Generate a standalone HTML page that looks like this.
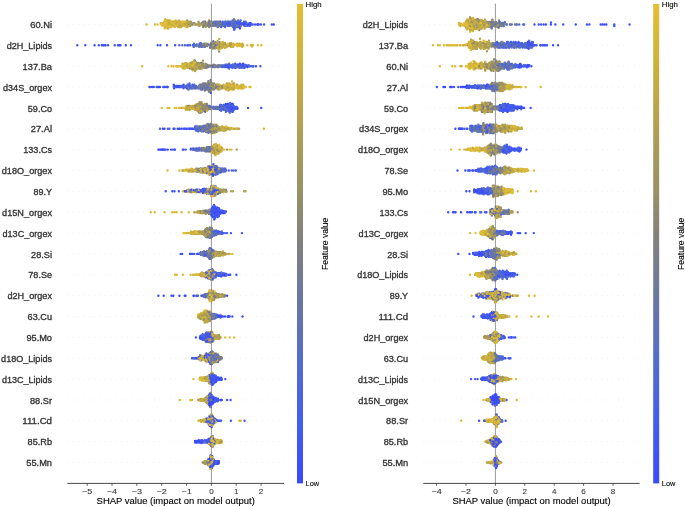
<!DOCTYPE html>
<html><head><meta charset="utf-8"><style>
html,body{margin:0;padding:0;background:#fff;width:685px;height:507px;overflow:hidden}
svg{display:block;will-change:transform}
text{font-family:"Liberation Sans",sans-serif}
</style></head><body>
<svg width="685" height="507" viewBox="0 0 685 507">
<line x1="67.4" x2="284.0" y1="24.46" y2="24.46" stroke="#d6d6d6" stroke-width="0.5" stroke-dasharray="0.8 4.6"/>
<line x1="67.4" x2="284.0" y1="45.32" y2="45.32" stroke="#d6d6d6" stroke-width="0.5" stroke-dasharray="0.8 4.6"/>
<line x1="67.4" x2="284.0" y1="66.18" y2="66.18" stroke="#d6d6d6" stroke-width="0.5" stroke-dasharray="0.8 4.6"/>
<line x1="67.4" x2="284.0" y1="87.04" y2="87.04" stroke="#d6d6d6" stroke-width="0.5" stroke-dasharray="0.8 4.6"/>
<line x1="67.4" x2="284.0" y1="107.90" y2="107.90" stroke="#d6d6d6" stroke-width="0.5" stroke-dasharray="0.8 4.6"/>
<line x1="67.4" x2="284.0" y1="128.77" y2="128.77" stroke="#d6d6d6" stroke-width="0.5" stroke-dasharray="0.8 4.6"/>
<line x1="67.4" x2="284.0" y1="149.63" y2="149.63" stroke="#d6d6d6" stroke-width="0.5" stroke-dasharray="0.8 4.6"/>
<line x1="67.4" x2="284.0" y1="170.49" y2="170.49" stroke="#d6d6d6" stroke-width="0.5" stroke-dasharray="0.8 4.6"/>
<line x1="67.4" x2="284.0" y1="191.35" y2="191.35" stroke="#d6d6d6" stroke-width="0.5" stroke-dasharray="0.8 4.6"/>
<line x1="67.4" x2="284.0" y1="212.21" y2="212.21" stroke="#d6d6d6" stroke-width="0.5" stroke-dasharray="0.8 4.6"/>
<line x1="67.4" x2="284.0" y1="233.07" y2="233.07" stroke="#d6d6d6" stroke-width="0.5" stroke-dasharray="0.8 4.6"/>
<line x1="67.4" x2="284.0" y1="253.93" y2="253.93" stroke="#d6d6d6" stroke-width="0.5" stroke-dasharray="0.8 4.6"/>
<line x1="67.4" x2="284.0" y1="274.79" y2="274.79" stroke="#d6d6d6" stroke-width="0.5" stroke-dasharray="0.8 4.6"/>
<line x1="67.4" x2="284.0" y1="295.65" y2="295.65" stroke="#d6d6d6" stroke-width="0.5" stroke-dasharray="0.8 4.6"/>
<line x1="67.4" x2="284.0" y1="316.51" y2="316.51" stroke="#d6d6d6" stroke-width="0.5" stroke-dasharray="0.8 4.6"/>
<line x1="67.4" x2="284.0" y1="337.37" y2="337.37" stroke="#d6d6d6" stroke-width="0.5" stroke-dasharray="0.8 4.6"/>
<line x1="67.4" x2="284.0" y1="358.23" y2="358.23" stroke="#d6d6d6" stroke-width="0.5" stroke-dasharray="0.8 4.6"/>
<line x1="67.4" x2="284.0" y1="379.10" y2="379.10" stroke="#d6d6d6" stroke-width="0.5" stroke-dasharray="0.8 4.6"/>
<line x1="67.4" x2="284.0" y1="399.96" y2="399.96" stroke="#d6d6d6" stroke-width="0.5" stroke-dasharray="0.8 4.6"/>
<line x1="67.4" x2="284.0" y1="420.82" y2="420.82" stroke="#d6d6d6" stroke-width="0.5" stroke-dasharray="0.8 4.6"/>
<line x1="67.4" x2="284.0" y1="441.68" y2="441.68" stroke="#d6d6d6" stroke-width="0.5" stroke-dasharray="0.8 4.6"/>
<line x1="67.4" x2="284.0" y1="462.54" y2="462.54" stroke="#d6d6d6" stroke-width="0.5" stroke-dasharray="0.8 4.6"/>
<line x1="211.4" x2="211.4" y1="3.6" y2="483.4" stroke="#999999" stroke-width="1"/>
<g stroke-width="2.4" stroke-linecap="round" fill="none">
<path stroke="#6c77a0" d="M234.0 19.2h0M214.1 21.8h0M234.2 28.4h0"/>
<path stroke="#e4be32" d="M167.9 24.5h0M184.3 24.5h0M169.1 20.5h0M173.8 21.8h0M170.6 25.8h0M163.9 23.1h0M162.0 25.8h0"/>
<path stroke="#dcba35" d="M164.7 28.4h0M177.8 27.1h0M181.8 23.1h0M170.5 24.5h0M168.4 28.4h0M184.9 21.8h0M186.1 21.8h0M187.3 24.5h0M162.4 23.1h0"/>
<path stroke="#747b92" d="M214.5 25.8h0M212.4 24.5h0M218.5 23.1h0M220.4 21.8h0M209.1 21.8h0M212.2 23.1h0M228.4 23.1h0M217.1 24.5h0"/>
<path stroke="#6474ae" d="M218.1 25.8h0M219.8 25.8h0M231.6 25.8h0"/>
<path stroke="#a09560" d="M192.7 24.5h0M187.2 20.5h0M190.8 21.8h0M198.7 23.1h0M204.4 23.1h0"/>
<path stroke="#ccb13d" d="M167.4 27.1h0M165.3 19.2h0M166.4 24.5h0M171.4 27.1h0M178.2 25.8h0M183.0 21.8h0M187.7 23.1h0M160.7 23.1h0"/>
<path stroke="#4862e4" d="M239.9 25.8h0M233.7 25.8h0M216.1 25.8h0M237.5 24.5h0M234.2 29.7h0"/>
<path stroke="#5c70bc" d="M229.4 21.8h0M222.7 25.8h0M217.9 27.1h0M219.1 24.5h0"/>
<path stroke="#979067" d="M178.4 24.5h0"/>
<path stroke="#3a4afa" d="M257.9 24.5h0M249.7 25.8h0"/>
<path stroke="#4e68d7" d="M229.9 25.8h0M240.2 27.1h0M230.9 21.8h0M233.5 27.1h0"/>
<path stroke="#b29f52" d="M189.9 23.1h0M167.9 21.8h0M186.9 23.1h0M182.8 25.8h0"/>
<path stroke="#a99a59" d="M189.1 23.1h0M205.6 27.1h0M179.4 27.1h0M207.1 23.1h0"/>
<path stroke="#d4b639" d="M174.8 23.1h0"/>
<path stroke="#4057f4" d="M238.5 27.1h0M221.8 24.5h0"/>
<path stroke="#546dca" d="M223.1 25.8h0M217.8 24.5h0M225.1 25.8h0M223.8 24.5h0M228.2 24.5h0M237.0 25.8h0M220.8 24.5h0"/>
<path stroke="#7c7e85" d="M216.9 23.1h0M215.4 23.1h0M213.6 25.8h0M221.2 25.8h0M208.7 21.8h0"/>
<path stroke="#c3ab44" d="M204.5 21.8h0M167.8 20.5h0M178.8 20.5h0M176.2 24.5h0M179.5 23.1h0M182.1 25.8h0"/>
<path stroke="#435df0" d="M239.6 21.8h0M243.1 24.5h0M248.4 24.5h0M241.2 24.5h0M237.3 27.1h0M244.4 25.8h0M244.2 21.8h0M221.2 27.1h0"/>
<path stroke="#bba54b" d="M172.8 21.8h0M187.8 21.8h0"/>
<path stroke="#8e8970" d="M185.3 24.5h0M193.4 23.1h0M209.1 20.5h0M205.2 25.8h0M207.3 25.8h0"/>
<path stroke="#858379" d="M212.7 25.8h0M205.4 23.1h0"/>
<path stroke="#5c70bc" d="M228.7 25.8h0M238.4 21.8h0M217.8 27.1h0M227.7 25.8h0"/>
<path stroke="#4e68d7" d="M250.9 23.1h0M214.5 23.1h0M234.5 21.8h0M231.1 23.1h0M244.4 23.1h0M238.4 25.8h0"/>
<path stroke="#4862e4" d="M252.8 24.5h0M239.6 23.1h0M220.0 21.8h0M245.6 21.8h0M246.0 24.5h0M234.1 20.5h0"/>
<path stroke="#bba54b" d="M171.3 24.5h0M177.1 21.8h0M194.6 24.5h0M173.8 25.8h0M185.0 25.8h0"/>
<path stroke="#546dca" d="M231.8 24.5h0M228.3 21.8h0M232.7 20.5h0M213.4 23.1h0M215.5 24.5h0M233.5 21.8h0"/>
<path stroke="#435df0" d="M242.3 23.1h0M225.1 27.1h0M235.4 27.1h0M234.7 28.4h0M240.6 20.5h0M229.6 23.1h0"/>
<path stroke="#8e8970" d="M210.2 21.8h0M200.2 24.5h0"/>
<path stroke="#b29f52" d="M180.0 21.8h0"/>
<path stroke="#a99a59" d="M196.8 24.5h0"/>
<path stroke="#7c7e85" d="M225.7 21.8h0M205.3 21.8h0"/>
<path stroke="#d4b639" d="M164.4 21.8h0M175.7 20.5h0M177.5 23.1h0M161.9 24.5h0M184.1 25.8h0M167.1 23.1h0"/>
<path stroke="#a09560" d="M206.7 24.5h0"/>
<path stroke="#dcba35" d="M146.6 24.5h0M178.6 21.8h0M182.2 21.8h0M170.6 27.1h0M167.8 25.8h0M171.0 25.8h0"/>
<path stroke="#6474ae" d="M238.6 24.5h0M218.2 21.8h0M225.8 23.1h0M234.9 24.5h0M215.6 21.8h0"/>
<path stroke="#ccb13d" d="M174.8 21.8h0M168.7 27.1h0M174.7 27.1h0M175.0 25.8h0M166.9 20.5h0M164.9 27.1h0M187.5 27.1h0M179.3 25.8h0"/>
<path stroke="#c3ab44" d="M188.4 24.5h0M164.6 21.8h0M172.0 24.5h0"/>
<path stroke="#6c77a0" d="M201.6 23.1h0"/>
<path stroke="#3a4afa" d="M244.5 23.1h0M249.8 23.1h0M227.4 24.5h0M243.8 24.5h0"/>
<path stroke="#858379" d="M203.2 24.5h0M204.5 24.5h0M209.1 27.1h0M210.8 25.8h0M217.8 25.8h0"/>
<path stroke="#979067" d="M206.1 24.5h0M189.2 24.5h0M209.5 24.5h0M203.0 27.1h0"/>
<path stroke="#e4be32" d="M174.3 23.1h0M169.1 23.1h0M161.4 24.5h0M172.0 23.1h0M183.0 23.1h0M164.6 23.1h0M166.3 21.8h0M165.1 20.5h0M170.5 20.5h0M180.9 24.5h0"/>
<path stroke="#4057f4" d="M240.8 23.1h0M222.3 23.1h0M222.7 21.8h0M233.0 27.1h0"/>
<path stroke="#3d50f7" d="M264.1 24.5h0M260.9 24.5h0M236.3 21.8h0M257.2 24.5h0M245.3 24.5h0"/>
<path stroke="#747b92" d="M209.3 25.8h0M219.8 23.1h0M236.1 24.5h0M226.3 24.5h0"/>
<path stroke="#a99a59" d="M189.7 25.8h0M195.8 24.5h0M180.6 25.8h0M199.6 25.8h0M198.5 21.8h0M198.8 23.1h0"/>
<path stroke="#3a4afa" d="M237.3 23.1h0M255.0 24.5h0M248.1 24.5h0M240.0 24.5h0M250.0 24.5h0"/>
<path stroke="#858379" d="M232.1 24.5h0M203.1 25.8h0M208.5 25.8h0M208.8 23.1h0M191.8 24.5h0M203.2 21.8h0"/>
<path stroke="#7c7e85" d="M208.5 24.5h0M234.7 20.5h0"/>
<path stroke="#979067" d="M198.6 24.5h0M203.8 23.1h0"/>
<path stroke="#6474ae" d="M233.0 25.8h0M216.9 21.8h0M215.1 24.5h0"/>
<path stroke="#3d50f7" d="M273.8 24.5h0M258.7 24.5h0M271.8 24.5h0M240.0 28.4h0M249.5 23.1h0"/>
<path stroke="#747b92" d="M221.6 23.1h0M236.4 25.8h0M210.6 24.5h0M213.4 24.5h0M211.6 21.8h0"/>
<path stroke="#5c70bc" d="M232.0 21.8h0M232.6 23.1h0M209.4 23.1h0"/>
<path stroke="#6c77a0" d="M240.9 25.8h0M236.6 27.1h0M238.2 20.5h0"/>
<path stroke="#4057f4" d="M251.4 24.5h0M249.2 25.8h0M247.0 25.8h0M227.2 23.1h0M230.1 24.5h0"/>
<path stroke="#d4b639" d="M186.2 25.8h0M169.7 23.1h0M180.8 23.1h0M166.8 27.1h0M176.9 25.8h0M182.5 24.5h0"/>
<path stroke="#435df0" d="M236.7 23.1h0M238.9 23.1h0M225.3 24.5h0"/>
<path stroke="#bba54b" d="M186.7 27.1h0M198.7 25.8h0M189.2 21.8h0M201.5 24.5h0"/>
<path stroke="#ccb13d" d="M173.3 25.8h0M178.3 21.8h0M181.3 24.5h0M164.3 25.8h0M167.5 28.4h0M174.5 24.5h0"/>
<path stroke="#4862e4" d="M234.8 23.1h0M237.5 21.8h0M234.9 25.8h0"/>
<path stroke="#4e68d7" d="M227.5 21.8h0M225.0 23.1h0M233.7 24.5h0M223.0 23.1h0M233.7 23.1h0M246.7 23.1h0"/>
<path stroke="#a09560" d="M190.5 25.8h0M194.4 23.1h0M191.3 23.1h0M210.6 23.1h0"/>
<path stroke="#dcba35" d="M174.7 24.5h0M166.7 23.1h0M154.8 24.5h0M169.5 21.8h0M166.6 25.8h0M177.2 24.5h0M172.8 23.1h0M185.3 23.1h0M157.5 24.5h0"/>
<path stroke="#b29f52" d="M187.6 25.8h0M199.3 24.5h0M184.4 23.1h0M190.1 24.5h0M168.8 24.5h0"/>
<path stroke="#8e8970" d="M204.6 25.8h0"/>
<path stroke="#e4be32" d="M185.8 27.1h0M164.8 24.5h0M183.9 21.8h0M165.4 25.8h0M164.2 24.5h0M171.1 21.8h0M169.0 25.8h0"/>
<path stroke="#546dca" d="M225.6 25.8h0M245.6 25.8h0M225.2 21.8h0"/>
<path stroke="#c3ab44" d="M181.2 27.1h0M169.6 21.8h0M176.3 23.1h0M179.7 27.1h0"/>
<path stroke="#435df0" d="M201.4 46.9h0"/>
<path stroke="#747b92" d="M201.3 43.7h0M217.2 42.9h0M208.7 44.5h0"/>
<path stroke="#858379" d="M215.4 42.1h0M210.8 45.3h0M219.8 44.5h0M210.0 47.7h0M212.8 48.5h0M215.2 42.9h0"/>
<path stroke="#a99a59" d="M217.6 41.3h0M215.4 43.7h0M220.1 47.7h0"/>
<path stroke="#e4be32" d="M235.4 44.5h0M253.0 45.3h0M234.0 45.3h0M236.5 44.5h0"/>
<path stroke="#c3ab44" d="M227.8 44.5h0M216.2 44.5h0M232.0 44.5h0M225.7 44.5h0M224.9 42.9h0"/>
<path stroke="#546dca" d="M188.1 45.3h0M194.5 46.1h0M194.2 45.3h0"/>
<path stroke="#b29f52" d="M230.5 44.5h0"/>
<path stroke="#4e68d7" d="M200.7 42.9h0"/>
<path stroke="#d4b639" d="M226.1 46.9h0M221.7 46.9h0M224.5 47.7h0"/>
<path stroke="#ccb13d" d="M238.1 45.3h0M229.0 46.1h0M219.6 42.9h0M230.9 42.9h0M217.6 42.1h0"/>
<path stroke="#6474ae" d="M205.0 46.1h0M206.0 45.3h0M195.2 45.3h0"/>
<path stroke="#bba54b" d="M218.6 44.5h0M221.7 46.1h0M227.5 46.1h0M242.3 43.7h0M215.7 46.9h0"/>
<path stroke="#5c70bc" d="M194.1 44.5h0M182.3 45.3h0"/>
<path stroke="#3d50f7" d="M118.0 45.3h0M77.3 45.3h0M94.6 45.3h0M131.0 45.3h0M85.3 45.3h0M125.8 45.3h0"/>
<path stroke="#dcba35" d="M247.4 45.3h0M218.4 47.7h0M239.0 43.7h0"/>
<path stroke="#7c7e85" d="M219.7 42.1h0M217.1 46.1h0"/>
<path stroke="#6c77a0" d="M206.6 43.7h0M204.2 45.3h0"/>
<path stroke="#8e8970" d="M216.1 47.7h0M211.3 42.9h0M206.0 44.5h0"/>
<path stroke="#4862e4" d="M190.0 45.3h0M202.5 46.1h0M184.9 45.3h0M179.3 45.3h0"/>
<path stroke="#a99a59" d="M205.5 43.7h0M229.5 43.7h0M228.8 44.5h0"/>
<path stroke="#e4be32" d="M238.9 44.5h0M221.3 44.5h0"/>
<path stroke="#7c7e85" d="M222.4 43.7h0M204.1 44.5h0"/>
<path stroke="#b29f52" d="M226.0 46.1h0M218.5 48.5h0M219.2 45.3h0"/>
<path stroke="#858379" d="M211.2 46.1h0"/>
<path stroke="#6c77a0" d="M207.9 44.5h0"/>
<path stroke="#bba54b" d="M243.2 45.3h0M223.0 42.9h0M222.8 42.1h0M218.4 43.7h0M223.3 44.5h0M226.2 45.3h0M219.2 39.1h0"/>
<path stroke="#979067" d="M206.7 45.3h0"/>
<path stroke="#4e68d7" d="M199.5 43.7h0M196.8 46.1h0M194.0 43.7h0"/>
<path stroke="#3d50f7" d="M101.9 45.3h0M104.2 45.3h0M98.8 45.3h0M105.5 45.3h0M175.2 45.3h0M108.0 45.3h0M167.0 45.3h0M103.0 45.3h0M157.7 45.3h0M120.5 45.3h0"/>
<path stroke="#546dca" d="M211.0 43.7h0"/>
<path stroke="#5c70bc" d="M200.5 44.5h0"/>
<path stroke="#d4b639" d="M212.3 46.1h0M225.5 47.7h0M239.6 43.7h0M241.5 44.5h0"/>
<path stroke="#747b92" d="M207.3 46.1h0"/>
<path stroke="#8e8970" d="M213.5 43.7h0"/>
<path stroke="#435df0" d="M187.3 45.3h0M192.8 45.3h0"/>
<path stroke="#ccb13d" d="M226.6 46.9h0M231.0 46.9h0"/>
<path stroke="#dcba35" d="M221.2 42.9h0M261.4 45.3h0M252.0 46.5h0"/>
<path stroke="#a09560" d="M212.1 45.3h0M213.9 43.7h0M212.7 44.5h0"/>
<path stroke="#c3ab44" d="M231.5 46.1h0M233.4 43.7h0M251.0 45.3h0M237.1 43.7h0M223.7 46.1h0M233.3 46.1h0M226.9 45.3h0"/>
<path stroke="#a09560" d="M212.5 42.1h0M215.0 48.5h0M225.0 43.7h0M212.6 42.9h0"/>
<path stroke="#7c7e85" d="M209.8 45.3h0M203.9 43.7h0"/>
<path stroke="#979067" d="M219.2 51.5h0M217.7 45.3h0M219.6 46.9h0"/>
<path stroke="#a99a59" d="M230.4 43.7h0M212.2 46.9h0M219.2 46.1h0M219.4 43.7h0M218.3 46.1h0"/>
<path stroke="#b29f52" d="M230.1 45.3h0M217.6 42.9h0M213.8 46.9h0M229.4 45.3h0M223.4 45.3h0"/>
<path stroke="#8e8970" d="M215.1 45.3h0M214.9 46.1h0M201.0 46.1h0M202.4 44.5h0M214.3 47.7h0"/>
<path stroke="#6474ae" d="M215.6 45.3h0M201.3 45.3h0M204.8 46.9h0"/>
<path stroke="#546dca" d="M200.0 46.1h0M196.8 44.5h0M193.7 46.9h0M199.1 45.3h0"/>
<path stroke="#3d50f7" d="M119.3 45.3h0M160.4 45.3h0M114.7 45.3h0"/>
<path stroke="#e4be32" d="M227.8 43.7h0M242.2 46.9h0M238.0 46.1h0"/>
<path stroke="#858379" d="M213.0 47.7h0M214.1 44.5h0"/>
<path stroke="#c3ab44" d="M218.7 49.3h0M242.1 46.1h0M242.8 45.3h0M222.2 45.3h0"/>
<path stroke="#bba54b" d="M223.6 43.7h0M222.1 47.7h0"/>
<path stroke="#dcba35" d="M240.2 44.5h0M237.1 45.3h0M258.1 45.3h0M239.9 46.1h0"/>
<path stroke="#6c77a0" d="M213.3 41.3h0M210.5 46.9h0M202.6 46.9h0M199.1 46.9h0"/>
<path stroke="#ccb13d" d="M224.2 46.9h0M217.5 46.9h0M232.9 46.9h0"/>
<path stroke="#d4b639" d="M222.6 42.1h0M232.9 45.3h0M237.4 46.1h0M241.0 45.3h0M220.9 48.5h0"/>
<path stroke="#747b92" d="M211.3 44.5h0"/>
<path stroke="#546dca" d="M246.0 66.2h0"/>
<path stroke="#c3ab44" d="M194.4 63.8h0M193.0 65.4h0M196.0 63.0h0M187.9 64.6h0"/>
<path stroke="#3a4afa" d="M235.5 64.6h0M244.5 67.8h0M246.3 66.2h0M243.0 63.8h0M243.9 67.0h0M234.8 67.0h0M246.4 65.4h0M252.8 66.2h0M247.7 66.2h0M247.6 67.0h0M231.6 65.4h0"/>
<path stroke="#4057f4" d="M230.5 65.4h0M222.6 65.4h0M234.4 65.4h0M228.4 65.4h0M231.1 66.2h0M225.6 65.4h0M233.0 67.0h0M240.1 64.6h0M233.1 65.4h0"/>
<path stroke="#a99a59" d="M187.9 67.8h0M204.1 67.0h0M193.8 69.4h0"/>
<path stroke="#d4b639" d="M189.4 67.0h0M193.8 67.0h0M183.4 68.6h0M195.4 67.0h0M192.2 66.2h0M185.2 67.0h0M184.0 67.0h0M182.7 67.0h0M182.4 65.4h0"/>
<path stroke="#ccb13d" d="M195.8 63.8h0M187.2 65.4h0M192.0 63.8h0"/>
<path stroke="#bba54b" d="M194.4 60.2h0M183.6 66.2h0M186.7 64.6h0M195.7 62.2h0M190.4 63.8h0"/>
<path stroke="#8e8970" d="M196.7 65.4h0M201.1 66.2h0"/>
<path stroke="#5c70bc" d="M239.3 67.0h0M228.5 67.8h0"/>
<path stroke="#e4be32" d="M177.2 66.2h0M185.9 67.0h0M196.4 65.4h0M185.0 64.6h0M193.6 67.8h0M176.2 66.2h0M195.9 67.8h0M185.8 65.4h0M185.9 67.8h0"/>
<path stroke="#435df0" d="M229.3 65.4h0M239.5 67.8h0M218.7 65.4h0M234.9 67.8h0"/>
<path stroke="#7c7e85" d="M194.2 64.6h0"/>
<path stroke="#4862e4" d="M240.5 66.2h0M250.0 66.2h0M220.3 66.2h0M235.1 63.8h0"/>
<path stroke="#747b92" d="M229.2 63.8h0M214.2 65.4h0M204.1 66.2h0M218.5 67.0h0"/>
<path stroke="#b29f52" d="M184.4 65.4h0M197.0 67.0h0M190.5 66.2h0M200.6 67.0h0M190.3 63.0h0M200.8 63.0h0"/>
<path stroke="#979067" d="M196.1 69.4h0M191.9 67.0h0M202.5 66.2h0M205.6 64.6h0"/>
<path stroke="#3d50f7" d="M230.4 66.2h0M241.1 65.4h0M241.0 67.0h0M260.4 66.2h0M243.5 64.6h0"/>
<path stroke="#858379" d="M221.2 67.0h0M210.7 66.2h0"/>
<path stroke="#6c77a0" d="M206.5 67.8h0M212.7 65.4h0M208.1 67.0h0"/>
<path stroke="#4e68d7" d="M244.5 65.4h0M243.8 66.2h0M235.6 66.2h0M217.6 67.0h0"/>
<path stroke="#a09560" d="M196.9 68.6h0M197.5 66.2h0M198.6 63.0h0M203.4 65.4h0"/>
<path stroke="#dcba35" d="M177.2 66.2h0M171.5 66.2h0M198.6 68.6h0"/>
<path stroke="#6474ae" d="M237.0 65.4h0M201.7 63.0h0"/>
<path stroke="#5c70bc" d="M220.8 65.4h0M223.7 66.2h0"/>
<path stroke="#4e68d7" d="M243.2 67.0h0M232.9 66.2h0M235.7 64.6h0"/>
<path stroke="#747b92" d="M204.8 67.0h0M214.4 67.0h0M241.8 66.2h0"/>
<path stroke="#4057f4" d="M237.9 64.6h0M222.6 67.0h0M236.7 67.0h0"/>
<path stroke="#d4b639" d="M188.5 67.8h0M184.3 64.6h0M187.5 67.0h0M193.5 66.2h0M195.8 66.2h0M186.8 66.2h0"/>
<path stroke="#7c7e85" d="M208.3 66.2h0M218.4 66.2h0M197.8 63.8h0M211.6 65.4h0M200.9 63.8h0M206.9 65.4h0"/>
<path stroke="#546dca" d="M229.2 68.6h0M215.6 67.0h0M217.6 66.2h0M226.7 65.4h0M242.3 65.4h0"/>
<path stroke="#3a4afa" d="M243.0 65.4h0M225.5 64.6h0"/>
<path stroke="#e4be32" d="M183.0 64.6h0M189.4 63.8h0M184.0 63.8h0M190.2 67.0h0"/>
<path stroke="#8e8970" d="M204.7 65.4h0M205.3 65.4h0M206.9 64.6h0M208.5 65.4h0M199.6 68.6h0"/>
<path stroke="#dcba35" d="M186.2 65.4h0M194.7 70.2h0"/>
<path stroke="#4862e4" d="M228.8 64.6h0M225.8 66.2h0M241.2 64.6h0M227.9 66.2h0"/>
<path stroke="#c3ab44" d="M197.9 67.0h0M193.5 63.0h0M190.9 66.2h0M182.5 63.8h0M194.3 66.2h0M185.0 66.2h0"/>
<path stroke="#a99a59" d="M190.2 64.6h0M194.7 68.6h0M203.0 60.7h0M193.4 64.6h0M191.4 68.6h0"/>
<path stroke="#b29f52" d="M194.2 65.4h0M201.0 65.4h0M202.4 63.8h0M185.4 63.0h0M195.9 68.6h0"/>
<path stroke="#435df0" d="M238.7 66.2h0M227.1 67.0h0M235.6 65.4h0M237.8 64.6h0M253.5 66.2h0M232.4 67.8h0"/>
<path stroke="#bba54b" d="M187.3 66.2h0M194.0 63.8h0M198.1 66.2h0M195.6 64.6h0M199.6 66.2h0"/>
<path stroke="#a09560" d="M203.1 64.6h0"/>
<path stroke="#858379" d="M203.2 63.8h0M213.8 64.6h0M214.0 67.0h0M205.2 67.8h0M196.7 63.0h0M215.9 66.2h0"/>
<path stroke="#6c77a0" d="M215.0 65.4h0M219.2 66.2h0M215.4 66.2h0M207.6 65.4h0"/>
<path stroke="#3d50f7" d="M237.6 66.2h0M256.0 66.2h0M248.1 65.4h0M242.5 67.0h0"/>
<path stroke="#979067" d="M189.9 68.6h0M202.0 67.8h0M201.0 67.8h0M205.2 66.2h0M202.1 65.4h0M194.7 67.8h0M209.8 65.4h0"/>
<path stroke="#ccb13d" d="M191.7 64.6h0M191.0 67.8h0M189.8 65.4h0M201.1 64.6h0M190.7 63.8h0M192.7 70.2h0"/>
<path stroke="#6c77a0" d="M225.3 67.0h0"/>
<path stroke="#4e68d7" d="M234.0 65.4h0M230.9 67.0h0M249.1 65.4h0M249.5 66.2h0M244.8 64.6h0M233.7 66.2h0M237.6 67.0h0"/>
<path stroke="#ccb13d" d="M192.1 62.2h0M193.6 62.2h0M192.8 68.6h0M184.9 68.6h0M189.0 65.4h0"/>
<path stroke="#7c7e85" d="M217.4 65.4h0M206.2 66.2h0"/>
<path stroke="#b29f52" d="M199.3 65.4h0M195.1 71.0h0M204.5 64.6h0M202.2 66.2h0M186.4 63.8h0"/>
<path stroke="#8e8970" d="M190.0 67.8h0M206.1 67.0h0M214.1 66.2h0M196.7 64.6h0"/>
<path stroke="#747b92" d="M219.6 65.4h0M226.6 64.6h0"/>
<path stroke="#858379" d="M210.5 66.2h0M209.0 66.2h0M215.6 65.4h0M198.9 67.0h0"/>
<path stroke="#d4b639" d="M190.8 67.0h0M194.2 61.4h0M195.0 62.2h0"/>
<path stroke="#979067" d="M205.7 63.8h0M199.1 63.8h0M201.8 67.0h0M201.8 64.6h0M194.9 60.6h0M199.5 67.8h0M200.8 68.6h0M203.5 67.0h0"/>
<path stroke="#6474ae" d="M238.2 67.0h0M224.1 65.4h0"/>
<path stroke="#435df0" d="M252.0 66.2h0M233.9 67.0h0M227.7 64.6h0M229.5 67.0h0M244.3 66.2h0M235.6 67.8h0"/>
<path stroke="#3a4afa" d="M239.8 63.8h0M239.0 65.4h0M227.7 67.0h0"/>
<path stroke="#4057f4" d="M226.3 66.2h0M224.8 66.2h0M232.9 64.6h0M239.2 65.4h0"/>
<path stroke="#c3ab44" d="M182.6 67.8h0M202.2 68.6h0M199.7 64.6h0M191.7 65.4h0M194.4 67.0h0M184.2 67.8h0M189.2 66.2h0"/>
<path stroke="#a99a59" d="M198.9 64.6h0M191.5 63.0h0M192.7 63.0h0M196.7 63.8h0M191.9 67.8h0"/>
<path stroke="#5c70bc" d="M233.2 64.6h0M212.3 66.2h0M243.4 67.8h0"/>
<path stroke="#4862e4" d="M229.2 66.2h0M240.1 66.2h0M224.3 67.0h0M245.8 65.4h0M241.4 67.8h0M221.9 66.2h0"/>
<path stroke="#e4be32" d="M192.8 64.6h0M188.3 64.6h0M194.5 63.0h0M182.3 66.2h0M180.6 66.2h0M178.8 66.2h0"/>
<path stroke="#bba54b" d="M193.5 68.6h0M198.3 65.4h0M187.4 63.8h0M195.3 69.4h0M197.1 67.8h0"/>
<path stroke="#dcba35" d="M168.3 66.2h0M181.3 66.2h0M178.0 66.2h0M173.5 66.2h0M192.8 65.4h0M142.1 66.2h0M185.3 63.8h0M184.7 67.8h0"/>
<path stroke="#a09560" d="M203.1 67.8h0M198.8 67.8h0M192.5 69.4h0"/>
<path stroke="#546dca" d="M235.1 66.2h0M212.7 67.0h0M222.4 65.4h0"/>
<path stroke="#d4b639" d="M227.8 83.5h0M241.6 84.7h0M228.9 87.0h0M228.7 85.9h0M243.2 84.7h0M238.4 88.2h0"/>
<path stroke="#6c77a0" d="M211.8 85.9h0M187.0 85.9h0M204.4 84.7h0"/>
<path stroke="#bba54b" d="M233.8 89.4h0M236.8 87.0h0M233.0 87.0h0M209.3 88.2h0M219.3 88.2h0M226.1 89.4h0M226.3 87.0h0M224.0 87.0h0M228.3 90.6h0"/>
<path stroke="#3a4afa" d="M174.0 85.9h0M174.1 88.2h0"/>
<path stroke="#8e8970" d="M214.0 83.5h0M204.7 88.2h0M221.6 87.0h0M217.6 84.7h0M210.6 90.6h0M205.6 83.5h0M218.5 84.7h0M216.2 84.7h0"/>
<path stroke="#435df0" d="M183.5 88.2h0M163.2 87.0h0M180.0 85.9h0M175.4 87.0h0M191.9 87.0h0"/>
<path stroke="#6474ae" d="M208.4 81.2h0M199.2 85.9h0"/>
<path stroke="#ccb13d" d="M242.1 88.2h0M243.5 88.2h0M242.7 85.9h0M229.9 85.9h0M218.4 87.0h0"/>
<path stroke="#b29f52" d="M227.8 84.7h0M238.8 85.9h0M232.7 84.7h0M228.7 84.7h0M226.8 83.5h0"/>
<path stroke="#4862e4" d="M181.8 85.9h0M149.5 87.0h0M195.0 85.9h0M188.6 85.9h0"/>
<path stroke="#4057f4" d="M176.4 85.9h0"/>
<path stroke="#7c7e85" d="M211.9 84.7h0M216.7 85.9h0"/>
<path stroke="#858379" d="M204.0 85.9h0M202.8 87.0h0M210.7 89.4h0M215.6 88.2h0M201.9 89.4h0M210.7 80.0h0M210.3 91.7h0M202.2 85.9h0"/>
<path stroke="#979067" d="M210.9 87.0h0M213.0 87.0h0"/>
<path stroke="#3d50f7" d="M150.4 87.0h0M183.5 84.7h0M166.1 87.0h0M183.5 87.0h0"/>
<path stroke="#e4be32" d="M226.9 87.0h0M226.5 89.4h0M225.8 85.9h0M238.1 85.9h0M231.9 89.4h0"/>
<path stroke="#c3ab44" d="M234.2 83.5h0M225.6 88.2h0M228.9 89.4h0M231.0 85.9h0"/>
<path stroke="#5c70bc" d="M203.9 84.7h0M195.0 87.0h0M211.1 82.4h0M217.8 87.0h0"/>
<path stroke="#a99a59" d="M227.5 88.2h0M211.7 89.4h0"/>
<path stroke="#546dca" d="M197.2 87.0h0M210.9 83.5h0M195.2 88.2h0M191.5 88.2h0M189.7 87.0h0M181.2 85.9h0"/>
<path stroke="#4e68d7" d="M213.4 85.9h0M192.9 87.0h0M185.3 87.0h0"/>
<path stroke="#747b92" d="M188.8 88.2h0M207.4 89.4h0"/>
<path stroke="#a09560" d="M219.4 89.4h0M209.4 87.0h0"/>
<path stroke="#dcba35" d="M235.0 87.0h0M250.5 87.0h0M227.7 89.4h0M228.1 85.9h0"/>
<path stroke="#4862e4" d="M188.8 85.9h0M198.4 88.2h0M186.8 87.0h0"/>
<path stroke="#7c7e85" d="M202.4 84.7h0M205.0 87.0h0M198.7 87.0h0"/>
<path stroke="#b29f52" d="M208.6 88.2h0M218.3 89.4h0M216.9 88.2h0"/>
<path stroke="#4e68d7" d="M213.8 89.4h0M157.1 87.0h0M188.0 84.7h0"/>
<path stroke="#d4b639" d="M243.8 85.9h0M233.8 88.2h0M227.1 85.9h0M240.1 85.9h0M229.8 88.2h0"/>
<path stroke="#435df0" d="M192.0 88.2h0M156.6 87.0h0M188.2 88.2h0M202.4 88.2h0M186.8 88.2h0M205.7 87.0h0"/>
<path stroke="#dcba35" d="M233.7 85.9h0M232.1 84.7h0"/>
<path stroke="#c3ab44" d="M234.3 84.7h0M241.9 87.0h0M221.1 85.9h0M229.7 83.5h0M220.7 87.0h0M225.1 87.0h0M241.2 85.9h0M228.5 88.2h0"/>
<path stroke="#5c70bc" d="M206.3 87.0h0M181.8 87.0h0M217.7 85.9h0M194.3 84.7h0M201.5 85.9h0"/>
<path stroke="#3a4afa" d="M159.9 87.0h0M167.7 87.0h0"/>
<path stroke="#747b92" d="M207.0 85.9h0"/>
<path stroke="#6474ae" d="M208.7 87.0h0M200.5 84.7h0M192.9 88.2h0M199.1 88.2h0M203.3 87.0h0M199.8 84.7h0M198.9 85.9h0M201.1 87.0h0"/>
<path stroke="#bba54b" d="M232.6 87.0h0M219.5 85.9h0"/>
<path stroke="#e4be32" d="M240.4 88.2h0M229.8 84.7h0M249.4 87.0h0M234.9 85.9h0M235.0 88.2h0M245.8 87.0h0"/>
<path stroke="#979067" d="M206.2 84.7h0M203.8 88.2h0M205.9 85.9h0M209.9 83.5h0M205.3 89.4h0"/>
<path stroke="#6c77a0" d="M201.1 88.2h0M205.7 84.7h0M213.1 85.9h0"/>
<path stroke="#a99a59" d="M212.8 89.4h0M208.5 90.6h0M221.2 88.2h0"/>
<path stroke="#ccb13d" d="M225.3 85.9h0M240.1 87.0h0M224.2 88.2h0M230.9 87.0h0M231.4 88.2h0M229.9 89.4h0M239.7 87.0h0M219.9 87.0h0M232.0 81.5h0M232.9 89.4h0M241.4 87.0h0"/>
<path stroke="#8e8970" d="M206.7 89.4h0M213.7 88.2h0M200.1 85.9h0M209.3 90.6h0"/>
<path stroke="#546dca" d="M188.1 89.4h0M190.2 88.2h0M205.1 88.2h0M191.3 87.0h0"/>
<path stroke="#858379" d="M209.9 85.9h0M212.4 88.2h0M209.0 91.7h0M207.2 88.2h0M211.0 80.5h0"/>
<path stroke="#4057f4" d="M182.7 85.9h0M178.3 87.0h0M179.1 87.0h0"/>
<path stroke="#a09560" d="M212.5 84.7h0M222.1 88.2h0M208.7 82.4h0"/>
<path stroke="#7c7e85" d="M188.7 89.4h0M201.4 84.7h0M216.4 87.0h0M207.2 85.9h0M207.7 83.5h0M204.5 83.5h0"/>
<path stroke="#858379" d="M210.9 81.2h0M213.3 84.7h0M219.2 85.9h0M207.5 84.7h0M208.4 83.5h0"/>
<path stroke="#435df0" d="M210.8 92.9h0M193.6 85.9h0M189.9 85.9h0M189.5 84.7h0M192.6 84.7h0"/>
<path stroke="#ccb13d" d="M223.6 85.9h0M223.6 84.7h0M230.4 87.0h0M220.0 88.2h0M226.4 84.7h0"/>
<path stroke="#d4b639" d="M226.8 84.7h0M219.7 84.7h0M237.4 88.2h0M241.5 88.2h0M238.4 87.0h0"/>
<path stroke="#747b92" d="M205.0 90.6h0M203.0 83.5h0M205.0 85.9h0"/>
<path stroke="#6474ae" d="M200.8 89.4h0M211.0 84.7h0M196.6 88.2h0"/>
<path stroke="#3a4afa" d="M173.8 84.7h0M158.7 87.0h0M177.5 85.9h0"/>
<path stroke="#8e8970" d="M199.5 87.0h0M208.8 85.9h0"/>
<path stroke="#a99a59" d="M217.8 88.2h0"/>
<path stroke="#c3ab44" d="M233.5 88.2h0M230.9 84.7h0M234.2 87.0h0M232.9 85.9h0M231.8 88.2h0M229.1 88.2h0M217.2 84.7h0"/>
<path stroke="#b29f52" d="M214.1 87.0h0M227.8 87.0h0"/>
<path stroke="#e4be32" d="M231.8 85.9h0M237.0 85.9h0M243.0 87.0h0M244.1 87.0h0M236.5 87.0h0"/>
<path stroke="#4862e4" d="M192.1 85.9h0M189.7 87.0h0M180.7 87.0h0M186.5 85.9h0M196.4 87.0h0M184.0 87.0h0M176.4 87.0h0M194.7 87.0h0M189.5 83.5h0"/>
<path stroke="#a09560" d="M210.5 85.9h0M212.1 87.0h0M211.6 88.2h0M209.6 84.7h0M212.3 83.5h0"/>
<path stroke="#546dca" d="M191.5 85.9h0M194.8 88.2h0M202.4 89.4h0"/>
<path stroke="#bba54b" d="M233.4 83.5h0M237.1 84.7h0"/>
<path stroke="#4057f4" d="M153.8 87.0h0M179.9 87.0h0M185.8 87.0h0"/>
<path stroke="#dcba35" d="M238.8 88.2h0"/>
<path stroke="#6c77a0" d="M215.8 87.0h0M204.5 89.4h0M187.8 87.0h0M200.5 88.2h0M208.4 89.4h0M200.7 87.0h0M209.2 89.4h0M206.4 88.2h0M208.7 84.7h0"/>
<path stroke="#979067" d="M221.9 85.9h0M215.7 85.9h0"/>
<path stroke="#5c70bc" d="M210.8 88.2h0M196.0 85.9h0M207.4 87.0h0"/>
<path stroke="#4e68d7" d="M194.7 85.9h0M173.7 87.0h0M184.7 85.9h0M187.6 84.7h0"/>
<path stroke="#3d50f7" d="M164.4 87.0h0M178.4 85.9h0M152.1 87.0h0M174.5 85.9h0M177.3 87.0h0M167.2 87.0h0"/>
<path stroke="#b29f52" d="M201.4 105.0h0M199.2 109.8h0M189.4 106.0h0M201.7 108.9h0M202.2 106.9h0"/>
<path stroke="#435df0" d="M230.0 103.1h0M227.6 108.9h0M228.9 108.9h0M229.8 106.0h0M229.6 107.9h0M224.2 109.8h0M221.5 108.9h0"/>
<path stroke="#979067" d="M203.5 108.9h0M198.2 109.8h0"/>
<path stroke="#747b92" d="M215.4 107.9h0M208.7 106.0h0M214.3 107.9h0"/>
<path stroke="#c3ab44" d="M198.5 107.9h0M195.9 105.0h0M200.4 106.0h0"/>
<path stroke="#6c77a0" d="M210.7 106.9h0M208.0 108.9h0M210.8 107.9h0M207.2 108.9h0M215.2 106.9h0"/>
<path stroke="#4862e4" d="M224.7 109.8h0M220.2 105.0h0M229.7 110.8h0M236.2 106.9h0M223.4 107.9h0"/>
<path stroke="#3a4afa" d="M233.9 108.9h0M232.9 106.9h0M232.8 105.0h0M232.6 108.9h0"/>
<path stroke="#546dca" d="M233.6 106.0h0M219.2 106.9h0M230.8 105.0h0M234.8 108.9h0"/>
<path stroke="#6474ae" d="M216.8 106.9h0M226.8 106.0h0M219.6 107.9h0M210.4 108.9h0"/>
<path stroke="#a99a59" d="M199.1 106.0h0M197.5 106.9h0M195.1 109.8h0M203.8 109.8h0M199.4 112.8h0M190.0 108.9h0"/>
<path stroke="#d4b639" d="M186.9 106.9h0M180.9 107.9h0M186.3 107.9h0M187.0 106.0h0"/>
<path stroke="#4e68d7" d="M224.9 106.9h0M228.9 104.0h0M228.6 110.8h0M221.0 106.0h0M227.2 109.8h0M225.9 111.8h0"/>
<path stroke="#e4be32" d="M197.1 107.9h0M194.3 106.9h0M191.5 106.9h0"/>
<path stroke="#ccb13d" d="M188.9 106.9h0M185.8 109.8h0M198.9 106.9h0M198.1 108.9h0M194.7 108.9h0"/>
<path stroke="#858379" d="M208.4 106.9h0M211.8 107.9h0M207.3 106.9h0"/>
<path stroke="#4057f4" d="M225.8 104.0h0M231.1 106.9h0M233.9 106.9h0M235.2 107.9h0M230.2 105.0h0M224.1 106.9h0"/>
<path stroke="#dcba35" d="M180.0 107.9h0M186.6 106.0h0M200.2 108.9h0M167.5 107.9h0M169.3 107.9h0M191.6 107.9h0"/>
<path stroke="#bba54b" d="M197.7 106.9h0M204.0 106.9h0"/>
<path stroke="#5c70bc" d="M225.6 109.8h0M226.1 106.9h0M229.1 107.9h0M219.1 107.9h0"/>
<path stroke="#7c7e85" d="M224.0 107.9h0M209.9 106.9h0M206.6 109.8h0M203.8 110.8h0"/>
<path stroke="#3d50f7" d="M236.5 107.9h0M229.5 111.8h0"/>
<path stroke="#8e8970" d="M201.4 106.0h0M204.9 110.8h0M203.9 106.0h0M201.5 107.9h0M198.1 105.0h0M205.3 105.0h0M196.9 105.0h0"/>
<path stroke="#a09560" d="M196.7 109.8h0M201.2 111.8h0"/>
<path stroke="#6c77a0" d="M206.9 105.0h0M206.2 106.0h0"/>
<path stroke="#979067" d="M196.0 106.0h0M198.7 108.9h0M208.9 108.9h0M205.1 106.0h0"/>
<path stroke="#dcba35" d="M186.9 107.9h0"/>
<path stroke="#e4be32" d="M174.6 107.9h0M193.4 108.9h0"/>
<path stroke="#4057f4" d="M219.8 109.8h0M227.0 106.9h0M220.3 106.9h0M227.3 105.0h0M227.1 107.9h0"/>
<path stroke="#4862e4" d="M223.4 106.0h0M231.4 104.0h0M215.9 107.9h0M231.7 110.8h0M227.5 107.9h0"/>
<path stroke="#435df0" d="M220.0 106.0h0M227.4 110.8h0M233.0 106.0h0M237.2 108.9h0M223.5 105.0h0M224.7 106.0h0M232.3 107.9h0M233.3 107.9h0M228.3 106.9h0"/>
<path stroke="#a09560" d="M205.6 109.8h0M199.2 110.8h0M201.6 104.0h0M203.1 106.9h0M197.7 106.0h0M199.6 102.1h0"/>
<path stroke="#4e68d7" d="M222.8 106.9h0M221.2 107.9h0M227.3 108.9h0M229.3 105.0h0M229.5 104.0h0M221.1 110.8h0M223.8 106.0h0M228.1 109.8h0M221.5 108.9h0M222.0 106.0h0M225.7 107.9h0M226.2 110.8h0M228.4 105.0h0"/>
<path stroke="#bba54b" d="M196.1 107.9h0"/>
<path stroke="#b29f52" d="M186.3 108.9h0M206.5 105.0h0M192.7 107.9h0"/>
<path stroke="#c3ab44" d="M201.3 109.8h0M199.7 109.8h0M200.0 106.9h0M192.5 106.9h0M185.3 107.9h0"/>
<path stroke="#ccb13d" d="M194.0 107.9h0M202.2 104.0h0M198.8 105.0h0M189.6 108.9h0M197.2 110.8h0M187.2 109.8h0"/>
<path stroke="#546dca" d="M205.2 111.8h0M217.0 108.9h0"/>
<path stroke="#5c70bc" d="M213.4 107.9h0M233.9 109.8h0M225.4 108.9h0"/>
<path stroke="#858379" d="M206.9 104.0h0M218.0 107.9h0M207.9 107.9h0M195.8 108.9h0"/>
<path stroke="#7c7e85" d="M198.7 111.8h0"/>
<path stroke="#d4b639" d="M193.8 108.9h0M189.7 106.9h0M195.2 105.0h0M192.1 106.0h0M194.1 106.0h0"/>
<path stroke="#a99a59" d="M204.1 107.9h0M194.7 107.9h0M198.0 110.8h0M200.2 110.8h0"/>
<path stroke="#3d50f7" d="M233.1 109.8h0M232.6 111.8h0M232.7 104.0h0M229.5 106.9h0"/>
<path stroke="#8e8970" d="M206.5 108.9h0M201.8 109.8h0M210.5 107.9h0M200.8 108.9h0M207.7 109.8h0"/>
<path stroke="#747b92" d="M216.9 107.9h0M201.8 107.9h0"/>
<path stroke="#3a4afa" d="M248.0 107.9h0M236.3 107.9h0M230.7 109.8h0M227.5 104.0h0M230.8 106.0h0M231.1 107.9h0"/>
<path stroke="#6474ae" d="M218.1 106.9h0M229.6 109.8h0M213.5 108.9h0M228.1 110.8h0M209.5 106.9h0"/>
<path stroke="#b29f52" d="M201.4 110.8h0M189.9 106.0h0M193.2 106.0h0"/>
<path stroke="#858379" d="M206.0 109.8h0M207.9 106.0h0"/>
<path stroke="#7c7e85" d="M200.7 103.1h0M208.9 107.9h0M203.6 105.0h0M205.2 107.9h0M206.9 107.9h0"/>
<path stroke="#bba54b" d="M195.4 106.9h0M182.0 107.9h0M191.9 107.9h0M202.3 111.8h0M196.0 109.8h0M193.5 106.9h0M199.2 103.1h0"/>
<path stroke="#747b92" d="M228.5 106.0h0M206.9 106.0h0"/>
<path stroke="#e4be32" d="M183.2 107.9h0M176.3 107.9h0M187.8 107.9h0M179.0 107.9h0"/>
<path stroke="#5c70bc" d="M213.3 106.9h0M214.9 108.9h0M225.3 107.9h0M216.2 106.9h0M213.7 106.9h0M229.8 112.8h0M223.9 108.9h0"/>
<path stroke="#6c77a0" d="M211.9 106.9h0"/>
<path stroke="#435df0" d="M236.2 108.9h0M236.6 106.9h0"/>
<path stroke="#c3ab44" d="M197.8 104.0h0M187.8 108.9h0M187.4 108.9h0M202.0 110.8h0M186.4 106.9h0"/>
<path stroke="#4057f4" d="M233.1 110.8h0M227.6 106.0h0M230.8 110.8h0M232.4 111.8h0M221.3 106.9h0M228.5 106.9h0"/>
<path stroke="#dcba35" d="M189.8 107.9h0M189.1 107.9h0M192.2 108.9h0M161.9 107.9h0"/>
<path stroke="#ccb13d" d="M199.2 107.9h0M201.2 106.9h0M200.1 111.8h0M207.1 110.8h0M196.3 106.9h0M197.6 108.9h0"/>
<path stroke="#d4b639" d="M184.6 107.9h0M188.5 106.9h0"/>
<path stroke="#a09560" d="M201.5 102.1h0M200.5 107.9h0M199.9 105.0h0M202.4 106.0h0M204.6 106.9h0M199.0 104.0h0"/>
<path stroke="#a99a59" d="M206.6 107.9h0M189.4 109.8h0M197.5 106.0h0M197.3 104.0h0M204.9 104.0h0"/>
<path stroke="#979067" d="M202.3 105.0h0M199.8 104.0h0M200.7 112.8h0M188.3 106.0h0"/>
<path stroke="#8e8970" d="M195.5 106.0h0M204.5 108.9h0M202.8 106.0h0M202.6 107.9h0M203.4 109.8h0M205.2 108.9h0M206.4 106.9h0"/>
<path stroke="#3a4afa" d="M225.7 105.0h0M229.8 108.9h0"/>
<path stroke="#546dca" d="M231.4 108.9h0M209.6 106.0h0M220.1 108.9h0M232.3 105.0h0M232.2 109.8h0M231.6 106.0h0"/>
<path stroke="#6474ae" d="M218.7 108.9h0M221.6 106.9h0"/>
<path stroke="#3d50f7" d="M232.1 104.0h0M231.7 106.9h0M231.6 108.9h0M234.3 107.9h0M237.5 107.9h0M261.2 107.9h0"/>
<path stroke="#4862e4" d="M234.6 106.9h0M228.7 109.8h0M226.0 106.0h0"/>
<path stroke="#4e68d7" d="M223.2 109.8h0M221.0 105.0h0M221.4 109.8h0M225.7 108.9h0M222.5 107.9h0M223.2 108.9h0"/>
<path stroke="#c3ab44" d="M213.2 126.4h0M216.6 124.8h0M214.7 125.6h0M216.3 131.2h0M208.5 132.0h0M211.5 130.4h0M216.5 128.0h0M225.1 127.2h0M216.0 128.8h0M219.0 128.8h0M225.4 130.4h0"/>
<path stroke="#3d50f7" d="M164.5 128.8h0M189.7 128.8h0M200.2 128.0h0"/>
<path stroke="#e4be32" d="M227.8 128.0h0"/>
<path stroke="#435df0" d="M160.0 128.8h0M193.8 128.8h0"/>
<path stroke="#6474ae" d="M199.3 129.6h0M206.6 128.0h0M204.6 127.2h0M203.0 131.2h0M202.1 128.8h0M203.5 127.2h0M207.8 124.0h0"/>
<path stroke="#ccb13d" d="M224.5 129.6h0M216.9 127.2h0M211.9 131.2h0"/>
<path stroke="#546dca" d="M197.4 128.0h0M196.4 126.4h0M208.4 132.8h0M201.0 129.6h0"/>
<path stroke="#5c70bc" d="M205.1 129.6h0M206.7 127.2h0"/>
<path stroke="#a09560" d="M223.1 130.4h0"/>
<path stroke="#4e68d7" d="M199.3 126.4h0M196.4 128.0h0M200.5 127.2h0M196.4 129.6h0M201.4 130.4h0M208.7 132.0h0"/>
<path stroke="#a99a59" d="M220.9 128.0h0M232.3 128.8h0M206.2 129.6h0M206.7 124.8h0"/>
<path stroke="#4862e4" d="M198.9 130.4h0M174.6 128.8h0"/>
<path stroke="#747b92" d="M203.2 127.2h0M195.7 127.2h0M202.8 126.4h0"/>
<path stroke="#858379" d="M208.0 130.4h0M209.2 126.4h0M204.7 130.4h0"/>
<path stroke="#b29f52" d="M219.8 130.4h0M217.8 128.0h0M208.1 125.6h0M211.7 128.0h0M217.9 130.4h0M213.7 131.2h0"/>
<path stroke="#6c77a0" d="M213.1 125.6h0M195.6 128.0h0"/>
<path stroke="#dcba35" d="M221.3 128.8h0"/>
<path stroke="#7c7e85" d="M203.5 128.8h0M207.7 131.2h0M213.6 129.6h0M209.8 130.4h0M202.9 128.0h0"/>
<path stroke="#979067" d="M217.0 126.4h0M215.7 132.0h0M216.6 125.6h0M212.8 124.8h0M214.1 126.4h0"/>
<path stroke="#4057f4" d="M185.1 128.8h0M181.2 128.8h0M201.2 128.8h0M197.5 127.2h0"/>
<path stroke="#8e8970" d="M216.5 132.0h0M216.3 129.6h0M208.1 129.6h0M215.4 129.6h0M216.0 130.4h0"/>
<path stroke="#d4b639" d="M219.7 128.0h0M222.6 128.0h0M231.4 128.0h0"/>
<path stroke="#bba54b" d="M217.3 128.8h0M215.7 126.4h0M239.0 128.8h0M223.4 128.0h0M214.8 132.8h0"/>
<path stroke="#a09560" d="M211.7 129.6h0M212.6 132.0h0M218.1 127.2h0M209.5 127.2h0"/>
<path stroke="#bba54b" d="M236.9 128.8h0M221.5 130.4h0M226.2 127.2h0M212.1 130.4h0"/>
<path stroke="#858379" d="M202.0 126.4h0M206.3 126.4h0M214.5 128.8h0"/>
<path stroke="#8e8970" d="M208.9 129.6h0M208.9 130.4h0M213.9 130.4h0M212.0 125.6h0M210.8 132.0h0M210.0 128.8h0M205.8 130.4h0"/>
<path stroke="#e4be32" d="M236.4 128.8h0M226.3 126.4h0"/>
<path stroke="#b29f52" d="M230.1 129.6h0M224.0 129.6h0M212.2 124.8h0M214.2 129.6h0M210.4 126.4h0M227.8 128.8h0"/>
<path stroke="#4e68d7" d="M215.9 127.2h0M196.0 130.4h0M204.1 129.6h0M208.7 131.2h0"/>
<path stroke="#4862e4" d="M188.3 128.8h0M167.8 128.8h0"/>
<path stroke="#747b92" d="M201.2 130.4h0M207.2 129.6h0M211.2 127.2h0"/>
<path stroke="#a99a59" d="M224.9 130.4h0M217.7 127.2h0M228.6 128.0h0M220.1 127.2h0"/>
<path stroke="#6c77a0" d="M211.5 125.6h0M210.9 131.2h0M206.1 128.8h0M206.1 132.0h0M210.8 124.0h0"/>
<path stroke="#dcba35" d="M230.8 128.8h0M230.0 128.0h0"/>
<path stroke="#546dca" d="M202.3 127.2h0M197.5 126.4h0M203.7 131.2h0M195.5 129.6h0M195.8 128.8h0M207.7 128.8h0"/>
<path stroke="#6474ae" d="M206.9 130.4h0M205.5 127.2h0M210.6 128.0h0"/>
<path stroke="#7c7e85" d="M204.4 126.4h0M207.2 126.4h0M213.6 127.2h0M203.4 130.4h0M208.1 124.8h0"/>
<path stroke="#979067" d="M210.9 128.8h0M214.3 128.0h0M206.9 125.6h0M220.3 128.8h0M207.8 126.4h0M208.1 127.2h0"/>
<path stroke="#ccb13d" d="M218.6 129.6h0M222.1 127.2h0M221.0 127.2h0M223.9 127.2h0M220.5 129.6h0M218.7 130.4h0M225.6 128.8h0"/>
<path stroke="#5c70bc" d="M196.1 128.8h0M213.7 130.4h0"/>
<path stroke="#435df0" d="M202.3 128.0h0M198.7 128.0h0M208.9 125.6h0M194.6 128.8h0M195.2 126.4h0"/>
<path stroke="#c3ab44" d="M213.9 132.0h0M218.9 128.0h0M224.0 130.4h0M222.1 126.4h0"/>
<path stroke="#d4b639" d="M211.6 133.6h0M222.6 128.8h0M222.6 129.6h0M229.9 128.8h0"/>
<path stroke="#3a4afa" d="M189.9 128.8h0"/>
<path stroke="#4057f4" d="M198.0 128.8h0M184.5 128.8h0"/>
<path stroke="#e4be32" d="M233.1 128.8h0M226.8 128.0h0M235.6 128.8h0"/>
<path stroke="#435df0" d="M199.7 128.8h0M183.1 128.8h0M169.4 128.8h0M191.5 128.8h0"/>
<path stroke="#4862e4" d="M196.6 130.4h0M198.1 131.2h0M207.0 132.0h0"/>
<path stroke="#5c70bc" d="M198.5 127.2h0M203.9 128.0h0"/>
<path stroke="#c3ab44" d="M214.9 131.2h0M213.7 128.8h0M222.4 127.2h0M226.1 129.6h0M221.5 129.6h0M224.9 128.0h0M215.1 125.6h0"/>
<path stroke="#4e68d7" d="M207.0 128.8h0M200.8 128.0h0M204.7 126.4h0M206.5 128.0h0"/>
<path stroke="#8e8970" d="M214.7 127.2h0M212.7 126.4h0"/>
<path stroke="#7c7e85" d="M213.6 132.0h0M202.7 128.8h0M211.4 126.4h0M211.7 132.8h0M205.4 128.8h0M196.7 127.2h0M210.9 124.8h0M200.5 126.4h0"/>
<path stroke="#a09560" d="M212.9 132.8h0M205.8 131.2h0M217.7 129.6h0M215.1 130.4h0"/>
<path stroke="#dcba35" d="M263.9 128.8h0M227.6 129.6h0"/>
<path stroke="#3a4afa" d="M179.4 128.8h0M192.2 128.8h0M173.6 128.8h0M177.7 128.8h0M162.9 128.8h0M186.6 128.8h0"/>
<path stroke="#6c77a0" d="M209.3 124.8h0M212.7 127.2h0M212.4 128.0h0M208.9 128.8h0M201.6 129.6h0"/>
<path stroke="#979067" d="M213.5 128.0h0M209.7 129.6h0"/>
<path stroke="#a99a59" d="M214.7 124.8h0"/>
<path stroke="#6474ae" d="M205.6 125.6h0M203.8 125.6h0M198.5 129.6h0M208.7 128.0h0M216.6 126.4h0M201.6 131.2h0"/>
<path stroke="#858379" d="M202.7 129.6h0M207.5 131.2h0M219.6 128.8h0M214.5 131.2h0"/>
<path stroke="#ccb13d" d="M223.9 128.8h0M221.5 128.0h0"/>
<path stroke="#546dca" d="M200.1 130.4h0M198.5 128.8h0M197.8 130.4h0M197.7 129.6h0M204.4 130.4h0M199.7 127.2h0"/>
<path stroke="#d4b639" d="M225.9 128.0h0"/>
<path stroke="#747b92" d="M205.4 128.0h0M207.7 128.0h0M209.8 131.2h0M210.1 127.2h0"/>
<path stroke="#bba54b" d="M215.5 128.0h0M238.0 128.8h0M229.0 128.8h0M225.2 128.8h0M218.3 126.4h0M234.5 128.8h0"/>
<path stroke="#b29f52" d="M212.2 129.6h0M215.8 128.8h0M212.5 128.8h0M219.9 129.6h0M227.2 128.8h0"/>
<path stroke="#b29f52" d="M215.2 151.2h0M215.7 152.0h0M214.1 153.6h0"/>
<path stroke="#dcba35" d="M229.7 149.6h0"/>
<path stroke="#e4be32" d="M215.9 144.0h0M215.5 155.2h0"/>
<path stroke="#4e68d7" d="M172.8 149.6h0M165.8 149.6h0"/>
<path stroke="#4057f4" d="M174.9 149.6h0M164.8 149.6h0"/>
<path stroke="#747b92" d="M209.1 148.8h0M211.3 147.2h0M202.9 149.6h0"/>
<path stroke="#979067" d="M214.1 144.8h0M227.1 149.6h0"/>
<path stroke="#5c70bc" d="M199.3 148.8h0M196.8 150.4h0M204.1 149.6h0M203.7 148.0h0"/>
<path stroke="#3a4afa" d="M167.8 149.6h0M161.3 149.6h0M162.8 149.6h0M192.8 149.6h0"/>
<path stroke="#d4b639" d="M219.0 152.8h0M214.1 151.2h0M216.4 152.8h0M219.2 147.2h0"/>
<path stroke="#546dca" d="M193.4 148.8h0"/>
<path stroke="#bba54b" d="M219.7 151.2h0M212.7 150.4h0M214.2 150.4h0M217.7 148.8h0M220.7 151.2h0M214.1 147.2h0"/>
<path stroke="#3d50f7" d="M171.0 149.6h0M198.4 150.4h0M159.3 149.6h0M160.4 149.6h0M193.8 148.8h0"/>
<path stroke="#435df0" d="M195.6 150.4h0"/>
<path stroke="#8e8970" d="M205.5 151.2h0M213.8 152.0h0M208.9 149.6h0M206.4 150.4h0"/>
<path stroke="#6474ae" d="M197.0 148.8h0M203.0 148.8h0M197.7 149.6h0M208.1 151.2h0"/>
<path stroke="#6c77a0" d="M205.1 149.6h0M195.5 148.8h0M204.2 150.4h0M208.9 150.4h0M208.9 151.2h0M201.8 149.6h0"/>
<path stroke="#7c7e85" d="M209.4 147.2h0M208.5 147.2h0M206.1 148.0h0M205.4 148.8h0M208.7 148.0h0"/>
<path stroke="#c3ab44" d="M215.2 154.4h0M217.1 151.2h0M214.7 150.4h0M213.8 149.6h0M217.5 153.6h0M218.5 153.6h0M219.0 148.0h0M214.6 149.6h0"/>
<path stroke="#ccb13d" d="M214.5 152.0h0M222.3 148.8h0M217.8 148.0h0M214.5 145.6h0M221.3 147.2h0M218.1 146.4h0M222.0 148.0h0"/>
<path stroke="#a99a59" d="M216.3 146.4h0M215.2 151.2h0M216.3 151.2h0M221.0 151.2h0"/>
<path stroke="#546dca" d="M205.4 150.4h0M207.7 150.4h0"/>
<path stroke="#8e8970" d="M210.4 149.6h0"/>
<path stroke="#4e68d7" d="M192.6 148.8h0"/>
<path stroke="#b29f52" d="M218.3 149.6h0M216.6 149.6h0M215.9 150.4h0M219.1 145.6h0M215.3 152.8h0M216.8 146.4h0M215.8 148.0h0M216.9 150.4h0"/>
<path stroke="#3a4afa" d="M162.4 149.6h0"/>
<path stroke="#c3ab44" d="M213.8 152.8h0M214.8 148.0h0M218.3 150.4h0M218.9 148.8h0M220.9 150.4h0M214.4 148.8h0M216.6 147.2h0M212.7 147.2h0M217.1 147.2h0M214.4 148.0h0M218.8 149.6h0M216.2 148.0h0"/>
<path stroke="#979067" d="M212.1 152.0h0M214.9 152.8h0"/>
<path stroke="#6c77a0" d="M204.7 148.8h0M201.3 149.6h0M203.8 150.4h0M199.5 150.4h0"/>
<path stroke="#7c7e85" d="M208.2 149.6h0M210.2 148.8h0"/>
<path stroke="#747b92" d="M210.9 148.0h0M209.7 150.4h0M207.0 151.2h0M211.1 150.4h0M193.0 149.6h0"/>
<path stroke="#bba54b" d="M220.6 148.8h0M211.9 146.4h0M215.7 153.6h0M219.5 152.0h0M215.6 144.8h0M217.0 152.8h0M217.9 152.0h0"/>
<path stroke="#ccb13d" d="M219.8 150.4h0M219.5 148.8h0M211.7 152.0h0M215.3 147.2h0M214.3 148.8h0M217.6 147.2h0"/>
<path stroke="#3d50f7" d="M183.6 149.6h0"/>
<path stroke="#a99a59" d="M213.2 148.8h0M216.2 148.8h0M213.6 151.2h0M211.8 150.4h0M215.0 147.2h0"/>
<path stroke="#d4b639" d="M222.0 150.4h0M216.2 144.8h0"/>
<path stroke="#4057f4" d="M199.3 149.6h0"/>
<path stroke="#dcba35" d="M217.1 152.0h0M212.6 151.2h0M220.1 150.4h0M218.9 152.0h0M213.8 146.4h0M218.8 150.4h0M219.6 146.4h0M218.9 147.2h0M216.7 145.6h0"/>
<path stroke="#a09560" d="M213.5 150.4h0M211.9 149.6h0M217.5 145.6h0"/>
<path stroke="#435df0" d="M182.8 149.6h0M190.9 148.8h0"/>
<path stroke="#6474ae" d="M207.6 148.8h0M201.8 148.0h0"/>
<path stroke="#e4be32" d="M224.3 149.6h0M217.9 152.8h0"/>
<path stroke="#435df0" d="M190.7 149.6h0M201.5 150.4h0M197.5 149.6h0M185.8 149.6h0"/>
<path stroke="#858379" d="M212.0 152.8h0"/>
<path stroke="#b29f52" d="M215.8 149.6h0M211.4 148.0h0M215.6 146.4h0"/>
<path stroke="#d4b639" d="M215.3 145.6h0M216.1 150.4h0M212.3 152.8h0M213.1 148.0h0M221.7 149.6h0"/>
<path stroke="#bba54b" d="M220.8 149.6h0"/>
<path stroke="#5c70bc" d="M207.3 148.0h0"/>
<path stroke="#3a4afa" d="M196.7 148.8h0M163.8 149.6h0M158.4 149.6h0"/>
<path stroke="#7c7e85" d="M203.8 149.6h0M200.4 149.6h0"/>
<path stroke="#c3ab44" d="M217.0 148.0h0M221.1 148.8h0M214.7 146.4h0M221.2 148.0h0M221.0 149.6h0M215.2 148.8h0M220.1 148.0h0M218.8 151.2h0"/>
<path stroke="#747b92" d="M207.1 147.2h0M206.5 149.6h0M211.1 149.6h0M206.4 148.8h0M208.0 150.4h0M205.8 149.6h0M203.5 148.8h0"/>
<path stroke="#ccb13d" d="M216.2 152.0h0M216.8 148.8h0M216.6 153.6h0M212.3 148.8h0M211.3 148.8h0M219.2 149.6h0M222.5 149.6h0M211.5 151.2h0"/>
<path stroke="#3d50f7" d="M174.5 149.6h0"/>
<path stroke="#979067" d="M216.9 149.6h0M208.3 148.8h0M201.9 148.8h0M218.3 151.2h0"/>
<path stroke="#a99a59" d="M236.7 149.6h0M212.7 146.4h0M212.9 149.6h0"/>
<path stroke="#6c77a0" d="M205.7 151.2h0M206.5 148.0h0M210.0 151.2h0M207.2 148.8h0"/>
<path stroke="#546dca" d="M196.2 149.6h0M195.4 149.6h0M207.9 149.6h0M211.1 148.8h0M209.5 148.0h0"/>
<path stroke="#e4be32" d="M219.1 144.8h0M219.1 146.4h0"/>
<path stroke="#dcba35" d="M231.5 149.6h0M219.6 148.0h0M213.8 145.6h0"/>
<path stroke="#4862e4" d="M193.9 149.6h0"/>
<path stroke="#6474ae" d="M210.2 148.0h0M201.3 148.8h0M197.3 150.4h0M201.7 150.4h0M198.8 149.6h0M209.9 147.2h0M207.1 150.4h0M199.2 148.0h0"/>
<path stroke="#4e68d7" d="M198.4 148.8h0"/>
<path stroke="#a09560" d="M204.9 148.0h0M212.2 149.6h0M212.7 148.0h0"/>
<path stroke="#6474ae" d="M219.0 171.4h0M219.7 168.7h0M214.2 169.6h0M224.5 168.7h0"/>
<path stroke="#3a4afa" d="M210.2 171.4h0M206.2 172.2h0M208.2 170.5h0M213.3 173.1h0M205.7 171.4h0M206.9 173.1h0"/>
<path stroke="#d4b639" d="M213.3 167.9h0M200.6 169.6h0M203.2 169.6h0M213.9 167.0h0M194.1 171.4h0M203.3 171.4h0M200.1 172.2h0M212.6 167.0h0M203.6 170.5h0M210.8 167.0h0M202.0 170.5h0"/>
<path stroke="#435df0" d="M212.1 173.1h0M223.1 170.5h0M210.2 170.5h0"/>
<path stroke="#3d50f7" d="M213.3 166.1h0M211.3 168.7h0M211.3 171.4h0M202.5 171.4h0M212.3 166.1h0M208.8 170.5h0M206.2 170.5h0"/>
<path stroke="#4862e4" d="M219.3 170.5h0M216.6 172.2h0"/>
<path stroke="#8e8970" d="M202.3 169.6h0"/>
<path stroke="#546dca" d="M221.0 171.4h0M221.0 169.6h0M224.4 171.4h0"/>
<path stroke="#6c77a0" d="M196.2 171.4h0M214.3 168.7h0M207.9 171.4h0M215.0 167.9h0M220.4 170.5h0M204.0 170.5h0M215.4 171.4h0"/>
<path stroke="#747b92" d="M209.4 166.1h0M206.6 169.6h0"/>
<path stroke="#bba54b" d="M191.7 170.5h0M188.2 171.4h0"/>
<path stroke="#4e68d7" d="M214.2 170.5h0M216.8 171.4h0M225.3 168.7h0M220.7 168.7h0M220.0 170.5h0"/>
<path stroke="#4057f4" d="M214.7 171.4h0M200.8 168.7h0M201.6 170.5h0M205.0 167.9h0"/>
<path stroke="#858379" d="M196.2 168.7h0M212.5 169.6h0M203.2 168.7h0M204.3 172.2h0"/>
<path stroke="#e4be32" d="M204.4 171.4h0"/>
<path stroke="#c3ab44" d="M208.3 172.2h0M186.5 170.5h0M208.4 168.7h0M210.2 168.7h0"/>
<path stroke="#979067" d="M216.1 170.5h0"/>
<path stroke="#7c7e85" d="M222.8 169.6h0M199.5 169.6h0M199.6 170.5h0M211.4 167.9h0M217.1 167.0h0M215.1 174.0h0M216.3 167.9h0"/>
<path stroke="#a09560" d="M198.4 170.5h0M197.4 171.4h0"/>
<path stroke="#b29f52" d="M216.2 167.0h0M195.8 169.6h0M196.3 171.4h0M217.3 169.6h0"/>
<path stroke="#a99a59" d="M198.8 171.4h0"/>
<path stroke="#ccb13d" d="M208.3 166.1h0M209.4 174.0h0M183.5 170.5h0M191.6 171.4h0M206.4 167.9h0M200.6 172.2h0M205.1 173.1h0M212.7 167.9h0M207.8 170.5h0M212.9 172.2h0"/>
<path stroke="#dcba35" d="M209.7 172.2h0M189.2 169.6h0M203.7 172.2h0M182.6 170.5h0"/>
<path stroke="#5c70bc" d="M220.5 171.4h0M217.6 170.5h0M222.4 168.7h0M218.2 172.2h0M215.4 174.9h0M220.1 172.2h0M223.2 171.4h0M217.1 172.2h0"/>
<path stroke="#c3ab44" d="M205.3 172.2h0M199.8 171.4h0M193.0 169.6h0M204.5 168.7h0M190.6 170.5h0"/>
<path stroke="#7c7e85" d="M216.8 173.1h0M213.3 167.0h0M213.7 167.9h0M219.0 169.6h0"/>
<path stroke="#435df0" d="M208.3 167.0h0M214.4 167.0h0M209.6 167.0h0M215.7 171.4h0M208.0 171.4h0M213.3 169.6h0M211.9 172.2h0"/>
<path stroke="#a09560" d="M198.4 169.6h0M192.2 169.6h0"/>
<path stroke="#6474ae" d="M220.5 169.6h0M216.8 173.1h0M225.7 170.5h0M217.3 168.7h0M214.7 166.1h0"/>
<path stroke="#3a4afa" d="M208.8 167.9h0M210.2 173.1h0M211.6 174.0h0M213.2 171.4h0"/>
<path stroke="#6c77a0" d="M214.7 172.2h0M218.4 169.6h0M225.2 171.4h0"/>
<path stroke="#546dca" d="M215.3 166.1h0M222.3 169.6h0M223.1 168.7h0M218.1 173.1h0M233.6 170.5h0M225.3 169.6h0"/>
<path stroke="#dcba35" d="M205.1 172.2h0M167.5 170.5h0M192.4 170.5h0M191.5 168.7h0M210.9 167.9h0M201.1 171.4h0M205.4 170.5h0M194.2 169.6h0M200.5 170.5h0M209.7 171.4h0"/>
<path stroke="#ccb13d" d="M213.5 169.6h0M190.6 171.4h0M210.5 172.2h0M213.0 165.2h0M191.4 171.4h0M208.6 174.0h0"/>
<path stroke="#4862e4" d="M231.8 170.5h0M222.5 170.5h0"/>
<path stroke="#5c70bc" d="M215.8 168.7h0M216.5 166.1h0"/>
<path stroke="#858379" d="M217.3 170.5h0M217.7 171.4h0M215.1 172.2h0M216.5 170.5h0"/>
<path stroke="#8e8970" d="M206.3 168.7h0M196.5 169.6h0"/>
<path stroke="#3d50f7" d="M200.2 168.7h0M208.6 169.6h0M209.0 172.2h0M207.2 172.2h0M206.5 171.4h0"/>
<path stroke="#d4b639" d="M209.8 168.7h0M213.8 172.2h0M204.7 169.6h0M206.6 170.5h0M191.4 170.5h0M194.0 170.5h0M214.0 174.0h0M209.0 168.7h0M205.1 171.4h0"/>
<path stroke="#4057f4" d="M210.7 170.5h0M225.8 170.5h0M208.5 167.9h0M212.0 169.6h0M206.1 169.6h0M202.1 171.4h0M209.6 173.1h0M214.9 169.6h0M209.3 169.6h0"/>
<path stroke="#e4be32" d="M201.1 168.7h0M197.7 170.5h0M193.1 170.5h0M211.6 166.1h0M187.1 170.5h0M189.2 170.5h0M187.2 169.6h0"/>
<path stroke="#747b92" d="M218.6 167.9h0M197.9 171.4h0"/>
<path stroke="#bba54b" d="M189.1 171.4h0M194.6 170.5h0M209.6 174.9h0M197.4 170.5h0M186.1 169.6h0M199.1 171.4h0"/>
<path stroke="#4e68d7" d="M217.4 174.0h0M216.1 174.0h0"/>
<path stroke="#a99a59" d="M191.6 169.6h0"/>
<path stroke="#546dca" d="M214.7 174.0h0M217.5 167.9h0M216.4 169.6h0M219.9 169.6h0"/>
<path stroke="#435df0" d="M217.3 171.4h0M228.8 170.5h0M213.7 170.5h0M215.3 170.5h0M207.2 168.7h0M202.7 169.6h0"/>
<path stroke="#4057f4" d="M211.5 170.5h0M212.4 168.7h0M213.4 164.3h0M202.8 170.5h0"/>
<path stroke="#8e8970" d="M213.9 171.4h0M210.4 169.6h0"/>
<path stroke="#6474ae" d="M224.0 170.5h0M219.4 172.2h0M215.6 172.2h0M219.3 168.7h0"/>
<path stroke="#e4be32" d="M211.9 168.7h0M212.4 172.2h0M187.5 170.5h0M204.6 170.5h0M188.2 169.6h0"/>
<path stroke="#979067" d="M213.2 174.9h0M218.1 169.6h0M197.9 168.7h0"/>
<path stroke="#3d50f7" d="M213.0 175.8h0M205.7 168.7h0M235.8 170.5h0M207.6 172.2h0M202.5 172.2h0M210.8 173.1h0M199.7 170.5h0"/>
<path stroke="#d4b639" d="M200.0 169.6h0M211.8 173.1h0M204.0 169.6h0M207.7 167.9h0M212.5 170.5h0"/>
<path stroke="#6c77a0" d="M219.6 171.4h0M223.4 169.6h0M197.7 169.6h0M214.7 173.1h0M215.1 173.1h0"/>
<path stroke="#ccb13d" d="M208.6 169.6h0M200.9 171.4h0M207.7 168.7h0M212.0 171.4h0M212.9 170.5h0M208.5 173.1h0M201.4 172.2h0M207.1 167.9h0M201.7 169.6h0M209.1 171.4h0"/>
<path stroke="#c3ab44" d="M205.0 168.7h0M212.4 171.4h0M205.3 169.6h0M190.8 169.6h0M207.1 171.4h0M214.0 173.1h0"/>
<path stroke="#7c7e85" d="M215.4 168.7h0M213.9 168.7h0"/>
<path stroke="#a09560" d="M197.1 169.6h0M202.6 168.7h0M214.5 167.9h0"/>
<path stroke="#5c70bc" d="M217.8 167.9h0M215.1 167.0h0M215.5 167.9h0M222.6 171.4h0M196.3 170.5h0M221.4 168.7h0M218.7 170.5h0M218.6 172.2h0M222.0 170.5h0"/>
<path stroke="#858379" d="M209.4 167.9h0M211.2 174.0h0M209.6 170.5h0"/>
<path stroke="#4862e4" d="M218.1 168.7h0M220.8 172.2h0M216.7 168.7h0"/>
<path stroke="#dcba35" d="M191.4 169.6h0M211.1 172.2h0M195.8 170.5h0M212.9 168.7h0M184.6 170.5h0M188.4 170.5h0M179.4 170.5h0M207.9 169.6h0"/>
<path stroke="#747b92" d="M218.6 171.4h0M212.9 174.0h0"/>
<path stroke="#b29f52" d="M192.6 171.4h0M189.4 170.5h0"/>
<path stroke="#4e68d7" d="M225.0 169.6h0M224.7 170.5h0M221.6 170.5h0"/>
<path stroke="#3a4afa" d="M210.2 167.9h0M210.7 169.6h0M212.6 174.0h0M215.5 169.6h0M211.5 167.0h0"/>
<path stroke="#bba54b" d="M182.5 170.5h0M218.8 168.7h0"/>
<path stroke="#dcba35" d="M189.5 192.1h0M182.9 191.3h0M214.1 187.3h0"/>
<path stroke="#b29f52" d="M244.2 191.3h0M231.1 191.3h0M232.9 191.3h0M245.5 191.3h0"/>
<path stroke="#858379" d="M207.4 192.9h0M197.0 190.5h0"/>
<path stroke="#5c70bc" d="M186.1 191.3h0M210.7 194.5h0"/>
<path stroke="#435df0" d="M211.4 186.5h0M212.5 189.7h0M213.7 188.9h0M189.1 190.5h0M216.3 188.9h0M207.7 191.3h0M209.4 192.9h0M211.1 188.1h0M212.5 192.9h0M216.2 192.9h0"/>
<path stroke="#a99a59" d="M224.6 191.3h0M225.4 191.3h0"/>
<path stroke="#6474ae" d="M214.5 188.9h0M217.8 190.5h0"/>
<path stroke="#bba54b" d="M214.5 192.9h0"/>
<path stroke="#3a4afa" d="M206.2 190.5h0M206.3 192.9h0M210.6 193.7h0M201.9 190.5h0M202.1 192.1h0M206.8 189.7h0M214.1 191.3h0M215.5 186.5h0"/>
<path stroke="#4057f4" d="M199.3 189.7h0M200.2 191.3h0M215.9 191.3h0M212.4 186.5h0M203.0 192.1h0M216.2 191.3h0M196.5 192.1h0M200.7 190.5h0M202.4 190.5h0M214.1 189.7h0M208.6 192.1h0M201.4 190.5h0M213.8 195.3h0M206.2 189.7h0M211.3 190.5h0M204.8 189.7h0M217.0 188.9h0M207.2 190.5h0"/>
<path stroke="#8e8970" d="M225.7 191.3h0"/>
<path stroke="#747b92" d="M216.7 189.7h0"/>
<path stroke="#a09560" d="M219.9 189.7h0M221.3 189.7h0"/>
<path stroke="#979067" d="M219.3 191.3h0M211.9 194.5h0M218.6 189.7h0M218.7 192.1h0"/>
<path stroke="#d4b639" d="M195.7 191.3h0M191.0 191.3h0M203.3 190.5h0M215.6 189.7h0M202.0 191.3h0M206.5 192.1h0"/>
<path stroke="#ccb13d" d="M214.8 187.3h0M211.6 195.3h0M215.9 188.1h0M214.8 188.1h0M191.9 190.5h0M212.9 192.9h0M195.7 189.7h0M213.7 190.5h0M214.6 192.1h0"/>
<path stroke="#e4be32" d="M215.8 192.1h0"/>
<path stroke="#7c7e85" d="M210.2 189.7h0M217.7 192.9h0"/>
<path stroke="#c3ab44" d="M224.3 190.5h0M192.9 191.3h0M196.2 191.3h0M210.7 189.7h0M209.6 191.3h0"/>
<path stroke="#3d50f7" d="M205.0 188.9h0M216.9 188.1h0M210.2 192.1h0M208.3 192.9h0M174.5 191.3h0M186.5 191.3h0M213.9 188.1h0M206.4 188.9h0M199.5 192.1h0"/>
<path stroke="#a09560" d="M213.7 196.1h0M221.1 191.3h0M218.8 190.5h0"/>
<path stroke="#3a4afa" d="M217.0 192.9h0M191.0 190.5h0M216.9 191.3h0M215.4 192.9h0M203.9 192.9h0M212.5 195.3h0"/>
<path stroke="#7c7e85" d="M203.5 191.3h0M211.9 193.7h0"/>
<path stroke="#bba54b" d="M214.9 189.7h0M216.2 190.5h0"/>
<path stroke="#435df0" d="M213.9 186.5h0M217.4 189.7h0M213.0 191.3h0M205.3 192.1h0"/>
<path stroke="#8e8970" d="M212.5 194.5h0M193.0 190.5h0M222.6 191.3h0M213.0 195.3h0M219.7 192.1h0"/>
<path stroke="#858379" d="M218.1 191.3h0"/>
<path stroke="#b29f52" d="M226.0 190.5h0M223.1 192.1h0"/>
<path stroke="#4862e4" d="M192.7 190.5h0"/>
<path stroke="#3d50f7" d="M211.9 188.1h0M165.7 191.3h0M214.8 191.3h0M212.4 191.3h0M208.6 190.5h0M217.7 189.7h0M172.3 191.3h0M215.2 190.5h0M207.0 193.7h0M206.5 191.3h0M206.5 190.5h0M205.0 190.5h0M178.8 191.3h0M202.3 189.7h0"/>
<path stroke="#4057f4" d="M208.9 190.5h0M193.6 191.3h0M197.2 189.7h0M196.5 189.7h0M215.6 188.9h0M214.1 192.1h0M197.4 191.3h0M189.2 191.3h0M215.0 195.3h0M200.8 192.1h0M195.6 190.5h0M209.0 191.3h0M214.9 193.7h0M204.8 191.3h0M212.7 190.5h0M203.4 192.1h0M212.1 188.9h0M205.0 192.9h0"/>
<path stroke="#6c77a0" d="M223.9 190.5h0"/>
<path stroke="#dcba35" d="M184.6 191.3h0M208.3 189.7h0M205.8 191.3h0"/>
<path stroke="#ccb13d" d="M210.1 190.5h0M210.2 188.9h0M207.6 188.9h0M215.7 195.3h0M225.3 190.5h0M188.5 189.7h0"/>
<path stroke="#747b92" d="M218.1 188.9h0M209.2 189.7h0M210.3 192.9h0M196.9 192.1h0M204.7 190.5h0"/>
<path stroke="#979067" d="M220.9 192.1h0M222.1 191.3h0M202.8 189.7h0"/>
<path stroke="#d4b639" d="M215.4 187.3h0M195.3 192.1h0M217.8 192.1h0M207.9 189.7h0M213.1 194.5h0M212.9 188.9h0M195.0 191.3h0M206.4 192.9h0M213.2 192.1h0"/>
<path stroke="#c3ab44" d="M213.8 192.9h0M217.0 193.7h0M204.6 192.1h0M216.3 192.1h0M208.7 188.9h0M213.5 189.7h0M190.0 190.5h0M223.7 191.3h0"/>
<path stroke="#3a4afa" d="M199.5 190.5h0M217.8 193.7h0M198.6 191.3h0M188.7 191.3h0M203.1 188.9h0M212.8 196.1h0M204.2 188.9h0M184.9 191.3h0"/>
<path stroke="#8e8970" d="M207.8 192.1h0"/>
<path stroke="#dcba35" d="M187.5 191.3h0M198.6 190.5h0M213.2 186.5h0M200.9 192.1h0M188.4 192.1h0M211.5 188.9h0M211.3 192.9h0"/>
<path stroke="#c3ab44" d="M223.2 192.1h0M210.6 192.1h0M190.0 191.3h0"/>
<path stroke="#5c70bc" d="M210.5 192.9h0"/>
<path stroke="#435df0" d="M208.3 193.7h0M212.1 193.7h0M186.2 191.3h0M203.2 191.3h0"/>
<path stroke="#979067" d="M225.8 189.7h0M223.1 189.7h0M220.3 189.7h0"/>
<path stroke="#ccb13d" d="M200.0 191.3h0M194.9 192.1h0M191.9 189.7h0M204.6 192.9h0M211.2 192.1h0M212.8 187.3h0M215.7 194.5h0M192.8 191.3h0M191.4 191.3h0M189.1 189.7h0"/>
<path stroke="#e4be32" d="M212.3 187.3h0M213.0 196.1h0"/>
<path stroke="#b29f52" d="M221.4 190.5h0M219.9 190.5h0M220.0 190.5h0"/>
<path stroke="#a99a59" d="M223.8 189.7h0M223.1 190.5h0"/>
<path stroke="#4057f4" d="M212.1 188.1h0M191.6 192.1h0M191.2 189.7h0M188.6 190.5h0M203.9 189.7h0M204.7 191.3h0M210.6 188.9h0"/>
<path stroke="#3d50f7" d="M214.1 193.7h0M214.7 190.5h0M193.9 190.5h0M203.1 192.9h0M215.5 193.7h0M211.2 190.5h0M187.0 190.5h0M212.7 192.1h0M201.0 191.3h0M209.3 192.1h0M213.5 190.5h0M213.5 193.7h0M216.9 190.5h0M198.7 192.1h0"/>
<path stroke="#7c7e85" d="M219.0 191.3h0M208.3 191.3h0M190.7 192.1h0"/>
<path stroke="#4862e4" d="M205.2 189.7h0M211.4 191.3h0M195.2 190.5h0"/>
<path stroke="#a09560" d="M220.4 192.1h0M220.7 191.3h0"/>
<path stroke="#747b92" d="M206.1 192.1h0M210.7 191.3h0M196.8 190.5h0"/>
<path stroke="#d4b639" d="M211.3 189.7h0M214.1 194.5h0M217.6 188.1h0M216.5 188.1h0M192.7 192.1h0M207.8 193.7h0M212.9 185.7h0M217.5 192.1h0M216.0 193.7h0M211.7 187.3h0M187.9 190.5h0M211.3 196.1h0"/>
<path stroke="#858379" d="M226.4 191.3h0M214.9 194.5h0M219.9 192.9h0M213.1 188.1h0"/>
<path stroke="#bba54b" d="M226.3 192.1h0"/>
<path stroke="#747b92" d="M210.8 211.4h0M209.1 213.8h0"/>
<path stroke="#b29f52" d="M194.7 212.2h0M201.7 211.4h0M200.2 212.2h0"/>
<path stroke="#6c77a0" d="M205.7 212.2h0M210.2 212.2h0"/>
<path stroke="#8e8970" d="M202.5 213.0h0"/>
<path stroke="#7c7e85" d="M205.2 212.2h0"/>
<path stroke="#979067" d="M199.5 211.4h0"/>
<path stroke="#c3ab44" d="M197.8 212.2h0"/>
<path stroke="#4057f4" d="M213.1 206.6h0M217.7 212.2h0M221.6 211.4h0M212.6 212.2h0M213.8 213.0h0M216.5 209.0h0M217.3 207.4h0M211.5 214.6h0M211.9 209.0h0"/>
<path stroke="#3d50f7" d="M213.9 207.4h0M222.4 210.6h0M214.5 211.4h0M217.9 213.8h0M216.5 211.4h0M218.7 216.2h0M214.8 208.2h0"/>
<path stroke="#a09560" d="M203.1 210.6h0M204.4 213.0h0"/>
<path stroke="#a99a59" d="M205.7 213.8h0"/>
<path stroke="#6474ae" d="M208.0 210.6h0"/>
<path stroke="#3a4afa" d="M218.0 209.0h0M215.4 209.8h0M214.9 210.6h0M217.5 216.2h0M214.0 213.0h0M221.5 212.2h0M214.7 210.6h0M218.7 212.2h0M216.6 215.4h0M216.1 214.6h0M215.6 211.4h0M217.6 215.4h0M216.5 213.8h0"/>
<path stroke="#bba54b" d="M204.5 212.2h0M194.4 212.2h0"/>
<path stroke="#4e68d7" d="M212.0 212.2h0M216.3 214.6h0M220.9 213.0h0M213.1 213.8h0M213.6 208.2h0M212.3 209.8h0M221.0 210.6h0"/>
<path stroke="#ccb13d" d="M202.3 211.4h0M197.8 211.4h0M200.3 213.0h0"/>
<path stroke="#4862e4" d="M215.3 212.2h0M212.6 213.0h0M214.8 211.4h0M218.9 211.4h0"/>
<path stroke="#435df0" d="M216.2 210.6h0M212.9 217.0h0M213.4 215.4h0M211.4 209.8h0M216.5 210.6h0M211.2 213.0h0M218.3 208.2h0M213.3 211.4h0M222.6 212.2h0M215.1 213.8h0"/>
<path stroke="#dcba35" d="M181.5 212.2h0"/>
<path stroke="#546dca" d="M211.8 213.0h0M214.5 216.2h0"/>
<path stroke="#5c70bc" d="M214.0 209.0h0M212.7 216.2h0M207.7 212.2h0M214.2 209.8h0"/>
<path stroke="#dcba35" d="M176.6 212.2h0M172.3 212.2h0M174.4 212.2h0M150.8 212.2h0"/>
<path stroke="#6c77a0" d="M206.6 210.6h0M209.5 213.8h0"/>
<path stroke="#3a4afa" d="M217.2 213.8h0M212.0 214.6h0M215.9 209.0h0M217.3 214.6h0M217.1 208.2h0M222.9 213.0h0M221.9 212.2h0M212.2 215.4h0M220.3 213.0h0M224.7 212.2h0M214.3 219.4h0M211.7 209.0h0M211.4 213.8h0"/>
<path stroke="#c3ab44" d="M202.8 213.0h0"/>
<path stroke="#435df0" d="M222.0 213.0h0M217.2 209.0h0M218.9 209.8h0M223.3 212.2h0M214.6 213.8h0M213.5 214.6h0M217.6 210.6h0M211.1 210.6h0M219.4 211.4h0M217.0 209.8h0M219.4 212.2h0"/>
<path stroke="#a99a59" d="M200.9 211.4h0M203.6 211.4h0M210.2 210.6h0"/>
<path stroke="#4862e4" d="M213.2 208.2h0M212.6 210.6h0M218.9 214.6h0M220.3 211.4h0M213.1 209.8h0"/>
<path stroke="#ccb13d" d="M201.6 212.2h0"/>
<path stroke="#b29f52" d="M200.8 212.2h0"/>
<path stroke="#858379" d="M208.2 213.0h0M199.1 212.2h0M204.7 211.4h0M209.6 209.8h0"/>
<path stroke="#4e68d7" d="M214.9 217.8h0M214.1 208.2h0M221.9 210.6h0M213.5 213.8h0M216.1 213.0h0"/>
<path stroke="#8e8970" d="M206.4 213.0h0M208.4 212.2h0"/>
<path stroke="#7c7e85" d="M207.0 211.4h0M206.3 211.4h0M208.9 210.6h0M209.3 213.0h0"/>
<path stroke="#4057f4" d="M222.4 211.4h0M223.6 211.4h0M213.3 216.2h0M216.0 209.8h0M218.9 215.4h0M212.2 213.8h0"/>
<path stroke="#3d50f7" d="M223.9 211.4h0M218.1 215.4h0M213.8 210.6h0M225.2 211.4h0M213.2 215.4h0M215.3 206.6h0M225.9 211.4h0M214.0 206.6h0M212.7 211.4h0M216.4 208.2h0M221.0 211.4h0"/>
<path stroke="#a09560" d="M206.1 210.6h0"/>
<path stroke="#979067" d="M203.1 212.2h0M210.0 211.4h0M208.8 211.4h0"/>
<path stroke="#6474ae" d="M206.5 212.2h0"/>
<path stroke="#4e68d7" d="M205.2 210.6h0M218.0 216.2h0"/>
<path stroke="#858379" d="M210.2 212.2h0M209.1 212.2h0M207.7 211.4h0M205.9 213.0h0"/>
<path stroke="#8e8970" d="M200.2 211.4h0"/>
<path stroke="#546dca" d="M212.2 211.4h0M218.1 211.4h0M214.0 205.8h0M212.8 209.0h0"/>
<path stroke="#5c70bc" d="M213.8 209.8h0"/>
<path stroke="#6c77a0" d="M205.5 211.4h0"/>
<path stroke="#3d50f7" d="M216.1 212.2h0M223.8 212.2h0M214.0 205.0h0M216.8 212.2h0M217.9 214.6h0M212.6 207.4h0M214.5 218.6h0"/>
<path stroke="#4862e4" d="M215.1 207.4h0M218.2 212.2h0M214.9 209.0h0M220.7 210.6h0M211.0 211.4h0M214.7 217.0h0M224.4 213.0h0"/>
<path stroke="#979067" d="M205.4 213.0h0M203.1 211.4h0M203.7 212.2h0M201.4 213.0h0"/>
<path stroke="#435df0" d="M225.3 212.2h0M215.6 213.8h0M218.9 213.0h0M214.4 207.4h0M220.3 213.8h0M214.2 214.6h0M217.5 209.8h0M212.6 214.6h0"/>
<path stroke="#bba54b" d="M198.3 212.2h0M197.0 212.2h0M199.3 213.0h0M202.1 212.2h0"/>
<path stroke="#7c7e85" d="M208.5 211.4h0"/>
<path stroke="#b29f52" d="M198.4 211.4h0"/>
<path stroke="#6474ae" d="M214.5 215.4h0"/>
<path stroke="#3a4afa" d="M216.5 213.0h0M216.0 215.4h0M213.9 217.0h0M220.2 212.2h0M213.7 212.2h0M211.6 215.4h0M218.2 213.0h0M216.0 208.2h0M211.7 210.6h0M214.0 212.2h0M213.8 209.0h0M215.3 217.0h0M223.7 213.0h0M214.9 213.0h0M217.8 210.6h0M217.2 211.4h0M219.2 209.0h0"/>
<path stroke="#dcba35" d="M188.8 212.2h0M164.5 212.2h0M154.7 212.2h0"/>
<path stroke="#4057f4" d="M218.7 208.2h0M214.7 217.8h0M219.0 210.6h0M217.5 217.0h0M215.4 216.2h0M218.4 209.8h0M211.6 212.2h0M218.6 213.8h0M217.0 213.0h0M215.0 215.4h0M215.5 214.6h0"/>
<path stroke="#747b92" d="M209.9 213.0h0"/>
<path stroke="#6c77a0" d="M216.1 232.3h0M216.5 230.7h0M216.4 233.9h0M212.8 232.3h0"/>
<path stroke="#e4be32" d="M191.2 233.9h0M198.6 233.1h0M195.2 233.1h0M194.4 233.1h0M198.0 232.3h0M197.3 231.5h0"/>
<path stroke="#4057f4" d="M220.7 233.1h0M224.0 233.1h0M216.1 230.7h0"/>
<path stroke="#858379" d="M211.0 232.3h0M212.5 234.7h0M205.3 233.1h0"/>
<path stroke="#dcba35" d="M190.9 231.5h0M197.7 233.9h0M192.8 232.3h0M191.9 233.1h0"/>
<path stroke="#ccb13d" d="M192.6 233.9h0M193.7 232.3h0M193.1 233.1h0M198.2 233.1h0"/>
<path stroke="#4e68d7" d="M219.8 233.9h0M217.5 231.5h0M220.7 232.3h0M217.2 233.1h0M221.6 231.5h0M207.5 229.1h0M212.8 231.5h0"/>
<path stroke="#546dca" d="M217.5 233.1h0M213.0 230.7h0M217.6 232.3h0"/>
<path stroke="#c3ab44" d="M199.6 233.1h0M200.3 232.3h0M196.7 232.3h0M211.5 233.9h0M207.9 234.7h0M199.0 233.9h0M205.6 230.7h0M193.6 233.1h0M201.8 233.1h0M201.9 233.9h0M206.6 229.9h0M207.1 231.5h0"/>
<path stroke="#5c70bc" d="M213.7 233.1h0M209.3 233.9h0M214.0 234.7h0M209.2 233.1h0M212.4 235.5h0M213.6 233.9h0"/>
<path stroke="#747b92" d="M207.2 233.1h0M208.5 229.9h0M210.1 233.1h0M211.4 234.7h0M216.1 234.7h0M210.8 230.7h0"/>
<path stroke="#a99a59" d="M207.7 233.1h0M204.6 232.3h0"/>
<path stroke="#4862e4" d="M221.5 233.9h0M208.1 233.1h0M221.3 233.1h0M211.9 230.7h0M216.9 232.3h0M217.9 233.1h0"/>
<path stroke="#979067" d="M204.8 233.1h0M209.7 227.5h0M206.9 229.9h0"/>
<path stroke="#8e8970" d="M206.1 231.5h0M207.1 236.3h0M205.1 234.7h0M209.7 234.7h0M208.7 230.7h0M212.7 233.9h0"/>
<path stroke="#bba54b" d="M199.2 233.9h0M207.1 229.1h0M205.5 233.9h0M193.3 233.9h0M202.7 233.1h0M204.0 233.9h0M210.3 234.7h0"/>
<path stroke="#a09560" d="M206.2 236.3h0M199.2 232.3h0M200.5 233.1h0"/>
<path stroke="#7c7e85" d="M212.1 232.3h0"/>
<path stroke="#b29f52" d="M209.1 234.7h0M200.8 231.5h0M203.8 232.3h0"/>
<path stroke="#3d50f7" d="M230.9 233.1h0M210.0 229.1h0"/>
<path stroke="#d4b639" d="M200.9 233.9h0M194.9 233.9h0"/>
<path stroke="#3a4afa" d="M222.2 233.1h0"/>
<path stroke="#6474ae" d="M221.2 232.3h0M214.7 232.3h0M216.3 231.5h0M209.9 231.5h0M208.8 233.1h0M220.0 232.3h0M211.4 231.5h0"/>
<path stroke="#8e8970" d="M220.7 233.9h0M211.7 229.1h0M211.6 233.1h0M205.6 229.1h0M207.9 230.7h0M207.8 235.5h0M206.7 233.9h0M206.6 229.1h0"/>
<path stroke="#ccb13d" d="M192.6 233.1h0M197.0 233.9h0M194.7 232.3h0"/>
<path stroke="#435df0" d="M211.5 237.1h0M221.4 233.9h0"/>
<path stroke="#3d50f7" d="M242.0 233.1h0"/>
<path stroke="#6474ae" d="M210.0 236.3h0M213.2 234.7h0M213.9 232.3h0"/>
<path stroke="#e4be32" d="M198.3 232.3h0M186.8 233.1h0M194.6 233.1h0M198.9 232.3h0"/>
<path stroke="#bba54b" d="M211.7 231.5h0M197.1 232.3h0M208.1 230.7h0M210.0 234.7h0"/>
<path stroke="#7c7e85" d="M211.5 235.5h0M212.2 229.9h0M210.3 228.3h0M208.1 233.9h0M210.5 231.5h0M210.0 232.3h0M219.5 233.9h0"/>
<path stroke="#dcba35" d="M192.9 233.9h0M197.5 233.1h0M194.9 231.5h0M186.9 233.1h0M199.5 231.5h0M204.1 233.1h0"/>
<path stroke="#a99a59" d="M206.2 229.9h0M198.6 231.5h0M203.8 233.1h0M208.9 231.5h0M202.1 233.9h0M207.3 235.5h0"/>
<path stroke="#4862e4" d="M215.0 233.9h0M211.2 236.3h0"/>
<path stroke="#4e68d7" d="M217.9 233.9h0M212.0 236.3h0M221.6 232.3h0M211.8 237.1h0M212.2 230.7h0M219.7 233.1h0"/>
<path stroke="#6c77a0" d="M208.7 229.9h0M212.5 233.9h0M215.4 233.1h0M208.8 237.1h0M208.7 235.5h0"/>
<path stroke="#4057f4" d="M219.5 232.3h0M222.7 233.1h0M218.8 232.3h0"/>
<path stroke="#5c70bc" d="M215.8 231.5h0M213.4 232.3h0M214.7 231.5h0M213.5 231.5h0M214.8 233.1h0"/>
<path stroke="#b29f52" d="M196.1 233.9h0M202.2 232.3h0M204.4 232.3h0M200.0 233.1h0M191.2 233.1h0M204.7 234.7h0M207.3 232.3h0M203.3 231.5h0M202.9 231.5h0M205.1 235.5h0"/>
<path stroke="#a09560" d="M206.8 228.3h0M210.3 237.1h0M203.2 233.9h0"/>
<path stroke="#979067" d="M206.5 235.5h0M208.9 232.3h0M209.5 231.5h0M205.2 229.9h0M200.8 232.3h0M204.7 231.5h0"/>
<path stroke="#858379" d="M205.8 232.3h0M206.2 230.7h0M209.1 235.5h0M205.5 232.3h0"/>
<path stroke="#747b92" d="M207.3 230.7h0M214.9 234.7h0M211.0 230.7h0M210.7 233.1h0M206.7 232.3h0M209.7 230.7h0"/>
<path stroke="#546dca" d="M213.1 235.5h0M214.0 233.9h0M214.9 233.9h0M209.8 237.9h0M206.4 233.1h0"/>
<path stroke="#c3ab44" d="M196.0 233.1h0M190.3 233.1h0M205.4 236.3h0"/>
<path stroke="#4862e4" d="M218.9 233.1h0M211.7 232.3h0M223.5 233.1h0M218.0 233.9h0M216.3 232.3h0M227.0 233.1h0M215.4 232.3h0M214.0 231.5h0"/>
<path stroke="#a09560" d="M207.6 232.3h0M209.5 236.3h0"/>
<path stroke="#435df0" d="M218.0 232.3h0M216.3 233.1h0M226.2 233.1h0M214.5 230.7h0"/>
<path stroke="#c3ab44" d="M200.5 233.9h0M212.9 229.9h0M209.4 229.1h0M194.2 232.3h0M188.7 233.1h0M201.2 233.1h0M211.8 234.7h0M207.0 237.1h0"/>
<path stroke="#747b92" d="M208.0 235.5h0M211.7 229.9h0M208.4 234.7h0M218.8 233.9h0"/>
<path stroke="#4e68d7" d="M216.3 234.7h0M211.4 233.1h0M212.2 231.5h0"/>
<path stroke="#6474ae" d="M205.6 234.7h0M207.5 237.1h0M208.2 229.1h0M215.7 233.9h0"/>
<path stroke="#bba54b" d="M203.2 232.3h0M205.7 233.9h0M183.7 233.1h0M204.0 231.5h0"/>
<path stroke="#8e8970" d="M209.1 229.1h0M206.2 237.1h0M207.7 229.9h0M207.2 234.7h0M207.4 231.5h0M209.2 230.7h0M207.4 228.3h0M206.4 230.7h0M208.0 236.3h0M203.3 233.9h0M209.4 229.9h0M210.8 232.3h0M207.8 233.9h0M208.2 231.5h0"/>
<path stroke="#4057f4" d="M221.5 233.1h0"/>
<path stroke="#d4b639" d="M185.8 233.1h0M209.2 232.3h0M190.4 233.1h0"/>
<path stroke="#dcba35" d="M192.0 232.3h0M195.7 232.3h0M195.8 231.5h0"/>
<path stroke="#546dca" d="M213.2 233.1h0M220.1 233.1h0M214.0 233.1h0M216.1 233.1h0M214.5 235.5h0"/>
<path stroke="#b29f52" d="M209.7 233.9h0M208.1 232.3h0M202.8 233.1h0M201.7 232.3h0"/>
<path stroke="#7c7e85" d="M211.1 229.9h0M206.9 233.9h0M211.4 233.9h0"/>
<path stroke="#ccb13d" d="M192.5 232.3h0M191.5 232.3h0M194.3 233.9h0M194.0 231.5h0M206.2 231.5h0"/>
<path stroke="#979067" d="M207.6 236.3h0M210.6 233.9h0M206.4 237.1h0M208.8 233.9h0"/>
<path stroke="#a99a59" d="M201.5 232.3h0M205.9 236.3h0M210.2 235.5h0M203.9 234.7h0M205.8 233.1h0M204.9 233.9h0M206.2 235.5h0M208.9 236.3h0M206.4 234.7h0"/>
<path stroke="#858379" d="M211.5 229.1h0M209.8 229.9h0M210.7 229.9h0"/>
<path stroke="#3d50f7" d="M218.8 231.5h0"/>
<path stroke="#6c77a0" d="M212.1 233.1h0M208.0 237.1h0M211.7 235.5h0M210.3 235.5h0M205.3 231.5h0M211.7 228.3h0"/>
<path stroke="#e4be32" d="M196.7 233.1h0M184.9 233.1h0M197.0 233.1h0M183.9 233.1h0"/>
<path stroke="#ccb13d" d="M221.8 253.1h0M219.5 253.1h0M215.4 255.5h0"/>
<path stroke="#a99a59" d="M212.6 255.5h0M215.4 252.3h0M224.3 253.1h0M216.8 252.3h0M217.4 254.7h0"/>
<path stroke="#6474ae" d="M200.9 253.1h0M203.6 255.5h0M210.8 257.9h0M204.3 252.3h0M207.3 253.9h0M203.0 252.3h0"/>
<path stroke="#4862e4" d="M205.0 252.3h0M201.1 254.7h0"/>
<path stroke="#b29f52" d="M218.3 254.7h0M221.8 254.7h0M210.9 257.1h0M212.9 253.1h0M221.0 253.1h0M214.5 255.5h0M213.9 250.7h0M214.6 252.3h0M224.9 253.1h0M222.4 253.9h0"/>
<path stroke="#e4be32" d="M225.9 253.9h0"/>
<path stroke="#bba54b" d="M226.5 253.9h0M220.2 253.1h0M224.8 253.9h0"/>
<path stroke="#3d50f7" d="M197.2 253.9h0M180.7 253.9h0M182.1 253.9h0"/>
<path stroke="#747b92" d="M209.5 249.9h0M210.9 253.9h0M208.8 253.9h0M201.6 253.1h0M213.9 252.3h0M210.6 256.3h0M213.2 251.5h0M211.3 249.9h0"/>
<path stroke="#5c70bc" d="M208.3 253.9h0M208.3 257.1h0M207.0 253.1h0M208.8 255.5h0"/>
<path stroke="#546dca" d="M209.9 252.3h0"/>
<path stroke="#8e8970" d="M208.5 254.7h0M212.9 255.5h0M220.3 252.3h0M211.6 253.9h0M212.0 249.9h0"/>
<path stroke="#6c77a0" d="M210.5 250.7h0M206.3 253.1h0M206.0 254.7h0M205.3 253.9h0M210.3 249.1h0M208.2 255.5h0M207.0 251.5h0M206.3 253.9h0M203.6 253.9h0M205.0 255.5h0M211.9 251.5h0"/>
<path stroke="#979067" d="M215.0 253.9h0M207.4 255.5h0M213.9 254.7h0M213.2 252.3h0M210.5 253.1h0"/>
<path stroke="#a09560" d="M219.2 252.3h0M222.7 252.3h0M212.6 256.3h0"/>
<path stroke="#858379" d="M211.0 249.9h0M211.3 257.9h0M210.2 253.9h0M208.4 253.1h0M217.2 253.9h0M209.8 253.1h0"/>
<path stroke="#dcba35" d="M216.9 255.5h0M232.3 253.9h0M216.0 251.5h0"/>
<path stroke="#4e68d7" d="M205.8 255.5h0M210.4 257.1h0M206.7 255.5h0M209.7 248.3h0"/>
<path stroke="#d4b639" d="M218.4 255.5h0M221.8 253.9h0"/>
<path stroke="#7c7e85" d="M211.1 254.7h0M213.9 255.5h0M206.9 252.3h0M212.1 250.7h0M208.3 256.3h0M204.9 253.9h0M207.0 254.7h0M212.9 253.9h0"/>
<path stroke="#c3ab44" d="M218.5 254.7h0M210.2 252.3h0M214.4 253.9h0"/>
<path stroke="#435df0" d="M192.7 253.9h0M198.3 253.9h0M203.1 253.1h0M200.7 253.1h0"/>
<path stroke="#858379" d="M211.4 251.5h0M212.9 256.3h0M212.5 252.3h0M210.8 251.5h0M203.5 254.7h0M210.4 251.5h0"/>
<path stroke="#5c70bc" d="M204.8 254.7h0M203.0 254.7h0M211.7 252.3h0M205.9 253.1h0M207.9 253.1h0M203.2 255.5h0M209.8 249.1h0"/>
<path stroke="#4e68d7" d="M213.4 253.9h0M202.6 253.9h0M203.9 253.9h0M212.0 256.3h0M203.9 251.5h0M207.7 255.5h0"/>
<path stroke="#546dca" d="M200.8 254.7h0M202.9 253.9h0M208.9 250.7h0M209.8 258.7h0M206.9 253.9h0"/>
<path stroke="#a99a59" d="M218.0 253.1h0M218.0 252.3h0M219.6 253.9h0M211.4 255.5h0M208.0 252.3h0M213.4 253.1h0M215.1 253.1h0M219.5 255.5h0M212.7 251.5h0M216.7 253.1h0"/>
<path stroke="#a09560" d="M209.4 249.1h0M218.3 253.9h0M218.0 255.5h0M216.0 252.3h0M214.4 254.7h0M216.0 254.7h0"/>
<path stroke="#4057f4" d="M194.2 253.9h0"/>
<path stroke="#6474ae" d="M207.3 252.3h0M203.9 251.5h0M207.3 251.5h0M204.9 253.1h0M200.8 253.9h0M209.9 257.9h0M212.8 254.7h0M203.4 252.3h0M204.3 255.5h0M202.3 253.9h0M207.1 256.3h0"/>
<path stroke="#3d50f7" d="M192.0 253.9h0"/>
<path stroke="#4862e4" d="M207.2 253.1h0"/>
<path stroke="#b29f52" d="M216.7 253.9h0M223.0 253.9h0M221.3 254.7h0M222.7 253.9h0"/>
<path stroke="#d4b639" d="M221.7 252.3h0"/>
<path stroke="#c3ab44" d="M216.6 254.7h0M219.1 254.7h0M222.8 251.5h0M211.3 250.7h0M220.0 253.9h0M214.1 257.1h0M218.6 253.9h0M225.0 254.7h0"/>
<path stroke="#ccb13d" d="M219.1 253.9h0"/>
<path stroke="#dcba35" d="M217.3 254.7h0"/>
<path stroke="#6c77a0" d="M208.4 252.3h0M210.5 248.3h0M202.8 254.7h0M209.5 258.7h0M205.6 253.9h0M207.6 251.5h0M205.0 253.1h0"/>
<path stroke="#435df0" d="M208.5 250.7h0M211.2 249.1h0"/>
<path stroke="#8e8970" d="M220.3 255.5h0M213.7 253.9h0M209.7 257.1h0M209.7 253.9h0"/>
<path stroke="#bba54b" d="M215.0 254.7h0M220.9 253.9h0M220.0 254.7h0M211.8 257.1h0M223.4 253.1h0M213.7 256.3h0M221.2 253.9h0M218.8 253.1h0M225.1 253.9h0"/>
<path stroke="#3a4afa" d="M190.0 253.9h0"/>
<path stroke="#979067" d="M215.8 255.5h0M212.1 253.1h0"/>
<path stroke="#747b92" d="M209.0 253.1h0M207.7 254.7h0M208.7 254.7h0M210.2 257.9h0M209.0 251.5h0M207.6 253.9h0"/>
<path stroke="#546dca" d="M200.8 252.3h0M210.6 258.7h0M210.9 256.3h0M209.5 251.5h0"/>
<path stroke="#bba54b" d="M216.4 252.3h0M223.6 253.9h0M218.8 252.3h0M215.3 253.9h0M220.7 253.1h0"/>
<path stroke="#979067" d="M213.5 255.5h0M211.5 256.3h0M213.3 252.3h0M222.9 254.7h0"/>
<path stroke="#6474ae" d="M203.9 253.1h0M202.8 253.1h0M206.8 254.7h0M200.2 253.9h0M201.3 253.9h0M213.1 250.7h0"/>
<path stroke="#3a4afa" d="M204.8 252.3h0M197.6 253.9h0"/>
<path stroke="#435df0" d="M210.1 249.9h0"/>
<path stroke="#d4b639" d="M222.8 255.5h0"/>
<path stroke="#747b92" d="M212.6 253.9h0M211.0 250.7h0M212.1 253.9h0M209.1 257.9h0M212.2 255.5h0M210.6 253.1h0M201.5 254.7h0M210.5 255.5h0"/>
<path stroke="#4e68d7" d="M205.9 254.7h0M209.1 256.3h0M204.2 254.7h0"/>
<path stroke="#7c7e85" d="M209.3 250.7h0M209.5 254.7h0M210.4 249.9h0M209.5 253.9h0"/>
<path stroke="#dcba35" d="M216.1 253.1h0"/>
<path stroke="#8e8970" d="M209.6 251.5h0M209.4 252.3h0M214.2 251.5h0M209.6 254.7h0M212.0 257.9h0"/>
<path stroke="#5c70bc" d="M205.5 252.3h0M204.0 253.1h0M209.2 257.1h0M212.5 249.9h0M208.8 257.1h0M208.7 252.3h0M211.5 253.1h0M210.1 256.3h0"/>
<path stroke="#e4be32" d="M219.8 254.7h0"/>
<path stroke="#b29f52" d="M222.4 253.1h0M220.9 254.7h0M213.8 256.3h0M212.7 251.5h0M217.3 253.1h0M228.3 253.9h0M216.1 253.9h0M217.4 252.3h0M224.5 253.9h0"/>
<path stroke="#858379" d="M218.9 253.1h0M209.4 253.1h0M213.9 253.1h0M211.6 254.7h0M213.5 254.7h0M212.3 254.7h0"/>
<path stroke="#3d50f7" d="M190.4 253.9h0"/>
<path stroke="#c3ab44" d="M215.6 253.1h0M223.1 254.7h0M218.9 255.5h0M215.4 254.7h0"/>
<path stroke="#a99a59" d="M217.6 253.1h0M217.7 253.9h0M222.9 253.1h0M219.6 252.3h0M212.7 253.1h0M214.5 253.1h0M211.7 254.7h0"/>
<path stroke="#a09560" d="M209.6 255.5h0M223.7 253.1h0M209.8 250.7h0M212.5 257.1h0M208.2 251.5h0"/>
<path stroke="#4862e4" d="M212.5 250.7h0M210.0 255.5h0M205.3 254.7h0M199.4 253.9h0"/>
<path stroke="#6c77a0" d="M200.0 253.1h0M211.6 257.1h0M211.1 252.3h0M202.9 252.3h0M210.1 254.7h0M208.6 256.3h0M208.0 256.3h0M201.6 253.9h0M211.2 252.3h0M211.1 255.5h0"/>
<path stroke="#ccb13d" d="M229.7 253.9h0"/>
<path stroke="#4e68d7" d="M220.3 274.0h0M221.1 275.6h0M218.6 275.6h0"/>
<path stroke="#e4be32" d="M213.7 274.0h0M208.3 274.8h0"/>
<path stroke="#a99a59" d="M205.4 275.6h0M202.1 274.8h0M205.2 273.2h0"/>
<path stroke="#3a4afa" d="M211.9 277.2h0M208.2 278.0h0M220.9 275.6h0M212.6 277.2h0M219.5 273.2h0M222.1 274.0h0M206.7 274.0h0M207.2 276.4h0"/>
<path stroke="#bba54b" d="M213.5 272.4h0"/>
<path stroke="#7c7e85" d="M212.8 278.8h0M211.0 275.6h0"/>
<path stroke="#b29f52" d="M201.0 274.0h0"/>
<path stroke="#546dca" d="M222.3 274.0h0M218.4 273.2h0"/>
<path stroke="#4057f4" d="M215.9 274.0h0M209.7 276.4h0M214.8 277.2h0M211.7 274.8h0M221.2 273.2h0M208.0 274.8h0M224.0 275.6h0M215.0 273.2h0M219.1 274.8h0M215.6 277.2h0M218.0 273.2h0M213.1 274.0h0"/>
<path stroke="#6c77a0" d="M212.9 276.4h0M211.3 274.0h0"/>
<path stroke="#8e8970" d="M208.3 271.6h0"/>
<path stroke="#d4b639" d="M213.4 273.2h0M215.7 274.8h0M210.0 271.6h0M209.7 274.8h0M197.4 274.8h0M210.6 274.0h0M207.6 277.2h0"/>
<path stroke="#858379" d="M213.4 277.2h0"/>
<path stroke="#a09560" d="M205.4 274.8h0M213.0 279.6h0"/>
<path stroke="#3d50f7" d="M225.8 274.8h0M208.7 270.8h0M218.0 275.6h0M223.2 274.0h0M209.4 277.2h0M236.4 274.8h0M224.4 274.0h0M209.4 275.6h0M209.7 273.2h0"/>
<path stroke="#435df0" d="M219.6 275.6h0M225.1 274.0h0M210.3 275.6h0M213.6 278.0h0M208.6 274.0h0M214.4 275.6h0M216.5 274.8h0"/>
<path stroke="#ccb13d" d="M208.7 277.2h0M211.3 278.8h0M210.1 273.2h0M209.9 272.4h0M215.8 275.6h0M196.0 274.8h0M211.2 272.4h0M197.0 274.8h0"/>
<path stroke="#c3ab44" d="M211.2 271.6h0M203.9 273.2h0M209.8 278.0h0M208.2 276.4h0M210.5 271.6h0M215.0 275.6h0M200.5 275.6h0"/>
<path stroke="#dcba35" d="M214.4 274.8h0M202.6 274.0h0M190.8 274.8h0M205.9 274.0h0M207.1 274.0h0M202.1 276.4h0M210.4 277.2h0"/>
<path stroke="#979067" d="M201.0 275.6h0"/>
<path stroke="#a99a59" d="M205.2 276.4h0M203.6 275.6h0M204.9 274.0h0"/>
<path stroke="#7c7e85" d="M215.2 274.0h0M211.9 279.6h0"/>
<path stroke="#6c77a0" d="M212.3 272.4h0"/>
<path stroke="#ccb13d" d="M206.2 276.4h0M201.7 275.6h0M193.1 274.8h0M199.3 274.8h0M209.5 277.2h0"/>
<path stroke="#d4b639" d="M215.5 274.8h0M210.5 274.0h0M210.4 272.4h0M207.9 273.2h0M212.7 270.0h0M213.2 271.6h0M206.6 275.6h0M214.7 273.2h0M212.1 270.8h0"/>
<path stroke="#546dca" d="M221.7 275.6h0"/>
<path stroke="#4862e4" d="M220.0 274.8h0M222.1 274.8h0M223.9 274.0h0"/>
<path stroke="#435df0" d="M220.9 274.8h0M221.2 272.4h0M212.4 270.0h0M207.6 275.6h0M224.7 274.8h0M222.6 274.8h0M211.4 273.2h0"/>
<path stroke="#858379" d="M203.1 273.2h0"/>
<path stroke="#4e68d7" d="M219.7 274.0h0"/>
<path stroke="#3d50f7" d="M208.0 274.0h0M209.3 276.4h0M225.1 275.6h0M210.2 274.8h0M211.9 275.6h0M210.8 270.0h0M209.3 270.8h0M225.9 274.0h0M214.0 274.8h0"/>
<path stroke="#3a4afa" d="M213.4 274.8h0M211.2 275.6h0M207.5 273.2h0M221.3 276.4h0"/>
<path stroke="#a09560" d="M200.7 274.0h0"/>
<path stroke="#c3ab44" d="M195.2 274.8h0M212.7 270.8h0M209.6 274.0h0M204.2 274.8h0"/>
<path stroke="#8e8970" d="M213.5 275.6h0M212.7 274.0h0M209.2 278.8h0"/>
<path stroke="#747b92" d="M207.0 272.4h0"/>
<path stroke="#979067" d="M208.8 272.4h0"/>
<path stroke="#bba54b" d="M202.7 274.8h0M202.6 273.2h0M204.1 274.0h0M201.2 274.8h0"/>
<path stroke="#5c70bc" d="M221.6 274.0h0"/>
<path stroke="#b29f52" d="M204.7 275.6h0M208.0 271.6h0M205.4 274.0h0M203.4 273.2h0"/>
<path stroke="#dcba35" d="M211.7 278.0h0M207.7 272.4h0M182.9 274.8h0M203.8 274.0h0M176.8 274.8h0"/>
<path stroke="#4057f4" d="M211.4 277.2h0M206.8 274.8h0M211.8 271.6h0M212.2 273.2h0M212.5 271.6h0M226.2 275.6h0M225.1 274.8h0M212.7 275.6h0M215.8 272.4h0M218.6 274.0h0M219.1 275.6h0M215.6 276.4h0M212.5 273.2h0M214.2 272.4h0M216.8 274.8h0"/>
<path stroke="#6474ae" d="M222.3 275.6h0"/>
<path stroke="#979067" d="M201.6 274.8h0"/>
<path stroke="#7c7e85" d="M211.0 272.4h0"/>
<path stroke="#5c70bc" d="M223.7 273.2h0"/>
<path stroke="#3a4afa" d="M224.1 274.8h0M214.3 276.4h0M217.8 274.8h0M212.3 274.8h0M207.9 278.0h0M214.0 276.4h0"/>
<path stroke="#3d50f7" d="M211.2 274.8h0M228.5 274.8h0M221.5 274.8h0M206.1 273.2h0M211.3 270.8h0M211.9 278.0h0M213.1 272.4h0M206.8 273.2h0M211.9 274.0h0M226.1 274.0h0M230.2 274.8h0M211.5 276.4h0M216.3 274.0h0M214.3 273.2h0M218.0 274.8h0M211.2 273.2h0"/>
<path stroke="#a99a59" d="M201.8 274.0h0"/>
<path stroke="#a09560" d="M204.4 275.6h0M204.2 276.4h0"/>
<path stroke="#d4b639" d="M207.1 275.6h0M204.7 274.8h0M208.0 276.4h0M204.9 273.2h0M209.3 273.2h0M211.2 277.2h0M208.9 274.8h0"/>
<path stroke="#435df0" d="M210.7 278.0h0M219.6 274.8h0M206.1 272.4h0M220.9 274.0h0M212.3 278.8h0"/>
<path stroke="#546dca" d="M221.7 273.2h0"/>
<path stroke="#c3ab44" d="M202.2 275.6h0M201.1 273.2h0M198.7 274.8h0M202.8 275.6h0M208.5 272.4h0M202.1 272.4h0"/>
<path stroke="#e4be32" d="M197.9 274.8h0"/>
<path stroke="#6474ae" d="M212.4 276.4h0M212.4 271.6h0M218.5 274.0h0"/>
<path stroke="#4862e4" d="M205.9 274.8h0M226.3 274.8h0"/>
<path stroke="#4057f4" d="M212.7 278.0h0M222.9 274.8h0M208.2 273.2h0M215.4 276.4h0M213.9 275.6h0M205.9 277.2h0M215.7 273.2h0"/>
<path stroke="#bba54b" d="M204.8 276.4h0M200.4 274.8h0M207.3 274.8h0"/>
<path stroke="#dcba35" d="M175.0 274.8h0M210.9 278.8h0M214.3 274.0h0M209.2 274.0h0M211.1 270.8h0M213.4 276.4h0M195.6 274.8h0"/>
<path stroke="#ccb13d" d="M210.1 276.4h0M209.2 278.0h0M208.8 271.6h0M202.8 274.0h0M201.8 273.2h0M205.8 275.6h0M203.8 274.8h0"/>
<path stroke="#4e68d7" d="M208.6 275.6h0M214.5 272.4h0M217.8 274.0h0"/>
<path stroke="#8e8970" d="M212.8 274.8h0"/>
<path stroke="#747b92" d="M214.4 271.6h0M211.1 279.6h0M214.0 277.2h0M210.8 276.4h0M212.3 269.2h0"/>
<path stroke="#858379" d="M209.0 275.6h0"/>
<path stroke="#ccb13d" d="M212.7 295.7h0M214.4 298.9h0M213.9 299.7h0M217.2 294.9h0M221.2 295.7h0"/>
<path stroke="#6c77a0" d="M207.1 294.9h0"/>
<path stroke="#c3ab44" d="M213.2 292.5h0M212.4 298.1h0M222.6 294.9h0M210.4 298.1h0M208.1 297.3h0"/>
<path stroke="#3d50f7" d="M158.4 295.7h0M185.5 295.7h0"/>
<path stroke="#4862e4" d="M203.6 294.9h0M204.5 296.5h0M205.9 297.3h0"/>
<path stroke="#979067" d="M211.7 298.9h0M214.1 294.9h0M211.4 290.9h0M211.1 296.5h0M208.1 295.7h0"/>
<path stroke="#a99a59" d="M215.3 295.7h0M208.8 297.3h0M210.0 290.9h0M221.2 294.9h0M216.7 296.5h0M212.8 296.5h0M220.5 295.7h0"/>
<path stroke="#bba54b" d="M215.2 297.3h0M209.8 294.1h0M211.7 299.7h0M223.6 295.7h0"/>
<path stroke="#b29f52" d="M221.6 296.5h0M216.6 294.9h0M220.4 294.9h0M217.6 295.7h0"/>
<path stroke="#747b92" d="M206.5 296.5h0"/>
<path stroke="#8e8970" d="M204.7 294.9h0M208.5 294.1h0M211.1 297.3h0"/>
<path stroke="#e4be32" d="M214.7 298.1h0M213.6 295.7h0M212.6 293.3h0M211.3 294.9h0M212.7 291.7h0M210.3 292.5h0M214.8 294.9h0M214.8 298.1h0M212.3 292.5h0"/>
<path stroke="#4e68d7" d="M196.4 295.7h0M205.9 295.7h0"/>
<path stroke="#7c7e85" d="M209.7 299.7h0M210.4 294.1h0M222.3 295.7h0"/>
<path stroke="#4057f4" d="M203.0 295.7h0"/>
<path stroke="#dcba35" d="M211.9 295.7h0M210.9 300.5h0M210.3 294.9h0M214.3 293.3h0M215.1 293.3h0M208.4 294.9h0"/>
<path stroke="#a09560" d="M212.4 297.3h0M218.9 295.7h0M223.5 294.9h0M218.3 294.1h0M221.0 296.5h0"/>
<path stroke="#6474ae" d="M204.2 294.9h0M207.0 296.5h0M207.7 294.9h0M205.4 295.7h0M207.1 295.7h0"/>
<path stroke="#5c70bc" d="M194.5 295.7h0"/>
<path stroke="#747b92" d="M209.1 296.5h0"/>
<path stroke="#3d50f7" d="M173.3 295.7h0M171.5 295.7h0M227.1 295.7h0M163.7 295.7h0"/>
<path stroke="#979067" d="M217.6 294.1h0M212.9 294.1h0"/>
<path stroke="#858379" d="M216.5 295.7h0M209.6 298.1h0M212.4 294.1h0M207.4 296.5h0"/>
<path stroke="#d4b639" d="M209.5 290.1h0"/>
<path stroke="#bba54b" d="M211.3 293.3h0M220.3 296.5h0M209.2 294.9h0M219.4 296.5h0"/>
<path stroke="#5c70bc" d="M204.4 296.5h0M204.2 295.7h0"/>
<path stroke="#c3ab44" d="M213.1 298.1h0M215.8 295.7h0M215.7 294.1h0M212.6 296.5h0M216.5 294.1h0M219.5 294.9h0M210.9 294.1h0M215.9 296.5h0M213.1 293.3h0M214.2 297.3h0M221.8 294.9h0M217.1 295.7h0"/>
<path stroke="#e4be32" d="M210.2 297.3h0M210.5 293.3h0M212.9 297.3h0M210.9 291.7h0M213.6 293.3h0M209.2 294.1h0M209.5 291.7h0M214.5 294.1h0M212.2 300.5h0M210.6 295.7h0M211.4 291.7h0M212.6 290.9h0"/>
<path stroke="#8e8970" d="M212.4 298.9h0M213.8 296.5h0"/>
<path stroke="#7c7e85" d="M214.2 295.7h0"/>
<path stroke="#6c77a0" d="M203.1 295.7h0"/>
<path stroke="#a09560" d="M222.9 295.7h0M212.8 299.7h0M211.6 293.3h0M212.4 299.7h0M223.7 294.9h0M209.8 300.5h0M211.9 292.5h0"/>
<path stroke="#b29f52" d="M208.5 298.1h0M217.6 296.5h0M219.2 294.1h0M215.2 294.1h0M211.5 300.5h0M210.6 296.5h0"/>
<path stroke="#ccb13d" d="M216.5 297.3h0M216.0 294.9h0M213.0 290.9h0M209.1 295.7h0"/>
<path stroke="#3a4afa" d="M193.5 295.7h0"/>
<path stroke="#a99a59" d="M214.1 299.7h0M218.7 297.3h0M209.7 296.5h0M211.7 294.1h0"/>
<path stroke="#6474ae" d="M212.9 294.9h0M205.1 294.1h0M204.8 295.7h0"/>
<path stroke="#435df0" d="M205.2 296.5h0"/>
<path stroke="#d4b639" d="M214.4 296.5h0"/>
<path stroke="#c3ab44" d="M209.7 292.5h0M211.2 298.1h0M209.8 293.3h0M213.1 298.9h0"/>
<path stroke="#8e8970" d="M220.1 294.9h0M216.1 297.3h0M209.2 295.7h0M211.0 292.5h0M208.6 293.3h0M210.2 298.9h0M213.6 298.1h0M217.4 294.1h0"/>
<path stroke="#3a4afa" d="M201.4 295.7h0"/>
<path stroke="#4057f4" d="M197.3 295.7h0"/>
<path stroke="#858379" d="M209.8 297.3h0M214.3 292.5h0M207.6 295.7h0M219.8 296.5h0"/>
<path stroke="#ccb13d" d="M220.0 295.7h0M213.6 291.7h0M224.9 294.9h0"/>
<path stroke="#4e68d7" d="M205.3 294.9h0"/>
<path stroke="#dcba35" d="M208.4 293.3h0"/>
<path stroke="#979067" d="M209.7 298.9h0M212.5 295.7h0M211.0 295.7h0M209.2 292.5h0"/>
<path stroke="#7c7e85" d="M211.2 298.9h0M213.9 294.9h0M213.7 297.3h0"/>
<path stroke="#b29f52" d="M218.2 294.9h0M218.4 296.5h0M208.6 298.1h0M224.6 296.5h0"/>
<path stroke="#5c70bc" d="M203.4 296.5h0M213.6 292.5h0M206.2 294.1h0"/>
<path stroke="#a09560" d="M216.0 293.3h0M215.1 292.5h0M212.0 291.7h0M223.7 296.5h0M213.8 294.1h0M211.2 290.9h0M217.8 297.3h0"/>
<path stroke="#6474ae" d="M207.9 294.1h0M206.3 294.9h0"/>
<path stroke="#3d50f7" d="M184.7 295.7h0M179.4 295.7h0"/>
<path stroke="#4862e4" d="M197.9 295.7h0"/>
<path stroke="#bba54b" d="M211.5 298.1h0M211.1 299.7h0M212.5 294.9h0M210.6 291.7h0M211.0 294.9h0M211.7 296.5h0"/>
<path stroke="#e4be32" d="M209.7 294.9h0M211.9 297.3h0M209.7 301.3h0M214.7 291.7h0M209.9 290.9h0M210.4 299.7h0"/>
<path stroke="#a99a59" d="M213.7 298.9h0M217.9 294.9h0M217.3 296.5h0M222.1 294.1h0M218.3 295.7h0M208.0 296.5h0M224.1 295.7h0M223.5 296.5h0"/>
<path stroke="#747b92" d="M224.9 295.7h0M215.2 296.5h0"/>
<path stroke="#6c77a0" d="M212.3 315.7h0M211.8 318.2h0M215.2 314.8h0"/>
<path stroke="#3a4afa" d="M220.3 317.3h0M216.9 315.7h0M227.6 316.5h0M225.0 316.5h0M220.9 316.5h0"/>
<path stroke="#e4be32" d="M200.6 314.0h0M206.8 310.7h0M202.5 315.7h0M206.3 314.0h0M205.4 316.5h0M205.2 317.3h0M201.4 316.5h0"/>
<path stroke="#ccb13d" d="M199.6 317.3h0M205.6 322.3h0M209.0 314.0h0M208.1 316.5h0M201.0 315.7h0M206.3 313.2h0M208.3 313.2h0M206.3 319.8h0M202.6 314.8h0"/>
<path stroke="#4e68d7" d="M219.4 316.5h0M214.7 317.3h0M215.3 315.7h0"/>
<path stroke="#7c7e85" d="M208.8 315.7h0M207.6 314.0h0M208.7 318.2h0"/>
<path stroke="#546dca" d="M212.0 319.0h0M221.3 316.5h0M216.2 317.3h0"/>
<path stroke="#8e8970" d="M209.9 312.4h0M206.9 312.4h0M210.6 316.5h0M206.7 318.2h0M207.5 316.5h0"/>
<path stroke="#a99a59" d="M203.6 314.8h0M205.2 313.2h0M204.7 317.3h0M209.3 320.7h0M209.2 314.0h0M203.1 316.5h0"/>
<path stroke="#dcba35" d="M206.5 316.5h0M205.2 312.4h0M203.7 318.2h0M201.0 313.2h0"/>
<path stroke="#858379" d="M216.3 315.7h0"/>
<path stroke="#d4b639" d="M204.4 317.3h0M202.5 318.2h0M208.3 319.8h0M206.0 318.2h0M201.7 316.5h0M205.7 310.7h0M209.9 314.0h0"/>
<path stroke="#5c70bc" d="M215.3 316.5h0M213.7 318.2h0M210.8 317.3h0M221.3 315.7h0M216.8 317.3h0"/>
<path stroke="#979067" d="M210.3 318.2h0M205.2 318.2h0M210.5 312.4h0"/>
<path stroke="#747b92" d="M209.2 317.3h0M213.4 316.5h0M208.3 319.0h0"/>
<path stroke="#a09560" d="M203.4 314.8h0M209.6 315.7h0M206.2 317.3h0M208.3 318.2h0M210.4 317.3h0"/>
<path stroke="#3d50f7" d="M217.6 316.5h0M219.6 316.5h0"/>
<path stroke="#c3ab44" d="M204.8 320.7h0M203.5 312.4h0M205.1 314.8h0M205.8 319.8h0M206.7 321.5h0M205.7 319.0h0M205.7 316.5h0M204.8 314.0h0M205.0 311.5h0M204.4 316.5h0"/>
<path stroke="#bba54b" d="M206.2 312.4h0M210.3 315.7h0M204.5 318.2h0M198.3 314.8h0M203.5 312.4h0M204.8 319.8h0M204.9 312.4h0"/>
<path stroke="#4862e4" d="M219.0 315.7h0M213.0 315.7h0M220.6 315.7h0"/>
<path stroke="#b29f52" d="M207.2 315.7h0M209.2 319.0h0M205.7 313.2h0M206.4 319.0h0M205.7 314.0h0M198.8 316.5h0M198.2 315.7h0M209.3 315.7h0"/>
<path stroke="#b29f52" d="M206.4 311.5h0"/>
<path stroke="#ccb13d" d="M206.6 322.3h0M203.8 313.2h0M205.8 317.3h0M206.9 320.7h0M203.5 318.2h0M205.7 315.7h0M200.3 316.5h0M200.6 317.3h0M207.7 319.8h0M207.6 319.0h0M199.4 314.8h0"/>
<path stroke="#858379" d="M209.8 320.7h0M211.9 317.3h0M209.8 319.8h0"/>
<path stroke="#3a4afa" d="M222.9 316.5h0"/>
<path stroke="#4057f4" d="M218.6 316.5h0"/>
<path stroke="#dcba35" d="M203.3 317.3h0M205.8 320.7h0M205.9 312.4h0M203.3 314.0h0"/>
<path stroke="#8e8970" d="M208.5 314.8h0M205.5 315.7h0M209.0 316.5h0M208.9 316.5h0M207.7 317.3h0M213.5 318.2h0M211.1 317.3h0"/>
<path stroke="#4e68d7" d="M214.0 317.3h0"/>
<path stroke="#bba54b" d="M209.4 319.8h0M201.6 318.2h0M206.8 315.7h0M205.4 319.0h0M207.8 318.2h0M206.7 313.2h0"/>
<path stroke="#c3ab44" d="M203.7 314.0h0M202.0 317.3h0M210.7 314.8h0M205.9 318.2h0M206.5 314.0h0M206.8 311.5h0M202.3 316.5h0M204.7 311.5h0M204.9 315.7h0M205.0 314.0h0"/>
<path stroke="#a09560" d="M207.1 312.4h0M208.3 315.7h0"/>
<path stroke="#7c7e85" d="M212.7 314.8h0M214.4 317.3h0M210.9 315.7h0M211.6 316.5h0"/>
<path stroke="#a99a59" d="M207.1 314.0h0M205.6 321.5h0M209.2 312.4h0M205.2 319.8h0M209.9 313.2h0"/>
<path stroke="#5c70bc" d="M211.4 315.7h0M213.2 317.3h0M215.6 315.7h0M216.4 316.5h0M212.3 314.8h0"/>
<path stroke="#747b92" d="M211.1 316.5h0M215.0 315.7h0M212.7 317.3h0"/>
<path stroke="#6c77a0" d="M214.2 315.7h0M212.7 318.2h0M213.0 316.5h0M215.2 317.3h0M211.8 314.8h0M210.3 313.2h0"/>
<path stroke="#979067" d="M208.5 314.0h0M210.1 319.8h0M207.8 313.2h0M209.6 317.3h0"/>
<path stroke="#d4b639" d="M207.8 314.8h0M203.3 319.0h0M204.6 319.0h0M203.8 319.0h0M203.1 313.2h0M203.9 317.3h0M207.5 313.2h0M202.7 316.5h0M206.3 315.7h0M201.5 315.7h0"/>
<path stroke="#6474ae" d="M213.5 316.5h0M212.5 314.0h0M215.0 318.2h0M211.5 314.0h0"/>
<path stroke="#3d50f7" d="M232.3 316.5h0M220.8 317.3h0"/>
<path stroke="#4862e4" d="M216.2 314.8h0M214.8 318.2h0"/>
<path stroke="#546dca" d="M214.4 314.0h0M216.7 316.5h0"/>
<path stroke="#435df0" d="M220.1 315.7h0M229.2 316.5h0"/>
<path stroke="#e4be32" d="M203.2 315.7h0M202.0 318.2h0M199.2 316.5h0M198.9 315.7h0M200.4 315.7h0M199.3 317.3h0"/>
<path stroke="#e4be32" d="M198.5 314.8h0M207.3 314.8h0M208.2 317.3h0M208.9 317.3h0M198.3 316.5h0M200.8 318.2h0M202.7 317.3h0M208.8 313.2h0M204.5 321.5h0M204.6 310.7h0M204.8 316.5h0M198.8 317.3h0"/>
<path stroke="#dcba35" d="M204.5 313.2h0M200.8 314.8h0M207.1 318.2h0M209.1 318.2h0M203.8 316.5h0M203.7 315.7h0"/>
<path stroke="#5c70bc" d="M215.7 316.5h0M212.2 318.2h0M214.9 316.5h0M213.0 314.0h0M214.0 314.8h0M214.7 314.8h0"/>
<path stroke="#ccb13d" d="M205.4 320.7h0M206.6 317.3h0M205.8 311.5h0M207.3 319.8h0M203.0 319.8h0M199.2 315.7h0M210.2 314.0h0M201.2 317.3h0M200.8 316.5h0M207.2 319.0h0M207.4 320.7h0"/>
<path stroke="#979067" d="M209.9 318.2h0M208.0 320.7h0"/>
<path stroke="#d4b639" d="M205.5 321.5h0M200.4 317.3h0M206.3 320.7h0M206.7 316.5h0M207.7 312.4h0M202.3 317.3h0M199.9 316.5h0M200.5 315.7h0M204.7 318.2h0M204.9 314.8h0"/>
<path stroke="#4e68d7" d="M217.5 316.5h0"/>
<path stroke="#7c7e85" d="M209.2 314.8h0"/>
<path stroke="#3a4afa" d="M228.8 316.5h0M218.9 315.7h0"/>
<path stroke="#b29f52" d="M207.9 321.5h0M209.5 314.8h0M204.8 322.3h0M206.9 314.8h0M206.9 319.0h0M204.5 313.2h0"/>
<path stroke="#c3ab44" d="M206.6 319.8h0M201.6 314.8h0M201.1 314.8h0M209.9 319.0h0M205.6 314.8h0M208.8 314.8h0M210.4 316.5h0M207.3 317.3h0M198.0 317.3h0M204.4 315.7h0"/>
<path stroke="#435df0" d="M229.5 316.5h0"/>
<path stroke="#4862e4" d="M216.8 314.8h0"/>
<path stroke="#3d50f7" d="M242.5 316.5h0"/>
<path stroke="#a09560" d="M206.2 314.8h0M203.7 319.8h0M204.1 319.0h0M210.1 319.0h0"/>
<path stroke="#bba54b" d="M209.7 311.5h0M207.7 315.7h0M200.3 314.8h0M204.1 314.0h0M208.9 319.8h0M199.5 315.7h0M202.1 314.8h0"/>
<path stroke="#6474ae" d="M213.2 314.8h0M213.7 315.7h0M213.1 315.7h0"/>
<path stroke="#546dca" d="M212.4 316.5h0"/>
<path stroke="#8e8970" d="M208.7 319.0h0M207.7 311.5h0"/>
<path stroke="#4057f4" d="M220.4 316.5h0M228.4 316.5h0"/>
<path stroke="#6c77a0" d="M210.1 314.8h0M214.4 316.5h0"/>
<path stroke="#a99a59" d="M199.4 318.2h0M202.1 315.7h0M204.4 314.8h0M209.8 316.5h0M207.2 316.5h0M209.0 313.2h0M200.8 319.0h0"/>
<path stroke="#747b92" d="M214.3 314.8h0M208.8 312.4h0M211.7 315.7h0M212.4 317.3h0M214.1 318.2h0"/>
<path stroke="#6474ae" d="M209.4 338.9h0"/>
<path stroke="#dcba35" d="M205.5 333.6h0M212.9 335.8h0M217.5 335.8h0M234.1 337.4h0M209.7 333.6h0M206.4 337.4h0"/>
<path stroke="#3a4afa" d="M209.4 341.2h0M208.9 337.4h0M209.5 332.8h0M205.0 335.8h0M208.9 339.7h0M207.3 338.1h0M212.1 334.3h0M209.2 336.6h0"/>
<path stroke="#546dca" d="M203.5 335.8h0"/>
<path stroke="#747b92" d="M210.8 335.1h0"/>
<path stroke="#e4be32" d="M215.7 338.1h0"/>
<path stroke="#bba54b" d="M218.6 337.4h0M210.4 339.7h0"/>
<path stroke="#4862e4" d="M203.2 335.1h0M204.8 336.6h0M205.8 335.1h0M200.0 337.4h0M202.4 338.1h0"/>
<path stroke="#4e68d7" d="M200.7 335.8h0M200.8 337.4h0M200.4 338.1h0"/>
<path stroke="#c3ab44" d="M210.1 335.8h0M217.3 336.6h0M214.0 335.8h0M218.0 338.9h0M212.2 339.7h0"/>
<path stroke="#a99a59" d="M216.4 336.6h0M219.3 338.9h0"/>
<path stroke="#3d50f7" d="M208.9 335.8h0M205.5 339.7h0M206.9 336.6h0M208.7 334.3h0M202.8 336.6h0M211.0 338.9h0M212.0 335.1h0M203.6 338.9h0M201.7 338.1h0M208.2 337.4h0M204.3 339.7h0M210.0 337.4h0M204.3 335.8h0M207.2 338.9h0M209.4 335.1h0M206.0 338.9h0"/>
<path stroke="#8e8970" d="M205.4 336.6h0M219.1 338.1h0"/>
<path stroke="#ccb13d" d="M206.2 338.1h0M216.1 338.1h0M208.5 335.1h0M210.4 332.0h0M211.8 339.7h0M208.1 342.0h0M214.6 338.1h0M210.1 338.9h0M206.0 335.8h0M210.2 342.7h0"/>
<path stroke="#7c7e85" d="M210.8 338.9h0M207.1 340.4h0M206.3 342.0h0"/>
<path stroke="#d4b639" d="M207.1 336.6h0M217.6 337.4h0M213.8 335.1h0M218.9 335.1h0M219.7 336.6h0M206.6 335.8h0M210.3 339.7h0M209.9 340.4h0M211.9 336.6h0"/>
<path stroke="#5c70bc" d="M202.0 335.8h0"/>
<path stroke="#a09560" d="M215.0 336.6h0"/>
<path stroke="#4057f4" d="M200.6 338.9h0M207.5 333.6h0M210.5 333.6h0M210.6 342.0h0M208.6 336.6h0M212.6 335.1h0M208.0 336.6h0M210.1 336.6h0M207.6 332.8h0M207.2 334.3h0M202.8 334.3h0M205.6 337.4h0M205.3 340.4h0M210.1 341.2h0"/>
<path stroke="#979067" d="M216.3 337.4h0M211.6 334.3h0M216.7 335.8h0"/>
<path stroke="#b29f52" d="M217.3 338.1h0"/>
<path stroke="#858379" d="M207.2 335.8h0"/>
<path stroke="#435df0" d="M206.5 335.1h0M205.8 335.8h0M212.0 340.4h0M205.4 338.9h0M201.3 336.6h0M208.3 335.8h0M204.6 335.8h0"/>
<path stroke="#3a4afa" d="M204.8 338.1h0M200.5 336.6h0M206.4 333.6h0M204.5 337.4h0M207.4 336.6h0M205.5 334.3h0M208.9 338.1h0"/>
<path stroke="#747b92" d="M209.2 339.7h0M210.9 341.2h0M206.9 332.8h0"/>
<path stroke="#ccb13d" d="M210.3 342.0h0M215.1 335.8h0M212.3 332.0h0M213.2 336.6h0M211.8 335.8h0M213.0 334.3h0M205.6 340.4h0M207.7 338.1h0M208.8 338.9h0M211.4 335.1h0M205.0 338.1h0M209.3 334.3h0"/>
<path stroke="#dcba35" d="M212.7 336.6h0M218.1 336.6h0M211.2 332.8h0M225.3 337.4h0M221.0 337.4h0M208.8 332.8h0M210.0 332.8h0M229.7 337.4h0"/>
<path stroke="#4e68d7" d="M202.1 338.1h0M204.1 337.4h0"/>
<path stroke="#3d50f7" d="M213.1 335.1h0M210.9 332.8h0M201.6 337.4h0M210.9 335.8h0M206.8 337.4h0M208.9 338.1h0M208.1 341.2h0M207.0 333.6h0M210.1 338.1h0M213.3 340.4h0M212.5 337.4h0M210.2 335.1h0M209.8 338.1h0M200.2 336.6h0"/>
<path stroke="#d4b639" d="M206.7 338.9h0M206.9 335.1h0M208.2 334.3h0M212.4 342.0h0M212.0 338.9h0M213.4 338.1h0M212.0 337.4h0M212.7 338.1h0"/>
<path stroke="#bba54b" d="M216.1 338.9h0M218.7 338.9h0M215.3 338.1h0"/>
<path stroke="#979067" d="M219.0 335.1h0"/>
<path stroke="#a09560" d="M218.7 335.8h0M214.4 335.8h0M217.5 336.6h0M215.9 337.4h0M208.3 335.1h0"/>
<path stroke="#4862e4" d="M206.4 340.4h0M212.6 339.7h0M202.5 335.8h0M202.8 335.1h0M202.8 337.4h0M201.0 338.1h0M202.3 336.6h0"/>
<path stroke="#b29f52" d="M216.8 338.1h0M215.1 337.4h0M218.0 337.4h0M215.8 336.6h0"/>
<path stroke="#6c77a0" d="M211.2 334.3h0M210.5 335.8h0"/>
<path stroke="#4057f4" d="M211.0 339.7h0M208.8 341.2h0M210.9 340.4h0M203.0 338.1h0M207.4 341.2h0M202.6 339.7h0M211.9 332.8h0M207.5 340.4h0M203.3 335.8h0M210.8 334.3h0M203.3 338.9h0M203.7 335.1h0M208.9 337.4h0"/>
<path stroke="#c3ab44" d="M217.5 338.1h0"/>
<path stroke="#435df0" d="M207.4 337.4h0M209.2 340.4h0M202.1 337.4h0M208.2 340.4h0M207.9 339.7h0M210.8 338.1h0M206.4 336.6h0"/>
<path stroke="#546dca" d="M204.2 338.1h0"/>
<path stroke="#e4be32" d="M209.8 335.8h0"/>
<path stroke="#7c7e85" d="M207.0 337.4h0M208.1 338.1h0M205.9 335.1h0M212.7 338.9h0"/>
<path stroke="#5c70bc" d="M204.0 338.9h0"/>
<path stroke="#e4be32" d="M212.0 335.8h0"/>
<path stroke="#b29f52" d="M213.9 336.6h0M214.0 337.4h0"/>
<path stroke="#d4b639" d="M216.0 335.8h0M210.6 340.4h0M209.6 335.1h0M212.3 333.6h0M213.3 338.9h0M210.2 334.3h0M211.3 333.6h0M216.7 338.9h0M213.7 335.8h0M213.5 336.6h0M208.3 332.8h0M211.1 335.1h0M209.6 338.9h0"/>
<path stroke="#bba54b" d="M218.1 335.8h0M214.0 338.1h0"/>
<path stroke="#4862e4" d="M203.7 339.7h0M202.0 338.9h0M208.0 339.7h0"/>
<path stroke="#ccb13d" d="M213.0 335.8h0M208.5 340.4h0M205.0 334.3h0M213.6 337.4h0M219.0 336.6h0M207.0 339.7h0"/>
<path stroke="#8e8970" d="M210.6 336.6h0"/>
<path stroke="#6474ae" d="M205.2 336.6h0M208.2 333.6h0"/>
<path stroke="#dcba35" d="M211.5 337.4h0M213.5 338.9h0M213.0 337.4h0M218.8 336.6h0M217.9 338.1h0"/>
<path stroke="#3a4afa" d="M207.7 335.8h0M209.8 336.6h0M202.9 337.4h0M209.7 334.3h0M200.0 338.1h0M205.2 335.1h0M213.3 338.1h0M204.2 335.1h0M207.6 334.3h0M211.4 336.6h0M206.9 341.2h0M205.4 338.1h0"/>
<path stroke="#6c77a0" d="M205.0 338.9h0"/>
<path stroke="#435df0" d="M211.4 340.4h0M201.5 336.6h0M203.7 337.4h0M211.5 338.1h0M206.8 338.1h0M205.0 339.7h0M208.5 333.6h0M206.2 332.8h0"/>
<path stroke="#3d50f7" d="M207.7 335.1h0M209.8 341.2h0M206.7 339.7h0M204.4 338.9h0M211.5 338.9h0M212.3 341.2h0M210.1 333.6h0M210.6 341.2h0M212.3 338.1h0M201.2 337.4h0M195.9 337.4h0M210.5 337.4h0M203.9 338.1h0M209.1 335.8h0M209.5 337.4h0M206.8 334.3h0M207.7 338.9h0"/>
<path stroke="#7c7e85" d="M206.2 339.7h0M213.1 339.7h0"/>
<path stroke="#546dca" d="M204.2 336.6h0M203.0 339.7h0"/>
<path stroke="#c3ab44" d="M212.2 336.6h0M209.7 339.7h0M210.9 338.1h0M215.8 338.9h0M217.2 337.4h0M210.4 340.4h0M205.7 341.2h0M214.7 337.4h0"/>
<path stroke="#a09560" d="M219.3 337.4h0M219.8 337.4h0"/>
<path stroke="#a99a59" d="M214.7 336.6h0M216.7 337.4h0M218.8 338.1h0M215.8 335.8h0M219.0 335.8h0M216.3 336.6h0"/>
<path stroke="#858379" d="M208.1 338.9h0"/>
<path stroke="#4057f4" d="M211.2 337.4h0M209.0 333.6h0M203.0 336.6h0M206.1 334.3h0M205.3 337.4h0M206.0 341.2h0M202.9 338.9h0"/>
<path stroke="#4e68d7" d="M203.8 336.6h0M202.3 335.1h0M204.8 335.1h0"/>
<path stroke="#6c77a0" d="M218.1 360.2h0M215.8 358.2h0M214.9 362.1h0M211.2 357.3h0M209.9 358.2h0M211.2 358.2h0"/>
<path stroke="#979067" d="M211.6 359.2h0M210.9 362.1h0M218.9 358.2h0M217.1 356.3h0M212.8 362.1h0M210.6 355.3h0"/>
<path stroke="#ccb13d" d="M213.0 355.3h0M206.4 358.2h0"/>
<path stroke="#d4b639" d="M208.5 360.2h0M209.6 357.3h0M202.3 358.2h0M205.5 359.2h0M200.8 359.2h0M198.2 357.3h0M202.2 356.3h0M204.9 359.2h0M210.0 357.3h0M208.6 361.1h0"/>
<path stroke="#dcba35" d="M198.8 358.2h0M200.8 355.3h0M202.5 357.3h0"/>
<path stroke="#858379" d="M210.5 363.1h0M215.0 361.1h0M211.3 363.1h0M214.2 357.3h0M215.5 360.2h0M217.1 359.2h0M216.4 359.2h0M211.7 354.4h0M207.4 358.2h0M211.9 354.4h0"/>
<path stroke="#4862e4" d="M205.7 361.1h0"/>
<path stroke="#7c7e85" d="M207.0 358.2h0M209.3 353.4h0M212.0 353.4h0M213.9 356.3h0M213.4 362.1h0M220.8 359.2h0M200.5 357.3h0M213.4 361.1h0M210.6 352.4h0M220.4 359.2h0M221.0 358.2h0"/>
<path stroke="#435df0" d="M209.1 358.2h0M204.9 356.3h0M206.5 359.2h0M207.3 359.2h0"/>
<path stroke="#3d50f7" d="M212.8 358.2h0M205.3 356.3h0M205.5 360.2h0M206.7 356.3h0M207.9 361.1h0M205.8 356.3h0"/>
<path stroke="#b29f52" d="M212.7 357.3h0M213.3 355.3h0"/>
<path stroke="#546dca" d="M215.4 361.1h0M214.3 358.2h0"/>
<path stroke="#747b92" d="M219.4 359.2h0M211.4 362.1h0M214.6 360.2h0M214.2 357.3h0M211.9 363.1h0M211.9 364.0h0"/>
<path stroke="#e4be32" d="M206.4 356.3h0M200.2 358.2h0"/>
<path stroke="#c3ab44" d="M204.8 358.2h0M208.4 356.3h0"/>
<path stroke="#6474ae" d="M220.8 357.3h0M218.3 358.2h0M214.7 362.1h0"/>
<path stroke="#a09560" d="M208.8 357.3h0M211.1 356.3h0M212.9 360.2h0"/>
<path stroke="#3a4afa" d="M209.6 361.1h0M197.2 358.2h0M206.0 360.2h0"/>
<path stroke="#4057f4" d="M200.1 359.2h0M205.6 358.2h0M207.1 360.2h0M203.5 356.3h0M203.3 359.2h0M206.0 358.2h0M207.8 358.2h0"/>
<path stroke="#bba54b" d="M211.0 360.2h0M211.2 363.1h0"/>
<path stroke="#5c70bc" d="M218.7 360.2h0M218.7 356.3h0M212.2 351.5h0M210.3 357.3h0M212.3 356.3h0"/>
<path stroke="#8e8970" d="M212.2 359.2h0M213.3 360.2h0M212.1 359.2h0M212.5 358.2h0M210.5 356.3h0"/>
<path stroke="#a99a59" d="M213.1 361.1h0"/>
<path stroke="#4e68d7" d="M210.9 359.2h0"/>
<path stroke="#a99a59" d="M212.7 354.4h0M218.4 360.2h0"/>
<path stroke="#ccb13d" d="M206.1 357.3h0M210.1 356.3h0"/>
<path stroke="#858379" d="M220.6 357.3h0M211.7 361.1h0M220.1 357.3h0M210.5 360.2h0M213.9 354.4h0M212.5 360.2h0M212.5 361.1h0"/>
<path stroke="#dcba35" d="M205.3 354.4h0M204.9 360.2h0M208.3 357.3h0M203.3 358.2h0M207.8 357.3h0M211.8 356.3h0M205.1 357.3h0M205.3 355.3h0"/>
<path stroke="#a09560" d="M200.0 356.3h0M214.8 356.3h0"/>
<path stroke="#6c77a0" d="M216.3 360.2h0M215.1 360.2h0M201.2 357.3h0M216.2 357.3h0M210.8 361.1h0M210.9 353.4h0M213.0 352.4h0"/>
<path stroke="#3a4afa" d="M209.3 356.3h0M209.5 360.2h0M200.9 357.3h0M198.1 358.2h0M200.3 356.3h0M192.0 358.2h0M209.3 359.2h0M207.3 355.3h0"/>
<path stroke="#4057f4" d="M209.0 359.2h0M194.4 358.2h0M202.0 358.2h0M213.2 356.3h0"/>
<path stroke="#bba54b" d="M213.6 359.2h0M206.0 355.3h0"/>
<path stroke="#d4b639" d="M198.6 358.2h0M200.9 358.2h0M203.1 357.3h0M207.7 356.3h0M204.3 359.2h0M206.7 362.1h0M200.1 357.3h0M208.8 356.3h0M207.4 357.3h0"/>
<path stroke="#7c7e85" d="M207.7 360.2h0M216.4 356.3h0M213.9 355.3h0M213.9 361.1h0M216.0 354.4h0M218.9 359.2h0M215.9 355.3h0"/>
<path stroke="#c3ab44" d="M202.3 359.2h0"/>
<path stroke="#b29f52" d="M220.1 359.2h0M212.8 354.4h0M210.6 362.1h0M215.5 355.3h0M216.0 353.4h0M212.2 357.3h0"/>
<path stroke="#8e8970" d="M213.3 358.2h0M199.0 359.2h0"/>
<path stroke="#747b92" d="M214.9 359.2h0M216.5 355.3h0M217.7 359.2h0M220.6 358.2h0M218.4 356.3h0"/>
<path stroke="#435df0" d="M204.4 358.2h0"/>
<path stroke="#979067" d="M213.9 360.2h0M217.4 357.3h0M216.9 357.3h0M218.3 357.3h0M217.8 357.3h0M219.6 357.3h0M211.4 356.3h0"/>
<path stroke="#5c70bc" d="M213.5 356.3h0M211.2 355.3h0M196.5 358.2h0M213.5 354.4h0M215.7 356.3h0"/>
<path stroke="#e4be32" d="M199.9 358.2h0"/>
<path stroke="#3d50f7" d="M207.7 361.1h0M209.4 362.1h0M199.1 357.3h0M208.5 359.2h0M206.9 354.4h0M206.3 360.2h0M208.5 354.4h0M206.8 355.3h0"/>
<path stroke="#4862e4" d="M218.0 361.1h0M217.6 356.3h0"/>
<path stroke="#6474ae" d="M213.0 359.2h0M210.3 354.4h0M203.3 357.3h0M212.2 362.1h0M213.8 358.2h0M211.7 352.4h0M210.8 354.4h0"/>
<path stroke="#979067" d="M214.6 353.4h0M212.9 353.4h0M221.6 358.2h0M216.4 357.3h0M216.8 358.2h0M212.1 358.2h0M219.0 357.3h0"/>
<path stroke="#858379" d="M219.5 358.2h0M211.9 362.1h0M207.2 360.2h0M211.6 353.4h0M209.8 355.3h0M214.2 354.4h0"/>
<path stroke="#c3ab44" d="M202.0 357.3h0M213.4 353.4h0M206.6 354.4h0M201.1 356.3h0M209.7 358.2h0"/>
<path stroke="#5c70bc" d="M215.1 354.4h0M210.5 361.1h0M218.1 358.2h0"/>
<path stroke="#b29f52" d="M211.8 361.1h0M216.0 362.1h0M212.1 360.2h0M215.8 356.3h0M211.2 357.3h0"/>
<path stroke="#435df0" d="M218.4 359.2h0M214.6 361.1h0M205.6 357.3h0"/>
<path stroke="#3d50f7" d="M207.9 359.2h0M196.0 358.2h0M195.6 358.2h0M207.9 355.3h0M193.4 358.2h0M204.5 357.3h0"/>
<path stroke="#a09560" d="M211.4 355.3h0M213.0 363.1h0M214.7 358.2h0"/>
<path stroke="#3a4afa" d="M200.6 359.2h0M204.7 356.3h0M206.6 355.3h0"/>
<path stroke="#747b92" d="M221.9 358.2h0M221.3 357.3h0M215.3 359.2h0M217.7 358.2h0M213.8 359.2h0M217.8 355.3h0M200.9 360.2h0M210.9 352.4h0M206.9 359.2h0"/>
<path stroke="#a99a59" d="M217.5 361.1h0M213.9 362.1h0M217.4 360.2h0M210.6 358.2h0"/>
<path stroke="#7c7e85" d="M210.7 353.4h0M220.0 358.2h0M217.8 354.4h0M217.9 356.3h0M215.3 358.2h0M216.1 360.2h0M213.2 357.3h0M208.3 358.2h0"/>
<path stroke="#dcba35" d="M206.7 361.1h0M200.2 360.2h0M209.8 359.2h0M207.9 356.3h0M209.5 354.4h0M210.1 360.2h0"/>
<path stroke="#8e8970" d="M211.7 355.3h0M214.7 357.3h0M210.4 359.2h0M217.3 359.2h0M215.8 361.1h0"/>
<path stroke="#4057f4" d="M209.5 355.3h0M206.4 353.4h0M203.1 358.2h0M208.6 355.3h0"/>
<path stroke="#bba54b" d="M206.7 361.1h0M215.5 357.3h0"/>
<path stroke="#546dca" d="M214.5 356.3h0M214.4 359.2h0M211.4 360.2h0M194.1 358.2h0"/>
<path stroke="#6474ae" d="M217.9 362.1h0"/>
<path stroke="#d4b639" d="M205.9 359.2h0M201.3 358.2h0M203.1 359.2h0M199.5 358.2h0M203.1 356.3h0"/>
<path stroke="#6c77a0" d="M211.0 358.2h0M216.3 358.2h0M215.6 354.4h0M212.3 355.3h0M214.6 355.3h0M214.8 355.3h0M200.0 355.3h0"/>
<path stroke="#ccb13d" d="M216.8 360.2h0M206.3 357.3h0"/>
<path stroke="#4862e4" d="M206.9 357.3h0"/>
<path stroke="#4e68d7" d="M216.0 359.2h0M212.9 357.3h0M217.3 355.3h0M210.3 364.0h0"/>
<path stroke="#435df0" d="M216.1 379.1h0M221.4 378.4h0M213.0 374.2h0M215.4 381.9h0M213.5 379.1h0"/>
<path stroke="#858379" d="M209.4 376.3h0M205.0 379.8h0"/>
<path stroke="#979067" d="M204.2 377.7h0M214.1 375.6h0M207.6 377.7h0"/>
<path stroke="#5c70bc" d="M215.0 376.3h0M213.5 382.6h0M214.9 378.4h0M213.3 382.6h0M214.2 381.9h0"/>
<path stroke="#3d50f7" d="M219.2 379.8h0M210.3 381.2h0M211.5 382.6h0M212.8 377.7h0M210.9 381.2h0M212.3 377.7h0"/>
<path stroke="#b29f52" d="M204.4 379.8h0M208.5 377.7h0M208.9 378.4h0M205.5 378.4h0M208.7 379.8h0"/>
<path stroke="#ccb13d" d="M203.9 378.4h0M206.9 378.4h0M203.4 377.7h0M203.4 378.4h0M207.6 379.8h0M200.9 379.1h0"/>
<path stroke="#7c7e85" d="M211.9 376.3h0M206.2 379.1h0"/>
<path stroke="#3a4afa" d="M219.3 379.1h0M212.6 375.6h0M211.0 379.8h0M213.9 377.0h0M217.8 378.4h0M221.3 378.4h0M215.4 379.1h0M215.1 379.8h0M220.4 379.1h0M211.8 378.4h0"/>
<path stroke="#4057f4" d="M210.5 376.3h0M211.6 379.8h0M210.6 377.0h0M212.3 381.2h0M210.6 375.6h0M210.2 379.1h0M212.1 379.8h0M217.8 379.8h0M211.3 383.3h0M214.3 380.5h0M212.3 383.3h0M214.4 378.4h0M220.2 378.4h0"/>
<path stroke="#dcba35" d="M193.4 379.1h0M203.9 377.7h0M210.1 377.0h0M205.5 379.1h0M205.0 380.5h0M204.6 379.8h0M210.2 382.6h0"/>
<path stroke="#a09560" d="M201.4 377.7h0M209.2 379.1h0M209.1 381.9h0"/>
<path stroke="#4e68d7" d="M214.8 380.5h0M213.4 380.5h0M221.6 379.1h0"/>
<path stroke="#e4be32" d="M209.3 377.7h0M202.7 379.8h0M203.4 379.1h0M201.7 379.8h0M201.2 379.1h0"/>
<path stroke="#8e8970" d="M206.2 378.4h0M207.2 377.0h0M213.2 383.3h0"/>
<path stroke="#6474ae" d="M215.7 378.4h0M214.1 382.6h0M216.0 381.2h0M213.3 379.8h0"/>
<path stroke="#d4b639" d="M211.1 374.2h0M201.9 378.4h0M206.6 380.5h0"/>
<path stroke="#c3ab44" d="M200.0 377.7h0M212.4 380.5h0M208.2 377.7h0M209.0 378.4h0"/>
<path stroke="#546dca" d="M221.5 379.8h0M213.5 381.9h0"/>
<path stroke="#bba54b" d="M209.9 374.9h0M208.9 381.2h0M212.3 375.6h0"/>
<path stroke="#747b92" d="M212.4 374.9h0"/>
<path stroke="#4862e4" d="M215.7 376.3h0M214.2 379.8h0M218.7 379.1h0M213.8 379.8h0M213.1 380.5h0M214.3 376.3h0M215.1 377.7h0"/>
<path stroke="#6474ae" d="M213.8 375.6h0M210.5 379.1h0M214.2 379.1h0M216.6 379.1h0"/>
<path stroke="#5c70bc" d="M212.9 377.7h0M214.9 379.1h0M214.7 381.2h0"/>
<path stroke="#d4b639" d="M201.4 379.1h0M207.4 378.4h0M204.5 377.7h0M211.5 381.2h0M211.2 382.6h0M211.2 381.9h0"/>
<path stroke="#3a4afa" d="M220.9 377.7h0M221.3 379.8h0M213.0 375.6h0M210.7 380.5h0M212.9 374.2h0M212.7 378.4h0M214.7 382.6h0M211.1 378.4h0M215.6 377.7h0"/>
<path stroke="#dcba35" d="M203.3 378.4h0M209.9 383.3h0M209.0 379.8h0M203.5 379.8h0"/>
<path stroke="#8e8970" d="M207.9 379.8h0M208.4 380.5h0M208.2 379.1h0"/>
<path stroke="#4e68d7" d="M215.8 381.2h0M219.7 378.4h0M215.0 381.2h0M214.4 375.6h0M215.2 379.1h0"/>
<path stroke="#ccb13d" d="M201.1 378.4h0M212.2 380.5h0M200.6 378.4h0M212.5 372.8h0M212.9 379.8h0M210.6 379.8h0M204.6 378.4h0"/>
<path stroke="#858379" d="M211.3 373.5h0M209.9 379.1h0M211.2 375.6h0M207.7 379.1h0"/>
<path stroke="#e4be32" d="M203.4 379.8h0M209.1 380.5h0M212.0 373.5h0M203.0 379.1h0M201.9 380.5h0"/>
<path stroke="#979067" d="M207.3 377.7h0M209.5 378.4h0M207.3 379.8h0M211.8 374.2h0"/>
<path stroke="#435df0" d="M220.7 378.4h0M218.2 378.4h0M212.9 381.2h0M212.9 384.0h0M211.4 376.3h0M217.4 379.1h0"/>
<path stroke="#4862e4" d="M216.8 380.5h0M214.0 374.9h0M218.2 379.8h0M213.2 381.9h0M218.7 379.8h0M221.2 379.1h0"/>
<path stroke="#b29f52" d="M202.3 379.1h0M209.6 377.7h0"/>
<path stroke="#a09560" d="M205.7 377.7h0"/>
<path stroke="#a99a59" d="M206.4 377.7h0M207.1 380.5h0M205.4 378.4h0"/>
<path stroke="#4057f4" d="M214.7 377.7h0M212.2 378.4h0M211.0 381.2h0M213.4 376.3h0M213.0 374.9h0M217.1 378.4h0M210.4 377.7h0"/>
<path stroke="#6c77a0" d="M213.3 378.4h0"/>
<path stroke="#c3ab44" d="M212.7 383.3h0M203.8 380.5h0M203.9 379.1h0M210.0 381.9h0M206.8 379.1h0M211.0 384.0h0M199.6 379.1h0M201.3 379.8h0"/>
<path stroke="#bba54b" d="M205.3 379.1h0M202.4 379.1h0M204.8 379.1h0"/>
<path stroke="#3d50f7" d="M211.8 379.1h0M220.6 379.8h0M211.0 377.0h0M225.3 379.1h0M212.5 382.6h0M214.2 377.7h0M212.5 384.7h0M211.9 375.6h0M212.9 379.1h0"/>
<path stroke="#747b92" d="M216.6 377.7h0"/>
<path stroke="#546dca" d="M215.2 378.4h0"/>
<path stroke="#5c70bc" d="M215.3 380.5h0"/>
<path stroke="#a99a59" d="M209.2 375.6h0"/>
<path stroke="#8e8970" d="M211.5 377.0h0M207.6 378.4h0M205.3 377.7h0"/>
<path stroke="#4e68d7" d="M214.8 381.9h0M214.9 377.0h0M218.4 377.7h0M213.5 377.7h0M213.8 377.0h0"/>
<path stroke="#858379" d="M208.1 377.0h0M205.9 379.8h0M208.1 378.4h0"/>
<path stroke="#546dca" d="M214.6 377.0h0M213.7 378.4h0M213.9 383.3h0M213.7 374.9h0"/>
<path stroke="#4862e4" d="M216.3 380.5h0M220.2 379.1h0M215.5 377.0h0M213.5 381.2h0M216.5 379.8h0M216.3 377.0h0M215.6 375.6h0M218.7 377.7h0"/>
<path stroke="#979067" d="M210.3 380.5h0M209.3 374.9h0M206.4 379.8h0"/>
<path stroke="#dcba35" d="M202.7 377.7h0M200.4 378.4h0"/>
<path stroke="#d4b639" d="M209.9 379.8h0M210.4 378.4h0M202.1 379.8h0M208.1 376.3h0M206.7 377.0h0M201.2 377.7h0M209.3 377.0h0M208.3 381.2h0"/>
<path stroke="#c3ab44" d="M209.8 380.5h0"/>
<path stroke="#3a4afa" d="M212.8 374.9h0M215.7 381.9h0M210.0 376.3h0M219.0 378.4h0M211.0 380.5h0M213.3 379.1h0M218.1 379.1h0M216.4 377.7h0M213.2 377.0h0M215.8 379.8h0M216.9 378.4h0M216.4 378.4h0"/>
<path stroke="#b29f52" d="M208.7 379.1h0M206.1 380.5h0M209.5 379.8h0M209.1 383.3h0M209.0 382.6h0M206.1 377.0h0"/>
<path stroke="#6474ae" d="M211.1 377.7h0"/>
<path stroke="#bba54b" d="M205.9 377.7h0M207.7 380.5h0M207.2 379.1h0M207.8 377.0h0"/>
<path stroke="#e4be32" d="M204.2 380.5h0M200.0 379.1h0M202.3 378.4h0M200.1 379.8h0"/>
<path stroke="#ccb13d" d="M212.4 376.3h0M206.6 379.8h0M211.1 374.9h0M212.6 373.5h0M202.5 378.4h0M212.7 377.0h0"/>
<path stroke="#435df0" d="M213.3 376.3h0M214.4 381.2h0M210.0 378.4h0M209.9 375.6h0M217.9 379.1h0M218.6 378.4h0M212.9 381.2h0M211.6 380.5h0"/>
<path stroke="#747b92" d="M212.5 381.9h0M212.2 374.2h0"/>
<path stroke="#4057f4" d="M211.7 381.9h0M215.8 380.5h0M212.3 377.0h0M212.0 379.1h0M212.6 376.3h0M211.8 383.3h0M211.8 374.9h0M216.2 379.8h0M212.1 381.9h0M212.7 384.0h0"/>
<path stroke="#3d50f7" d="M210.8 381.9h0M212.2 382.6h0M210.9 377.7h0M214.8 379.8h0M211.7 377.7h0M214.5 376.3h0M212.0 384.0h0M219.5 379.1h0M211.3 379.1h0M217.7 377.7h0"/>
<path stroke="#b29f52" d="M202.1 400.7h0"/>
<path stroke="#3d50f7" d="M208.5 395.8h0M211.4 397.9h0M211.0 404.9h0M212.1 400.0h0M221.8 400.0h0M209.9 402.8h0M212.2 399.3h0M212.1 396.5h0M210.0 399.3h0M212.1 404.2h0M211.3 400.7h0M210.2 400.0h0"/>
<path stroke="#747b92" d="M210.7 393.0h0M210.5 404.2h0"/>
<path stroke="#6c77a0" d="M210.5 398.6h0"/>
<path stroke="#bba54b" d="M206.1 400.7h0M207.0 396.5h0M206.3 397.9h0M204.3 400.0h0"/>
<path stroke="#dcba35" d="M204.2 399.3h0M208.8 395.8h0M211.2 396.5h0M205.2 400.7h0M209.9 404.9h0M209.9 397.9h0"/>
<path stroke="#4862e4" d="M215.2 397.9h0M215.1 400.0h0"/>
<path stroke="#ccb13d" d="M211.7 395.8h0M210.2 394.4h0M208.9 400.0h0M209.7 394.4h0M212.3 400.7h0M206.9 402.1h0M209.9 398.6h0M204.0 400.7h0M206.8 401.4h0"/>
<path stroke="#858379" d="M208.9 400.7h0M212.7 401.4h0"/>
<path stroke="#435df0" d="M215.2 399.3h0M214.5 398.6h0M210.9 399.3h0M211.5 402.8h0M211.3 400.0h0"/>
<path stroke="#a09560" d="M207.0 397.2h0M207.9 399.3h0"/>
<path stroke="#c3ab44" d="M204.9 398.6h0M203.9 399.3h0M211.0 398.6h0M212.9 402.8h0"/>
<path stroke="#4e68d7" d="M216.3 400.7h0M213.3 400.0h0"/>
<path stroke="#e4be32" d="M202.6 399.3h0M206.6 399.3h0M199.4 400.0h0M210.4 404.9h0M199.7 400.0h0M207.2 400.0h0M206.4 401.4h0M207.2 402.8h0M205.5 399.3h0"/>
<path stroke="#d4b639" d="M210.1 395.8h0M204.4 398.6h0M210.3 395.1h0M206.7 397.9h0M208.0 400.7h0M209.9 396.5h0M202.0 399.3h0M202.8 399.3h0"/>
<path stroke="#a99a59" d="M207.6 396.5h0"/>
<path stroke="#3a4afa" d="M213.9 401.4h0M210.4 407.0h0M210.0 402.1h0M215.9 399.3h0M209.7 402.8h0M216.6 400.0h0M214.8 400.7h0M217.6 399.3h0"/>
<path stroke="#7c7e85" d="M207.7 403.5h0"/>
<path stroke="#4057f4" d="M216.0 398.6h0M209.8 400.7h0M210.4 397.2h0M211.8 397.9h0M210.4 400.0h0M212.4 402.8h0M211.7 397.2h0M210.6 396.5h0M212.9 401.4h0"/>
<path stroke="#546dca" d="M215.1 401.4h0"/>
<path stroke="#8e8970" d="M211.6 396.5h0M209.4 404.9h0M207.3 402.8h0"/>
<path stroke="#979067" d="M210.6 402.1h0"/>
<path stroke="#546dca" d="M214.4 397.9h0"/>
<path stroke="#435df0" d="M209.5 397.9h0M216.6 399.3h0M211.3 401.4h0M209.8 397.2h0M217.8 400.7h0"/>
<path stroke="#6474ae" d="M213.5 397.9h0M206.2 401.4h0"/>
<path stroke="#bba54b" d="M205.0 399.3h0M206.3 400.0h0M207.8 400.0h0M207.6 401.4h0"/>
<path stroke="#dcba35" d="M208.7 397.9h0M192.0 400.0h0M211.9 395.1h0M208.7 400.0h0M209.6 396.5h0M190.3 400.0h0M203.0 400.0h0M210.3 406.3h0M209.1 399.3h0M200.2 400.7h0M208.5 396.5h0"/>
<path stroke="#a09560" d="M207.9 401.4h0"/>
<path stroke="#d4b639" d="M205.4 400.0h0M208.6 401.4h0M208.6 402.8h0M208.8 401.4h0M209.3 404.2h0M213.1 400.0h0M201.5 400.7h0M210.0 404.2h0M207.4 397.2h0"/>
<path stroke="#4057f4" d="M212.8 397.2h0M211.3 401.4h0M213.5 402.1h0M212.3 398.6h0M215.8 398.6h0M209.5 395.1h0"/>
<path stroke="#858379" d="M209.6 401.4h0M212.3 397.9h0M212.0 403.5h0"/>
<path stroke="#4e68d7" d="M217.0 400.0h0M215.5 400.7h0M214.3 400.0h0M214.7 399.3h0"/>
<path stroke="#e4be32" d="M207.3 398.6h0M200.2 400.0h0M200.5 399.3h0M198.8 400.0h0M207.3 397.9h0M204.7 400.7h0M205.0 400.7h0"/>
<path stroke="#7c7e85" d="M212.8 403.5h0"/>
<path stroke="#ccb13d" d="M209.5 400.7h0M210.8 404.2h0M204.7 400.0h0M210.4 397.9h0"/>
<path stroke="#3d50f7" d="M227.1 400.0h0M210.2 403.5h0M213.3 402.8h0M214.5 402.1h0M217.8 400.0h0M211.5 395.1h0M211.7 398.6h0M209.3 395.8h0M211.6 399.3h0M211.4 404.2h0M212.9 397.9h0M210.8 395.8h0"/>
<path stroke="#3a4afa" d="M216.3 400.0h0M209.0 396.5h0M211.9 397.2h0M212.4 398.6h0M208.7 402.1h0M216.6 398.6h0M214.9 400.7h0M215.0 398.6h0"/>
<path stroke="#8e8970" d="M208.9 397.9h0M207.2 399.3h0"/>
<path stroke="#4862e4" d="M213.8 400.7h0M212.8 396.5h0M217.4 401.4h0M211.0 402.1h0M214.1 400.7h0"/>
<path stroke="#b29f52" d="M205.8 402.1h0"/>
<path stroke="#747b92" d="M209.2 402.1h0M210.6 402.8h0M212.5 399.3h0"/>
<path stroke="#c3ab44" d="M208.4 397.2h0M207.6 400.0h0"/>
<path stroke="#979067" d="M205.8 400.0h0M208.7 399.3h0"/>
<path stroke="#d4b639" d="M201.6 400.0h0M211.6 402.1h0M210.0 395.1h0M208.3 403.5h0M199.9 399.3h0M201.8 398.6h0M208.4 404.2h0M208.0 397.9h0M208.8 397.2h0M207.0 400.7h0"/>
<path stroke="#c3ab44" d="M206.8 398.6h0M211.8 395.8h0"/>
<path stroke="#979067" d="M210.5 401.4h0M202.5 400.0h0"/>
<path stroke="#6474ae" d="M213.8 398.6h0"/>
<path stroke="#a99a59" d="M198.2 400.0h0M207.6 400.7h0M207.8 398.6h0M203.5 400.0h0"/>
<path stroke="#747b92" d="M205.8 397.9h0"/>
<path stroke="#dcba35" d="M209.1 402.8h0M209.4 400.0h0M211.9 401.4h0M210.4 393.7h0M179.8 400.0h0"/>
<path stroke="#4862e4" d="M209.7 393.7h0"/>
<path stroke="#e4be32" d="M207.3 399.3h0M206.6 400.7h0M202.1 400.0h0"/>
<path stroke="#ccb13d" d="M210.6 395.8h0M209.4 405.6h0M200.9 400.0h0M203.6 399.3h0M212.3 402.1h0M202.4 400.7h0M208.9 398.6h0M209.6 399.3h0M201.6 399.3h0M206.5 398.6h0M209.8 401.4h0"/>
<path stroke="#3d50f7" d="M211.0 397.9h0M210.8 402.8h0M209.3 398.6h0M211.2 395.1h0M210.7 405.6h0M230.6 400.0h0M216.8 400.7h0M209.3 402.1h0M208.9 404.2h0M212.3 402.8h0M211.3 397.2h0M209.6 403.5h0M213.2 402.1h0M211.5 403.5h0M209.8 405.6h0M214.1 399.3h0"/>
<path stroke="#4e68d7" d="M214.6 401.4h0"/>
<path stroke="#b29f52" d="M206.0 398.6h0M203.8 400.0h0"/>
<path stroke="#546dca" d="M220.6 400.0h0"/>
<path stroke="#435df0" d="M214.4 400.0h0M215.6 400.0h0M208.6 398.6h0M213.7 397.2h0"/>
<path stroke="#a09560" d="M206.3 402.1h0"/>
<path stroke="#5c70bc" d="M213.5 399.3h0M213.5 401.4h0"/>
<path stroke="#4057f4" d="M213.0 398.6h0M208.5 400.7h0M210.4 394.4h0M212.7 400.0h0M212.4 400.7h0M213.1 400.7h0M217.9 398.6h0M212.9 397.2h0M218.8 400.0h0M211.7 400.7h0M210.4 400.7h0M215.9 399.3h0M217.0 399.3h0"/>
<path stroke="#8e8970" d="M211.4 400.0h0"/>
<path stroke="#bba54b" d="M200.7 399.3h0M205.9 399.3h0M207.4 402.1h0"/>
<path stroke="#6c77a0" d="M210.4 399.3h0"/>
<path stroke="#3a4afa" d="M212.4 402.1h0M221.1 400.0h0M210.6 403.5h0M213.3 398.6h0M211.3 403.5h0M209.2 403.5h0M209.5 397.2h0M212.9 399.3h0"/>
<path stroke="#a99a59" d="M200.8 420.8h0M211.9 425.0h0"/>
<path stroke="#3a4afa" d="M212.6 417.3h0M217.6 420.8h0M215.0 420.8h0M210.5 419.4h0M218.7 420.8h0M211.1 423.6h0M209.7 420.8h0M216.6 420.8h0"/>
<path stroke="#a09560" d="M201.1 421.5h0M203.5 420.1h0"/>
<path stroke="#d4b639" d="M207.2 419.4h0M211.4 422.9h0M210.9 422.9h0M212.3 420.8h0M207.1 420.8h0M212.1 422.2h0M212.7 423.6h0M203.5 420.8h0M206.6 422.2h0M211.1 425.7h0M214.4 419.4h0M215.4 419.4h0M215.8 420.8h0M212.4 422.9h0M212.9 418.0h0M209.5 419.4h0M206.9 422.2h0M211.3 417.3h0"/>
<path stroke="#ccb13d" d="M212.9 419.4h0M209.8 425.0h0M209.8 417.3h0M203.4 419.4h0M209.6 422.9h0M204.3 421.5h0"/>
<path stroke="#3d50f7" d="M209.7 415.9h0M213.4 418.0h0M213.8 418.7h0M210.2 420.8h0M211.0 420.1h0M214.1 419.4h0"/>
<path stroke="#c3ab44" d="M200.9 420.1h0M211.3 425.0h0M210.0 418.7h0M209.6 424.3h0"/>
<path stroke="#5c70bc" d="M216.2 421.5h0"/>
<path stroke="#435df0" d="M211.8 424.3h0M211.3 416.6h0M219.9 420.8h0M211.5 418.7h0M210.1 418.0h0"/>
<path stroke="#bba54b" d="M206.5 420.1h0M201.6 421.5h0"/>
<path stroke="#dcba35" d="M212.8 418.0h0M209.9 416.6h0M239.3 420.8h0M211.0 415.9h0M210.4 421.5h0M210.4 418.0h0M208.6 420.1h0"/>
<path stroke="#4057f4" d="M207.4 420.8h0M210.2 420.1h0M207.1 420.1h0M215.8 420.8h0M212.7 420.1h0M211.0 422.2h0M210.3 416.6h0M211.1 419.4h0M213.5 420.8h0"/>
<path stroke="#7c7e85" d="M207.8 422.2h0M211.4 421.5h0"/>
<path stroke="#8e8970" d="M215.0 421.5h0M215.8 419.4h0"/>
<path stroke="#858379" d="M208.7 422.2h0M211.6 426.4h0M213.9 420.8h0M210.1 422.2h0"/>
<path stroke="#d4b639" d="M203.0 420.1h0M202.0 420.8h0M205.5 420.8h0M206.7 420.8h0M207.7 420.1h0M209.3 423.6h0M210.9 415.2h0M214.1 421.5h0"/>
<path stroke="#435df0" d="M221.0 420.8h0M214.7 418.7h0M212.0 422.9h0M210.5 425.0h0M212.7 420.8h0"/>
<path stroke="#a99a59" d="M204.3 420.1h0"/>
<path stroke="#dcba35" d="M210.9 421.5h0M240.8 420.8h0M211.6 423.6h0M207.0 421.5h0M213.7 422.9h0M215.5 420.1h0"/>
<path stroke="#3d50f7" d="M216.2 420.1h0M209.9 419.4h0M214.2 420.1h0M212.1 424.3h0M213.2 418.7h0M212.0 416.6h0M209.0 422.2h0M212.7 416.6h0M212.6 424.3h0M209.8 420.1h0"/>
<path stroke="#6c77a0" d="M212.2 419.4h0"/>
<path stroke="#4057f4" d="M211.3 419.4h0M211.3 418.0h0M230.9 420.8h0M212.2 418.0h0M214.9 419.4h0M208.5 420.8h0M212.4 421.5h0M207.8 420.8h0M212.2 418.7h0M217.1 420.8h0"/>
<path stroke="#e4be32" d="M205.7 419.4h0"/>
<path stroke="#6474ae" d="M214.5 420.1h0"/>
<path stroke="#3a4afa" d="M211.0 417.3h0M208.0 418.7h0M211.6 427.1h0M208.8 424.3h0M210.6 422.2h0M213.0 422.9h0M210.3 425.7h0M207.6 418.7h0"/>
<path stroke="#7c7e85" d="M212.1 423.6h0M212.1 417.3h0M213.4 423.6h0M208.6 419.4h0M212.4 415.9h0"/>
<path stroke="#c3ab44" d="M204.9 420.1h0M210.6 424.3h0M207.3 421.5h0M209.0 418.7h0"/>
<path stroke="#ccb13d" d="M211.2 416.6h0M212.4 418.7h0M211.4 418.0h0M207.7 419.4h0M209.2 420.1h0M211.3 425.7h0M204.2 420.8h0M204.0 421.5h0M210.7 423.6h0M209.3 423.6h0M204.8 421.5h0M200.7 420.8h0M209.4 418.7h0"/>
<path stroke="#858379" d="M205.9 420.1h0"/>
<path stroke="#747b92" d="M210.2 422.9h0M211.3 422.2h0M210.5 425.7h0"/>
<path stroke="#8e8970" d="M210.0 417.3h0M205.9 419.4h0"/>
<path stroke="#3d50f7" d="M213.5 419.4h0M214.6 420.8h0M244.6 420.8h0M206.4 419.4h0M216.5 420.1h0"/>
<path stroke="#747b92" d="M210.0 424.3h0M212.4 422.2h0"/>
<path stroke="#7c7e85" d="M211.5 415.2h0M207.8 420.1h0"/>
<path stroke="#bba54b" d="M205.8 420.1h0M204.5 420.1h0"/>
<path stroke="#6c77a0" d="M214.7 422.2h0"/>
<path stroke="#435df0" d="M211.7 415.9h0M212.9 420.8h0M211.7 420.1h0"/>
<path stroke="#a99a59" d="M200.3 420.1h0"/>
<path stroke="#3a4afa" d="M206.2 421.5h0M210.4 418.7h0M206.4 418.7h0M209.7 425.7h0M214.8 422.2h0M211.2 425.0h0M213.0 421.5h0M210.6 420.1h0M209.7 418.0h0M210.4 417.3h0M209.0 418.0h0"/>
<path stroke="#979067" d="M208.9 422.9h0"/>
<path stroke="#c3ab44" d="M202.5 420.1h0M211.4 414.5h0M210.7 420.8h0M205.4 421.5h0M201.4 420.8h0M203.7 421.5h0"/>
<path stroke="#a09560" d="M211.6 420.8h0"/>
<path stroke="#e4be32" d="M211.9 421.5h0M202.6 420.8h0"/>
<path stroke="#4862e4" d="M211.9 415.9h0"/>
<path stroke="#8e8970" d="M210.4 415.9h0M213.5 421.5h0"/>
<path stroke="#ccb13d" d="M212.8 425.0h0M201.7 420.1h0M208.4 421.5h0M212.6 419.4h0M210.8 424.3h0M211.0 418.7h0M205.9 420.8h0M204.8 419.4h0M204.5 420.8h0M208.1 419.4h0M209.3 420.8h0M203.1 420.8h0M210.1 415.9h0M213.0 422.2h0"/>
<path stroke="#d4b639" d="M209.4 422.2h0M209.8 423.6h0M215.6 421.5h0M198.4 420.8h0M210.1 421.5h0M214.8 420.1h0M208.9 419.4h0M213.6 422.2h0M209.1 421.5h0M205.1 420.8h0"/>
<path stroke="#dcba35" d="M209.3 417.3h0M208.1 422.2h0M209.9 425.0h0M216.0 422.2h0"/>
<path stroke="#4057f4" d="M209.6 416.6h0M213.6 420.1h0M213.2 420.1h0M208.0 421.5h0M214.4 421.5h0M206.5 421.5h0M210.4 422.9h0M209.3 421.5h0M213.2 423.6h0"/>
<path stroke="#858379" d="M212.3 420.1h0M211.0 420.8h0"/>
<path stroke="#4e68d7" d="M204.8 441.7h0M213.2 439.6h0"/>
<path stroke="#dcba35" d="M218.2 441.0h0M218.4 443.1h0M209.8 441.7h0M212.9 442.4h0M212.9 445.2h0"/>
<path stroke="#c3ab44" d="M219.3 442.4h0M214.7 440.3h0M220.9 442.4h0M221.9 441.7h0M212.2 438.9h0M211.3 445.9h0"/>
<path stroke="#bba54b" d="M221.4 442.4h0M218.5 442.4h0M218.8 440.3h0M210.2 444.5h0M219.6 442.4h0"/>
<path stroke="#979067" d="M208.3 441.0h0"/>
<path stroke="#d4b639" d="M217.7 440.3h0M213.4 443.8h0M211.8 445.2h0M211.7 440.3h0M217.2 442.4h0M212.6 441.7h0M213.3 443.1h0M213.8 443.8h0M211.1 441.7h0M216.2 440.3h0M216.5 442.4h0M210.9 443.1h0"/>
<path stroke="#3a4afa" d="M212.9 438.2h0M214.4 440.3h0M203.4 442.4h0M196.2 441.7h0M203.4 441.7h0M195.2 442.4h0M213.6 440.3h0"/>
<path stroke="#4862e4" d="M202.8 441.7h0M203.4 441.0h0M210.5 444.5h0"/>
<path stroke="#ccb13d" d="M212.2 439.6h0M221.6 441.0h0M211.7 436.8h0M213.6 439.6h0M214.0 444.5h0M215.5 442.4h0M211.5 445.9h0M211.4 442.4h0M212.9 446.6h0M212.5 443.1h0"/>
<path stroke="#6c77a0" d="M198.9 441.7h0"/>
<path stroke="#b29f52" d="M219.2 441.0h0M220.2 442.4h0M216.0 441.7h0M215.3 442.4h0"/>
<path stroke="#e4be32" d="M221.0 441.7h0"/>
<path stroke="#4057f4" d="M199.6 442.4h0M199.9 441.7h0M196.2 441.0h0M205.1 441.0h0M206.7 441.0h0M197.2 441.7h0M201.4 442.4h0M212.2 442.4h0M201.7 440.3h0M210.9 445.2h0M210.4 442.4h0M204.9 440.3h0"/>
<path stroke="#7c7e85" d="M214.7 442.4h0M214.4 441.7h0M213.6 442.4h0"/>
<path stroke="#a99a59" d="M213.4 440.3h0"/>
<path stroke="#858379" d="M210.0 439.6h0"/>
<path stroke="#3d50f7" d="M196.3 442.4h0M208.8 441.0h0M212.4 445.9h0M212.7 436.1h0M200.7 441.7h0M209.9 440.3h0M212.2 437.5h0M210.6 438.9h0"/>
<path stroke="#435df0" d="M201.2 443.1h0M208.2 441.7h0M213.2 438.2h0M199.1 441.0h0M196.0 441.7h0M206.4 441.7h0M211.9 442.4h0"/>
<path stroke="#4862e4" d="M197.3 441.0h0"/>
<path stroke="#c3ab44" d="M212.1 438.2h0M213.1 438.9h0M215.4 441.0h0"/>
<path stroke="#e4be32" d="M221.2 441.0h0M210.1 443.8h0M217.2 441.7h0"/>
<path stroke="#3a4afa" d="M199.0 442.4h0M196.8 441.7h0M207.2 440.3h0M207.4 441.0h0M209.4 441.7h0M201.8 441.7h0M197.1 442.4h0M213.7 438.9h0M205.0 441.0h0M209.3 440.3h0M205.9 442.4h0M201.7 441.0h0M197.9 441.7h0M211.3 438.2h0M206.2 442.4h0M206.4 441.0h0M205.7 441.0h0M201.8 442.4h0M212.1 440.3h0M212.3 445.2h0"/>
<path stroke="#435df0" d="M209.0 442.4h0M206.9 441.7h0M208.7 443.1h0M205.7 441.7h0M202.4 441.7h0"/>
<path stroke="#ccb13d" d="M206.7 442.4h0M210.8 437.5h0M211.6 446.6h0M211.3 443.1h0M215.7 441.0h0M212.8 439.6h0M218.5 441.0h0M210.2 443.1h0M219.6 441.0h0"/>
<path stroke="#3d50f7" d="M212.7 443.8h0M208.8 440.3h0M208.5 441.7h0M204.6 442.4h0M209.8 439.6h0M210.5 440.3h0M211.8 441.7h0"/>
<path stroke="#747b92" d="M210.6 441.7h0M214.6 443.8h0M210.7 438.2h0M213.2 441.7h0M214.3 442.4h0"/>
<path stroke="#dcba35" d="M210.3 438.9h0M221.0 440.3h0M209.1 441.0h0M220.4 441.0h0M214.6 439.6h0"/>
<path stroke="#bba54b" d="M215.5 443.1h0"/>
<path stroke="#979067" d="M214.5 443.1h0"/>
<path stroke="#4057f4" d="M202.4 441.0h0M209.2 442.4h0M199.5 441.7h0M211.1 438.9h0M209.3 439.6h0"/>
<path stroke="#7c7e85" d="M214.2 441.0h0M214.4 439.6h0M211.0 441.0h0M212.7 440.3h0"/>
<path stroke="#5c70bc" d="M212.1 443.1h0"/>
<path stroke="#858379" d="M209.6 443.1h0"/>
<path stroke="#d4b639" d="M212.9 444.5h0M220.3 440.3h0M212.5 441.7h0M214.7 441.7h0M209.6 441.0h0M218.1 441.7h0M212.5 441.0h0M219.5 441.7h0M216.9 442.4h0M215.5 441.7h0M221.7 442.4h0M208.4 440.3h0"/>
<path stroke="#8e8970" d="M211.8 439.6h0"/>
<path stroke="#a99a59" d="M220.8 441.0h0"/>
<path stroke="#b29f52" d="M216.4 441.0h0M219.2 441.7h0"/>
<path stroke="#4e68d7" d="M202.5 442.4h0M204.0 441.0h0"/>
<path stroke="#7c7e85" d="M212.4 446.6h0"/>
<path stroke="#c3ab44" d="M213.4 441.0h0M216.6 441.7h0M216.7 443.1h0M211.6 437.5h0M215.9 440.3h0M219.7 443.1h0M216.8 441.0h0"/>
<path stroke="#d4b639" d="M214.8 438.9h0M219.4 440.3h0M210.9 443.8h0M213.9 441.0h0M208.0 442.4h0M218.0 441.0h0M213.2 444.5h0M217.8 442.4h0M207.6 442.4h0M210.2 438.2h0"/>
<path stroke="#858379" d="M212.1 444.5h0M212.0 436.8h0"/>
<path stroke="#4057f4" d="M209.9 443.8h0M198.8 440.3h0M209.5 438.9h0M207.3 441.7h0M208.3 443.1h0M211.3 443.8h0M197.8 441.0h0M208.8 439.6h0M211.9 443.1h0M212.9 438.9h0"/>
<path stroke="#6c77a0" d="M214.1 443.1h0"/>
<path stroke="#979067" d="M210.7 439.6h0"/>
<path stroke="#3a4afa" d="M195.1 441.7h0M212.7 437.5h0M209.0 443.1h0M198.6 441.0h0M199.7 441.0h0M204.4 441.7h0M207.2 442.4h0M200.1 441.7h0M207.7 440.3h0M195.0 441.0h0M211.0 439.6h0"/>
<path stroke="#b29f52" d="M218.8 442.4h0M216.3 441.7h0"/>
<path stroke="#4862e4" d="M214.0 443.1h0M211.7 443.8h0"/>
<path stroke="#747b92" d="M210.5 441.0h0M211.3 437.5h0"/>
<path stroke="#e4be32" d="M217.2 443.1h0M219.7 440.3h0M218.2 440.3h0M217.5 441.7h0"/>
<path stroke="#3d50f7" d="M208.6 438.9h0M209.9 442.4h0M213.4 442.4h0M210.9 441.0h0M202.8 441.0h0M211.1 445.2h0M210.3 441.7h0M201.3 441.7h0M210.8 442.4h0M214.6 441.0h0M208.0 441.7h0M201.2 441.0h0"/>
<path stroke="#435df0" d="M207.8 441.0h0M210.4 440.3h0M201.4 440.3h0M211.7 438.2h0"/>
<path stroke="#ccb13d" d="M217.4 440.3h0M220.0 441.7h0M212.4 443.8h0M211.5 441.0h0M211.4 444.5h0M213.9 441.7h0M211.9 444.5h0M216.7 440.3h0M212.8 445.9h0"/>
<path stroke="#bba54b" d="M217.3 439.6h0M218.9 441.7h0"/>
<path stroke="#546dca" d="M205.3 441.7h0M203.9 441.7h0"/>
<path stroke="#a09560" d="M221.1 441.7h0"/>
<path stroke="#dcba35" d="M211.7 438.9h0M212.7 436.8h0M211.3 440.3h0M212.8 441.0h0M208.9 443.8h0M217.3 441.0h0"/>
<path stroke="#435df0" d="M209.9 459.0h0M212.4 462.5h0"/>
<path stroke="#bba54b" d="M204.8 461.1h0M211.3 459.0h0"/>
<path stroke="#747b92" d="M210.4 461.8h0"/>
<path stroke="#979067" d="M208.8 460.4h0"/>
<path stroke="#a99a59" d="M205.2 463.9h0"/>
<path stroke="#3a4afa" d="M216.6 462.5h0M217.3 461.8h0M210.5 455.5h0M216.3 463.2h0M210.1 463.9h0"/>
<path stroke="#e4be32" d="M207.0 463.2h0M208.3 462.5h0M209.4 461.8h0M208.7 459.7h0M211.8 461.1h0"/>
<path stroke="#c3ab44" d="M210.4 459.0h0M204.5 462.5h0"/>
<path stroke="#4862e4" d="M216.6 461.8h0M217.7 463.2h0M212.6 460.4h0M212.6 459.7h0"/>
<path stroke="#858379" d="M210.1 458.3h0"/>
<path stroke="#8e8970" d="M209.7 459.7h0"/>
<path stroke="#ccb13d" d="M210.4 462.5h0M209.7 463.2h0M210.0 466.0h0M205.0 462.5h0M210.4 457.6h0M211.1 460.4h0M207.6 461.8h0M208.5 461.1h0M208.6 462.5h0M205.8 461.8h0M211.1 465.3h0"/>
<path stroke="#7c7e85" d="M210.5 464.6h0M205.0 463.2h0"/>
<path stroke="#dcba35" d="M211.3 461.1h0M207.8 463.9h0M211.9 459.7h0M211.9 463.2h0M213.0 464.6h0M206.1 461.8h0"/>
<path stroke="#a09560" d="M210.5 458.3h0M205.4 461.1h0"/>
<path stroke="#6c77a0" d="M213.3 461.1h0"/>
<path stroke="#d4b639" d="M211.6 458.3h0M208.0 463.9h0M211.0 466.0h0M210.5 468.1h0M209.3 463.2h0"/>
<path stroke="#4057f4" d="M212.1 468.1h0M212.9 459.0h0M209.1 459.7h0M210.6 459.7h0M214.1 461.8h0M209.2 461.1h0M216.0 461.1h0"/>
<path stroke="#b29f52" d="M206.6 463.2h0"/>
<path stroke="#3d50f7" d="M210.2 460.4h0M213.1 463.2h0M208.4 464.6h0M213.6 463.2h0M216.3 463.9h0M207.8 460.4h0M215.8 461.8h0"/>
<path stroke="#5c70bc" d="M215.0 462.5h0M218.8 463.2h0"/>
<path stroke="#3d50f7" d="M212.3 463.2h0M212.5 461.1h0M210.5 456.9h0M215.7 461.1h0M212.3 461.1h0M213.5 461.1h0M210.8 465.3h0M210.8 467.4h0M208.0 461.8h0M213.6 460.4h0"/>
<path stroke="#dcba35" d="M207.6 463.2h0M210.7 466.0h0M209.8 464.6h0M213.6 463.9h0M209.9 461.1h0M210.4 464.6h0M211.9 462.5h0M209.2 463.9h0M210.4 463.2h0"/>
<path stroke="#e4be32" d="M207.5 464.6h0M213.3 463.9h0"/>
<path stroke="#ccb13d" d="M205.7 462.5h0M210.6 466.7h0M209.1 460.4h0M207.0 461.8h0M212.3 460.4h0M210.5 468.8h0M210.0 459.7h0M211.1 463.2h0M212.2 458.3h0"/>
<path stroke="#4862e4" d="M216.2 461.8h0M211.1 464.6h0M214.2 461.1h0"/>
<path stroke="#a99a59" d="M204.7 463.2h0"/>
<path stroke="#979067" d="M207.7 462.5h0M210.6 463.2h0M208.6 459.0h0"/>
<path stroke="#4057f4" d="M211.9 464.6h0M212.3 466.0h0M213.8 464.6h0M211.3 461.8h0M213.3 461.8h0"/>
<path stroke="#8e8970" d="M210.4 460.4h0M204.7 461.8h0"/>
<path stroke="#435df0" d="M217.7 461.8h0M212.5 463.2h0M214.7 462.5h0M214.7 463.2h0M212.0 457.6h0M218.7 461.8h0M217.7 463.9h0"/>
<path stroke="#5c70bc" d="M215.6 463.2h0"/>
<path stroke="#747b92" d="M212.4 465.3h0M209.8 465.3h0"/>
<path stroke="#c3ab44" d="M208.6 465.3h0M211.6 463.9h0"/>
<path stroke="#858379" d="M212.2 463.9h0"/>
<path stroke="#a09560" d="M204.1 462.5h0"/>
<path stroke="#3a4afa" d="M211.6 466.7h0M216.8 461.1h0M211.1 459.7h0M208.4 464.6h0M213.5 461.8h0M213.9 459.7h0"/>
<path stroke="#d4b639" d="M212.5 463.9h0M209.8 461.1h0M208.0 460.4h0M211.2 458.3h0M209.4 465.3h0M211.8 464.6h0"/>
<path stroke="#bba54b" d="M213.7 465.3h0"/>
<path stroke="#979067" d="M206.0 463.2h0M205.7 463.2h0M202.6 462.5h0"/>
<path stroke="#4862e4" d="M209.2 462.5h0M217.5 461.1h0"/>
<path stroke="#8e8970" d="M211.4 466.7h0"/>
<path stroke="#858379" d="M206.3 462.5h0"/>
<path stroke="#e4be32" d="M208.8 463.9h0"/>
<path stroke="#4057f4" d="M218.6 462.5h0M217.3 462.5h0M217.4 462.5h0M211.6 466.0h0M213.0 460.4h0M211.5 460.4h0M208.3 459.7h0M212.3 459.7h0M215.1 461.8h0"/>
<path stroke="#747b92" d="M209.7 460.4h0"/>
<path stroke="#435df0" d="M216.8 463.2h0M214.5 463.9h0"/>
<path stroke="#b29f52" d="M208.4 463.2h0M205.0 461.8h0"/>
<path stroke="#a09560" d="M206.6 461.8h0"/>
<path stroke="#c3ab44" d="M207.9 463.2h0M212.0 467.4h0M213.1 459.7h0M210.6 456.2h0M211.1 462.5h0"/>
<path stroke="#4e68d7" d="M214.2 462.5h0"/>
<path stroke="#6474ae" d="M213.8 462.5h0"/>
<path stroke="#3d50f7" d="M211.7 462.5h0M212.8 461.8h0M208.5 461.8h0M218.4 462.5h0M215.9 462.5h0M214.8 461.8h0M212.3 466.7h0M213.3 462.5h0M212.3 456.2h0M209.6 459.0h0M210.3 465.3h0M212.9 465.3h0M214.7 461.1h0"/>
<path stroke="#ccb13d" d="M210.6 461.8h0M209.4 461.8h0M206.7 462.5h0"/>
<path stroke="#3a4afa" d="M210.5 461.1h0M218.9 461.1h0M211.4 461.8h0M212.8 464.6h0M217.4 463.2h0M210.2 466.7h0M214.0 463.2h0"/>
<path stroke="#dcba35" d="M211.3 463.9h0M207.8 461.1h0M208.2 461.1h0M209.5 463.9h0"/>
<path stroke="#d4b639" d="M211.1 457.6h0M212.2 461.8h0M210.8 462.5h0M212.4 459.0h0M210.7 463.9h0M209.1 464.6h0M212.3 456.9h0"/>
<path stroke="#6c77a0" d="M209.4 462.5h0M207.3 462.5h0"/>
<path stroke="#7c7e85" d="M211.7 459.0h0"/>
<path stroke="#546dca" d="M215.6 462.5h0M211.8 465.3h0"/>
</g>
<line x1="67.4" x2="284.0" y1="483.4" y2="483.4" stroke="#333333" stroke-width="0.9"/>
<line x1="87.2" x2="87.2" y1="483.4" y2="485.8" stroke="#333333" stroke-width="0.8"/>
<text x="87.2" y="493.50" font-size="7.60" text-anchor="middle" textLength="10.3" lengthAdjust="spacingAndGlyphs" fill="#333333" stroke="#333333" stroke-width="0.08">−5</text>
<line x1="112.0" x2="112.0" y1="483.4" y2="485.8" stroke="#333333" stroke-width="0.8"/>
<text x="112.0" y="493.50" font-size="7.60" text-anchor="middle" textLength="10.3" lengthAdjust="spacingAndGlyphs" fill="#333333" stroke="#333333" stroke-width="0.08">−4</text>
<line x1="136.8" x2="136.8" y1="483.4" y2="485.8" stroke="#333333" stroke-width="0.8"/>
<text x="136.8" y="493.50" font-size="7.60" text-anchor="middle" textLength="10.3" lengthAdjust="spacingAndGlyphs" fill="#333333" stroke="#333333" stroke-width="0.08">−3</text>
<line x1="161.7" x2="161.7" y1="483.4" y2="485.8" stroke="#333333" stroke-width="0.8"/>
<text x="161.7" y="493.50" font-size="7.60" text-anchor="middle" textLength="10.3" lengthAdjust="spacingAndGlyphs" fill="#333333" stroke="#333333" stroke-width="0.08">−2</text>
<line x1="186.6" x2="186.6" y1="483.4" y2="485.8" stroke="#333333" stroke-width="0.8"/>
<text x="186.6" y="493.50" font-size="7.60" text-anchor="middle" textLength="10.3" lengthAdjust="spacingAndGlyphs" fill="#333333" stroke="#333333" stroke-width="0.08">−1</text>
<line x1="211.4" x2="211.4" y1="483.4" y2="485.8" stroke="#333333" stroke-width="0.8"/>
<text x="211.4" y="493.50" font-size="7.60" text-anchor="middle" textLength="4.5" lengthAdjust="spacingAndGlyphs" fill="#333333" stroke="#333333" stroke-width="0.08">0</text>
<line x1="236.2" x2="236.2" y1="483.4" y2="485.8" stroke="#333333" stroke-width="0.8"/>
<text x="236.2" y="493.50" font-size="7.60" text-anchor="middle" textLength="4.5" lengthAdjust="spacingAndGlyphs" fill="#333333" stroke="#333333" stroke-width="0.08">1</text>
<line x1="261.1" x2="261.1" y1="483.4" y2="485.8" stroke="#333333" stroke-width="0.8"/>
<text x="261.1" y="493.50" font-size="7.60" text-anchor="middle" textLength="4.5" lengthAdjust="spacingAndGlyphs" fill="#333333" stroke="#333333" stroke-width="0.08">2</text>
<text x="52.0" y="28.06" font-size="8.40" text-anchor="end" textLength="21.8" lengthAdjust="spacingAndGlyphs" fill="#333333" stroke="#333333" stroke-width="0.30">60.Ni</text>
<text x="52.0" y="48.92" font-size="8.40" text-anchor="end" textLength="45.3" lengthAdjust="spacingAndGlyphs" fill="#333333" stroke="#333333" stroke-width="0.30">d2H_Lipids</text>
<text x="52.0" y="69.78" font-size="8.40" text-anchor="end" textLength="29.4" lengthAdjust="spacingAndGlyphs" fill="#333333" stroke="#333333" stroke-width="0.30">137.Ba</text>
<text x="52.0" y="90.64" font-size="8.40" text-anchor="end" textLength="49.0" lengthAdjust="spacingAndGlyphs" fill="#333333" stroke="#333333" stroke-width="0.30">d34S_orgex</text>
<text x="52.0" y="111.50" font-size="8.40" text-anchor="end" textLength="24.2" lengthAdjust="spacingAndGlyphs" fill="#333333" stroke="#333333" stroke-width="0.30">59.Co</text>
<text x="52.0" y="132.37" font-size="8.40" text-anchor="end" textLength="21.3" lengthAdjust="spacingAndGlyphs" fill="#333333" stroke="#333333" stroke-width="0.30">27.Al</text>
<text x="52.0" y="153.23" font-size="8.40" text-anchor="end" textLength="28.7" lengthAdjust="spacingAndGlyphs" fill="#333333" stroke="#333333" stroke-width="0.30">133.Cs</text>
<text x="52.0" y="174.09" font-size="8.40" text-anchor="end" textLength="50.2" lengthAdjust="spacingAndGlyphs" fill="#333333" stroke="#333333" stroke-width="0.30">d18O_orgex</text>
<text x="52.0" y="194.95" font-size="8.40" text-anchor="end" textLength="18.4" lengthAdjust="spacingAndGlyphs" fill="#333333" stroke="#333333" stroke-width="0.30">89.Y</text>
<text x="52.0" y="215.81" font-size="8.40" text-anchor="end" textLength="49.9" lengthAdjust="spacingAndGlyphs" fill="#333333" stroke="#333333" stroke-width="0.30">d15N_orgex</text>
<text x="52.0" y="236.67" font-size="8.40" text-anchor="end" textLength="49.5" lengthAdjust="spacingAndGlyphs" fill="#333333" stroke="#333333" stroke-width="0.30">d13C_orgex</text>
<text x="52.0" y="257.53" font-size="8.40" text-anchor="end" textLength="20.9" lengthAdjust="spacingAndGlyphs" fill="#333333" stroke="#333333" stroke-width="0.30">28.Si</text>
<text x="52.0" y="278.39" font-size="8.40" text-anchor="end" textLength="23.7" lengthAdjust="spacingAndGlyphs" fill="#333333" stroke="#333333" stroke-width="0.30">78.Se</text>
<text x="52.0" y="299.25" font-size="8.40" text-anchor="end" textLength="44.6" lengthAdjust="spacingAndGlyphs" fill="#333333" stroke="#333333" stroke-width="0.30">d2H_orgex</text>
<text x="52.0" y="320.11" font-size="8.40" text-anchor="end" textLength="24.4" lengthAdjust="spacingAndGlyphs" fill="#333333" stroke="#333333" stroke-width="0.30">63.Cu</text>
<text x="52.0" y="340.97" font-size="8.40" text-anchor="end" textLength="25.6" lengthAdjust="spacingAndGlyphs" fill="#333333" stroke="#333333" stroke-width="0.30">95.Mo</text>
<text x="52.0" y="361.83" font-size="8.40" text-anchor="end" textLength="50.9" lengthAdjust="spacingAndGlyphs" fill="#333333" stroke="#333333" stroke-width="0.30">d18O_Lipids</text>
<text x="52.0" y="382.70" font-size="8.40" text-anchor="end" textLength="50.1" lengthAdjust="spacingAndGlyphs" fill="#333333" stroke="#333333" stroke-width="0.30">d13C_Lipids</text>
<text x="52.0" y="403.56" font-size="8.40" text-anchor="end" textLength="22.0" lengthAdjust="spacingAndGlyphs" fill="#333333" stroke="#333333" stroke-width="0.30">88.Sr</text>
<text x="52.0" y="424.42" font-size="8.40" text-anchor="end" textLength="29.7" lengthAdjust="spacingAndGlyphs" fill="#333333" stroke="#333333" stroke-width="0.30">111.Cd</text>
<text x="52.0" y="445.28" font-size="8.40" text-anchor="end" textLength="24.4" lengthAdjust="spacingAndGlyphs" fill="#333333" stroke="#333333" stroke-width="0.30">85.Rb</text>
<text x="52.0" y="466.14" font-size="8.40" text-anchor="end" textLength="25.7" lengthAdjust="spacingAndGlyphs" fill="#333333" stroke="#333333" stroke-width="0.30">55.Mn</text>
<text x="175.7" y="504.20" font-size="8.50" text-anchor="middle" textLength="158.2" lengthAdjust="spacingAndGlyphs" fill="#000000" stroke="#000000" stroke-width="0.12">SHAP value (impact on model output)</text>
<defs><linearGradient id="g297" x1="0" y1="1" x2="0" y2="0"><stop offset="0.00" stop-color="#3a4afa"/><stop offset="0.12" stop-color="#425cf2"/><stop offset="0.25" stop-color="#526ccd"/><stop offset="0.38" stop-color="#6976a5"/><stop offset="0.50" stop-color="#80807e"/><stop offset="0.62" stop-color="#9b9264"/><stop offset="0.75" stop-color="#b4a050"/><stop offset="0.88" stop-color="#cdb23c"/><stop offset="1.00" stop-color="#e4be32"/></linearGradient></defs>
<rect x="297.0" y="4.0" width="6" height="479.4" fill="url(#g297)"/>
<text x="305.6" y="6.80" font-size="7.80" text-anchor="start" textLength="16.1" lengthAdjust="spacingAndGlyphs" fill="#000000" stroke="#000000" stroke-width="0.12">High</text>
<text x="305.6" y="486.40" font-size="7.80" text-anchor="start" textLength="13.5" lengthAdjust="spacingAndGlyphs" fill="#000000" stroke="#000000" stroke-width="0.12">Low</text>
<text x="0.0" y="0.00" font-size="8.30" text-anchor="middle" textLength="52.3" lengthAdjust="spacingAndGlyphs" fill="#000000" stroke="#000000" stroke-width="0.12" transform="translate(327.9 243.8) rotate(-90)">Feature value</text>
<line x1="423.4" x2="639.6" y1="24.46" y2="24.46" stroke="#d6d6d6" stroke-width="0.5" stroke-dasharray="0.8 4.6"/>
<line x1="423.4" x2="639.6" y1="45.32" y2="45.32" stroke="#d6d6d6" stroke-width="0.5" stroke-dasharray="0.8 4.6"/>
<line x1="423.4" x2="639.6" y1="66.18" y2="66.18" stroke="#d6d6d6" stroke-width="0.5" stroke-dasharray="0.8 4.6"/>
<line x1="423.4" x2="639.6" y1="87.04" y2="87.04" stroke="#d6d6d6" stroke-width="0.5" stroke-dasharray="0.8 4.6"/>
<line x1="423.4" x2="639.6" y1="107.90" y2="107.90" stroke="#d6d6d6" stroke-width="0.5" stroke-dasharray="0.8 4.6"/>
<line x1="423.4" x2="639.6" y1="128.77" y2="128.77" stroke="#d6d6d6" stroke-width="0.5" stroke-dasharray="0.8 4.6"/>
<line x1="423.4" x2="639.6" y1="149.63" y2="149.63" stroke="#d6d6d6" stroke-width="0.5" stroke-dasharray="0.8 4.6"/>
<line x1="423.4" x2="639.6" y1="170.49" y2="170.49" stroke="#d6d6d6" stroke-width="0.5" stroke-dasharray="0.8 4.6"/>
<line x1="423.4" x2="639.6" y1="191.35" y2="191.35" stroke="#d6d6d6" stroke-width="0.5" stroke-dasharray="0.8 4.6"/>
<line x1="423.4" x2="639.6" y1="212.21" y2="212.21" stroke="#d6d6d6" stroke-width="0.5" stroke-dasharray="0.8 4.6"/>
<line x1="423.4" x2="639.6" y1="233.07" y2="233.07" stroke="#d6d6d6" stroke-width="0.5" stroke-dasharray="0.8 4.6"/>
<line x1="423.4" x2="639.6" y1="253.93" y2="253.93" stroke="#d6d6d6" stroke-width="0.5" stroke-dasharray="0.8 4.6"/>
<line x1="423.4" x2="639.6" y1="274.79" y2="274.79" stroke="#d6d6d6" stroke-width="0.5" stroke-dasharray="0.8 4.6"/>
<line x1="423.4" x2="639.6" y1="295.65" y2="295.65" stroke="#d6d6d6" stroke-width="0.5" stroke-dasharray="0.8 4.6"/>
<line x1="423.4" x2="639.6" y1="316.51" y2="316.51" stroke="#d6d6d6" stroke-width="0.5" stroke-dasharray="0.8 4.6"/>
<line x1="423.4" x2="639.6" y1="337.37" y2="337.37" stroke="#d6d6d6" stroke-width="0.5" stroke-dasharray="0.8 4.6"/>
<line x1="423.4" x2="639.6" y1="358.23" y2="358.23" stroke="#d6d6d6" stroke-width="0.5" stroke-dasharray="0.8 4.6"/>
<line x1="423.4" x2="639.6" y1="379.10" y2="379.10" stroke="#d6d6d6" stroke-width="0.5" stroke-dasharray="0.8 4.6"/>
<line x1="423.4" x2="639.6" y1="399.96" y2="399.96" stroke="#d6d6d6" stroke-width="0.5" stroke-dasharray="0.8 4.6"/>
<line x1="423.4" x2="639.6" y1="420.82" y2="420.82" stroke="#d6d6d6" stroke-width="0.5" stroke-dasharray="0.8 4.6"/>
<line x1="423.4" x2="639.6" y1="441.68" y2="441.68" stroke="#d6d6d6" stroke-width="0.5" stroke-dasharray="0.8 4.6"/>
<line x1="423.4" x2="639.6" y1="462.54" y2="462.54" stroke="#d6d6d6" stroke-width="0.5" stroke-dasharray="0.8 4.6"/>
<line x1="495.4" x2="495.4" y1="3.6" y2="483.4" stroke="#999999" stroke-width="1"/>
<g stroke-width="2.4" stroke-linecap="round" fill="none">
<path stroke="#a09560" d="M470.8 23.7h0M480.7 21.3h0M485.0 19.7h0M490.7 24.5h0M475.4 20.5h0M485.5 24.5h0M467.4 28.5h0M487.5 23.7h0"/>
<path stroke="#a99a59" d="M471.8 25.3h0M484.5 28.5h0M480.4 28.5h0M486.0 23.7h0M481.6 27.7h0M470.4 22.1h0M480.6 23.7h0M480.4 20.5h0"/>
<path stroke="#5c70bc" d="M524.1 24.5h0M510.5 24.5h0"/>
<path stroke="#747b92" d="M499.0 20.5h0M499.3 21.3h0"/>
<path stroke="#6c77a0" d="M504.5 23.7h0M491.7 28.5h0"/>
<path stroke="#3d50f7" d="M538.8 24.5h0M543.7 24.5h0M614.3 24.5h0M555.4 24.5h0M550.9 22.5h0M575.8 24.5h0M587.0 24.5h0"/>
<path stroke="#979067" d="M499.0 24.5h0M485.5 21.3h0M479.9 27.7h0M487.5 22.1h0"/>
<path stroke="#c3ab44" d="M474.3 28.5h0M461.0 23.7h0M474.3 23.7h0M485.4 22.9h0"/>
<path stroke="#bba54b" d="M467.9 19.7h0M472.5 19.7h0M466.8 29.3h0M470.4 30.9h0M477.9 27.7h0M482.7 26.1h0"/>
<path stroke="#546dca" d="M490.1 23.7h0M499.3 22.9h0"/>
<path stroke="#3a4afa" d="M499.1 26.1h0"/>
<path stroke="#7c7e85" d="M493.7 24.5h0M495.6 23.7h0"/>
<path stroke="#ccb13d" d="M470.8 26.9h0M469.9 25.3h0M471.7 22.9h0M473.0 18.0h0M463.1 25.3h0M468.9 25.3h0M482.4 26.9h0M479.5 22.1h0M466.2 26.1h0M480.6 26.1h0M472.1 20.5h0"/>
<path stroke="#dcba35" d="M469.0 20.5h0M473.1 29.3h0M459.4 25.3h0M481.4 25.3h0"/>
<path stroke="#8e8970" d="M479.2 30.1h0M499.5 22.1h0M495.8 25.3h0"/>
<path stroke="#6474ae" d="M501.8 25.3h0M490.1 22.9h0M492.3 19.7h0"/>
<path stroke="#e4be32" d="M469.5 22.9h0M468.5 26.1h0M467.1 20.5h0M485.3 20.5h0M475.0 22.1h0M465.5 25.3h0M465.8 21.3h0"/>
<path stroke="#b29f52" d="M473.3 28.5h0M488.7 26.1h0M468.5 23.7h0M495.2 26.1h0M484.6 26.1h0M470.1 24.5h0M466.4 22.1h0M483.4 21.3h0M474.4 26.9h0M476.6 22.9h0"/>
<path stroke="#4862e4" d="M503.8 26.1h0"/>
<path stroke="#858379" d="M500.4 26.1h0M477.6 25.3h0M486.7 26.9h0M503.7 22.9h0"/>
<path stroke="#d4b639" d="M475.5 21.3h0"/>
<path stroke="#8e8970" d="M495.8 26.9h0M498.7 27.7h0M483.3 23.7h0M501.0 24.5h0M503.8 24.5h0"/>
<path stroke="#546dca" d="M498.2 26.9h0M496.9 24.5h0M506.4 24.5h0M494.7 24.5h0M499.8 22.1h0"/>
<path stroke="#6474ae" d="M500.1 23.7h0M501.7 23.7h0M488.6 22.1h0M506.9 24.5h0M491.3 25.3h0M511.8 24.5h0"/>
<path stroke="#a09560" d="M469.3 21.3h0M484.1 22.9h0M492.7 20.5h0M477.1 27.7h0M489.5 22.9h0M498.1 23.7h0M489.1 26.9h0M482.1 20.5h0M471.5 23.7h0"/>
<path stroke="#bba54b" d="M474.0 22.1h0M472.5 23.7h0M479.3 24.5h0M470.3 30.1h0M481.7 28.5h0M459.1 22.9h0"/>
<path stroke="#6c77a0" d="M492.3 22.9h0"/>
<path stroke="#a99a59" d="M491.8 26.1h0M471.4 27.7h0M473.9 26.1h0M478.5 26.9h0"/>
<path stroke="#858379" d="M494.1 22.9h0M484.5 26.9h0M476.8 23.7h0"/>
<path stroke="#3d50f7" d="M550.9 24.5h0M602.5 24.5h0M604.5 24.5h0M614.3 26.0h0"/>
<path stroke="#ccb13d" d="M479.1 21.3h0M464.0 23.7h0M470.7 26.9h0M482.2 24.5h0M475.4 29.3h0M466.1 26.9h0M460.5 26.1h0M465.0 24.5h0M475.4 27.7h0M463.9 23.7h0"/>
<path stroke="#dcba35" d="M478.0 29.3h0M473.1 27.7h0M485.4 27.7h0"/>
<path stroke="#7c7e85" d="M477.3 26.9h0M470.1 26.1h0M489.8 25.3h0M493.9 22.1h0M489.6 22.1h0"/>
<path stroke="#747b92" d="M514.9 24.5h0M492.3 24.5h0"/>
<path stroke="#d4b639" d="M480.2 26.9h0M480.6 19.7h0M473.0 31.0h0"/>
<path stroke="#c3ab44" d="M472.3 21.3h0M486.3 26.1h0M482.5 23.7h0M467.1 19.7h0M478.0 22.9h0M477.1 21.3h0M474.6 22.9h0M482.7 22.1h0"/>
<path stroke="#e4be32" d="M483.9 24.5h0M470.1 31.7h0M469.3 18.9h0M476.2 20.5h0M489.0 25.3h0M472.2 26.1h0M462.2 24.5h0M474.2 24.5h0M463.9 24.5h0M478.0 19.7h0"/>
<path stroke="#b29f52" d="M474.0 26.9h0M476.9 19.7h0M485.3 22.1h0M480.0 25.3h0M477.4 26.1h0M488.9 24.5h0"/>
<path stroke="#979067" d="M467.8 22.1h0M477.8 22.1h0"/>
<path stroke="#b29f52" d="M470.3 19.7h0M476.6 28.5h0M469.0 27.7h0M466.3 27.7h0M469.3 27.7h0M475.0 19.7h0"/>
<path stroke="#858379" d="M495.3 22.9h0M491.4 27.7h0M501.5 22.9h0"/>
<path stroke="#8e8970" d="M491.3 23.7h0M487.9 23.7h0"/>
<path stroke="#4862e4" d="M523.3 24.5h0"/>
<path stroke="#a09560" d="M471.4 29.3h0M490.3 26.1h0M491.5 21.3h0"/>
<path stroke="#ccb13d" d="M465.4 22.9h0M478.7 28.5h0M460.3 24.5h0M473.3 20.5h0M476.4 24.5h0"/>
<path stroke="#dcba35" d="M472.2 28.5h0M469.4 20.5h0M471.2 24.5h0"/>
<path stroke="#d4b639" d="M468.5 26.9h0M472.7 19.7h0M468.6 24.5h0M464.7 26.1h0M467.0 28.5h0"/>
<path stroke="#6c77a0" d="M516.4 24.5h0M503.2 25.3h0M497.5 22.9h0M501.8 24.5h0"/>
<path stroke="#747b92" d="M496.0 22.1h0M498.8 23.7h0M493.4 23.7h0"/>
<path stroke="#c3ab44" d="M481.0 22.9h0M468.2 22.9h0M473.6 22.9h0M483.6 26.9h0M483.8 26.1h0M474.7 25.3h0M466.4 23.7h0"/>
<path stroke="#979067" d="M498.2 25.3h0M471.9 22.1h0M479.2 20.5h0"/>
<path stroke="#bba54b" d="M479.1 23.7h0M473.3 21.3h0M473.7 25.3h0M476.4 22.1h0M478.7 24.5h0M468.2 21.3h0M482.4 21.3h0M472.8 24.5h0M478.1 26.1h0M471.0 18.9h0M487.2 24.5h0"/>
<path stroke="#a99a59" d="M482.8 22.1h0M470.6 18.1h0M483.8 25.3h0M497.6 25.3h0M470.0 17.3h0M474.4 26.1h0M487.5 22.9h0M469.7 29.3h0M476.6 25.3h0M484.5 25.3h0"/>
<path stroke="#3d50f7" d="M589.4 24.5h0M629.6 24.5h0M534.5 24.5h0M541.2 24.5h0M606.3 24.5h0M563.2 24.5h0M600.7 24.5h0M546.0 24.5h0"/>
<path stroke="#e4be32" d="M466.7 25.3h0M486.8 25.3h0M465.7 24.5h0M459.0 23.7h0M470.1 28.5h0M480.7 22.9h0M466.4 22.9h0"/>
<path stroke="#546dca" d="M491.6 26.9h0"/>
<path stroke="#4e68d7" d="M519.2 24.5h0M504.9 22.1h0"/>
<path stroke="#6474ae" d="M516.9 24.5h0M510.0 24.5h0M491.5 22.1h0M502.8 22.9h0"/>
<path stroke="#7c7e85" d="M477.7 18.9h0M501.6 26.1h0M494.0 25.3h0M493.8 26.1h0M500.9 25.3h0"/>
<path stroke="#5c70bc" d="M527.5 43.1h0M508.2 44.2h0M505.7 47.6h0M527.6 46.5h0M503.6 47.6h0M529.7 43.1h0M509.0 45.3h0"/>
<path stroke="#4057f4" d="M521.4 43.1h0M506.8 47.6h0M526.0 46.5h0M522.6 44.2h0M544.8 45.3h0"/>
<path stroke="#747b92" d="M497.4 47.6h0M496.0 45.3h0M521.0 46.5h0"/>
<path stroke="#c3ab44" d="M484.7 46.5h0M465.5 45.3h0M486.6 44.2h0"/>
<path stroke="#3a4afa" d="M545.6 45.3h0M540.9 45.3h0M529.0 41.9h0M526.2 47.6h0"/>
<path stroke="#546dca" d="M519.5 43.1h0M531.2 43.1h0M513.6 41.9h0M519.4 46.5h0M514.6 47.6h0M497.6 44.2h0M526.1 44.2h0"/>
<path stroke="#3d50f7" d="M553.1 45.3h0M506.6 43.1h0"/>
<path stroke="#4862e4" d="M506.4 44.2h0M516.2 44.2h0M523.2 44.2h0M515.7 45.3h0M525.2 43.1h0M525.3 46.5h0"/>
<path stroke="#ccb13d" d="M487.4 43.1h0M476.7 47.6h0M485.0 48.7h0M483.6 47.6h0M480.1 46.5h0M471.7 43.1h0"/>
<path stroke="#dcba35" d="M471.5 48.7h0M468.1 45.3h0M451.1 45.3h0M475.2 44.2h0M432.9 45.3h0M470.4 41.9h0"/>
<path stroke="#4e68d7" d="M509.4 47.6h0M502.0 45.3h0M497.3 45.3h0M512.2 44.2h0M507.8 46.5h0M513.9 47.6h0M532.5 46.5h0M497.4 46.5h0M511.0 45.3h0M542.9 45.3h0"/>
<path stroke="#bba54b" d="M483.5 48.7h0M478.1 45.3h0M474.4 46.5h0M480.0 38.8h0M482.7 44.2h0M483.7 43.1h0M489.4 46.5h0M472.5 47.6h0M471.2 45.3h0"/>
<path stroke="#435df0" d="M540.2 45.3h0M527.4 47.6h0M500.9 45.3h0M547.1 45.3h0M528.2 45.3h0"/>
<path stroke="#6c77a0" d="M526.6 43.1h0M533.0 41.9h0M516.4 47.6h0M496.2 46.5h0"/>
<path stroke="#6474ae" d="M499.3 45.3h0M503.1 44.2h0M514.3 46.5h0M508.2 41.9h0"/>
<path stroke="#7c7e85" d="M491.7 46.5h0"/>
<path stroke="#a09560" d="M485.6 45.3h0M468.9 43.1h0"/>
<path stroke="#a99a59" d="M485.2 43.1h0M485.9 43.1h0M467.7 44.2h0M484.1 41.9h0M483.5 45.3h0M494.0 44.2h0M476.9 48.7h0M472.7 48.7h0M488.5 47.6h0"/>
<path stroke="#e4be32" d="M456.1 45.3h0M449.0 45.3h0M470.5 47.6h0M471.2 44.2h0M470.7 49.9h0M453.8 45.3h0M460.7 45.3h0M476.4 43.1h0M472.9 44.2h0M483.6 40.8h0"/>
<path stroke="#b29f52" d="M474.9 41.9h0M489.9 43.1h0M481.7 46.5h0M485.3 47.6h0M477.2 44.2h0"/>
<path stroke="#8e8970" d="M483.0 46.5h0"/>
<path stroke="#e4be32" d="M462.7 45.3h0M444.0 45.3h0M452.7 45.3h0M468.8 47.6h0M477.5 46.5h0"/>
<path stroke="#747b92" d="M491.6 44.2h0M493.4 43.1h0M531.5 44.2h0"/>
<path stroke="#8e8970" d="M495.2 46.5h0M472.0 43.1h0M482.4 45.3h0M487.1 47.6h0M501.5 43.1h0"/>
<path stroke="#4862e4" d="M528.9 44.2h0M522.9 47.6h0M505.1 47.6h0M507.7 43.1h0M499.5 46.5h0M512.9 46.5h0M518.6 44.2h0M494.7 45.3h0M522.1 46.5h0M527.4 44.2h0M518.5 41.9h0"/>
<path stroke="#979067" d="M472.4 45.3h0M491.0 45.3h0"/>
<path stroke="#6c77a0" d="M516.4 46.5h0M495.3 43.1h0M503.5 43.1h0M502.8 44.2h0M498.1 44.2h0"/>
<path stroke="#d4b639" d="M483.0 44.2h0M472.2 46.5h0M476.7 41.9h0"/>
<path stroke="#dcba35" d="M439.8 45.3h0M449.8 45.3h0M470.4 46.5h0M469.6 46.5h0"/>
<path stroke="#858379" d="M498.7 46.5h0M492.3 43.1h0"/>
<path stroke="#4e68d7" d="M499.7 47.6h0M508.9 47.6h0M530.2 46.5h0M498.8 43.1h0M507.6 45.3h0M508.0 43.1h0M507.1 41.9h0M516.7 45.3h0M501.7 46.5h0M507.8 44.2h0"/>
<path stroke="#a09560" d="M485.2 45.3h0M478.3 44.2h0M477.9 45.3h0M489.0 40.8h0M479.8 47.6h0M486.8 41.9h0"/>
<path stroke="#435df0" d="M527.5 45.3h0M517.9 46.5h0M525.1 45.3h0M528.5 43.1h0"/>
<path stroke="#6474ae" d="M504.4 46.5h0M492.8 45.3h0"/>
<path stroke="#bba54b" d="M481.1 44.2h0M480.9 48.7h0M486.5 47.6h0M485.9 41.9h0M480.0 41.9h0M475.3 48.7h0M469.9 47.6h0M479.2 46.5h0"/>
<path stroke="#c3ab44" d="M475.2 43.1h0M463.6 45.3h0M473.1 48.7h0"/>
<path stroke="#b29f52" d="M478.4 43.1h0M472.6 41.9h0M473.1 45.3h0M489.2 45.3h0"/>
<path stroke="#7c7e85" d="M502.5 46.5h0M493.8 46.5h0"/>
<path stroke="#5c70bc" d="M501.9 43.1h0M525.9 45.3h0M498.8 47.6h0M525.0 44.2h0"/>
<path stroke="#a99a59" d="M471.2 39.7h0M487.0 51.3h0M473.4 41.9h0M487.7 44.2h0"/>
<path stroke="#546dca" d="M512.8 45.3h0M508.2 46.5h0M509.3 43.1h0M509.4 46.5h0M523.8 46.5h0M498.1 45.3h0M531.7 41.9h0M519.1 47.6h0"/>
<path stroke="#3a4afa" d="M532.6 43.1h0M534.5 45.3h0M532.3 44.2h0M536.4 45.3h0M511.3 44.2h0"/>
<path stroke="#3d50f7" d="M558.0 45.3h0M519.1 43.1h0M531.9 45.3h0"/>
<path stroke="#ccb13d" d="M480.9 43.1h0M470.9 40.8h0M480.9 41.9h0M474.8 45.3h0"/>
<path stroke="#4057f4" d="M517.8 43.1h0M543.2 45.3h0"/>
<path stroke="#4057f4" d="M528.5 46.5h0M513.0 43.1h0M515.9 43.1h0M521.0 44.2h0M530.9 46.5h0"/>
<path stroke="#6c77a0" d="M510.0 44.2h0M505.6 46.5h0"/>
<path stroke="#435df0" d="M513.4 45.3h0M519.2 45.3h0M520.9 45.3h0M523.3 45.3h0M522.1 43.1h0M511.0 46.5h0M503.5 46.5h0"/>
<path stroke="#dcba35" d="M437.8 45.3h0M470.3 45.3h0"/>
<path stroke="#747b92" d="M500.4 43.1h0M494.5 44.2h0"/>
<path stroke="#a09560" d="M488.0 46.5h0M467.3 45.3h0"/>
<path stroke="#546dca" d="M500.3 44.2h0M500.8 47.6h0M522.5 45.3h0M529.2 40.8h0M520.0 44.2h0M497.0 41.9h0M502.7 47.6h0M504.8 44.2h0M524.9 47.6h0M504.2 43.1h0M515.3 45.3h0M511.6 43.1h0"/>
<path stroke="#4862e4" d="M518.6 46.5h0M518.2 45.3h0M515.6 41.9h0"/>
<path stroke="#4e68d7" d="M530.0 47.6h0M504.0 45.3h0M496.7 43.1h0M532.0 47.6h0M513.2 44.2h0M509.7 45.3h0M495.7 44.2h0"/>
<path stroke="#7c7e85" d="M495.0 47.6h0"/>
<path stroke="#d4b639" d="M488.4 41.9h0M459.9 45.3h0M469.1 46.5h0"/>
<path stroke="#5c70bc" d="M505.7 45.3h0M517.1 44.2h0M512.0 43.1h0M501.5 41.9h0M530.5 45.3h0M528.2 47.6h0M504.9 45.3h0"/>
<path stroke="#979067" d="M492.4 44.2h0M487.3 46.5h0"/>
<path stroke="#a99a59" d="M479.2 44.2h0M488.9 43.1h0M484.7 44.2h0M475.8 44.2h0M473.2 40.8h0M486.1 46.5h0"/>
<path stroke="#6474ae" d="M513.6 46.5h0M515.0 44.2h0M520.2 47.6h0M493.0 45.3h0M530.8 47.6h0M501.7 44.2h0M511.7 47.6h0"/>
<path stroke="#c3ab44" d="M473.1 46.5h0M482.7 46.5h0M473.6 44.2h0M479.5 45.3h0M489.5 45.3h0M481.8 47.6h0M480.5 47.6h0"/>
<path stroke="#3a4afa" d="M527.9 41.9h0M529.8 44.2h0"/>
<path stroke="#ccb13d" d="M471.2 41.9h0M457.5 45.3h0M468.9 41.9h0M468.6 44.2h0M472.4 40.8h0M487.9 45.3h0M447.1 45.3h0M469.4 43.1h0"/>
<path stroke="#3d50f7" d="M515.1 43.1h0M528.6 48.7h0M534.0 45.3h0M529.9 45.3h0M511.0 41.9h0"/>
<path stroke="#e4be32" d="M466.5 44.2h0M455.2 45.3h0M469.7 44.2h0M444.4 45.3h0M485.3 41.9h0"/>
<path stroke="#b29f52" d="M480.9 45.3h0M476.3 46.5h0M476.9 43.1h0M475.0 47.6h0M489.4 44.2h0M488.4 48.7h0M476.1 47.6h0M479.6 43.1h0"/>
<path stroke="#8e8970" d="M473.9 43.1h0M482.7 43.1h0M502.5 41.9h0M491.4 46.5h0"/>
<path stroke="#bba54b" d="M488.6 44.2h0M475.7 45.3h0M473.3 47.6h0"/>
<path stroke="#4e68d7" d="M513.3 65.1h0M504.8 62.8h0M510.2 68.4h0"/>
<path stroke="#747b92" d="M498.9 68.4h0M493.4 70.7h0M500.1 69.6h0M502.8 63.9h0"/>
<path stroke="#8e8970" d="M496.2 69.6h0M494.0 59.2h0M495.8 68.4h0M499.3 69.6h0M508.9 66.2h0"/>
<path stroke="#4057f4" d="M516.7 65.1h0M517.9 65.1h0M500.4 63.9h0"/>
<path stroke="#435df0" d="M527.0 66.2h0M527.0 67.3h0"/>
<path stroke="#6474ae" d="M501.9 67.3h0M493.2 66.2h0M490.9 63.9h0"/>
<path stroke="#979067" d="M495.0 63.9h0M497.7 62.8h0M499.1 61.7h0"/>
<path stroke="#bba54b" d="M495.9 70.7h0M485.2 67.3h0M500.0 62.8h0"/>
<path stroke="#4862e4" d="M508.5 65.1h0M517.3 65.1h0M517.9 67.3h0M503.4 65.1h0M509.5 66.2h0"/>
<path stroke="#a09560" d="M499.3 67.3h0M489.2 66.2h0M492.2 69.6h0M494.6 68.4h0M480.6 65.1h0"/>
<path stroke="#546dca" d="M506.2 66.2h0M499.2 63.9h0M508.6 63.9h0"/>
<path stroke="#858379" d="M498.0 67.3h0M504.1 67.3h0M503.7 66.2h0"/>
<path stroke="#a99a59" d="M489.5 63.9h0M490.7 68.4h0M488.2 63.9h0M489.3 62.8h0M481.5 68.4h0M483.7 65.1h0M489.2 63.9h0M491.5 68.4h0"/>
<path stroke="#7c7e85" d="M495.2 62.8h0M496.4 61.7h0M499.4 61.7h0"/>
<path stroke="#5c70bc" d="M508.7 67.3h0M507.0 68.4h0"/>
<path stroke="#3a4afa" d="M502.1 67.3h0M512.8 67.3h0M520.4 63.9h0M519.5 65.1h0"/>
<path stroke="#b29f52" d="M491.5 69.6h0M473.2 67.3h0M498.0 66.2h0M482.7 66.2h0M484.1 66.2h0M491.4 70.7h0M478.9 65.1h0M481.5 65.1h0"/>
<path stroke="#ccb13d" d="M490.9 62.8h0M474.3 66.2h0M476.8 63.9h0M497.1 66.2h0M482.6 65.1h0M472.2 65.1h0M476.1 63.9h0M486.8 66.2h0M469.1 65.1h0"/>
<path stroke="#d4b639" d="M474.7 66.2h0M492.6 68.4h0M480.1 66.2h0M469.1 67.3h0"/>
<path stroke="#c3ab44" d="M488.4 65.1h0M472.2 66.2h0M474.5 61.7h0M480.9 67.3h0M488.3 67.3h0M476.2 67.3h0M474.3 63.9h0"/>
<path stroke="#e4be32" d="M470.9 62.8h0M469.0 66.2h0M470.2 63.9h0M471.1 67.3h0M475.7 65.1h0M471.4 66.2h0M475.6 62.8h0M473.9 69.6h0"/>
<path stroke="#3d50f7" d="M521.4 66.2h0M514.9 65.1h0M515.5 66.2h0M531.4 66.2h0"/>
<path stroke="#dcba35" d="M476.5 67.3h0M475.7 68.4h0M478.0 66.2h0M472.9 66.2h0M470.7 67.3h0"/>
<path stroke="#6c77a0" d="M504.3 66.2h0M494.8 66.2h0M506.4 67.3h0M500.0 68.4h0M494.7 66.2h0M501.4 66.2h0"/>
<path stroke="#ccb13d" d="M485.3 70.7h0M493.3 61.7h0M489.9 65.1h0M486.3 68.4h0"/>
<path stroke="#5c70bc" d="M504.0 68.4h0M508.6 61.7h0"/>
<path stroke="#d4b639" d="M471.8 63.9h0M481.7 62.8h0M470.7 65.1h0M488.0 66.2h0M489.7 66.2h0M479.7 63.9h0M473.5 61.2h0"/>
<path stroke="#dcba35" d="M474.7 67.3h0M452.3 66.2h0M470.2 68.4h0M439.8 66.2h0M476.4 66.2h0M472.5 67.3h0M471.7 65.1h0"/>
<path stroke="#b29f52" d="M478.7 63.9h0M480.7 68.4h0M479.8 67.3h0M474.7 63.9h0M491.5 65.1h0M489.7 67.3h0M493.4 68.4h0"/>
<path stroke="#a99a59" d="M480.8 63.9h0M487.0 65.1h0M478.7 67.3h0M484.1 65.1h0M499.7 65.1h0M488.1 68.4h0"/>
<path stroke="#7c7e85" d="M495.7 65.1h0M494.4 65.1h0M490.5 69.6h0M497.1 67.3h0M496.1 66.2h0M490.2 67.3h0M506.3 63.9h0"/>
<path stroke="#979067" d="M491.5 61.7h0M493.5 63.9h0M485.2 62.8h0M498.1 69.6h0"/>
<path stroke="#858379" d="M497.0 63.9h0M485.3 63.9h0M493.9 63.9h0"/>
<path stroke="#e4be32" d="M485.1 66.2h0M460.2 66.2h0M473.5 68.4h0"/>
<path stroke="#bba54b" d="M469.4 68.4h0M493.3 69.6h0M492.9 61.7h0M480.7 62.8h0"/>
<path stroke="#c3ab44" d="M499.1 62.8h0M478.5 66.2h0M485.1 65.1h0M477.1 65.1h0M488.5 67.3h0"/>
<path stroke="#3a4afa" d="M521.2 65.1h0"/>
<path stroke="#8e8970" d="M498.2 68.4h0M494.5 67.3h0M498.8 65.1h0"/>
<path stroke="#546dca" d="M510.4 65.1h0M501.4 63.9h0M512.5 66.2h0M525.8 66.2h0M507.6 67.3h0M492.8 62.8h0M501.8 68.4h0M515.5 63.9h0M505.1 63.9h0M507.4 65.1h0"/>
<path stroke="#3d50f7" d="M507.6 69.6h0M523.8 66.2h0M526.5 66.2h0"/>
<path stroke="#6474ae" d="M502.2 66.2h0M498.6 70.7h0M507.6 65.1h0M511.6 66.2h0M499.7 63.9h0"/>
<path stroke="#435df0" d="M510.1 65.1h0M509.7 63.9h0"/>
<path stroke="#4862e4" d="M508.6 62.8h0M507.9 66.2h0M514.2 66.2h0M519.4 66.2h0M516.3 66.2h0M509.0 69.6h0"/>
<path stroke="#4e68d7" d="M522.5 66.2h0M511.8 67.3h0M513.1 66.2h0M511.6 65.1h0M525.6 65.1h0M513.3 67.3h0"/>
<path stroke="#747b92" d="M492.4 67.3h0M495.7 60.5h0M491.5 67.3h0M511.0 66.2h0"/>
<path stroke="#6c77a0" d="M500.7 65.1h0M501.1 66.2h0M505.8 65.1h0M497.0 62.8h0M512.1 63.9h0"/>
<path stroke="#a09560" d="M497.3 69.6h0M499.9 66.2h0M486.5 67.3h0M482.0 63.9h0M491.4 63.9h0"/>
<path stroke="#4057f4" d="M515.4 67.3h0"/>
<path stroke="#bba54b" d="M479.9 65.1h0M477.6 65.1h0"/>
<path stroke="#3d50f7" d="M520.3 66.2h0M524.1 66.2h0M529.3 65.1h0"/>
<path stroke="#6c77a0" d="M493.4 65.1h0M508.0 62.8h0M497.7 63.9h0M512.0 68.4h0"/>
<path stroke="#747b92" d="M493.5 67.3h0M496.4 62.8h0M503.4 67.3h0M507.7 68.4h0"/>
<path stroke="#c3ab44" d="M496.0 67.3h0M461.6 66.2h0M477.6 67.3h0M468.4 67.3h0M491.8 66.2h0M483.0 63.9h0M478.9 68.4h0M481.1 63.9h0M474.2 65.1h0M474.2 68.4h0"/>
<path stroke="#4862e4" d="M506.7 63.9h0M517.3 66.2h0M511.1 63.9h0M519.9 67.3h0M520.9 67.3h0"/>
<path stroke="#4057f4" d="M528.7 66.2h0M505.3 67.3h0"/>
<path stroke="#435df0" d="M524.0 65.1h0M520.2 65.1h0"/>
<path stroke="#6474ae" d="M509.5 67.3h0M505.2 66.2h0"/>
<path stroke="#7c7e85" d="M510.3 67.3h0M508.0 63.9h0M492.7 63.9h0M503.9 63.9h0M504.0 63.9h0M501.7 65.1h0M497.0 65.1h0"/>
<path stroke="#a99a59" d="M481.8 67.3h0M491.0 66.2h0"/>
<path stroke="#8e8970" d="M492.8 66.2h0M485.9 63.9h0M491.0 65.1h0"/>
<path stroke="#dcba35" d="M455.1 66.2h0M473.4 63.9h0M473.7 67.3h0M482.9 67.3h0"/>
<path stroke="#4e68d7" d="M500.3 67.3h0M504.3 65.1h0M502.3 65.1h0M514.3 65.1h0M517.9 66.2h0"/>
<path stroke="#e4be32" d="M482.3 67.3h0M485.5 68.4h0M478.1 63.9h0M465.8 66.2h0M467.4 66.2h0M469.0 68.4h0M469.6 65.1h0M476.8 66.2h0M469.2 66.2h0M475.1 65.1h0"/>
<path stroke="#d4b639" d="M481.2 66.2h0M485.3 61.7h0M473.2 65.1h0M469.8 63.9h0"/>
<path stroke="#546dca" d="M505.3 65.1h0M514.6 67.3h0M503.8 68.4h0M506.7 67.3h0"/>
<path stroke="#979067" d="M486.3 65.1h0M495.4 68.4h0M492.2 65.1h0M487.5 65.1h0M479.3 66.2h0M495.0 65.1h0M496.1 63.9h0M497.7 70.7h0"/>
<path stroke="#5c70bc" d="M521.3 65.1h0M512.2 65.1h0M507.4 66.2h0M497.6 65.1h0M508.8 68.4h0M499.0 66.2h0"/>
<path stroke="#3a4afa" d="M520.0 63.9h0M520.6 66.2h0M527.6 65.1h0M528.1 65.1h0M519.2 67.3h0M528.3 66.2h0"/>
<path stroke="#ccb13d" d="M468.7 63.9h0M474.3 62.8h0M470.1 66.2h0"/>
<path stroke="#b29f52" d="M484.3 63.9h0M486.0 66.2h0M475.2 68.4h0M484.4 67.3h0M483.4 66.2h0"/>
<path stroke="#a09560" d="M489.5 68.4h0M497.5 61.7h0M485.0 69.6h0M491.6 62.8h0M493.0 62.8h0"/>
<path stroke="#858379" d="M499.8 67.3h0M502.5 68.4h0M495.1 67.3h0M486.9 67.3h0M497.2 68.4h0"/>
<path stroke="#a09560" d="M501.1 84.6h0M499.4 87.8h0"/>
<path stroke="#979067" d="M492.3 91.0h0M493.5 87.8h0M500.8 87.8h0M504.1 86.2h0M502.3 91.0h0"/>
<path stroke="#747b92" d="M493.9 84.6h0M481.2 88.6h0M485.8 86.2h0M502.0 90.2h0M490.0 86.2h0"/>
<path stroke="#4862e4" d="M484.9 87.0h0M487.4 85.4h0M492.8 85.4h0M485.9 88.6h0M479.6 85.4h0M488.6 86.2h0"/>
<path stroke="#6474ae" d="M491.0 88.6h0M495.6 88.6h0"/>
<path stroke="#4e68d7" d="M467.7 87.0h0M469.1 87.8h0M482.2 86.2h0"/>
<path stroke="#7c7e85" d="M490.3 87.0h0M492.0 83.0h0M494.4 83.0h0"/>
<path stroke="#c3ab44" d="M506.8 87.0h0M520.8 87.0h0"/>
<path stroke="#8e8970" d="M491.8 83.8h0M502.9 87.8h0M499.9 88.6h0M500.2 83.0h0M502.0 87.8h0"/>
<path stroke="#858379" d="M499.3 84.6h0M498.4 89.4h0"/>
<path stroke="#dcba35" d="M504.9 85.4h0M519.1 87.0h0M510.5 86.2h0M540.7 87.0h0M505.8 85.4h0"/>
<path stroke="#bba54b" d="M501.8 89.4h0M506.6 87.8h0M502.7 83.8h0M505.5 88.6h0M504.0 83.8h0M510.6 86.2h0M512.6 86.2h0"/>
<path stroke="#5c70bc" d="M497.3 90.2h0M494.4 91.0h0M495.7 83.8h0M483.9 86.2h0M482.4 87.0h0M484.0 87.8h0"/>
<path stroke="#b29f52" d="M509.7 87.8h0M506.1 87.8h0M499.5 91.0h0"/>
<path stroke="#4057f4" d="M458.3 87.0h0M477.0 87.8h0M477.2 87.0h0M477.8 87.0h0"/>
<path stroke="#a99a59" d="M507.3 85.4h0M496.6 90.2h0"/>
<path stroke="#435df0" d="M489.3 87.8h0M483.4 87.8h0M487.8 84.6h0M487.5 86.2h0"/>
<path stroke="#6c77a0" d="M468.1 86.2h0M497.6 88.6h0"/>
<path stroke="#3a4afa" d="M480.0 87.0h0M475.4 85.4h0M486.6 87.8h0M469.0 87.8h0M475.6 86.2h0M450.8 87.0h0M476.5 86.2h0"/>
<path stroke="#ccb13d" d="M507.7 88.6h0M509.6 89.4h0"/>
<path stroke="#d4b639" d="M508.2 86.2h0M511.9 87.8h0M506.3 87.0h0M509.0 87.8h0M507.0 88.6h0"/>
<path stroke="#546dca" d="M485.5 86.2h0M485.0 87.8h0M480.1 88.6h0M480.5 87.0h0M481.0 85.4h0M497.5 86.2h0M490.7 87.8h0M493.2 89.4h0M490.4 85.4h0M491.3 87.8h0"/>
<path stroke="#3d50f7" d="M482.8 86.2h0M445.0 87.0h0"/>
<path stroke="#3a4afa" d="M463.0 87.0h0M466.2 87.0h0M472.4 86.2h0"/>
<path stroke="#6c77a0" d="M490.7 88.6h0M491.6 85.4h0"/>
<path stroke="#ccb13d" d="M505.9 84.6h0M498.4 90.2h0M505.4 89.4h0"/>
<path stroke="#979067" d="M499.2 83.0h0"/>
<path stroke="#4e68d7" d="M489.8 88.6h0M487.6 87.8h0M495.8 87.0h0M477.6 88.6h0M469.5 87.0h0"/>
<path stroke="#a99a59" d="M503.9 87.0h0M503.1 90.2h0M504.7 87.0h0M501.2 83.8h0M502.8 89.4h0"/>
<path stroke="#bba54b" d="M509.3 85.4h0M502.4 85.4h0"/>
<path stroke="#546dca" d="M487.3 87.0h0M492.4 87.0h0M488.1 85.4h0M483.9 87.0h0M470.2 86.2h0M469.4 85.4h0M489.5 85.4h0M496.1 85.4h0"/>
<path stroke="#dcba35" d="M500.6 87.0h0M508.5 85.4h0M516.2 87.0h0"/>
<path stroke="#858379" d="M492.7 89.4h0"/>
<path stroke="#747b92" d="M495.0 87.8h0M491.2 87.0h0M497.2 85.4h0M494.9 88.6h0M493.4 86.2h0M495.5 87.8h0"/>
<path stroke="#7c7e85" d="M493.3 87.0h0M494.8 85.4h0M483.2 87.0h0"/>
<path stroke="#d4b639" d="M504.4 87.8h0M509.6 85.4h0M515.2 87.0h0M500.6 90.2h0"/>
<path stroke="#b29f52" d="M499.3 83.8h0M498.2 87.0h0M503.9 88.6h0M502.6 84.6h0M492.4 84.6h0M511.9 87.0h0M511.5 87.8h0M503.7 85.4h0"/>
<path stroke="#c3ab44" d="M501.8 83.0h0M513.5 87.0h0M505.2 88.6h0M511.6 87.0h0"/>
<path stroke="#a09560" d="M500.1 90.2h0M499.7 89.4h0M500.1 87.0h0"/>
<path stroke="#435df0" d="M481.0 87.8h0M487.1 84.6h0M478.9 87.8h0M454.0 87.0h0M492.0 88.6h0M471.4 87.0h0M468.0 87.8h0"/>
<path stroke="#6474ae" d="M494.3 84.6h0M484.4 85.4h0M494.8 86.2h0M500.2 85.4h0"/>
<path stroke="#4057f4" d="M473.9 87.0h0M450.1 87.0h0M479.3 86.2h0M485.9 87.0h0"/>
<path stroke="#8e8970" d="M500.4 89.4h0M496.3 87.0h0M499.3 86.2h0M503.6 87.8h0M496.6 83.8h0"/>
<path stroke="#4862e4" d="M472.0 87.8h0M493.7 85.4h0M480.1 86.2h0M475.9 87.8h0M474.2 87.8h0"/>
<path stroke="#3d50f7" d="M443.4 87.0h0M466.7 87.8h0M436.9 87.0h0M470.5 87.0h0M466.9 86.2h0M464.3 87.0h0M460.8 87.0h0"/>
<path stroke="#5c70bc" d="M487.8 88.6h0M487.3 88.6h0"/>
<path stroke="#b29f52" d="M498.8 84.6h0M500.8 91.0h0M498.6 88.6h0M500.7 85.4h0"/>
<path stroke="#a09560" d="M498.8 86.2h0M502.3 83.0h0M494.4 83.8h0M496.7 86.2h0"/>
<path stroke="#7c7e85" d="M492.6 90.2h0M497.8 89.4h0"/>
<path stroke="#8e8970" d="M503.5 89.4h0M497.5 87.8h0M492.2 87.8h0M495.0 87.0h0M503.4 84.6h0M495.4 84.6h0M496.0 89.4h0"/>
<path stroke="#4862e4" d="M483.3 85.4h0M468.2 87.0h0M473.2 86.2h0M488.6 87.0h0"/>
<path stroke="#c3ab44" d="M510.6 88.6h0M501.3 88.6h0M500.3 86.2h0M512.5 85.4h0"/>
<path stroke="#e4be32" d="M506.8 86.2h0M511.9 88.6h0M521.3 87.0h0M510.5 84.6h0"/>
<path stroke="#3d50f7" d="M477.9 87.8h0M462.2 87.0h0M467.9 86.2h0M477.9 86.2h0"/>
<path stroke="#bba54b" d="M505.0 86.2h0M508.5 87.8h0M503.4 90.2h0"/>
<path stroke="#d4b639" d="M517.6 87.0h0M506.3 86.2h0"/>
<path stroke="#747b92" d="M494.1 89.4h0M495.3 85.4h0M497.7 83.8h0"/>
<path stroke="#dcba35" d="M525.7 87.0h0M508.1 87.0h0"/>
<path stroke="#6c77a0" d="M496.3 84.6h0M491.5 89.4h0M496.8 88.6h0"/>
<path stroke="#6474ae" d="M492.8 86.2h0M497.6 87.0h0"/>
<path stroke="#3a4afa" d="M451.8 87.0h0M486.5 85.4h0M465.6 87.0h0M474.3 87.0h0M479.0 87.0h0M488.9 87.0h0M467.0 85.4h0M474.6 85.4h0"/>
<path stroke="#ccb13d" d="M510.3 87.0h0M509.5 87.0h0M509.5 86.2h0M502.2 86.2h0"/>
<path stroke="#546dca" d="M497.0 89.4h0M495.3 86.2h0M480.0 87.8h0M488.2 87.8h0M490.9 84.6h0"/>
<path stroke="#a99a59" d="M500.4 88.6h0M503.2 86.2h0M502.8 87.0h0M502.2 87.0h0M499.0 83.8h0M498.6 87.8h0M505.2 84.6h0M502.1 84.6h0M502.7 88.6h0M501.7 85.4h0"/>
<path stroke="#435df0" d="M475.2 86.2h0M469.2 86.2h0M489.1 86.2h0"/>
<path stroke="#858379" d="M497.7 84.6h0M492.1 83.8h0M498.9 85.4h0"/>
<path stroke="#979067" d="M501.9 83.8h0M499.6 83.0h0M490.3 84.6h0"/>
<path stroke="#4057f4" d="M491.7 86.2h0M472.0 86.2h0M472.3 87.0h0"/>
<path stroke="#5c70bc" d="M480.9 86.2h0M496.3 87.8h0M475.5 87.0h0M494.4 90.2h0"/>
<path stroke="#4e68d7" d="M493.0 88.6h0M474.8 87.8h0M477.9 85.4h0M481.6 87.8h0"/>
<path stroke="#a09560" d="M488.9 109.2h0M491.4 107.9h0M488.6 105.3h0M488.8 106.6h0"/>
<path stroke="#979067" d="M483.2 106.6h0M492.7 106.6h0M484.0 105.3h0M488.1 102.6h0M489.4 105.3h0"/>
<path stroke="#4057f4" d="M509.0 106.6h0M520.4 107.9h0M512.9 107.9h0M511.7 109.2h0M514.5 106.6h0M509.1 110.5h0M505.7 103.9h0M506.1 105.3h0M501.5 110.5h0M509.1 109.2h0M499.5 107.9h0"/>
<path stroke="#747b92" d="M486.9 107.9h0M491.2 109.2h0M496.1 107.9h0M488.7 103.9h0M490.3 103.9h0"/>
<path stroke="#c3ab44" d="M476.7 105.3h0M490.0 110.5h0M483.2 110.5h0"/>
<path stroke="#5c70bc" d="M505.3 110.5h0"/>
<path stroke="#dcba35" d="M473.4 106.6h0M478.0 106.6h0"/>
<path stroke="#d4b639" d="M470.0 107.9h0M479.2 109.2h0M472.6 109.2h0M472.5 106.6h0M481.0 109.2h0"/>
<path stroke="#6c77a0" d="M488.9 107.9h0"/>
<path stroke="#ccb13d" d="M466.5 107.9h0M468.8 107.9h0M485.6 109.2h0M484.6 102.6h0M479.9 106.6h0M489.9 107.9h0M476.9 110.5h0"/>
<path stroke="#bba54b" d="M486.3 110.5h0M483.6 109.2h0M480.0 109.2h0M477.3 107.9h0M476.8 109.2h0"/>
<path stroke="#4e68d7" d="M504.6 103.9h0M512.3 105.3h0M503.0 111.9h0M500.8 106.6h0M498.4 109.2h0M490.1 105.3h0"/>
<path stroke="#3a4afa" d="M504.5 107.9h0M516.9 107.9h0M506.4 107.9h0M508.6 109.2h0M524.2 107.9h0M517.4 109.2h0M501.9 106.6h0"/>
<path stroke="#6474ae" d="M498.3 106.6h0M496.9 106.6h0"/>
<path stroke="#435df0" d="M513.5 105.3h0M506.8 110.5h0M499.5 106.6h0M510.4 106.6h0M498.8 109.2h0M502.9 110.5h0M510.2 110.5h0"/>
<path stroke="#a99a59" d="M487.7 103.9h0M489.4 110.5h0M478.4 109.2h0"/>
<path stroke="#3d50f7" d="M519.7 106.6h0M514.3 109.2h0M510.0 105.3h0M510.3 107.9h0M510.1 106.6h0M508.7 106.6h0M511.9 107.9h0M517.3 106.6h0M504.4 103.9h0M520.6 107.9h0"/>
<path stroke="#858379" d="M491.6 110.5h0M494.0 106.6h0"/>
<path stroke="#7c7e85" d="M483.1 109.2h0M481.3 107.9h0M489.9 106.6h0"/>
<path stroke="#e4be32" d="M460.1 107.9h0M473.0 106.6h0"/>
<path stroke="#b29f52" d="M475.4 110.5h0M481.6 105.3h0M483.0 103.9h0M485.3 109.2h0"/>
<path stroke="#8e8970" d="M484.3 110.5h0M486.7 105.3h0M483.0 105.3h0M494.2 109.2h0"/>
<path stroke="#4862e4" d="M502.6 105.3h0M505.0 110.5h0M502.5 107.9h0M492.5 107.9h0M505.2 105.3h0M518.1 106.6h0"/>
<path stroke="#546dca" d="M501.9 107.9h0"/>
<path stroke="#dcba35" d="M477.5 105.3h0M465.5 107.9h0M478.0 109.2h0M473.8 107.9h0M475.5 109.2h0"/>
<path stroke="#546dca" d="M502.1 109.2h0M503.6 107.9h0M521.2 109.2h0M500.8 110.5h0M504.8 105.3h0"/>
<path stroke="#e4be32" d="M459.0 107.9h0M476.6 106.6h0M488.8 110.5h0"/>
<path stroke="#3d50f7" d="M521.1 106.6h0M501.3 106.6h0M521.5 106.6h0M506.0 106.6h0M513.5 110.5h0M515.3 106.6h0M515.9 106.6h0"/>
<path stroke="#747b92" d="M487.6 111.9h0"/>
<path stroke="#8e8970" d="M486.0 103.9h0M485.6 105.3h0M482.8 107.9h0M487.8 111.9h0"/>
<path stroke="#858379" d="M495.4 107.9h0M495.4 109.2h0"/>
<path stroke="#d4b639" d="M477.3 109.2h0M472.8 107.9h0M462.0 107.9h0"/>
<path stroke="#6c77a0" d="M494.3 107.9h0M495.4 106.6h0M490.1 109.2h0M493.0 106.6h0"/>
<path stroke="#a09560" d="M489.8 109.2h0M484.1 106.6h0"/>
<path stroke="#435df0" d="M506.7 105.3h0M499.0 107.9h0M504.2 106.6h0M500.4 107.9h0M503.6 109.2h0M505.2 106.6h0M523.6 107.9h0M489.3 103.9h0"/>
<path stroke="#a99a59" d="M487.9 110.5h0M481.9 103.9h0M481.4 109.2h0M488.3 105.3h0M481.3 110.5h0M484.8 109.2h0M483.0 111.9h0M478.5 106.6h0"/>
<path stroke="#7c7e85" d="M486.5 111.9h0M490.3 107.9h0M491.0 105.3h0"/>
<path stroke="#4057f4" d="M501.4 105.3h0M505.4 107.9h0M506.2 110.5h0M519.5 107.9h0M509.5 107.9h0M501.6 110.5h0M504.2 110.5h0M499.6 110.5h0M514.8 107.9h0M501.1 109.2h0"/>
<path stroke="#4862e4" d="M507.0 106.6h0M500.8 105.3h0M503.8 107.9h0M506.7 107.9h0"/>
<path stroke="#6474ae" d="M497.8 106.6h0"/>
<path stroke="#3a4afa" d="M507.5 111.9h0M512.2 109.2h0M506.2 109.2h0M517.9 107.9h0M513.8 106.6h0M516.1 107.9h0M518.5 107.9h0M498.6 107.9h0"/>
<path stroke="#979067" d="M491.2 106.6h0M482.0 107.9h0M487.4 105.3h0M486.9 103.9h0M487.3 109.2h0"/>
<path stroke="#bba54b" d="M477.5 106.6h0M479.8 105.3h0M471.3 107.9h0M482.1 102.6h0M485.8 111.9h0M480.9 106.6h0M491.3 110.5h0M485.1 106.6h0"/>
<path stroke="#4e68d7" d="M503.9 105.3h0M507.3 109.2h0"/>
<path stroke="#ccb13d" d="M481.3 106.6h0M474.3 109.2h0M468.1 107.9h0M479.2 106.6h0M477.3 110.5h0"/>
<path stroke="#b29f52" d="M475.1 105.3h0"/>
<path stroke="#c3ab44" d="M488.2 103.9h0M491.9 107.9h0M479.1 107.9h0M484.5 103.9h0M480.0 107.9h0"/>
<path stroke="#5c70bc" d="M482.2 111.9h0M484.3 106.6h0M502.2 105.3h0"/>
<path stroke="#d4b639" d="M485.9 107.9h0M484.7 113.2h0"/>
<path stroke="#c3ab44" d="M482.7 110.5h0M480.5 105.3h0M490.1 106.6h0M476.3 107.9h0M491.8 105.3h0M482.2 103.9h0"/>
<path stroke="#3d50f7" d="M530.6 107.9h0M512.1 110.5h0M521.4 107.9h0M507.8 106.6h0M499.9 105.3h0"/>
<path stroke="#3a4afa" d="M504.7 106.6h0M522.5 107.9h0M507.6 105.3h0M510.0 107.9h0M507.9 109.2h0M508.1 105.3h0M511.6 106.6h0M513.3 107.9h0M505.5 109.2h0M501.2 107.9h0M511.0 107.9h0M510.3 109.2h0"/>
<path stroke="#ccb13d" d="M475.9 107.9h0M477.9 107.9h0M486.7 109.2h0M476.0 105.3h0M484.3 111.9h0M478.8 107.9h0M472.5 107.9h0"/>
<path stroke="#6474ae" d="M497.1 107.9h0"/>
<path stroke="#5c70bc" d="M512.6 106.6h0"/>
<path stroke="#b29f52" d="M474.6 105.3h0"/>
<path stroke="#979067" d="M488.4 107.9h0M485.7 102.6h0M484.5 107.9h0M492.0 111.9h0"/>
<path stroke="#e4be32" d="M469.0 107.9h0M476.1 106.6h0M470.7 107.9h0M470.0 106.6h0M475.2 109.2h0"/>
<path stroke="#747b92" d="M494.7 106.6h0"/>
<path stroke="#546dca" d="M503.0 103.9h0M511.1 105.3h0M499.2 106.6h0"/>
<path stroke="#a99a59" d="M482.0 106.6h0M484.0 110.5h0M487.5 107.9h0"/>
<path stroke="#435df0" d="M508.6 110.5h0M504.3 109.2h0M502.9 106.6h0M508.1 103.9h0M508.3 107.9h0M512.8 109.2h0M502.7 109.2h0"/>
<path stroke="#a09560" d="M474.2 110.5h0M490.1 102.6h0M491.9 106.6h0M484.5 105.3h0M494.7 107.9h0"/>
<path stroke="#6c77a0" d="M503.7 106.6h0M493.1 107.9h0M490.7 103.9h0M483.5 107.9h0M487.5 106.6h0M492.6 109.2h0"/>
<path stroke="#4057f4" d="M507.5 110.5h0M500.2 109.2h0M504.9 109.2h0M514.0 107.9h0M516.1 107.9h0M512.2 106.6h0"/>
<path stroke="#8e8970" d="M486.2 106.6h0M482.0 105.3h0M482.1 109.2h0M491.7 103.9h0"/>
<path stroke="#bba54b" d="M487.1 110.5h0M485.9 110.5h0M485.2 110.5h0M474.0 106.6h0M474.3 107.9h0M480.9 107.9h0M485.4 105.3h0M490.2 111.9h0M479.3 105.3h0"/>
<path stroke="#dcba35" d="M463.4 107.9h0M485.2 107.9h0"/>
<path stroke="#858379" d="M497.8 107.9h0M475.2 106.6h0"/>
<path stroke="#4862e4" d="M513.5 109.2h0M510.7 105.3h0M511.7 110.5h0M507.7 107.9h0M510.4 109.2h0M503.6 105.3h0M499.5 109.2h0M509.2 105.3h0"/>
<path stroke="#7c7e85" d="M491.7 109.2h0M497.6 109.2h0M486.8 106.6h0M487.8 109.2h0M474.9 107.9h0M487.9 106.6h0M497.0 109.2h0"/>
<path stroke="#c3ab44" d="M506.2 130.2h0M515.8 128.8h0M507.7 130.2h0M505.3 133.0h0M495.3 128.8h0M509.9 126.0h0M511.4 130.2h0M502.5 127.4h0M513.2 127.4h0"/>
<path stroke="#e4be32" d="M512.5 127.4h0"/>
<path stroke="#3d50f7" d="M467.4 128.8h0M466.6 128.8h0"/>
<path stroke="#3a4afa" d="M459.3 128.8h0"/>
<path stroke="#858379" d="M470.9 130.2h0M507.2 126.0h0M497.2 128.8h0M500.0 127.4h0M507.6 126.0h0"/>
<path stroke="#6c77a0" d="M481.2 130.2h0M494.7 127.4h0M493.4 128.8h0M478.4 127.4h0M481.5 130.2h0M485.4 130.2h0M492.6 126.0h0"/>
<path stroke="#8e8970" d="M496.4 127.4h0M501.7 126.0h0M508.5 130.2h0M496.9 128.8h0"/>
<path stroke="#b29f52" d="M503.7 130.2h0M502.6 130.2h0M510.6 128.8h0M504.7 126.0h0M495.9 130.2h0"/>
<path stroke="#7c7e85" d="M492.5 127.4h0M483.9 128.8h0M490.4 131.6h0M490.3 124.6h0"/>
<path stroke="#979067" d="M509.6 128.8h0M499.5 128.8h0M493.0 133.0h0M509.0 126.0h0M499.7 130.2h0M503.4 128.8h0M496.5 131.6h0M491.0 133.0h0M495.5 131.6h0"/>
<path stroke="#747b92" d="M487.0 130.2h0M475.2 128.8h0M470.8 128.8h0"/>
<path stroke="#a09560" d="M496.6 127.4h0M508.4 128.8h0M498.6 130.2h0M490.4 131.6h0"/>
<path stroke="#5c70bc" d="M475.2 126.0h0M471.6 130.2h0M489.6 133.0h0M474.6 128.8h0M483.3 126.0h0M473.0 128.8h0M487.6 126.0h0"/>
<path stroke="#4057f4" d="M476.5 128.8h0M462.4 128.8h0M476.3 126.0h0M478.5 131.6h0"/>
<path stroke="#a99a59" d="M506.2 127.4h0M489.2 131.6h0M498.9 127.4h0M483.2 130.2h0M505.1 131.6h0M484.8 127.4h0M521.8 128.8h0M485.4 126.0h0M508.5 127.4h0M500.2 128.8h0"/>
<path stroke="#546dca" d="M491.2 131.6h0M480.0 128.8h0M494.4 131.6h0M492.0 133.0h0M493.0 124.6h0M481.1 127.4h0M473.7 130.2h0"/>
<path stroke="#bba54b" d="M505.8 127.4h0M502.7 130.2h0M521.3 128.8h0M505.8 130.2h0"/>
<path stroke="#ccb13d" d="M516.8 128.8h0M520.1 128.8h0M497.3 126.0h0M504.1 130.2h0M513.0 128.8h0M502.3 126.0h0M501.8 131.6h0"/>
<path stroke="#4e68d7" d="M479.4 131.6h0M473.1 130.2h0M487.2 124.6h0M470.1 128.8h0M471.4 127.4h0"/>
<path stroke="#d4b639" d="M506.2 128.8h0"/>
<path stroke="#4862e4" d="M490.6 124.6h0M481.8 127.4h0M483.6 131.6h0M476.2 130.2h0M472.2 130.2h0M475.0 130.2h0M487.7 130.2h0"/>
<path stroke="#6474ae" d="M475.5 130.2h0M472.2 127.4h0"/>
<path stroke="#435df0" d="M489.6 124.6h0M489.9 127.4h0M479.4 130.2h0"/>
<path stroke="#ccb13d" d="M501.0 126.0h0M513.5 128.8h0M508.2 126.0h0M514.6 130.2h0M494.7 130.2h0M512.1 130.2h0"/>
<path stroke="#546dca" d="M481.8 128.8h0M490.1 128.8h0M480.7 128.8h0M479.7 127.4h0M491.1 128.8h0M480.6 130.2h0M482.0 131.6h0M489.6 130.2h0"/>
<path stroke="#bba54b" d="M506.7 127.4h0M511.1 131.6h0"/>
<path stroke="#e4be32" d="M514.7 128.8h0M510.5 126.0h0M516.4 130.2h0"/>
<path stroke="#c3ab44" d="M518.6 127.4h0M515.1 127.4h0M510.2 127.4h0M507.6 127.4h0M505.0 130.2h0M499.3 127.4h0M497.0 130.2h0M515.0 128.8h0"/>
<path stroke="#4862e4" d="M489.9 130.2h0M477.8 131.6h0M475.0 127.4h0M486.8 128.8h0M483.6 124.6h0M490.4 128.8h0"/>
<path stroke="#a99a59" d="M500.6 131.6h0M509.8 130.2h0M492.0 128.8h0"/>
<path stroke="#a09560" d="M502.7 126.0h0M494.4 130.2h0M503.9 127.4h0M491.9 124.6h0"/>
<path stroke="#3a4afa" d="M493.0 130.2h0M460.7 128.8h0M455.4 128.8h0M478.8 126.0h0M458.9 128.8h0"/>
<path stroke="#5c70bc" d="M493.4 127.4h0M482.8 128.8h0M481.4 131.6h0"/>
<path stroke="#747b92" d="M483.4 123.2h0M477.8 130.2h0M481.3 128.8h0M489.6 127.4h0M493.4 126.0h0M485.4 128.8h0M491.4 130.2h0M482.2 126.0h0"/>
<path stroke="#7c7e85" d="M483.7 127.4h0M489.8 126.0h0M494.9 128.8h0M487.1 133.0h0M495.4 130.2h0"/>
<path stroke="#b29f52" d="M509.5 127.4h0M500.7 127.4h0M501.7 130.2h0M507.1 130.2h0M498.9 128.8h0M496.4 124.6h0M504.7 128.8h0M511.3 126.0h0M498.0 130.2h0"/>
<path stroke="#6474ae" d="M479.8 130.2h0M494.6 126.0h0M481.1 126.0h0M485.9 128.8h0M492.1 126.0h0M492.1 127.4h0M478.6 130.2h0M489.0 130.2h0"/>
<path stroke="#979067" d="M496.3 128.8h0M495.8 127.4h0M500.8 130.2h0M497.2 130.2h0"/>
<path stroke="#d4b639" d="M517.4 128.8h0"/>
<path stroke="#6c77a0" d="M488.2 131.6h0M486.0 126.0h0M490.5 130.2h0M474.7 127.4h0M493.5 124.6h0"/>
<path stroke="#4e68d7" d="M486.7 127.4h0M479.5 126.0h0M493.0 128.8h0M472.0 128.8h0M478.2 126.0h0M479.3 128.8h0"/>
<path stroke="#435df0" d="M484.8 128.8h0M490.7 127.4h0M471.7 126.0h0M472.5 126.0h0M485.5 127.4h0"/>
<path stroke="#4057f4" d="M475.5 128.8h0M478.4 128.8h0M471.5 128.8h0"/>
<path stroke="#dcba35" d="M501.7 127.4h0M514.8 126.0h0M503.3 127.4h0"/>
<path stroke="#858379" d="M486.2 124.6h0M483.2 133.0h0M471.1 127.4h0"/>
<path stroke="#8e8970" d="M487.7 128.8h0M488.4 131.6h0M490.7 126.0h0"/>
<path stroke="#435df0" d="M464.2 128.8h0M473.0 127.4h0"/>
<path stroke="#4e68d7" d="M477.1 127.4h0M486.2 130.2h0"/>
<path stroke="#4862e4" d="M487.8 126.0h0"/>
<path stroke="#7c7e85" d="M484.7 130.2h0M488.6 126.0h0M494.3 127.4h0"/>
<path stroke="#e4be32" d="M513.9 127.4h0M514.6 127.4h0M512.6 130.2h0"/>
<path stroke="#858379" d="M494.1 128.8h0M495.5 126.0h0M483.1 128.8h0"/>
<path stroke="#ccb13d" d="M511.6 128.8h0M502.9 131.6h0M498.1 127.4h0M521.5 127.4h0M516.8 127.4h0M509.0 128.8h0M512.4 128.8h0"/>
<path stroke="#c3ab44" d="M512.1 127.4h0M489.1 128.8h0M520.7 128.8h0M517.5 127.4h0"/>
<path stroke="#6474ae" d="M482.7 130.2h0M483.2 131.6h0M487.4 127.4h0M477.2 126.0h0M488.8 127.4h0M477.3 131.6h0M486.2 131.6h0M480.5 131.6h0M491.6 127.4h0"/>
<path stroke="#5c70bc" d="M486.2 133.0h0M487.5 128.8h0M473.7 128.8h0M470.3 126.0h0M477.5 127.4h0M477.8 126.0h0"/>
<path stroke="#8e8970" d="M508.6 131.6h0M482.3 127.4h0M509.3 127.4h0"/>
<path stroke="#3a4afa" d="M461.7 128.8h0M460.2 128.8h0M489.0 126.0h0M492.6 131.6h0M476.2 127.4h0"/>
<path stroke="#b29f52" d="M504.6 128.8h0M505.1 124.6h0M487.7 127.4h0M503.2 128.8h0M509.3 130.2h0M502.3 131.6h0M493.7 131.6h0M497.6 127.4h0M484.1 130.2h0"/>
<path stroke="#a99a59" d="M502.5 128.8h0M511.1 128.8h0M495.4 124.6h0M505.7 126.0h0M517.0 130.2h0M492.4 131.6h0M501.7 128.8h0M504.0 127.4h0M502.8 124.6h0"/>
<path stroke="#4057f4" d="M480.2 127.4h0M478.9 127.4h0M471.0 126.0h0"/>
<path stroke="#979067" d="M496.1 126.0h0M494.3 126.0h0M504.8 127.4h0M500.9 128.8h0M483.2 124.6h0M497.1 131.6h0"/>
<path stroke="#dcba35" d="M511.0 127.4h0M511.9 126.0h0"/>
<path stroke="#d4b639" d="M510.1 130.2h0M515.4 130.2h0M497.1 126.0h0M515.6 127.4h0M512.6 126.0h0M506.9 128.8h0M519.5 128.8h0"/>
<path stroke="#6c77a0" d="M473.6 127.4h0M478.1 128.8h0M485.4 131.6h0M493.7 133.0h0M477.1 130.2h0M478.4 124.6h0M474.7 130.2h0M488.7 128.8h0M491.9 130.2h0"/>
<path stroke="#747b92" d="M484.2 126.0h0"/>
<path stroke="#546dca" d="M475.6 127.4h0M472.2 131.6h0M480.8 126.0h0M491.2 126.0h0M470.4 127.4h0M477.1 128.8h0M470.6 130.2h0"/>
<path stroke="#a09560" d="M505.4 128.8h0M493.6 130.2h0M483.1 134.4h0M498.9 126.0h0M483.3 127.4h0"/>
<path stroke="#3d50f7" d="M487.3 131.6h0M486.2 127.4h0"/>
<path stroke="#bba54b" d="M507.7 128.8h0M506.4 126.0h0M518.7 128.8h0M498.0 128.8h0"/>
<path stroke="#c3ab44" d="M489.0 147.6h0M487.6 148.6h0"/>
<path stroke="#ccb13d" d="M472.7 149.6h0"/>
<path stroke="#bba54b" d="M492.7 150.6h0M489.4 153.6h0M479.0 149.6h0M486.2 149.6h0M485.7 149.6h0M479.6 147.6h0M495.1 146.6h0M496.7 148.6h0"/>
<path stroke="#6c77a0" d="M499.5 150.6h0M500.5 151.6h0M498.2 147.6h0M488.6 152.6h0M500.8 148.6h0"/>
<path stroke="#979067" d="M490.6 152.6h0M496.1 151.6h0M494.9 150.6h0M498.7 146.6h0M491.5 146.6h0M499.5 148.6h0M489.3 148.6h0M494.7 150.6h0"/>
<path stroke="#a99a59" d="M491.2 149.6h0M488.5 147.6h0M494.4 148.6h0M492.1 150.6h0M496.8 147.6h0M496.2 149.6h0M493.1 149.6h0"/>
<path stroke="#4862e4" d="M517.1 150.6h0M515.0 149.6h0M503.8 146.6h0M516.7 149.6h0M513.8 148.6h0M518.8 148.6h0M517.2 148.6h0M511.0 147.6h0M508.1 151.6h0M519.6 149.6h0"/>
<path stroke="#8e8970" d="M501.3 148.6h0M491.0 145.6h0M496.2 148.6h0M498.9 148.6h0M490.6 144.6h0M490.1 152.6h0"/>
<path stroke="#3d50f7" d="M504.9 150.6h0M509.8 147.6h0M504.9 152.6h0M511.3 148.6h0"/>
<path stroke="#6474ae" d="M501.6 151.6h0M495.5 152.6h0M501.7 151.6h0M491.5 152.6h0M500.9 150.6h0"/>
<path stroke="#e4be32" d="M496.9 149.6h0M485.0 151.6h0M470.4 148.6h0M484.2 150.6h0M468.2 149.6h0"/>
<path stroke="#435df0" d="M514.9 150.6h0"/>
<path stroke="#858379" d="M490.7 151.6h0M499.7 151.6h0M488.6 149.6h0M488.7 151.6h0M491.7 145.6h0M489.0 145.6h0M497.6 146.6h0"/>
<path stroke="#5c70bc" d="M502.5 149.6h0"/>
<path stroke="#4e68d7" d="M509.2 152.6h0M507.0 151.6h0M507.9 148.6h0M509.5 149.6h0M511.0 149.6h0"/>
<path stroke="#3a4afa" d="M503.0 148.6h0M518.2 150.6h0M511.9 148.6h0M510.4 150.6h0M507.2 150.6h0M512.0 149.6h0"/>
<path stroke="#d4b639" d="M479.8 149.6h0M484.5 150.6h0"/>
<path stroke="#546dca" d="M504.2 146.6h0M507.2 149.6h0"/>
<path stroke="#4057f4" d="M507.3 148.6h0M503.0 147.6h0M506.8 145.6h0M506.7 151.6h0M507.5 147.6h0M519.3 151.6h0M506.9 150.6h0M503.3 148.6h0M511.5 150.6h0"/>
<path stroke="#b29f52" d="M494.8 149.6h0M488.2 145.6h0M497.0 152.6h0M487.8 147.6h0"/>
<path stroke="#dcba35" d="M476.3 149.6h0M481.3 148.6h0M481.7 150.6h0M490.6 149.6h0M451.1 149.6h0M459.6 149.6h0"/>
<path stroke="#7c7e85" d="M491.5 153.6h0M490.5 147.6h0M489.7 148.6h0M497.9 149.6h0M496.0 150.6h0"/>
<path stroke="#a09560" d="M487.4 152.6h0M498.4 148.6h0M494.1 146.6h0"/>
<path stroke="#747b92" d="M498.8 149.6h0"/>
<path stroke="#a09560" d="M488.9 151.6h0M490.0 144.6h0M491.6 150.6h0"/>
<path stroke="#3a4afa" d="M518.2 148.6h0M519.4 148.6h0M505.6 148.6h0"/>
<path stroke="#546dca" d="M502.3 150.6h0M497.8 147.6h0M508.7 150.6h0"/>
<path stroke="#747b92" d="M500.3 149.6h0M495.6 148.6h0"/>
<path stroke="#e4be32" d="M482.9 148.6h0M477.7 147.6h0M486.6 148.6h0M464.2 149.6h0M471.5 148.6h0M486.8 149.6h0M485.1 148.6h0M483.0 149.6h0M473.2 149.6h0M472.7 147.6h0"/>
<path stroke="#7c7e85" d="M490.2 151.6h0M499.8 149.6h0M492.8 151.6h0M492.0 145.6h0"/>
<path stroke="#435df0" d="M519.5 147.6h0M518.4 149.6h0M512.2 149.6h0M511.1 150.6h0M504.2 147.6h0M509.8 151.6h0M520.4 148.6h0M504.9 151.6h0"/>
<path stroke="#4e68d7" d="M506.5 149.6h0M507.9 149.6h0M517.0 149.6h0M503.6 150.6h0M506.0 150.6h0M510.6 147.6h0M518.3 147.6h0"/>
<path stroke="#6474ae" d="M501.6 147.6h0M494.3 151.6h0M489.9 145.6h0"/>
<path stroke="#858379" d="M499.3 147.6h0M493.8 148.6h0M497.3 150.6h0M491.3 151.6h0M496.5 146.6h0M490.1 153.6h0M489.8 146.6h0M498.4 150.6h0M497.5 152.6h0"/>
<path stroke="#979067" d="M497.7 149.6h0M496.6 151.6h0M494.4 154.6h0M488.8 152.6h0"/>
<path stroke="#d4b639" d="M474.4 148.6h0M484.2 148.6h0M477.4 149.6h0M477.5 150.6h0"/>
<path stroke="#5c70bc" d="M498.8 150.6h0"/>
<path stroke="#6c77a0" d="M494.0 152.6h0M504.5 149.6h0M491.0 146.6h0"/>
<path stroke="#bba54b" d="M483.8 149.6h0M496.7 150.6h0M481.0 148.6h0M495.7 147.6h0M493.6 150.6h0M493.3 147.6h0"/>
<path stroke="#a99a59" d="M494.3 152.6h0M495.8 144.6h0M484.6 147.6h0M490.0 147.6h0"/>
<path stroke="#3d50f7" d="M506.4 153.6h0M509.7 150.6h0M508.7 148.6h0M503.4 152.6h0M526.5 149.6h0"/>
<path stroke="#ccb13d" d="M467.3 149.6h0M477.6 148.6h0M494.8 144.6h0M466.0 149.6h0M482.3 149.6h0M494.9 151.6h0M469.3 149.6h0M479.7 148.6h0"/>
<path stroke="#dcba35" d="M475.6 148.6h0M487.6 149.6h0M478.6 149.6h0M470.5 150.6h0"/>
<path stroke="#8e8970" d="M492.8 145.6h0M494.4 147.6h0M490.9 155.6h0M494.9 149.6h0M499.2 151.6h0"/>
<path stroke="#b29f52" d="M472.7 148.6h0M489.1 149.6h0"/>
<path stroke="#c3ab44" d="M470.4 149.6h0M487.1 150.6h0M486.0 147.6h0M479.3 150.6h0"/>
<path stroke="#4057f4" d="M504.8 145.6h0M508.6 151.6h0M508.5 147.6h0M520.4 150.6h0M503.6 149.6h0M512.3 148.6h0"/>
<path stroke="#4862e4" d="M513.5 149.6h0M506.8 144.6h0M507.8 150.6h0M505.1 149.6h0M504.0 151.6h0"/>
<path stroke="#8e8970" d="M491.9 148.6h0M492.1 146.6h0M499.7 146.6h0M494.0 147.6h0M492.2 152.6h0M496.1 145.6h0"/>
<path stroke="#a99a59" d="M487.8 150.6h0M493.6 146.6h0M496.0 152.6h0"/>
<path stroke="#bba54b" d="M488.2 146.6h0M473.8 149.6h0M492.5 147.6h0M492.0 153.6h0M487.3 146.6h0M492.9 148.6h0M491.4 147.6h0M480.6 149.6h0"/>
<path stroke="#4862e4" d="M505.3 146.6h0M509.1 149.6h0M506.3 147.6h0M506.7 152.6h0"/>
<path stroke="#4e68d7" d="M505.7 149.6h0M506.4 148.6h0M505.1 148.6h0"/>
<path stroke="#3a4afa" d="M514.0 149.6h0M521.0 148.6h0M510.2 149.6h0M520.5 149.6h0M503.7 151.6h0M514.6 148.6h0M519.5 150.6h0"/>
<path stroke="#979067" d="M491.1 143.6h0M490.5 153.6h0M493.7 145.6h0M497.7 151.6h0"/>
<path stroke="#6c77a0" d="M491.5 148.6h0M493.4 153.6h0M498.6 151.6h0M501.4 147.6h0M495.5 147.6h0"/>
<path stroke="#7c7e85" d="M501.2 149.6h0M490.6 148.6h0M497.1 145.6h0"/>
<path stroke="#a09560" d="M493.7 151.6h0M492.1 149.6h0M489.3 146.6h0M486.2 150.6h0M484.9 149.6h0M490.3 149.6h0"/>
<path stroke="#747b92" d="M494.3 153.6h0M501.7 148.6h0M500.8 150.6h0M490.7 154.6h0M497.6 148.6h0M498.3 146.6h0M492.3 151.6h0"/>
<path stroke="#ccb13d" d="M486.1 148.6h0M479.8 148.6h0M471.1 150.6h0M491.0 150.6h0M484.3 148.6h0"/>
<path stroke="#4057f4" d="M504.6 148.6h0M520.1 149.6h0M506.4 146.6h0M515.9 149.6h0M517.9 149.6h0M509.8 148.6h0"/>
<path stroke="#435df0" d="M509.2 146.6h0M510.3 148.6h0M507.1 146.6h0M515.9 148.6h0M508.2 147.6h0M504.4 150.6h0"/>
<path stroke="#546dca" d="M505.1 147.6h0"/>
<path stroke="#d4b639" d="M489.6 154.6h0M472.1 149.6h0M468.0 148.6h0M486.4 151.6h0M469.0 148.6h0"/>
<path stroke="#5c70bc" d="M503.2 147.6h0M501.8 149.6h0M500.2 147.6h0"/>
<path stroke="#3d50f7" d="M514.1 150.6h0M502.7 150.6h0"/>
<path stroke="#858379" d="M488.3 148.6h0M499.7 152.6h0M499.9 147.6h0M493.0 146.6h0M492.8 152.6h0M494.4 145.6h0"/>
<path stroke="#c3ab44" d="M481.3 149.6h0M496.2 146.6h0M475.6 150.6h0M474.3 150.6h0M480.0 150.6h0"/>
<path stroke="#dcba35" d="M470.9 148.6h0M485.4 150.6h0"/>
<path stroke="#e4be32" d="M471.1 149.6h0M469.2 149.6h0M477.0 148.6h0M472.8 150.6h0M475.3 149.6h0M479.4 151.6h0M478.5 148.6h0M489.1 150.6h0M476.0 147.6h0M478.2 149.6h0"/>
<path stroke="#b29f52" d="M487.6 151.6h0M496.1 153.6h0M490.2 150.6h0M482.2 148.6h0M493.8 149.6h0M488.6 150.6h0"/>
<path stroke="#e4be32" d="M512.7 170.5h0M513.3 169.5h0M508.0 167.6h0"/>
<path stroke="#a09560" d="M507.2 168.6h0M503.7 167.6h0M501.4 170.5h0M490.7 169.5h0M510.3 171.4h0"/>
<path stroke="#747b92" d="M490.7 168.6h0M491.1 171.4h0M488.0 171.4h0M499.7 170.5h0M495.4 169.5h0M487.4 167.6h0M490.5 173.3h0M498.6 168.6h0M502.7 169.5h0M494.1 168.6h0"/>
<path stroke="#6474ae" d="M488.2 167.6h0M492.0 170.5h0M487.7 170.5h0M495.2 168.6h0"/>
<path stroke="#ccb13d" d="M512.8 171.4h0M522.9 170.5h0M521.4 170.5h0"/>
<path stroke="#b29f52" d="M509.4 169.5h0M509.0 172.4h0M508.4 169.5h0M504.5 168.6h0"/>
<path stroke="#3d50f7" d="M457.5 170.5h0M476.8 170.5h0M486.1 171.4h0M496.3 169.5h0M473.3 170.5h0M477.4 170.5h0"/>
<path stroke="#4862e4" d="M493.6 172.4h0M494.3 172.4h0M484.7 169.5h0M488.2 168.6h0M496.7 166.7h0M495.6 173.3h0"/>
<path stroke="#435df0" d="M485.5 169.5h0M485.2 172.4h0M480.4 169.5h0M489.6 173.3h0M484.3 170.5h0"/>
<path stroke="#4057f4" d="M495.0 170.5h0M485.9 172.4h0M468.0 170.5h0"/>
<path stroke="#979067" d="M487.8 172.4h0M508.0 172.4h0M503.0 172.4h0M502.0 171.4h0M503.0 170.5h0M504.6 169.5h0"/>
<path stroke="#a99a59" d="M505.8 169.5h0M505.3 166.7h0M493.9 173.3h0M503.3 169.5h0"/>
<path stroke="#3a4afa" d="M480.4 171.4h0M486.2 169.5h0M479.3 169.5h0M469.5 170.5h0M485.2 168.6h0"/>
<path stroke="#c3ab44" d="M524.9 169.5h0M514.4 171.4h0"/>
<path stroke="#8e8970" d="M504.4 167.6h0M498.0 169.5h0M498.3 170.5h0"/>
<path stroke="#d4b639" d="M518.4 168.6h0M518.0 169.5h0M517.4 170.5h0M510.8 172.4h0"/>
<path stroke="#858379" d="M505.6 171.4h0M501.7 171.4h0M499.4 169.5h0M497.7 172.4h0M499.2 168.6h0"/>
<path stroke="#6c77a0" d="M500.8 168.6h0M496.0 172.4h0M499.9 171.4h0M494.3 166.7h0"/>
<path stroke="#dcba35" d="M528.3 170.5h0M514.6 170.5h0M511.4 170.5h0M510.8 169.5h0M518.7 169.5h0M515.6 169.5h0M505.1 168.6h0M505.4 171.4h0M512.4 171.4h0"/>
<path stroke="#7c7e85" d="M501.0 168.6h0M500.3 173.3h0"/>
<path stroke="#4e68d7" d="M496.5 174.3h0M479.5 170.5h0M489.8 166.7h0M496.2 171.4h0M490.5 172.4h0M481.5 168.6h0"/>
<path stroke="#bba54b" d="M513.5 170.5h0M522.0 171.4h0"/>
<path stroke="#5c70bc" d="M495.2 174.3h0M494.6 170.5h0"/>
<path stroke="#546dca" d="M491.8 171.4h0M492.6 173.3h0"/>
<path stroke="#a09560" d="M506.0 172.4h0M498.0 171.4h0M507.2 170.5h0M504.7 171.4h0M506.1 173.3h0"/>
<path stroke="#a99a59" d="M502.5 168.6h0M507.6 172.4h0M496.5 170.5h0M509.2 173.3h0"/>
<path stroke="#3a4afa" d="M486.5 169.5h0"/>
<path stroke="#dcba35" d="M512.7 169.5h0"/>
<path stroke="#4057f4" d="M495.7 170.5h0M476.0 170.5h0M480.3 171.4h0M492.9 174.3h0M478.4 169.5h0"/>
<path stroke="#747b92" d="M503.2 167.6h0M499.4 171.4h0"/>
<path stroke="#e4be32" d="M512.2 169.5h0M527.6 170.5h0M510.7 168.6h0"/>
<path stroke="#7c7e85" d="M498.8 170.5h0M495.4 172.4h0"/>
<path stroke="#3d50f7" d="M481.2 170.5h0M494.1 171.4h0M480.2 169.5h0M465.3 170.5h0M486.9 167.6h0"/>
<path stroke="#5c70bc" d="M497.6 170.5h0M493.0 173.3h0M488.6 172.4h0M489.8 170.5h0M497.1 169.5h0M493.2 171.4h0M492.0 166.7h0"/>
<path stroke="#6c77a0" d="M495.0 166.7h0M497.6 168.6h0M496.2 168.6h0"/>
<path stroke="#979067" d="M502.5 171.4h0M505.0 167.6h0M508.8 170.5h0M506.5 170.5h0M501.0 171.4h0M508.4 171.4h0"/>
<path stroke="#6474ae" d="M491.3 170.5h0M497.8 171.4h0M489.9 171.4h0M489.2 168.6h0"/>
<path stroke="#c3ab44" d="M503.8 168.6h0M506.6 171.4h0M511.0 171.4h0M509.8 167.6h0M514.7 169.5h0M506.5 169.5h0M504.6 174.3h0"/>
<path stroke="#b29f52" d="M505.6 169.5h0M505.3 170.5h0M504.3 166.7h0M504.2 173.3h0"/>
<path stroke="#546dca" d="M483.0 170.5h0M489.5 169.5h0M490.8 170.5h0M488.5 171.4h0M480.9 170.5h0M489.9 172.4h0"/>
<path stroke="#d4b639" d="M526.1 170.5h0M524.1 169.5h0M526.9 169.5h0M523.3 170.5h0M519.2 170.5h0M519.9 170.5h0"/>
<path stroke="#bba54b" d="M520.1 170.5h0"/>
<path stroke="#858379" d="M500.2 172.4h0M491.8 169.5h0M492.8 170.5h0M497.0 172.4h0M495.8 167.6h0M492.6 169.5h0"/>
<path stroke="#435df0" d="M485.5 171.4h0M469.9 170.5h0M494.4 173.3h0M496.8 168.6h0M487.0 168.6h0"/>
<path stroke="#4862e4" d="M496.8 171.4h0M493.6 167.6h0M497.0 167.6h0M485.5 170.5h0M495.2 165.7h0M488.3 169.5h0"/>
<path stroke="#8e8970" d="M510.1 171.4h0M509.4 168.6h0M487.5 169.5h0M499.6 169.5h0M496.5 173.3h0"/>
<path stroke="#ccb13d" d="M521.2 168.6h0M521.9 169.5h0M507.6 169.5h0M504.2 170.5h0M525.2 170.5h0"/>
<path stroke="#4e68d7" d="M494.3 167.6h0M487.7 166.7h0M478.3 168.6h0M492.3 169.5h0M485.9 170.5h0M484.0 170.5h0"/>
<path stroke="#3d50f7" d="M482.0 170.5h0M485.8 168.6h0M483.1 169.5h0"/>
<path stroke="#a99a59" d="M504.5 172.4h0M505.6 170.5h0M503.3 172.4h0"/>
<path stroke="#747b92" d="M493.0 172.4h0M488.1 170.5h0M491.3 172.4h0M495.6 167.6h0M495.4 171.4h0"/>
<path stroke="#d4b639" d="M516.1 170.5h0M519.6 169.5h0M509.1 168.6h0M511.0 168.6h0M515.1 169.5h0"/>
<path stroke="#5c70bc" d="M493.5 168.6h0M492.3 168.6h0M496.3 173.3h0M498.5 172.4h0"/>
<path stroke="#858379" d="M500.6 169.5h0M508.9 169.5h0M501.0 169.5h0M500.5 170.5h0"/>
<path stroke="#b29f52" d="M509.2 171.4h0M506.0 168.6h0M516.5 170.5h0M503.8 171.4h0M518.2 170.5h0M508.1 170.5h0M511.9 170.5h0"/>
<path stroke="#435df0" d="M480.9 168.6h0M480.3 168.6h0M487.2 172.4h0M483.3 171.4h0M482.2 169.5h0"/>
<path stroke="#c3ab44" d="M511.8 168.6h0M521.3 171.4h0M524.1 170.5h0M507.8 171.4h0M511.2 169.5h0"/>
<path stroke="#e4be32" d="M521.1 169.5h0M514.9 170.5h0M516.7 169.5h0M519.2 171.4h0"/>
<path stroke="#ccb13d" d="M509.7 170.5h0M522.7 169.5h0M518.1 171.4h0M524.4 171.4h0M512.1 172.4h0"/>
<path stroke="#dcba35" d="M524.8 171.4h0M527.1 169.5h0M522.4 170.5h0M523.8 169.5h0M533.8 170.5h0M526.0 169.5h0M526.6 170.5h0"/>
<path stroke="#6c77a0" d="M494.3 169.5h0M490.9 167.6h0M489.2 172.4h0M494.0 169.5h0M491.9 167.6h0"/>
<path stroke="#a09560" d="M508.9 167.6h0M506.0 167.6h0"/>
<path stroke="#4057f4" d="M487.0 170.5h0M487.5 168.6h0M479.1 171.4h0"/>
<path stroke="#6474ae" d="M492.2 172.4h0M491.0 171.4h0M493.7 171.4h0M489.8 167.6h0M488.8 171.4h0M489.2 170.5h0M500.4 167.6h0M493.3 167.6h0M502.4 169.5h0"/>
<path stroke="#3a4afa" d="M478.3 170.5h0M472.3 170.5h0M475.5 170.5h0M492.6 166.7h0"/>
<path stroke="#8e8970" d="M501.7 172.4h0M497.3 169.5h0M502.1 170.5h0"/>
<path stroke="#7c7e85" d="M493.9 170.5h0M492.6 168.6h0"/>
<path stroke="#979067" d="M503.6 170.5h0M510.4 170.5h0M508.1 168.6h0"/>
<path stroke="#bba54b" d="M513.7 171.4h0M517.5 169.5h0M509.7 172.4h0M505.0 172.4h0M505.2 173.3h0"/>
<path stroke="#4862e4" d="M489.6 168.6h0M488.9 167.6h0M478.2 171.4h0M490.0 169.5h0M491.4 168.6h0M486.7 171.4h0M481.7 171.4h0M479.7 170.5h0"/>
<path stroke="#546dca" d="M484.3 171.4h0M481.3 169.5h0"/>
<path stroke="#4e68d7" d="M483.7 169.5h0M487.4 173.3h0"/>
<path stroke="#435df0" d="M488.2 190.4h0M484.6 192.3h0"/>
<path stroke="#8e8970" d="M495.3 192.3h0M495.9 195.1h0M501.0 189.5h0"/>
<path stroke="#3a4afa" d="M474.2 189.5h0M483.1 191.3h0M475.3 191.3h0M476.8 190.4h0M482.1 190.4h0M485.8 192.3h0M475.4 190.4h0M481.6 193.2h0M479.4 189.5h0M479.5 193.2h0"/>
<path stroke="#d4b639" d="M511.0 190.4h0M494.3 195.1h0M506.7 191.3h0M494.3 194.2h0M509.8 192.3h0M504.1 193.2h0M505.4 189.5h0M505.0 192.3h0M508.7 191.3h0"/>
<path stroke="#4e68d7" d="M479.4 192.3h0M483.9 190.4h0"/>
<path stroke="#4057f4" d="M480.4 190.4h0M483.3 192.3h0M475.9 191.3h0"/>
<path stroke="#dcba35" d="M517.7 191.3h0M510.3 189.5h0M510.2 192.3h0"/>
<path stroke="#5c70bc" d="M486.5 192.3h0M490.4 189.5h0M490.8 188.5h0M490.5 191.3h0M486.9 190.4h0"/>
<path stroke="#546dca" d="M490.9 189.5h0M487.7 193.2h0M487.4 194.2h0M480.4 189.5h0M490.0 193.2h0M484.9 189.5h0M495.1 190.4h0"/>
<path stroke="#858379" d="M496.4 193.2h0M500.6 193.2h0"/>
<path stroke="#b29f52" d="M495.7 193.2h0M508.2 189.5h0M496.7 191.3h0M498.2 191.3h0M502.5 189.5h0M509.3 190.4h0M500.6 190.4h0M503.6 190.4h0M499.8 189.5h0M497.8 193.2h0"/>
<path stroke="#6474ae" d="M489.4 190.4h0M488.9 191.3h0M489.1 190.4h0"/>
<path stroke="#3d50f7" d="M477.9 191.3h0M466.3 191.3h0"/>
<path stroke="#a99a59" d="M503.7 189.5h0M494.5 188.5h0M494.6 187.6h0M499.1 194.2h0M500.4 193.2h0M497.8 190.4h0M500.9 187.6h0"/>
<path stroke="#ccb13d" d="M497.6 190.4h0M510.8 190.4h0M506.4 193.2h0M509.6 190.4h0"/>
<path stroke="#a09560" d="M501.7 194.2h0M500.6 194.2h0M496.0 187.6h0M500.6 191.3h0M496.2 196.0h0M499.9 188.5h0M494.1 187.6h0"/>
<path stroke="#7c7e85" d="M501.3 195.1h0"/>
<path stroke="#e4be32" d="M511.8 189.5h0M512.4 191.3h0M511.5 191.3h0M511.6 190.4h0M504.3 190.4h0M506.9 189.5h0M509.1 192.3h0"/>
<path stroke="#4862e4" d="M485.3 189.5h0M486.8 191.3h0M487.8 187.6h0M489.5 189.5h0"/>
<path stroke="#747b92" d="M495.7 188.5h0M491.5 190.4h0"/>
<path stroke="#bba54b" d="M499.7 190.4h0M505.0 191.3h0M497.9 196.0h0M499.3 190.4h0"/>
<path stroke="#c3ab44" d="M495.4 191.3h0M512.4 190.4h0M493.3 197.0h0M508.0 191.3h0M499.6 193.2h0M499.2 189.5h0M500.9 192.3h0M509.7 191.3h0"/>
<path stroke="#979067" d="M501.2 189.5h0M501.4 186.7h0M495.9 192.3h0M492.8 185.7h0M499.4 188.5h0M501.7 191.3h0M495.4 187.6h0"/>
<path stroke="#979067" d="M493.2 190.4h0M493.1 191.3h0M498.5 189.5h0M497.6 186.7h0"/>
<path stroke="#a99a59" d="M496.0 194.2h0M497.2 189.5h0M498.5 190.4h0M507.1 192.3h0M494.1 189.5h0M497.6 195.1h0M498.6 192.3h0M498.2 188.5h0M499.9 191.3h0"/>
<path stroke="#747b92" d="M498.9 187.6h0M501.3 188.5h0"/>
<path stroke="#ccb13d" d="M512.3 189.5h0M506.2 192.3h0M499.7 191.3h0M506.6 190.4h0M504.9 190.4h0M504.1 189.5h0"/>
<path stroke="#4862e4" d="M490.5 192.3h0M477.5 190.4h0M487.0 189.5h0M484.0 191.3h0M490.5 190.4h0"/>
<path stroke="#435df0" d="M486.3 191.3h0M478.7 191.3h0M477.5 189.5h0M479.3 190.4h0M484.0 193.2h0M490.7 192.3h0M479.0 191.3h0"/>
<path stroke="#bba54b" d="M495.7 190.4h0M503.2 191.3h0M502.0 188.5h0M507.4 192.3h0M493.8 186.7h0M509.0 189.5h0"/>
<path stroke="#546dca" d="M483.5 194.2h0M480.9 192.3h0M484.9 193.2h0M477.2 192.3h0"/>
<path stroke="#3a4afa" d="M478.7 189.5h0M481.9 189.5h0M480.7 191.3h0M481.9 188.5h0M477.9 192.3h0M480.8 192.3h0"/>
<path stroke="#3d50f7" d="M474.1 190.4h0M485.2 192.3h0M479.9 189.5h0M488.7 192.3h0M478.6 192.3h0M487.3 190.4h0M474.2 192.3h0M481.5 193.2h0M485.3 190.4h0M476.4 191.3h0M469.5 191.3h0"/>
<path stroke="#8e8970" d="M492.9 196.0h0M498.4 195.1h0M496.9 189.5h0M496.3 194.2h0M494.0 185.7h0M496.5 186.7h0"/>
<path stroke="#5c70bc" d="M492.2 189.5h0M492.5 190.4h0M483.4 190.4h0M491.8 189.5h0M492.0 192.3h0"/>
<path stroke="#d4b639" d="M505.8 193.2h0"/>
<path stroke="#b29f52" d="M495.1 188.5h0M495.2 189.5h0M502.2 194.2h0"/>
<path stroke="#e4be32" d="M508.2 190.4h0M503.8 188.5h0M512.5 193.2h0M503.1 192.3h0M507.3 193.2h0"/>
<path stroke="#7c7e85" d="M494.0 193.2h0M488.7 187.6h0M493.2 188.5h0M497.7 195.1h0"/>
<path stroke="#4e68d7" d="M488.6 189.5h0M485.8 190.4h0M489.8 191.3h0"/>
<path stroke="#858379" d="M495.5 194.2h0M500.6 188.5h0M501.5 193.2h0M495.4 193.2h0"/>
<path stroke="#a09560" d="M500.0 192.3h0M502.3 192.3h0M503.6 192.3h0M494.1 195.1h0M497.4 187.6h0M498.0 189.5h0"/>
<path stroke="#4057f4" d="M474.2 191.3h0M483.3 193.2h0M491.1 193.2h0M476.1 190.4h0M487.3 192.3h0"/>
<path stroke="#c3ab44" d="M496.7 188.5h0M504.1 188.5h0M505.7 192.3h0M508.4 192.3h0M494.8 190.4h0"/>
<path stroke="#dcba35" d="M505.2 193.2h0M535.9 191.3h0M507.6 190.4h0M512.6 192.3h0M504.3 192.3h0"/>
<path stroke="#8e8970" d="M492.8 192.3h0M502.2 189.5h0M494.5 191.3h0M501.7 187.6h0M502.0 190.4h0M494.8 193.2h0"/>
<path stroke="#dcba35" d="M494.1 190.4h0M531.0 191.3h0M504.2 194.2h0"/>
<path stroke="#5c70bc" d="M489.3 192.3h0M494.2 189.5h0M498.0 194.2h0"/>
<path stroke="#ccb13d" d="M507.9 189.5h0M496.3 195.1h0M492.9 187.6h0M499.9 187.6h0"/>
<path stroke="#c3ab44" d="M504.1 191.3h0M504.7 189.5h0M503.0 190.4h0M510.5 191.3h0"/>
<path stroke="#4057f4" d="M487.3 188.5h0M482.8 191.3h0M481.3 189.5h0M481.6 190.4h0M488.7 194.2h0"/>
<path stroke="#4e68d7" d="M488.2 191.3h0M489.1 193.2h0"/>
<path stroke="#3d50f7" d="M485.8 193.2h0M483.6 188.5h0M481.2 191.3h0"/>
<path stroke="#b29f52" d="M498.3 193.2h0M501.8 191.3h0M495.9 186.7h0M494.1 191.3h0M497.9 192.3h0M493.9 192.3h0M498.1 186.7h0"/>
<path stroke="#6474ae" d="M483.0 189.5h0M489.2 188.5h0M484.1 188.5h0M502.2 193.2h0"/>
<path stroke="#a99a59" d="M497.1 192.3h0M493.3 195.1h0M493.3 193.2h0M496.3 190.4h0"/>
<path stroke="#7c7e85" d="M493.8 196.0h0M499.1 187.6h0M494.0 194.2h0"/>
<path stroke="#435df0" d="M488.0 189.5h0M492.1 191.3h0M478.5 190.4h0M479.6 190.4h0M480.1 192.3h0M488.1 192.3h0M491.6 191.3h0M480.0 191.3h0M487.6 189.5h0M490.8 190.4h0M481.6 192.3h0"/>
<path stroke="#bba54b" d="M503.3 193.2h0M506.3 191.3h0M497.4 188.5h0M496.1 191.3h0M505.5 190.4h0M492.9 186.7h0M498.7 191.3h0M499.5 192.3h0"/>
<path stroke="#858379" d="M502.5 193.2h0M500.2 194.2h0M493.0 194.2h0"/>
<path stroke="#d4b639" d="M508.8 191.3h0M503.6 191.3h0M506.1 189.5h0"/>
<path stroke="#3a4afa" d="M481.9 191.3h0M479.5 193.2h0M477.1 191.3h0M483.7 192.3h0M483.0 190.4h0M474.8 190.4h0M476.5 192.3h0"/>
<path stroke="#a09560" d="M501.5 190.4h0M496.8 187.6h0M498.9 194.2h0M502.9 194.2h0M502.2 187.6h0M494.4 192.3h0M498.5 188.5h0M496.3 192.3h0"/>
<path stroke="#747b92" d="M497.5 193.2h0M490.9 191.3h0M493.6 188.5h0M498.0 187.6h0M485.2 191.3h0"/>
<path stroke="#e4be32" d="M505.4 191.3h0M503.1 188.5h0M511.8 192.3h0M511.8 191.3h0M507.3 190.4h0M509.6 189.5h0"/>
<path stroke="#546dca" d="M490.6 188.5h0M484.2 189.5h0M485.8 189.5h0"/>
<path stroke="#4862e4" d="M487.5 191.3h0M492.2 192.3h0M478.1 193.2h0M484.5 190.4h0M484.7 191.3h0"/>
<path stroke="#979067" d="M501.4 192.3h0M497.3 194.2h0M493.3 189.5h0M495.8 189.5h0M497.2 191.3h0"/>
<path stroke="#b29f52" d="M500.9 209.0h0M496.5 217.8h0M500.7 213.8h0"/>
<path stroke="#3d50f7" d="M490.7 213.0h0M454.3 212.2h0M492.2 209.8h0M491.8 215.4h0M493.8 210.6h0M492.0 209.0h0"/>
<path stroke="#d4b639" d="M495.0 214.6h0M496.0 215.4h0M500.0 209.0h0M495.4 213.0h0M490.8 211.4h0"/>
<path stroke="#979067" d="M496.3 207.4h0M517.7 212.2h0M501.3 213.8h0"/>
<path stroke="#4057f4" d="M490.4 212.2h0M490.2 210.6h0"/>
<path stroke="#858379" d="M496.3 212.2h0M509.9 212.2h0M504.5 213.0h0M501.9 211.4h0M499.4 211.4h0M500.2 211.4h0M495.2 209.0h0"/>
<path stroke="#e4be32" d="M498.5 213.8h0M497.0 206.6h0M497.1 208.2h0"/>
<path stroke="#ccb13d" d="M497.2 213.0h0M496.9 209.8h0"/>
<path stroke="#bba54b" d="M495.5 214.6h0M497.6 208.2h0"/>
<path stroke="#a99a59" d="M500.5 208.2h0"/>
<path stroke="#6c77a0" d="M505.6 212.2h0M503.5 213.8h0M503.5 211.4h0M507.8 213.8h0M503.1 212.2h0"/>
<path stroke="#8e8970" d="M498.6 206.6h0M490.4 209.8h0M497.8 214.6h0M501.2 211.4h0"/>
<path stroke="#3a4afa" d="M469.4 212.2h0M494.4 211.4h0M467.2 212.2h0M461.1 212.2h0"/>
<path stroke="#5c70bc" d="M504.2 212.2h0M508.8 213.0h0M496.9 210.6h0"/>
<path stroke="#6474ae" d="M500.9 213.0h0M503.4 210.6h0M502.1 213.0h0M502.6 213.0h0M506.3 210.6h0M509.1 211.4h0M508.7 212.2h0M506.7 210.6h0"/>
<path stroke="#747b92" d="M508.0 210.6h0M509.3 210.6h0M507.5 210.6h0M507.1 213.0h0M506.5 213.0h0M508.1 213.0h0"/>
<path stroke="#a09560" d="M500.9 211.4h0"/>
<path stroke="#4e68d7" d="M502.0 213.8h0"/>
<path stroke="#7c7e85" d="M503.0 211.4h0M497.0 211.4h0M498.4 214.6h0"/>
<path stroke="#dcba35" d="M492.7 212.2h0M498.3 212.2h0M492.1 212.2h0"/>
<path stroke="#c3ab44" d="M500.7 210.6h0"/>
<path stroke="#546dca" d="M480.1 212.2h0M504.2 213.8h0"/>
<path stroke="#3d50f7" d="M493.4 213.8h0M453.0 212.2h0M455.6 212.2h0M485.2 212.2h0M491.3 213.0h0M494.0 211.4h0M448.2 212.2h0"/>
<path stroke="#bba54b" d="M500.6 217.0h0M512.4 211.4h0"/>
<path stroke="#a99a59" d="M494.9 211.4h0"/>
<path stroke="#979067" d="M500.3 214.6h0M500.3 215.4h0"/>
<path stroke="#435df0" d="M475.7 212.2h0M490.9 210.6h0M481.2 212.2h0"/>
<path stroke="#4057f4" d="M490.1 213.0h0M493.5 209.8h0M490.6 213.8h0"/>
<path stroke="#5c70bc" d="M502.3 210.6h0M504.4 210.6h0"/>
<path stroke="#a09560" d="M500.7 207.4h0M511.5 211.4h0M510.9 212.2h0M495.9 216.2h0"/>
<path stroke="#dcba35" d="M495.8 208.2h0M492.6 213.0h0M498.1 215.4h0"/>
<path stroke="#e4be32" d="M495.0 209.8h0M496.2 213.8h0M496.8 210.6h0M495.8 217.8h0M496.2 209.0h0M499.5 209.8h0"/>
<path stroke="#8e8970" d="M497.8 207.4h0M494.5 213.8h0M504.7 212.2h0"/>
<path stroke="#d4b639" d="M490.4 211.4h0M495.5 213.8h0M492.8 213.0h0M494.2 213.0h0"/>
<path stroke="#747b92" d="M499.4 212.2h0M501.0 209.8h0M500.0 210.6h0M507.1 211.4h0"/>
<path stroke="#ccb13d" d="M498.1 213.8h0M501.2 213.0h0M500.2 213.8h0M500.3 216.2h0"/>
<path stroke="#4e68d7" d="M472.1 212.2h0"/>
<path stroke="#c3ab44" d="M494.8 212.2h0M498.5 207.4h0M496.9 217.8h0M496.1 210.6h0M491.9 210.6h0M496.4 208.2h0"/>
<path stroke="#7c7e85" d="M496.1 217.0h0M498.8 208.2h0M502.4 212.2h0"/>
<path stroke="#b29f52" d="M500.7 209.8h0M498.0 213.0h0M499.6 213.0h0M497.3 212.2h0M500.4 212.2h0M498.4 210.6h0M497.3 215.4h0"/>
<path stroke="#6c77a0" d="M507.9 213.0h0M496.1 207.4h0M507.0 212.2h0M501.5 212.2h0"/>
<path stroke="#858379" d="M498.6 216.2h0M496.7 213.0h0M496.7 214.6h0"/>
<path stroke="#6474ae" d="M497.4 214.6h0M495.2 215.4h0M491.6 209.8h0M504.0 211.4h0"/>
<path stroke="#4862e4" d="M500.9 214.6h0"/>
<path stroke="#979067" d="M499.2 210.6h0M495.0 210.6h0M505.9 213.8h0"/>
<path stroke="#bba54b" d="M499.9 213.0h0M511.5 212.2h0M495.6 209.0h0M491.9 213.8h0M496.6 216.2h0M496.9 216.2h0M498.4 209.0h0M496.8 209.8h0"/>
<path stroke="#858379" d="M499.7 209.8h0M498.2 216.2h0M502.8 210.6h0"/>
<path stroke="#4057f4" d="M494.5 210.6h0M492.8 211.4h0M491.4 211.4h0M492.4 213.8h0"/>
<path stroke="#8e8970" d="M508.3 212.2h0M506.1 211.4h0M499.6 212.2h0"/>
<path stroke="#a99a59" d="M496.2 217.0h0M511.2 211.4h0M497.6 209.8h0M512.6 212.2h0"/>
<path stroke="#546dca" d="M499.5 213.8h0M495.8 206.6h0"/>
<path stroke="#5c70bc" d="M508.5 211.4h0M504.8 210.6h0M504.8 211.4h0"/>
<path stroke="#3a4afa" d="M474.9 212.2h0M486.4 212.2h0M493.8 212.2h0M470.6 212.2h0"/>
<path stroke="#e4be32" d="M498.5 209.8h0M495.9 209.8h0M497.1 213.8h0M495.5 211.4h0"/>
<path stroke="#c3ab44" d="M496.7 215.4h0M498.4 211.4h0M496.9 217.0h0M499.0 214.6h0"/>
<path stroke="#7c7e85" d="M497.9 212.2h0M507.8 211.4h0M509.2 213.8h0M504.0 213.0h0M498.5 213.0h0"/>
<path stroke="#a09560" d="M497.9 210.6h0M495.0 213.8h0"/>
<path stroke="#3d50f7" d="M493.8 213.0h0M490.7 212.2h0"/>
<path stroke="#ccb13d" d="M501.6 210.6h0M496.2 211.4h0M491.9 214.6h0"/>
<path stroke="#dcba35" d="M494.4 209.8h0M494.5 212.2h0"/>
<path stroke="#b29f52" d="M497.6 209.0h0M510.3 212.2h0M497.2 207.4h0M498.3 217.0h0M498.3 215.4h0"/>
<path stroke="#6474ae" d="M496.9 209.0h0M506.1 212.2h0M502.9 212.2h0"/>
<path stroke="#6c77a0" d="M495.6 212.2h0M495.9 213.0h0M503.4 213.0h0M507.7 212.2h0M491.6 212.2h0M508.7 209.8h0"/>
<path stroke="#d4b639" d="M492.1 210.6h0M497.8 211.4h0M490.4 213.8h0M496.8 206.6h0M492.1 211.4h0"/>
<path stroke="#d4b639" d="M480.7 233.9h0M485.8 233.1h0M489.8 236.3h0M492.6 239.5h0M491.1 233.9h0M483.4 233.1h0M482.4 234.7h0M481.4 232.3h0M486.6 231.5h0M489.7 235.5h0M489.2 229.9h0"/>
<path stroke="#a09560" d="M494.9 235.5h0M493.9 236.3h0M490.2 229.1h0M491.5 228.3h0M494.3 232.3h0M491.8 237.9h0"/>
<path stroke="#747b92" d="M492.7 229.1h0M500.4 233.9h0"/>
<path stroke="#e4be32" d="M489.1 233.9h0M485.9 233.9h0M481.1 233.1h0M482.8 234.7h0M487.6 232.3h0M490.0 231.5h0"/>
<path stroke="#6c77a0" d="M501.4 234.7h0M504.0 233.1h0M496.5 231.5h0"/>
<path stroke="#dcba35" d="M482.3 233.9h0M484.1 232.3h0M493.9 235.5h0M494.4 233.1h0"/>
<path stroke="#bba54b" d="M492.8 234.7h0M484.3 231.5h0M492.6 232.3h0M489.6 231.5h0M484.7 233.1h0M489.4 230.7h0"/>
<path stroke="#6474ae" d="M505.0 233.9h0M502.1 231.5h0M501.4 232.3h0M497.4 233.1h0M496.1 233.9h0M501.1 231.5h0M500.5 232.3h0"/>
<path stroke="#c3ab44" d="M491.9 232.3h0M491.9 237.1h0M480.6 233.1h0M491.5 230.7h0M490.3 228.3h0M491.8 227.5h0M492.2 231.5h0"/>
<path stroke="#4e68d7" d="M501.8 233.9h0M496.0 233.1h0"/>
<path stroke="#b29f52" d="M492.6 226.7h0M489.0 230.7h0M488.2 232.3h0M491.7 229.1h0"/>
<path stroke="#4862e4" d="M500.5 233.1h0M498.5 233.9h0M502.2 232.3h0"/>
<path stroke="#858379" d="M493.7 237.1h0M490.2 229.9h0"/>
<path stroke="#435df0" d="M506.0 232.3h0"/>
<path stroke="#546dca" d="M509.1 232.3h0M502.9 230.7h0"/>
<path stroke="#3d50f7" d="M511.9 232.3h0M510.9 231.5h0M511.4 233.1h0M520.1 233.1h0M502.0 233.1h0"/>
<path stroke="#a99a59" d="M490.9 233.9h0M493.3 230.7h0M488.1 231.5h0M487.5 233.1h0M490.4 230.7h0"/>
<path stroke="#3a4afa" d="M498.4 233.1h0"/>
<path stroke="#979067" d="M491.6 233.1h0M493.3 229.9h0M489.7 232.3h0"/>
<path stroke="#ccb13d" d="M486.0 232.3h0M484.1 233.1h0M493.2 237.1h0"/>
<path stroke="#7c7e85" d="M496.5 234.7h0M495.0 233.9h0M491.1 229.1h0M489.5 236.3h0"/>
<path stroke="#8e8970" d="M498.0 233.1h0M492.1 228.3h0M488.1 235.5h0M502.9 231.5h0"/>
<path stroke="#4057f4" d="M498.3 232.3h0"/>
<path stroke="#5c70bc" d="M506.2 233.1h0M499.7 233.9h0M499.9 231.5h0M499.0 232.3h0M497.6 232.3h0"/>
<path stroke="#b29f52" d="M494.6 229.1h0M491.3 232.3h0M492.7 225.9h0M492.4 237.9h0"/>
<path stroke="#e4be32" d="M482.1 231.5h0M486.7 233.9h0M481.7 232.3h0M481.1 231.5h0M482.1 232.3h0M483.5 232.3h0M487.0 233.1h0M484.9 232.3h0"/>
<path stroke="#979067" d="M492.8 228.3h0M494.0 228.3h0M492.6 235.5h0M488.0 233.1h0"/>
<path stroke="#747b92" d="M503.5 231.5h0"/>
<path stroke="#a09560" d="M490.9 236.3h0M489.9 230.7h0M493.7 232.3h0M493.5 228.3h0"/>
<path stroke="#a99a59" d="M491.5 227.5h0M493.4 231.5h0M492.9 231.5h0M491.9 236.3h0M489.0 233.1h0M494.5 233.9h0"/>
<path stroke="#4057f4" d="M495.9 231.5h0M507.8 232.3h0M498.5 231.5h0"/>
<path stroke="#3d50f7" d="M517.7 233.1h0M509.6 233.1h0M525.7 233.1h0M508.7 232.3h0M519.0 233.1h0"/>
<path stroke="#4862e4" d="M503.4 233.9h0"/>
<path stroke="#bba54b" d="M494.8 237.1h0M488.9 231.5h0M492.1 235.5h0"/>
<path stroke="#8e8970" d="M492.2 233.1h0M494.5 236.3h0M494.3 229.9h0M489.7 237.1h0M491.6 236.3h0"/>
<path stroke="#435df0" d="M504.8 231.5h0M509.0 233.1h0M496.8 230.7h0"/>
<path stroke="#546dca" d="M494.2 234.7h0M505.6 231.5h0M496.6 235.5h0M495.1 232.3h0M505.3 233.1h0"/>
<path stroke="#858379" d="M503.3 232.3h0M492.8 227.5h0M495.0 233.1h0"/>
<path stroke="#d4b639" d="M485.0 233.9h0M493.5 233.1h0M490.4 233.1h0M492.8 229.9h0M482.6 231.5h0M482.2 233.1h0M492.7 233.1h0"/>
<path stroke="#4e68d7" d="M501.9 231.5h0M502.6 233.1h0"/>
<path stroke="#c3ab44" d="M490.5 229.9h0M488.7 234.7h0M487.0 229.9h0"/>
<path stroke="#3a4afa" d="M505.3 232.3h0M510.1 232.3h0"/>
<path stroke="#ccb13d" d="M493.7 231.5h0M481.7 233.9h0M493.2 234.7h0M489.0 232.3h0M485.5 231.5h0"/>
<path stroke="#7c7e85" d="M494.0 229.9h0M490.7 235.5h0M501.2 233.1h0"/>
<path stroke="#5c70bc" d="M500.0 232.3h0M497.9 233.9h0M496.1 232.3h0M496.3 233.9h0M503.1 234.7h0M504.4 233.9h0M497.2 232.3h0"/>
<path stroke="#dcba35" d="M483.3 232.3h0M488.0 233.9h0M489.4 234.7h0M486.2 233.9h0M475.5 233.1h0M482.9 233.1h0M487.0 232.3h0M490.3 232.3h0M494.1 233.1h0M470.0 233.1h0M485.5 232.3h0"/>
<path stroke="#6474ae" d="M493.0 236.3h0M500.6 233.9h0"/>
<path stroke="#d4b639" d="M483.9 231.5h0M489.0 235.5h0M486.5 231.5h0M486.7 235.5h0M490.6 234.7h0M484.3 234.7h0M484.2 233.9h0"/>
<path stroke="#6c77a0" d="M494.6 231.5h0"/>
<path stroke="#a09560" d="M493.7 230.7h0M493.2 232.3h0"/>
<path stroke="#6474ae" d="M498.9 233.9h0M500.8 232.3h0M492.6 230.7h0M502.8 232.3h0M511.7 233.1h0"/>
<path stroke="#858379" d="M492.5 233.9h0M491.1 231.5h0M490.1 237.9h0"/>
<path stroke="#435df0" d="M508.8 233.1h0M500.3 231.5h0M511.3 232.3h0M499.3 233.1h0"/>
<path stroke="#5c70bc" d="M504.6 232.3h0M496.3 233.1h0"/>
<path stroke="#4e68d7" d="M503.6 233.1h0M503.2 234.7h0M497.7 231.5h0"/>
<path stroke="#4862e4" d="M499.3 231.5h0M511.0 233.9h0"/>
<path stroke="#ccb13d" d="M483.9 233.9h0M487.7 231.5h0M486.7 234.7h0M486.9 230.7h0M493.4 229.1h0M486.3 233.1h0M481.3 233.9h0M491.9 229.9h0"/>
<path stroke="#8e8970" d="M489.3 233.1h0M493.2 233.9h0M491.2 229.9h0"/>
<path stroke="#3d50f7" d="M501.9 233.9h0M533.8 233.1h0"/>
<path stroke="#a99a59" d="M491.6 237.9h0M491.5 237.1h0M489.8 233.9h0M488.3 230.7h0M488.4 234.7h0M490.0 233.9h0M488.6 229.9h0M490.6 231.5h0M492.8 236.3h0"/>
<path stroke="#bba54b" d="M483.3 231.5h0M493.6 235.5h0M488.0 229.9h0"/>
<path stroke="#3a4afa" d="M511.1 234.7h0M506.9 233.1h0M505.7 233.9h0M507.0 232.3h0M508.0 233.9h0M508.3 233.1h0"/>
<path stroke="#dcba35" d="M491.9 234.7h0"/>
<path stroke="#7c7e85" d="M492.8 238.7h0M497.8 234.7h0M492.5 237.1h0"/>
<path stroke="#b29f52" d="M494.9 234.7h0M492.3 230.7h0M490.0 237.1h0M493.4 237.9h0M494.1 229.1h0M489.9 234.7h0"/>
<path stroke="#e4be32" d="M490.2 235.5h0M482.1 233.1h0M482.8 233.9h0M483.2 230.7h0M487.8 233.9h0M490.9 233.1h0M480.5 232.3h0M490.3 227.5h0"/>
<path stroke="#546dca" d="M504.3 232.3h0M496.5 232.3h0M492.0 238.7h0M499.8 233.1h0"/>
<path stroke="#4057f4" d="M507.0 232.3h0M507.3 233.1h0"/>
<path stroke="#c3ab44" d="M491.6 235.5h0M485.8 234.7h0M491.9 233.9h0"/>
<path stroke="#747b92" d="M502.6 233.9h0M504.5 233.1h0M496.9 233.9h0M501.5 233.1h0M494.1 233.9h0"/>
<path stroke="#979067" d="M491.5 234.7h0M488.4 236.3h0M490.6 232.3h0M489.4 229.1h0M494.7 230.7h0"/>
<path stroke="#4057f4" d="M490.8 255.9h0M482.4 252.0h0M489.9 254.9h0M474.4 253.9h0"/>
<path stroke="#b29f52" d="M496.7 252.9h0M512.6 253.9h0M493.1 250.0h0M498.2 253.9h0"/>
<path stroke="#bba54b" d="M506.7 252.0h0M502.7 252.9h0M500.6 252.0h0M505.1 252.0h0"/>
<path stroke="#c3ab44" d="M497.3 254.9h0M506.2 255.9h0M513.9 252.0h0"/>
<path stroke="#546dca" d="M495.7 250.0h0M484.8 254.9h0M493.1 257.9h0M491.8 253.9h0"/>
<path stroke="#7c7e85" d="M499.8 253.9h0"/>
<path stroke="#a09560" d="M498.9 252.9h0M500.0 254.9h0M495.6 254.9h0M494.8 255.9h0"/>
<path stroke="#4862e4" d="M489.9 255.9h0M489.8 252.9h0M487.3 252.9h0M488.7 256.9h0M485.1 252.0h0M475.7 254.9h0M489.8 252.0h0M488.5 250.0h0M492.7 255.9h0"/>
<path stroke="#ccb13d" d="M500.2 252.9h0M503.9 252.0h0M502.8 253.9h0M505.5 252.9h0"/>
<path stroke="#747b92" d="M493.7 256.9h0M493.6 257.9h0M495.9 252.0h0M496.2 255.9h0M497.3 252.0h0M493.8 251.0h0"/>
<path stroke="#5c70bc" d="M498.0 254.9h0M496.0 251.0h0M490.9 254.9h0M491.4 254.9h0M493.8 252.9h0M490.6 252.9h0"/>
<path stroke="#a99a59" d="M497.5 252.9h0M500.5 253.9h0M504.7 255.9h0M499.8 257.9h0"/>
<path stroke="#6474ae" d="M486.7 252.9h0M496.4 256.9h0M496.6 251.0h0M491.8 252.9h0M488.2 253.9h0M491.5 251.0h0M495.9 254.9h0M494.3 249.0h0M490.9 253.9h0"/>
<path stroke="#979067" d="M498.5 255.9h0M498.0 252.9h0"/>
<path stroke="#dcba35" d="M514.6 252.9h0M504.5 252.9h0"/>
<path stroke="#858379" d="M494.4 252.9h0M497.1 256.9h0M496.6 256.9h0M498.9 253.9h0"/>
<path stroke="#8e8970" d="M498.8 251.0h0M493.9 254.9h0M493.4 255.9h0M495.7 252.9h0M496.2 250.0h0"/>
<path stroke="#d4b639" d="M505.7 252.0h0M506.3 252.9h0M506.7 252.9h0M505.9 252.0h0M504.4 252.0h0M503.7 253.9h0M511.0 253.9h0"/>
<path stroke="#6c77a0" d="M495.8 255.9h0"/>
<path stroke="#3a4afa" d="M476.6 252.9h0M485.3 255.9h0M482.5 254.9h0M484.1 253.9h0M484.8 253.9h0M477.5 253.9h0M485.5 253.9h0"/>
<path stroke="#e4be32" d="M509.6 253.9h0M503.6 254.9h0M512.8 252.9h0"/>
<path stroke="#4e68d7" d="M490.2 251.0h0M486.6 252.0h0M480.8 253.9h0M488.6 252.9h0M488.0 252.9h0M492.0 256.9h0"/>
<path stroke="#3d50f7" d="M458.3 253.9h0M488.5 251.0h0M480.3 253.9h0M481.4 255.9h0M478.9 253.9h0M473.6 253.9h0"/>
<path stroke="#435df0" d="M488.5 255.9h0M482.4 253.9h0M488.1 254.9h0M484.8 252.9h0"/>
<path stroke="#7c7e85" d="M494.1 249.0h0M499.1 249.0h0M493.4 252.0h0M493.7 252.0h0"/>
<path stroke="#6c77a0" d="M492.1 252.0h0M496.3 249.0h0"/>
<path stroke="#546dca" d="M487.9 255.9h0M491.7 256.9h0"/>
<path stroke="#a99a59" d="M502.2 252.9h0"/>
<path stroke="#747b92" d="M499.4 255.9h0M489.3 252.9h0M493.1 253.9h0M497.6 253.9h0"/>
<path stroke="#e4be32" d="M507.3 253.9h0M504.2 254.9h0M516.1 253.9h0M512.2 252.9h0"/>
<path stroke="#bba54b" d="M498.5 254.9h0M505.8 251.0h0M502.3 252.0h0M498.0 252.0h0"/>
<path stroke="#5c70bc" d="M492.1 254.9h0M495.5 251.0h0M488.5 254.9h0M494.5 250.0h0M486.5 253.9h0"/>
<path stroke="#6474ae" d="M496.6 255.9h0M489.5 253.9h0M492.3 251.0h0M495.8 257.9h0"/>
<path stroke="#4862e4" d="M483.2 253.9h0M481.4 253.9h0M492.8 253.9h0M483.4 254.9h0M481.8 253.9h0"/>
<path stroke="#ccb13d" d="M508.6 253.9h0M507.2 252.9h0M503.3 253.9h0M505.1 253.9h0M507.9 253.9h0M508.5 254.9h0"/>
<path stroke="#3a4afa" d="M480.8 252.9h0M473.1 252.9h0M486.0 256.9h0M486.2 254.9h0M475.9 254.9h0M478.1 252.9h0M474.8 254.9h0M489.0 254.9h0M490.0 254.9h0"/>
<path stroke="#d4b639" d="M513.3 253.9h0M513.6 253.9h0M501.6 254.9h0M503.5 254.9h0M508.5 252.0h0M509.6 254.9h0"/>
<path stroke="#4e68d7" d="M489.4 253.9h0M488.4 252.0h0M483.4 252.0h0M479.5 252.9h0M492.5 252.0h0M478.4 253.9h0M494.4 257.9h0"/>
<path stroke="#dcba35" d="M511.1 252.9h0M501.1 253.9h0M514.1 254.9h0M507.4 254.9h0M514.3 253.9h0M505.7 253.9h0"/>
<path stroke="#979067" d="M498.2 253.9h0"/>
<path stroke="#b29f52" d="M495.0 253.9h0M498.7 252.9h0M502.7 252.0h0M499.0 250.0h0M503.8 252.9h0M499.9 256.9h0"/>
<path stroke="#4057f4" d="M486.4 252.9h0M483.6 252.9h0M488.2 253.9h0M486.3 251.0h0M479.0 255.9h0M479.1 254.9h0"/>
<path stroke="#435df0" d="M478.4 252.9h0M492.2 255.9h0M491.4 253.9h0M475.9 252.9h0M478.6 254.9h0M495.7 256.9h0M486.4 255.9h0"/>
<path stroke="#8e8970" d="M499.5 252.9h0M496.7 252.0h0M496.5 253.9h0M499.4 251.0h0M496.2 257.9h0M495.1 251.0h0"/>
<path stroke="#858379" d="M494.9 254.9h0M495.0 249.0h0M494.5 258.8h0M490.1 253.9h0M495.7 252.0h0M495.0 250.0h0"/>
<path stroke="#a09560" d="M496.6 257.9h0"/>
<path stroke="#3d50f7" d="M469.5 253.9h0M477.5 252.9h0M479.4 252.0h0M481.5 254.9h0M478.1 253.9h0"/>
<path stroke="#c3ab44" d="M507.4 255.9h0M498.9 255.9h0M499.7 252.0h0"/>
<path stroke="#ccb13d" d="M510.1 253.9h0M503.0 252.9h0M502.7 255.9h0M504.1 253.9h0M496.1 252.9h0M506.3 253.9h0M506.9 253.9h0"/>
<path stroke="#7c7e85" d="M490.5 252.0h0M497.4 251.0h0M493.3 256.9h0M495.2 256.9h0M499.1 256.9h0"/>
<path stroke="#b29f52" d="M504.9 252.9h0M499.7 250.0h0M494.4 252.0h0M502.7 254.9h0M499.0 252.0h0M496.1 253.9h0"/>
<path stroke="#4057f4" d="M489.4 251.0h0M479.1 252.9h0"/>
<path stroke="#4862e4" d="M487.3 253.9h0M486.4 253.9h0M481.7 252.0h0M486.3 252.0h0M474.5 252.9h0"/>
<path stroke="#3d50f7" d="M475.6 253.9h0M481.8 252.9h0"/>
<path stroke="#e4be32" d="M501.2 252.9h0M503.0 252.0h0M513.0 254.9h0M508.5 252.9h0"/>
<path stroke="#d4b639" d="M509.6 252.9h0M507.3 252.0h0M512.9 252.9h0M511.6 253.9h0M515.8 253.9h0M498.3 252.0h0"/>
<path stroke="#a99a59" d="M502.2 254.9h0M498.9 257.9h0M501.0 254.9h0M495.8 253.9h0"/>
<path stroke="#3a4afa" d="M473.5 253.9h0M482.9 252.9h0M476.8 253.9h0M481.5 252.9h0M481.8 254.9h0M479.9 253.9h0M474.9 253.9h0M484.3 253.9h0"/>
<path stroke="#435df0" d="M476.5 253.9h0M483.0 252.9h0M496.9 254.9h0M487.8 252.0h0M491.0 251.0h0M475.9 252.9h0M477.0 254.9h0"/>
<path stroke="#8e8970" d="M490.3 252.9h0M495.3 252.9h0M494.7 254.9h0M498.9 251.0h0M496.6 259.8h0M499.7 254.9h0"/>
<path stroke="#dcba35" d="M513.7 254.9h0M506.4 254.9h0M501.6 253.9h0M506.9 254.9h0"/>
<path stroke="#c3ab44" d="M511.8 253.9h0M500.7 252.9h0M501.7 253.9h0M516.4 253.9h0M505.3 254.9h0M509.3 252.9h0M502.6 251.0h0"/>
<path stroke="#858379" d="M497.0 250.0h0M495.1 258.8h0M497.6 255.9h0M498.2 251.0h0"/>
<path stroke="#4e68d7" d="M474.8 252.9h0M494.5 255.9h0M491.2 252.9h0M493.0 254.9h0M494.6 256.9h0"/>
<path stroke="#5c70bc" d="M494.0 255.9h0M486.5 254.9h0M495.1 257.9h0M494.0 250.0h0"/>
<path stroke="#546dca" d="M490.2 256.9h0M494.6 251.0h0"/>
<path stroke="#a09560" d="M496.9 258.8h0M513.5 252.9h0M508.9 253.9h0M496.5 248.0h0"/>
<path stroke="#979067" d="M496.6 249.0h0M493.4 252.9h0M498.1 255.9h0"/>
<path stroke="#747b92" d="M491.6 250.0h0M485.8 252.9h0M493.7 253.9h0"/>
<path stroke="#6474ae" d="M492.9 254.9h0M491.3 255.9h0M490.8 252.0h0M491.7 252.0h0"/>
<path stroke="#6c77a0" d="M493.3 251.0h0M494.6 253.9h0M490.6 255.9h0M494.7 252.0h0M492.6 252.9h0M485.4 254.9h0M499.3 254.9h0"/>
<path stroke="#bba54b" d="M505.2 254.9h0"/>
<path stroke="#bba54b" d="M478.8 273.4h0M492.5 272.0h0M478.1 273.4h0M484.8 274.8h0M491.7 272.0h0"/>
<path stroke="#dcba35" d="M486.1 270.7h0M479.3 274.8h0"/>
<path stroke="#d4b639" d="M481.6 276.2h0M485.8 273.4h0M493.8 276.2h0M479.6 273.4h0"/>
<path stroke="#ccb13d" d="M486.4 272.0h0M482.8 273.4h0"/>
<path stroke="#b29f52" d="M485.2 273.4h0M483.4 273.4h0M492.8 273.4h0M488.6 274.8h0M492.1 274.8h0"/>
<path stroke="#3d50f7" d="M517.2 274.8h0M502.8 270.7h0M514.5 274.8h0M507.7 272.0h0"/>
<path stroke="#a99a59" d="M491.3 276.2h0M495.6 274.8h0M489.6 272.0h0M488.6 272.0h0M493.8 274.8h0M489.4 276.2h0M494.5 278.9h0M478.0 273.4h0"/>
<path stroke="#435df0" d="M501.3 273.4h0M500.5 273.4h0M503.2 273.4h0M500.4 273.4h0M502.3 276.2h0M511.0 273.4h0M503.6 276.2h0M504.5 276.2h0"/>
<path stroke="#c3ab44" d="M486.8 273.4h0M484.1 273.4h0M487.3 273.4h0M475.6 274.8h0M479.1 276.2h0M475.1 274.8h0M481.7 273.4h0"/>
<path stroke="#6474ae" d="M494.8 270.7h0M493.1 273.4h0"/>
<path stroke="#858379" d="M492.4 276.2h0M497.8 276.2h0M486.6 270.7h0"/>
<path stroke="#3a4afa" d="M509.1 273.4h0M507.3 274.8h0M510.1 273.4h0M505.8 274.8h0M504.8 274.8h0"/>
<path stroke="#7c7e85" d="M494.2 276.2h0M507.3 276.2h0M493.6 278.9h0M494.5 276.2h0M496.2 277.5h0"/>
<path stroke="#747b92" d="M496.4 274.8h0M502.7 273.4h0"/>
<path stroke="#979067" d="M491.4 277.5h0M494.8 280.3h0M492.6 280.3h0M491.2 272.0h0"/>
<path stroke="#4057f4" d="M501.9 276.2h0M506.6 272.0h0M496.1 273.4h0M506.9 277.5h0"/>
<path stroke="#8e8970" d="M486.6 272.0h0M488.9 276.2h0M493.0 270.7h0M493.0 277.5h0"/>
<path stroke="#5c70bc" d="M504.1 274.8h0M504.5 276.2h0M506.1 276.2h0M499.5 274.8h0M503.3 272.0h0"/>
<path stroke="#a09560" d="M494.8 273.4h0M491.8 273.4h0M494.1 273.4h0"/>
<path stroke="#4e68d7" d="M506.4 272.0h0M506.6 276.2h0M514.2 273.4h0M506.7 270.7h0M507.1 277.5h0"/>
<path stroke="#4862e4" d="M508.5 276.2h0M504.3 273.4h0M503.5 274.8h0M504.6 273.4h0M506.2 273.4h0M505.7 272.0h0"/>
<path stroke="#e4be32" d="M480.7 274.8h0M480.4 274.8h0M477.8 274.8h0M483.9 274.8h0M478.0 274.8h0"/>
<path stroke="#546dca" d="M514.8 273.4h0M502.6 277.5h0M497.2 272.0h0M502.9 272.0h0M497.4 277.5h0M503.4 276.2h0"/>
<path stroke="#6c77a0" d="M496.1 276.2h0M495.4 273.4h0M496.3 272.0h0M495.4 272.0h0"/>
<path stroke="#4057f4" d="M508.3 274.8h0M507.7 274.8h0M513.0 274.8h0"/>
<path stroke="#bba54b" d="M483.8 273.4h0M491.2 270.7h0M494.3 277.5h0"/>
<path stroke="#6474ae" d="M500.5 274.8h0M491.9 270.7h0M502.2 277.5h0"/>
<path stroke="#4e68d7" d="M497.3 274.8h0M500.0 274.8h0M505.6 273.4h0M498.3 274.8h0M499.3 273.4h0"/>
<path stroke="#6c77a0" d="M495.2 270.7h0"/>
<path stroke="#a09560" d="M491.7 278.9h0M490.0 276.2h0M485.7 274.8h0M487.0 272.0h0M487.5 272.0h0M486.2 274.8h0"/>
<path stroke="#dcba35" d="M484.5 274.8h0M476.3 273.4h0M484.8 273.4h0M479.4 273.4h0"/>
<path stroke="#435df0" d="M506.8 273.4h0M499.9 272.0h0M498.3 273.4h0M497.7 274.8h0M513.6 274.8h0M501.8 272.0h0"/>
<path stroke="#546dca" d="M496.2 278.9h0M504.5 272.0h0M493.7 270.7h0M489.8 274.8h0M497.4 278.9h0M502.1 272.0h0M499.9 276.2h0M500.6 274.8h0M495.4 280.3h0"/>
<path stroke="#747b92" d="M491.9 277.5h0M495.1 269.3h0M497.4 273.4h0M495.3 274.8h0M492.7 269.3h0"/>
<path stroke="#979067" d="M493.0 276.2h0M491.9 274.8h0M488.9 277.5h0M491.2 274.8h0M492.4 273.4h0"/>
<path stroke="#e4be32" d="M487.6 273.4h0M489.7 273.4h0M482.9 274.8h0M476.9 274.8h0M481.3 274.8h0"/>
<path stroke="#858379" d="M496.7 274.8h0M490.4 273.4h0M486.0 277.5h0M495.9 269.3h0M486.8 277.5h0M488.6 273.4h0"/>
<path stroke="#d4b639" d="M480.8 273.4h0M478.9 274.8h0M477.2 273.4h0"/>
<path stroke="#c3ab44" d="M485.3 274.8h0M488.4 274.8h0M479.6 276.2h0M489.4 274.8h0M489.1 273.4h0M492.2 277.5h0M493.1 272.0h0"/>
<path stroke="#4862e4" d="M503.6 274.8h0M497.0 276.2h0M505.8 277.5h0M499.6 277.5h0M496.0 278.9h0M502.5 276.2h0M507.4 272.0h0M510.9 276.2h0M501.8 274.8h0M506.5 274.8h0"/>
<path stroke="#7c7e85" d="M497.7 273.4h0M493.6 272.0h0"/>
<path stroke="#8e8970" d="M493.6 277.5h0M494.8 274.8h0M486.1 277.5h0M491.7 269.3h0M488.1 277.5h0M491.5 276.2h0"/>
<path stroke="#a99a59" d="M485.3 272.0h0M487.8 277.5h0M489.6 277.5h0"/>
<path stroke="#3a4afa" d="M514.7 274.8h0M509.5 274.8h0M513.3 273.4h0"/>
<path stroke="#3d50f7" d="M505.2 274.8h0M512.7 273.4h0M510.5 274.8h0M508.6 273.4h0"/>
<path stroke="#ccb13d" d="M487.2 274.8h0M480.4 273.4h0M486.6 274.8h0M493.7 273.4h0M488.0 274.8h0"/>
<path stroke="#b29f52" d="M489.6 270.7h0M492.4 278.9h0M492.5 276.2h0"/>
<path stroke="#5c70bc" d="M499.5 273.4h0M501.3 274.8h0"/>
<path stroke="#ccb13d" d="M477.7 276.2h0"/>
<path stroke="#a99a59" d="M486.5 278.9h0M482.5 274.8h0M490.5 274.8h0"/>
<path stroke="#dcba35" d="M470.0 274.8h0M482.3 272.0h0M487.5 276.2h0M483.1 274.8h0M479.5 274.8h0M480.2 276.2h0"/>
<path stroke="#d4b639" d="M489.3 277.5h0M476.1 274.8h0M475.8 273.4h0"/>
<path stroke="#e4be32" d="M484.1 276.2h0M484.1 272.0h0M478.5 276.2h0M477.3 274.8h0M482.1 276.2h0M490.4 276.2h0"/>
<path stroke="#858379" d="M488.1 273.4h0M490.9 277.5h0M492.1 272.0h0M492.3 270.7h0"/>
<path stroke="#8e8970" d="M490.3 270.7h0M489.1 272.0h0M495.9 272.0h0M495.6 276.2h0M494.2 272.0h0M491.4 273.4h0M485.6 276.2h0"/>
<path stroke="#b29f52" d="M481.5 273.4h0M490.8 273.4h0M485.4 276.2h0"/>
<path stroke="#6c77a0" d="M495.1 276.2h0M497.5 270.7h0"/>
<path stroke="#4057f4" d="M512.1 274.8h0M498.9 274.8h0M501.3 276.2h0M498.2 272.0h0M507.5 273.4h0M510.8 273.4h0"/>
<path stroke="#c3ab44" d="M487.1 277.5h0M487.0 276.2h0M494.1 274.8h0M481.8 274.8h0M488.3 276.2h0"/>
<path stroke="#5c70bc" d="M498.5 276.2h0M495.9 277.5h0M507.0 278.9h0M490.9 272.0h0M497.6 272.0h0M499.0 273.4h0M502.6 278.9h0M507.9 276.2h0"/>
<path stroke="#a09560" d="M494.6 269.3h0M490.3 274.8h0M486.6 276.2h0"/>
<path stroke="#3a4afa" d="M510.1 274.8h0M504.6 272.0h0M511.1 274.8h0M509.8 274.8h0"/>
<path stroke="#6474ae" d="M505.4 276.2h0M496.7 273.4h0M496.8 276.2h0M495.7 273.4h0M495.2 278.9h0"/>
<path stroke="#747b92" d="M492.9 278.9h0M490.5 272.0h0M495.5 277.5h0"/>
<path stroke="#435df0" d="M500.6 276.2h0M508.3 273.4h0M505.3 273.4h0M513.5 274.8h0M503.7 273.4h0M505.8 276.2h0"/>
<path stroke="#979067" d="M496.4 270.7h0M487.6 270.7h0M490.8 276.2h0M486.3 273.4h0M490.3 277.5h0"/>
<path stroke="#4e68d7" d="M501.8 273.4h0M502.9 274.8h0M495.0 272.0h0M501.0 272.0h0"/>
<path stroke="#3d50f7" d="M507.8 273.4h0M498.1 276.2h0M513.1 276.2h0M508.6 274.8h0M506.1 274.8h0M512.5 273.4h0"/>
<path stroke="#7c7e85" d="M488.1 272.0h0M493.4 274.8h0M495.7 270.7h0M492.8 267.9h0M492.6 274.8h0M485.5 272.0h0"/>
<path stroke="#546dca" d="M514.1 276.2h0M494.9 267.9h0M502.1 274.8h0M500.4 276.2h0M500.3 272.0h0"/>
<path stroke="#bba54b" d="M486.5 276.2h0M482.4 273.4h0"/>
<path stroke="#4862e4" d="M512.0 274.8h0M499.1 276.2h0M510.3 276.2h0M494.6 277.5h0M499.7 270.7h0M502.0 273.4h0"/>
<path stroke="#747b92" d="M498.8 296.6h0M486.4 294.7h0M489.7 291.9h0M491.9 297.5h0"/>
<path stroke="#3d50f7" d="M493.8 293.8h0M497.7 298.4h0M485.1 293.8h0M499.5 293.8h0M500.6 297.5h0M491.0 295.7h0M508.5 296.6h0M505.1 296.6h0M493.5 291.9h0M495.7 299.4h0"/>
<path stroke="#bba54b" d="M479.7 294.7h0M495.8 296.6h0"/>
<path stroke="#a09560" d="M513.0 295.7h0"/>
<path stroke="#6c77a0" d="M505.5 295.7h0"/>
<path stroke="#8e8970" d="M497.1 294.7h0M503.1 294.7h0M495.7 298.4h0"/>
<path stroke="#435df0" d="M483.4 294.7h0M479.2 293.8h0M482.8 294.7h0M477.4 295.7h0M499.8 298.4h0M489.8 295.7h0M500.1 292.9h0M482.6 296.6h0"/>
<path stroke="#7c7e85" d="M494.6 294.7h0M495.0 291.0h0M492.3 292.9h0M485.8 294.7h0"/>
<path stroke="#d4b639" d="M498.0 297.5h0M489.0 294.7h0M509.7 294.7h0M502.4 298.4h0M507.0 293.8h0M490.3 292.9h0M493.1 296.6h0M496.2 290.1h0M502.1 296.6h0M499.8 295.7h0M500.4 295.7h0M489.8 296.6h0M480.1 295.7h0M478.2 293.8h0M498.3 295.7h0M486.3 291.9h0M502.4 299.4h0"/>
<path stroke="#e4be32" d="M505.2 298.4h0"/>
<path stroke="#dcba35" d="M488.5 296.6h0M489.8 297.5h0M486.1 296.6h0M501.7 293.8h0M478.5 295.7h0M487.9 292.9h0M497.0 299.4h0M508.3 295.7h0M529.0 295.7h0"/>
<path stroke="#c3ab44" d="M494.9 302.2h0M492.0 298.4h0M501.8 295.7h0M517.7 295.7h0M491.0 293.8h0M506.0 295.7h0M496.8 291.9h0M505.9 293.8h0"/>
<path stroke="#4057f4" d="M494.4 299.4h0M507.1 295.7h0M497.8 295.7h0M483.2 295.7h0M495.0 294.7h0M495.2 300.3h0M481.8 295.7h0M483.0 293.8h0M507.4 294.7h0M485.8 295.7h0M486.8 295.7h0M499.2 295.7h0M491.7 294.7h0M506.6 293.8h0"/>
<path stroke="#ccb13d" d="M495.5 298.4h0M509.8 297.5h0M501.6 297.5h0M505.7 294.7h0M494.8 292.9h0M492.8 294.7h0M505.2 297.5h0M504.3 295.7h0M503.5 296.6h0M486.4 295.7h0M505.2 294.7h0"/>
<path stroke="#858379" d="M495.7 297.5h0M492.9 299.4h0M479.8 295.7h0M483.7 294.7h0M491.3 296.6h0"/>
<path stroke="#3a4afa" d="M506.7 296.6h0M483.2 296.6h0M492.6 296.6h0M509.6 295.7h0M506.3 297.5h0M483.7 296.6h0M496.5 295.7h0M481.2 294.7h0M500.5 294.7h0"/>
<path stroke="#e4be32" d="M488.7 295.7h0M499.0 298.4h0M496.9 297.5h0"/>
<path stroke="#d4b639" d="M496.5 297.5h0M503.9 293.8h0M495.3 299.4h0M495.6 291.0h0M496.1 302.2h0M507.5 296.6h0M493.2 293.8h0M496.5 296.6h0M492.8 295.7h0M496.8 298.4h0M493.7 296.6h0M498.6 293.8h0M485.5 296.6h0M494.8 297.5h0M495.7 292.9h0M499.4 292.9h0"/>
<path stroke="#dcba35" d="M497.3 291.0h0M506.8 295.7h0M490.0 293.8h0M487.1 292.9h0M496.9 293.8h0M504.3 296.6h0M491.2 295.7h0M494.2 299.4h0"/>
<path stroke="#747b92" d="M492.2 295.7h0"/>
<path stroke="#ccb13d" d="M496.8 294.7h0M498.2 291.9h0M509.5 293.8h0M489.6 298.4h0M488.7 296.6h0M491.3 298.4h0M491.2 292.9h0M495.3 296.6h0M498.0 294.7h0M494.7 295.7h0M492.7 297.5h0M476.1 294.7h0M488.1 294.7h0M504.1 294.7h0M497.3 295.7h0"/>
<path stroke="#b29f52" d="M505.9 296.6h0"/>
<path stroke="#c3ab44" d="M487.9 294.7h0M495.5 290.1h0M496.4 298.4h0M515.6 295.7h0M497.3 296.6h0"/>
<path stroke="#435df0" d="M494.5 296.6h0M498.4 292.9h0M503.3 295.7h0M497.4 292.9h0"/>
<path stroke="#3d50f7" d="M490.0 295.7h0M482.3 295.7h0M509.3 296.6h0M502.9 293.8h0M487.5 295.7h0M497.7 291.9h0M481.6 295.7h0M481.9 296.6h0M502.6 295.7h0M487.8 296.6h0M488.6 293.8h0M499.9 291.9h0M488.3 297.5h0M487.2 294.7h0M501.7 296.6h0"/>
<path stroke="#858379" d="M491.4 297.5h0M496.3 292.9h0M493.3 295.7h0M476.7 295.7h0M502.3 294.7h0M504.7 294.7h0"/>
<path stroke="#bba54b" d="M510.4 295.7h0M517.3 295.7h0"/>
<path stroke="#6474ae" d="M483.7 293.8h0M489.8 294.7h0"/>
<path stroke="#7c7e85" d="M486.9 297.5h0"/>
<path stroke="#8e8970" d="M501.7 294.7h0"/>
<path stroke="#6c77a0" d="M482.2 294.7h0"/>
<path stroke="#4057f4" d="M496.4 293.8h0M486.1 297.5h0M498.1 294.7h0M500.2 293.8h0M487.1 296.6h0M493.7 291.9h0M484.6 294.7h0M494.3 293.8h0M500.8 293.8h0M478.3 297.5h0M478.7 295.7h0M497.6 293.8h0M486.6 293.8h0M496.2 291.9h0M496.0 295.7h0M478.5 296.6h0"/>
<path stroke="#3a4afa" d="M508.8 295.7h0M505.4 292.9h0M495.2 289.2h0M491.0 296.6h0M488.2 295.7h0M488.7 293.8h0M502.9 296.6h0M500.9 294.7h0M495.0 292.9h0M489.7 292.9h0"/>
<path stroke="#979067" d="M508.1 295.7h0"/>
<path stroke="#3d50f7" d="M507.6 293.8h0M494.3 294.7h0M493.7 298.4h0M498.2 299.4h0M498.0 299.4h0M479.3 296.6h0M500.8 296.6h0M493.4 297.5h0M477.6 294.7h0M501.1 292.9h0M485.4 295.7h0M492.8 293.8h0"/>
<path stroke="#c3ab44" d="M500.3 296.6h0M498.2 298.4h0M490.3 297.5h0M498.0 296.6h0"/>
<path stroke="#435df0" d="M494.0 295.7h0M500.9 297.5h0M499.6 294.7h0M500.9 295.7h0M483.0 297.5h0M478.5 294.7h0"/>
<path stroke="#8e8970" d="M497.5 300.3h0M496.5 291.9h0"/>
<path stroke="#7c7e85" d="M499.2 294.7h0"/>
<path stroke="#858379" d="M493.5 298.4h0M503.4 293.8h0M512.5 295.7h0M495.5 297.5h0M492.8 298.4h0"/>
<path stroke="#dcba35" d="M471.6 295.7h0M478.7 294.7h0M502.4 295.7h0M534.6 295.7h0M492.0 296.6h0M485.5 293.8h0M493.2 294.7h0M501.9 293.8h0M487.6 293.8h0M496.1 301.2h0"/>
<path stroke="#4057f4" d="M487.8 297.5h0M481.1 296.6h0M486.4 298.4h0M498.9 291.9h0M499.3 297.5h0M507.6 294.7h0M486.4 297.5h0M493.5 292.9h0M494.3 292.9h0M482.0 293.8h0M496.0 289.2h0M485.1 296.6h0M492.8 291.9h0M494.5 291.9h0M491.8 291.9h0M485.2 294.7h0"/>
<path stroke="#5c70bc" d="M480.6 295.7h0"/>
<path stroke="#bba54b" d="M486.4 292.9h0"/>
<path stroke="#3a4afa" d="M496.1 300.3h0M499.0 293.8h0M509.9 296.6h0M498.6 297.5h0M490.2 294.7h0M483.7 297.5h0M507.1 296.6h0M483.6 295.7h0M490.9 297.5h0M476.5 295.7h0M492.4 293.8h0"/>
<path stroke="#d4b639" d="M487.0 293.8h0M487.9 298.4h0M492.1 294.7h0M515.8 295.7h0M504.6 295.7h0M509.1 294.7h0M482.5 293.8h0M491.2 293.8h0M490.2 296.6h0M493.0 292.9h0M502.1 292.9h0M508.5 294.7h0M498.7 292.9h0M497.5 291.0h0"/>
<path stroke="#e4be32" d="M514.3 295.7h0M499.6 296.6h0M484.5 295.7h0M502.0 291.9h0"/>
<path stroke="#747b92" d="M495.9 293.8h0"/>
<path stroke="#ccb13d" d="M495.3 295.7h0M494.0 297.5h0M506.7 294.7h0M503.5 294.7h0M496.3 299.4h0M497.5 292.9h0M502.2 297.5h0M490.8 292.9h0M495.2 293.8h0M505.4 293.8h0M490.5 298.4h0M495.2 291.9h0M491.0 294.7h0M495.5 301.2h0M494.9 298.4h0M496.1 294.7h0M499.7 297.5h0M489.5 293.8h0M487.5 291.9h0"/>
<path stroke="#979067" d="M498.1 296.6h0"/>
<path stroke="#d4b639" d="M492.4 320.0h0M494.8 313.7h0M494.0 316.5h0M496.2 315.8h0M494.6 319.3h0M503.4 315.8h0"/>
<path stroke="#e4be32" d="M497.2 315.8h0M498.1 315.8h0M504.1 316.5h0M506.6 316.5h0M500.6 315.1h0"/>
<path stroke="#a99a59" d="M493.9 314.4h0"/>
<path stroke="#3a4afa" d="M484.0 314.4h0M495.6 313.0h0M495.1 313.0h0M493.9 319.3h0M482.9 314.4h0M487.6 315.1h0M491.4 315.1h0M490.3 315.1h0M494.8 315.1h0M488.4 315.1h0M497.0 318.6h0M486.3 315.8h0M485.4 317.2h0"/>
<path stroke="#4862e4" d="M483.0 315.8h0M484.3 317.9h0M486.3 317.9h0M484.7 315.1h0"/>
<path stroke="#a09560" d="M498.5 315.1h0"/>
<path stroke="#4057f4" d="M488.8 317.2h0M492.6 314.4h0M493.0 319.3h0M496.1 313.7h0M491.6 318.6h0M492.8 319.3h0"/>
<path stroke="#747b92" d="M497.2 317.2h0"/>
<path stroke="#bba54b" d="M492.5 320.7h0M497.6 315.8h0M496.6 317.2h0M496.3 320.0h0"/>
<path stroke="#4e68d7" d="M484.3 315.8h0M487.8 318.6h0M483.3 316.5h0"/>
<path stroke="#dcba35" d="M548.0 316.5h0M496.3 317.9h0M538.6 316.5h0M516.6 316.5h0M493.2 312.3h0M494.6 314.4h0M504.8 316.5h0M531.4 316.5h0M493.8 313.0h0"/>
<path stroke="#435df0" d="M487.5 315.8h0"/>
<path stroke="#3d50f7" d="M494.6 318.6h0M491.6 315.8h0M493.0 318.6h0M495.6 313.7h0M473.5 316.5h0"/>
<path stroke="#7c7e85" d="M492.2 315.8h0"/>
<path stroke="#c3ab44" d="M495.5 319.3h0M501.1 315.1h0M494.3 320.0h0M496.2 316.5h0M494.3 317.2h0"/>
<path stroke="#ccb13d" d="M499.7 317.2h0M497.0 315.1h0M504.7 317.2h0M500.8 315.8h0M491.1 313.7h0M496.1 314.4h0M503.1 317.9h0M494.9 317.2h0M493.4 320.7h0"/>
<path stroke="#6c77a0" d="M497.1 313.0h0"/>
<path stroke="#4e68d7" d="M483.0 315.1h0"/>
<path stroke="#4057f4" d="M485.5 315.1h0M495.3 318.6h0M490.4 317.2h0M492.2 316.5h0M494.0 320.7h0M481.4 316.5h0M490.9 315.8h0"/>
<path stroke="#ccb13d" d="M505.6 317.2h0M493.1 316.5h0M502.5 316.5h0M491.5 314.4h0"/>
<path stroke="#7c7e85" d="M493.1 313.7h0M495.9 315.1h0M496.5 318.6h0M496.9 314.4h0"/>
<path stroke="#d4b639" d="M497.4 316.5h0M493.9 313.7h0M492.8 313.0h0M495.8 315.1h0M492.3 311.6h0M490.6 316.5h0M505.0 315.8h0M496.5 312.3h0M492.5 317.9h0"/>
<path stroke="#c3ab44" d="M499.2 315.8h0M502.6 316.5h0M504.7 315.8h0"/>
<path stroke="#3a4afa" d="M484.6 316.5h0M490.4 314.4h0M485.4 315.8h0M487.0 317.2h0M492.5 318.6h0M486.9 316.5h0M490.3 319.3h0M482.1 315.8h0M491.1 317.9h0M492.3 312.3h0M497.2 316.5h0"/>
<path stroke="#435df0" d="M487.1 316.5h0M488.8 316.5h0M485.5 315.8h0M489.5 317.9h0M488.6 315.8h0M483.9 315.8h0M485.4 316.5h0"/>
<path stroke="#979067" d="M497.0 319.3h0"/>
<path stroke="#a99a59" d="M499.2 317.2h0"/>
<path stroke="#546dca" d="M482.9 317.9h0"/>
<path stroke="#bba54b" d="M502.4 317.2h0M498.3 317.9h0M503.9 317.2h0M502.3 315.8h0"/>
<path stroke="#3d50f7" d="M486.5 317.2h0M491.1 316.5h0M485.1 317.2h0M495.4 317.2h0M487.8 317.9h0M491.2 317.2h0M488.9 315.1h0M491.5 313.7h0M492.0 312.3h0M493.5 317.2h0M489.5 315.8h0M490.8 315.1h0"/>
<path stroke="#4862e4" d="M482.6 316.5h0M485.4 315.1h0"/>
<path stroke="#dcba35" d="M495.6 314.4h0M497.5 317.9h0M495.2 317.9h0M494.4 317.9h0M502.6 317.2h0M496.0 313.0h0"/>
<path stroke="#a09560" d="M498.2 317.2h0M505.7 315.8h0"/>
<path stroke="#858379" d="M491.3 314.4h0"/>
<path stroke="#4862e4" d="M485.9 316.5h0"/>
<path stroke="#3a4afa" d="M483.0 317.2h0M488.3 317.2h0M482.2 316.5h0M493.0 317.9h0M484.0 317.2h0M487.9 316.5h0"/>
<path stroke="#b29f52" d="M507.5 316.5h0"/>
<path stroke="#7c7e85" d="M490.8 319.3h0M489.4 317.2h0M491.4 319.3h0"/>
<path stroke="#e4be32" d="M495.4 315.8h0M499.0 316.5h0"/>
<path stroke="#747b92" d="M493.9 318.6h0"/>
<path stroke="#435df0" d="M481.6 315.8h0M489.8 314.4h0M489.5 316.5h0M490.7 320.0h0M486.3 315.1h0M488.5 317.9h0"/>
<path stroke="#6c77a0" d="M497.0 320.0h0"/>
<path stroke="#bba54b" d="M499.9 315.8h0M500.6 316.5h0M503.1 315.1h0"/>
<path stroke="#a09560" d="M498.1 314.4h0"/>
<path stroke="#d4b639" d="M497.2 313.7h0M502.6 315.8h0M492.5 317.2h0M501.3 315.8h0M497.7 315.1h0M491.9 317.9h0"/>
<path stroke="#dcba35" d="M498.2 316.5h0M493.2 313.0h0M509.2 316.5h0"/>
<path stroke="#ccb13d" d="M492.0 316.5h0M493.5 315.8h0M490.4 318.6h0M494.2 317.9h0M501.8 317.2h0M502.4 315.1h0M493.0 311.6h0M501.1 316.5h0"/>
<path stroke="#c3ab44" d="M492.3 313.7h0M502.0 317.9h0M503.6 316.5h0M500.4 317.2h0M494.1 315.1h0M492.0 320.0h0M496.2 319.3h0M492.4 315.1h0M505.6 316.5h0M497.2 317.9h0M500.3 316.5h0M497.6 317.2h0"/>
<path stroke="#a99a59" d="M491.3 313.0h0"/>
<path stroke="#3d50f7" d="M493.7 315.8h0M495.1 316.5h0M494.5 316.5h0M491.2 318.6h0M493.0 314.4h0M493.2 320.0h0M490.1 315.8h0M489.4 315.1h0M493.9 312.3h0M491.9 313.0h0"/>
<path stroke="#4057f4" d="M483.5 317.2h0M486.9 314.4h0M490.2 313.7h0M487.8 314.4h0M490.1 317.9h0M495.1 315.8h0M492.0 317.2h0M484.8 317.9h0M487.9 315.8h0M487.7 317.9h0"/>
<path stroke="#858379" d="M493.0 315.1h0"/>
<path stroke="#d4b639" d="M492.4 336.0h0M495.3 331.8h0M498.4 338.1h0M494.4 340.9h0M495.5 334.6h0M492.3 338.1h0M495.3 336.0h0M498.3 337.4h0M496.9 342.3h0M495.5 342.3h0M490.8 336.0h0M498.2 334.6h0M495.8 335.3h0M493.4 338.1h0M490.2 338.1h0"/>
<path stroke="#6c77a0" d="M492.5 340.2h0M494.1 333.9h0M490.1 336.0h0"/>
<path stroke="#979067" d="M486.2 337.4h0M497.6 338.8h0"/>
<path stroke="#7c7e85" d="M492.9 338.8h0"/>
<path stroke="#3d50f7" d="M503.2 338.1h0M496.0 341.6h0M491.6 338.8h0"/>
<path stroke="#4862e4" d="M504.5 338.1h0M510.6 337.4h0"/>
<path stroke="#ccb13d" d="M500.0 337.4h0M490.8 338.8h0M491.6 336.0h0M494.8 338.1h0M497.5 340.2h0M496.3 333.9h0M495.8 333.9h0M492.8 340.9h0M493.6 336.0h0"/>
<path stroke="#dcba35" d="M498.1 336.0h0M498.0 336.7h0M494.8 338.8h0M492.8 338.1h0M491.8 336.7h0M496.8 334.6h0M499.7 336.0h0"/>
<path stroke="#858379" d="M496.0 333.2h0M492.6 336.0h0M494.8 339.5h0M489.7 338.8h0M493.5 336.0h0M493.0 340.2h0"/>
<path stroke="#4057f4" d="M498.5 338.1h0M499.3 338.8h0M500.3 336.7h0M499.0 339.5h0M497.4 336.0h0M497.4 339.5h0M501.1 336.7h0M498.2 335.3h0M492.2 338.8h0"/>
<path stroke="#a99a59" d="M489.3 338.1h0M487.7 336.0h0"/>
<path stroke="#bba54b" d="M488.1 338.1h0M486.9 338.1h0M494.6 341.6h0"/>
<path stroke="#435df0" d="M494.3 334.6h0M496.1 335.3h0M496.8 333.2h0M501.2 336.0h0M496.7 339.5h0M500.2 337.4h0M503.8 338.1h0M496.5 336.0h0M501.0 337.4h0"/>
<path stroke="#b29f52" d="M486.8 337.4h0M485.3 338.1h0"/>
<path stroke="#747b92" d="M498.7 336.7h0M497.3 340.9h0"/>
<path stroke="#e4be32" d="M494.4 333.2h0"/>
<path stroke="#4e68d7" d="M504.7 337.4h0M503.6 337.4h0"/>
<path stroke="#a09560" d="M487.9 338.8h0M485.8 336.7h0M486.3 336.7h0M489.7 336.0h0"/>
<path stroke="#c3ab44" d="M496.9 341.6h0M493.6 340.2h0"/>
<path stroke="#3a4afa" d="M495.7 340.9h0M508.8 337.4h0M503.1 337.4h0M495.1 337.4h0M511.5 337.4h0M493.2 337.4h0M490.9 336.7h0M501.2 338.8h0M504.2 337.4h0M498.4 333.9h0"/>
<path stroke="#3d50f7" d="M501.8 336.7h0M494.6 336.0h0M491.9 335.3h0M511.7 337.4h0M494.3 338.8h0M499.4 337.4h0M495.5 336.7h0M495.4 339.5h0M490.4 335.3h0"/>
<path stroke="#a99a59" d="M497.7 339.5h0M484.7 337.4h0M488.1 336.7h0"/>
<path stroke="#7c7e85" d="M496.2 339.5h0M493.7 334.6h0"/>
<path stroke="#6c77a0" d="M502.8 336.7h0M491.3 337.4h0M502.3 338.1h0"/>
<path stroke="#bba54b" d="M485.5 338.1h0M487.5 336.7h0M489.6 337.4h0M489.1 336.0h0"/>
<path stroke="#979067" d="M496.9 338.8h0M485.3 337.4h0"/>
<path stroke="#dcba35" d="M493.4 339.5h0M494.9 340.9h0M497.1 333.9h0M495.5 336.7h0M492.8 335.3h0M497.2 338.1h0M494.2 335.3h0M497.7 338.1h0"/>
<path stroke="#3a4afa" d="M495.3 340.9h0M494.6 340.2h0M515.3 337.4h0M502.5 336.7h0M497.1 336.7h0M493.0 333.9h0"/>
<path stroke="#c3ab44" d="M494.7 337.4h0M488.8 338.1h0M492.2 337.4h0M493.2 336.7h0M497.0 337.4h0M497.2 337.4h0M494.0 332.5h0M498.5 337.4h0M491.3 338.8h0"/>
<path stroke="#435df0" d="M501.1 335.3h0M501.2 338.1h0M496.0 338.8h0M495.2 335.3h0M499.9 338.1h0"/>
<path stroke="#8e8970" d="M497.0 333.9h0M495.8 340.2h0"/>
<path stroke="#4057f4" d="M496.9 335.3h0M496.5 340.2h0M496.0 336.0h0M495.9 334.6h0M498.3 336.7h0M499.0 339.5h0M493.6 336.7h0M499.4 336.7h0"/>
<path stroke="#4862e4" d="M501.8 338.1h0M502.6 338.1h0"/>
<path stroke="#546dca" d="M503.4 336.0h0"/>
<path stroke="#d4b639" d="M494.2 339.5h0M495.7 338.1h0M495.5 336.0h0M492.6 337.4h0M497.9 334.6h0M494.5 334.6h0M495.4 342.3h0M496.4 337.4h0"/>
<path stroke="#4e68d7" d="M500.1 338.1h0"/>
<path stroke="#747b92" d="M493.9 333.2h0"/>
<path stroke="#b29f52" d="M489.6 336.7h0M488.1 337.4h0M484.4 336.7h0"/>
<path stroke="#a09560" d="M493.9 333.9h0M485.1 336.7h0M487.9 338.1h0"/>
<path stroke="#858379" d="M495.0 340.2h0M495.8 337.4h0"/>
<path stroke="#ccb13d" d="M493.5 337.4h0M495.2 332.5h0M495.7 332.5h0M494.6 336.7h0M487.4 338.1h0M497.0 336.7h0M492.5 339.5h0M498.3 338.8h0M497.8 337.4h0M492.7 334.6h0M495.7 338.8h0"/>
<path stroke="#5c70bc" d="M502.6 336.0h0"/>
<path stroke="#6c77a0" d="M493.6 338.1h0M492.4 335.3h0"/>
<path stroke="#e4be32" d="M498.6 335.3h0M498.1 339.5h0M497.1 335.3h0"/>
<path stroke="#747b92" d="M496.3 340.9h0M497.8 335.3h0M490.7 335.3h0"/>
<path stroke="#ccb13d" d="M495.3 333.2h0M495.5 341.6h0M491.4 336.0h0M491.2 336.7h0M496.9 340.2h0M492.8 333.9h0M498.2 340.2h0M489.4 337.4h0M492.3 333.9h0M495.0 333.2h0M496.6 332.5h0M495.3 333.9h0M495.2 343.0h0M491.7 339.5h0M494.2 336.0h0M499.2 338.1h0M493.7 335.3h0"/>
<path stroke="#858379" d="M487.4 337.4h0M493.7 339.5h0M493.9 340.9h0M496.5 336.7h0"/>
<path stroke="#4057f4" d="M498.7 336.0h0M503.5 336.7h0M501.0 336.0h0M503.5 336.7h0M490.9 338.1h0M493.0 335.3h0M513.9 337.4h0M492.7 340.2h0"/>
<path stroke="#4e68d7" d="M500.5 336.0h0"/>
<path stroke="#b29f52" d="M489.3 336.7h0"/>
<path stroke="#3a4afa" d="M504.1 336.7h0M494.2 340.2h0"/>
<path stroke="#4862e4" d="M501.6 337.4h0"/>
<path stroke="#7c7e85" d="M497.0 334.6h0M492.7 336.7h0"/>
<path stroke="#c3ab44" d="M490.9 337.4h0M490.4 337.4h0M486.2 338.1h0M492.3 339.5h0"/>
<path stroke="#3d50f7" d="M491.8 338.1h0M491.4 335.3h0M490.1 336.7h0M500.6 338.1h0M493.2 338.8h0"/>
<path stroke="#5c70bc" d="M500.5 336.7h0"/>
<path stroke="#435df0" d="M498.9 338.8h0M493.3 334.6h0M502.8 337.4h0"/>
<path stroke="#d4b639" d="M494.5 333.9h0M499.3 335.3h0M491.3 339.5h0M491.6 337.4h0M499.1 336.0h0M495.9 339.5h0M491.5 338.1h0M498.0 336.0h0M494.3 337.4h0M487.3 336.7h0M495.1 338.1h0M494.6 335.3h0"/>
<path stroke="#8e8970" d="M494.1 336.7h0M490.3 338.8h0M488.8 336.7h0M495.2 338.8h0"/>
<path stroke="#979067" d="M496.1 334.6h0"/>
<path stroke="#dcba35" d="M492.2 336.7h0M496.9 340.9h0M496.7 338.1h0M499.9 336.7h0M494.4 341.6h0M496.2 338.1h0M493.6 338.8h0M497.2 338.8h0M494.0 338.1h0"/>
<path stroke="#bba54b" d="M485.6 337.4h0M492.5 334.6h0M493.6 341.6h0"/>
<path stroke="#a09560" d="M484.8 336.7h0"/>
<path stroke="#a99a59" d="M485.1 336.0h0M488.8 337.4h0M487.0 336.7h0M489.7 338.1h0M488.0 337.4h0M484.1 337.4h0"/>
<path stroke="#546dca" d="M501.2 337.4h0M502.4 337.4h0"/>
<path stroke="#747b92" d="M495.4 358.9h0M500.0 357.5h0"/>
<path stroke="#ccb13d" d="M491.2 354.7h0M488.1 358.9h0M483.4 358.2h0M489.4 355.4h0M483.7 358.2h0M492.5 358.2h0M492.3 361.0h0M494.0 362.4h0M487.4 356.8h0M488.7 354.7h0"/>
<path stroke="#6c77a0" d="M497.4 356.1h0M495.0 360.3h0M494.3 360.3h0M495.1 354.0h0M499.8 358.2h0M496.8 357.5h0M494.3 357.5h0M497.6 357.5h0"/>
<path stroke="#7c7e85" d="M493.6 361.0h0M495.2 357.5h0M496.0 356.8h0M491.5 360.3h0M496.3 356.8h0M491.4 356.8h0"/>
<path stroke="#d4b639" d="M487.3 360.3h0M491.8 361.0h0M491.3 357.5h0M487.8 356.1h0M489.1 357.5h0M484.9 358.9h0M487.4 357.5h0"/>
<path stroke="#435df0" d="M501.5 358.2h0M501.6 358.2h0"/>
<path stroke="#4862e4" d="M496.9 355.4h0M502.5 356.8h0M499.3 357.5h0"/>
<path stroke="#4e68d7" d="M499.4 358.9h0"/>
<path stroke="#a09560" d="M492.8 354.7h0M490.5 354.0h0"/>
<path stroke="#8e8970" d="M493.8 353.3h0"/>
<path stroke="#a99a59" d="M491.7 357.5h0M489.3 354.0h0M491.2 355.4h0M492.1 358.2h0M490.2 357.5h0M491.7 356.8h0M490.8 358.9h0M491.2 358.9h0M488.0 355.4h0M493.4 362.4h0M488.8 358.2h0M490.7 357.5h0"/>
<path stroke="#979067" d="M489.7 356.1h0M489.4 358.2h0"/>
<path stroke="#dcba35" d="M484.0 359.6h0M489.1 354.7h0M490.7 356.1h0M484.8 359.6h0M485.7 358.2h0"/>
<path stroke="#858379" d="M494.5 358.9h0M495.7 358.9h0M494.4 356.8h0M495.0 355.4h0M493.5 353.3h0M492.9 356.8h0M494.0 356.8h0M494.1 359.6h0"/>
<path stroke="#3a4afa" d="M494.0 354.7h0M502.4 358.9h0"/>
<path stroke="#5c70bc" d="M496.6 358.2h0M499.8 357.5h0M500.1 356.8h0M502.8 358.2h0M496.4 360.3h0M495.6 358.2h0M499.0 357.5h0"/>
<path stroke="#e4be32" d="M483.1 356.8h0M487.2 358.9h0M485.6 356.8h0M483.4 359.6h0M489.7 358.2h0M486.5 356.8h0"/>
<path stroke="#c3ab44" d="M494.3 354.0h0M488.3 361.7h0M490.6 360.3h0M490.6 362.4h0M482.1 357.5h0M490.2 361.0h0M487.4 356.1h0M487.7 356.8h0M488.3 358.2h0M488.5 356.8h0M489.6 360.3h0M492.3 354.7h0M486.5 356.8h0"/>
<path stroke="#b29f52" d="M493.2 356.8h0M490.9 359.6h0M492.0 358.9h0M492.9 359.6h0M491.4 354.0h0M492.0 355.4h0M488.3 360.3h0"/>
<path stroke="#546dca" d="M501.9 357.5h0M496.4 359.6h0M497.8 359.6h0"/>
<path stroke="#6474ae" d="M496.5 359.6h0"/>
<path stroke="#bba54b" d="M489.0 355.4h0M493.4 361.0h0M490.3 355.4h0M491.5 361.0h0M490.3 356.8h0M489.9 356.8h0"/>
<path stroke="#5c70bc" d="M494.1 358.2h0M495.4 360.3h0M498.0 356.8h0M493.5 358.2h0M497.3 359.6h0M498.4 358.2h0M500.9 357.5h0"/>
<path stroke="#3a4afa" d="M502.2 357.5h0"/>
<path stroke="#c3ab44" d="M485.8 358.9h0M489.8 355.4h0M488.6 356.1h0M489.9 361.7h0M487.7 358.2h0"/>
<path stroke="#8e8970" d="M496.3 357.5h0M490.6 363.1h0"/>
<path stroke="#b29f52" d="M491.5 358.2h0M492.2 359.6h0M491.9 360.3h0M488.2 359.6h0M491.7 359.6h0M487.0 358.9h0M489.6 361.0h0"/>
<path stroke="#a09560" d="M493.1 355.4h0M492.7 361.7h0M493.1 356.1h0M491.2 361.7h0"/>
<path stroke="#d4b639" d="M493.5 354.0h0M490.7 353.3h0M483.0 358.9h0M488.2 361.0h0M493.2 360.3h0"/>
<path stroke="#4862e4" d="M502.3 358.2h0"/>
<path stroke="#6c77a0" d="M495.2 361.7h0M497.3 358.2h0M496.1 356.1h0M497.7 358.9h0M494.8 361.0h0M495.1 354.7h0"/>
<path stroke="#747b92" d="M495.0 356.8h0M493.7 355.4h0M495.5 358.2h0M494.9 354.0h0M495.8 354.7h0M494.9 355.4h0"/>
<path stroke="#bba54b" d="M488.8 360.3h0M485.6 357.5h0M488.3 356.1h0M491.1 356.1h0M491.3 358.2h0M485.8 359.6h0M483.6 356.8h0M485.2 357.5h0M491.5 362.4h0M488.6 359.6h0"/>
<path stroke="#a99a59" d="M487.3 358.2h0M490.1 358.9h0M489.4 356.8h0M492.1 360.3h0M494.1 356.1h0M491.0 354.7h0M490.4 353.3h0M488.6 361.7h0"/>
<path stroke="#4e68d7" d="M498.7 356.1h0M495.1 356.8h0M501.1 356.8h0"/>
<path stroke="#7c7e85" d="M493.5 354.0h0M493.3 357.5h0M494.9 358.2h0M494.5 363.1h0"/>
<path stroke="#e4be32" d="M487.8 358.9h0M486.1 359.6h0M486.4 357.5h0M490.3 356.1h0M486.9 358.2h0M486.7 357.5h0M483.9 357.5h0M486.9 359.6h0"/>
<path stroke="#979067" d="M494.4 362.4h0M489.1 356.1h0M490.8 361.7h0M490.1 354.7h0M495.9 357.5h0M494.2 361.0h0M490.8 358.2h0M493.5 359.6h0M492.4 357.5h0"/>
<path stroke="#ccb13d" d="M482.9 358.9h0M495.3 359.6h0M490.4 360.3h0M489.4 361.7h0M484.2 356.8h0M490.6 361.0h0M491.7 356.1h0M490.8 356.8h0M490.2 359.6h0M493.9 359.6h0"/>
<path stroke="#4057f4" d="M495.5 360.3h0"/>
<path stroke="#dcba35" d="M484.2 357.5h0M489.4 359.6h0M482.9 357.5h0M492.7 354.0h0M489.1 353.3h0"/>
<path stroke="#546dca" d="M498.4 357.5h0M498.9 358.9h0M501.8 358.9h0M497.6 356.8h0"/>
<path stroke="#858379" d="M496.1 358.2h0M494.5 354.7h0"/>
<path stroke="#435df0" d="M502.9 357.5h0"/>
<path stroke="#6474ae" d="M495.8 359.6h0M502.6 356.8h0M495.2 361.0h0M496.9 356.8h0M495.0 359.6h0M498.8 360.3h0"/>
<path stroke="#8e8970" d="M493.2 354.7h0M492.8 361.0h0M494.4 358.9h0M493.4 358.2h0"/>
<path stroke="#c3ab44" d="M485.4 356.8h0M482.1 358.2h0M485.5 358.2h0M488.5 357.5h0M488.1 354.7h0M492.6 360.3h0M484.9 356.8h0M487.1 359.6h0M491.7 354.0h0M489.8 358.9h0"/>
<path stroke="#4e68d7" d="M499.6 356.8h0M499.4 359.6h0M494.0 360.3h0M495.7 355.4h0M498.7 359.6h0"/>
<path stroke="#dcba35" d="M482.7 358.2h0M489.9 354.7h0M485.2 358.9h0M489.5 360.3h0M488.7 358.9h0"/>
<path stroke="#a99a59" d="M490.4 362.4h0M489.4 358.9h0M488.8 361.0h0M488.5 356.8h0M484.7 358.2h0M494.7 357.5h0M490.2 361.7h0"/>
<path stroke="#a09560" d="M494.2 354.7h0M487.9 359.6h0M493.8 356.1h0M490.5 358.2h0M484.6 357.5h0M491.5 361.7h0"/>
<path stroke="#e4be32" d="M487.7 357.5h0M490.6 352.6h0M489.6 359.6h0M489.5 361.0h0M486.6 356.1h0"/>
<path stroke="#6c77a0" d="M495.6 356.1h0M496.9 356.1h0M499.4 356.8h0M497.1 357.5h0"/>
<path stroke="#5c70bc" d="M494.5 353.3h0M499.3 358.2h0M497.3 356.8h0"/>
<path stroke="#d4b639" d="M492.1 358.9h0M492.5 356.1h0M484.5 358.2h0M485.8 356.1h0M484.1 358.9h0"/>
<path stroke="#4057f4" d="M508.5 358.2h0"/>
<path stroke="#858379" d="M493.4 361.7h0M494.7 356.1h0M494.9 361.7h0"/>
<path stroke="#979067" d="M489.5 362.4h0M494.2 355.4h0M492.8 358.9h0M496.8 361.0h0"/>
<path stroke="#747b92" d="M494.3 361.7h0M498.4 358.9h0"/>
<path stroke="#6474ae" d="M497.9 358.2h0M496.3 355.4h0M497.3 358.9h0M498.6 358.2h0"/>
<path stroke="#7c7e85" d="M497.0 358.9h0M493.8 361.7h0M493.9 358.9h0M495.5 356.1h0"/>
<path stroke="#4862e4" d="M500.8 358.2h0M500.1 358.9h0M504.6 358.2h0M510.0 358.2h0M510.5 358.2h0M502.8 358.9h0"/>
<path stroke="#435df0" d="M501.1 358.9h0M500.9 356.8h0M509.7 358.2h0M501.2 357.5h0"/>
<path stroke="#b29f52" d="M491.9 355.4h0M491.7 353.3h0M492.7 356.1h0M483.4 357.5h0M490.2 352.6h0M490.6 355.4h0M492.3 356.8h0M491.6 354.7h0M493.3 358.9h0"/>
<path stroke="#bba54b" d="M490.8 354.0h0M492.8 357.5h0M492.6 355.4h0M493.2 363.1h0"/>
<path stroke="#546dca" d="M500.8 359.6h0M495.5 361.0h0M500.7 358.9h0M500.1 358.2h0M496.6 360.3h0M496.1 358.9h0M500.0 358.9h0M502.2 359.6h0M498.9 356.8h0"/>
<path stroke="#ccb13d" d="M489.5 357.5h0M493.1 352.6h0M493.6 357.5h0M489.7 354.0h0M486.2 358.9h0M491.1 359.6h0M486.1 358.2h0M488.3 357.5h0M490.5 363.1h0M483.9 358.9h0"/>
<path stroke="#3d50f7" d="M505.4 358.2h0"/>
<path stroke="#4e68d7" d="M481.5 378.4h0M481.9 379.1h0M487.7 378.4h0M496.9 377.6h0M488.0 379.8h0"/>
<path stroke="#ccb13d" d="M497.0 376.2h0M494.9 379.1h0M505.8 378.4h0M493.1 381.3h0M491.9 382.8h0M489.9 380.6h0M490.8 377.6h0M497.2 379.1h0M494.6 376.2h0M498.4 380.6h0"/>
<path stroke="#d4b639" d="M491.9 382.0h0M507.0 379.8h0M489.3 380.6h0M499.9 380.6h0M505.6 378.4h0M495.1 376.9h0M506.5 379.1h0M495.7 379.1h0"/>
<path stroke="#dcba35" d="M493.1 380.6h0M489.4 382.0h0"/>
<path stroke="#b29f52" d="M499.2 378.4h0M502.3 378.4h0M498.5 378.4h0"/>
<path stroke="#c3ab44" d="M504.6 379.8h0M491.2 381.3h0M506.9 379.1h0M503.0 377.6h0M488.3 379.1h0M500.6 378.4h0M495.0 376.2h0"/>
<path stroke="#546dca" d="M483.2 379.1h0M487.3 377.6h0"/>
<path stroke="#4862e4" d="M489.6 377.6h0M483.6 378.4h0M491.8 375.4h0M489.8 376.9h0M483.2 378.4h0"/>
<path stroke="#a09560" d="M502.6 378.4h0M499.3 377.6h0"/>
<path stroke="#a99a59" d="M502.3 376.9h0M500.5 378.4h0M498.7 379.8h0"/>
<path stroke="#979067" d="M498.9 378.4h0M503.4 378.4h0M491.0 381.3h0M498.2 376.9h0M500.0 377.6h0M500.1 376.9h0"/>
<path stroke="#6c77a0" d="M498.0 379.1h0M494.5 381.3h0"/>
<path stroke="#435df0" d="M492.6 376.9h0M491.3 379.8h0"/>
<path stroke="#8e8970" d="M493.4 382.8h0"/>
<path stroke="#3a4afa" d="M496.1 376.2h0M491.5 382.0h0M494.7 377.6h0M495.4 381.3h0M497.8 376.2h0M490.4 377.6h0M498.1 378.4h0M495.4 377.6h0M486.1 378.4h0M490.8 376.2h0M494.9 374.7h0M491.4 379.1h0M482.8 377.6h0M483.5 379.8h0M491.1 378.4h0M493.2 379.1h0M484.2 379.8h0"/>
<path stroke="#4057f4" d="M496.1 378.4h0M491.8 379.1h0M496.2 375.4h0M493.4 376.2h0M494.6 383.5h0M490.5 378.4h0M498.1 376.9h0M493.7 376.9h0M489.1 376.2h0M493.7 383.5h0M483.0 378.4h0M495.0 379.8h0"/>
<path stroke="#bba54b" d="M508.9 379.1h0M498.8 377.6h0M505.9 379.8h0M504.3 378.4h0M504.2 379.1h0"/>
<path stroke="#e4be32" d="M488.5 377.6h0M506.4 378.4h0M505.3 379.8h0"/>
<path stroke="#3d50f7" d="M488.7 379.8h0M489.5 379.1h0M491.0 380.6h0M497.5 380.6h0M495.5 382.0h0M486.2 379.1h0M492.7 379.8h0M482.9 379.8h0M488.5 376.9h0M477.6 379.1h0M486.9 379.1h0M491.1 380.6h0M486.8 379.8h0"/>
<path stroke="#546dca" d="M494.8 381.3h0"/>
<path stroke="#e4be32" d="M493.2 375.4h0M497.6 381.3h0"/>
<path stroke="#435df0" d="M492.5 376.2h0M490.1 378.4h0M493.6 376.9h0M494.3 374.7h0"/>
<path stroke="#a99a59" d="M498.3 379.8h0M502.3 381.3h0M504.3 377.6h0M503.4 379.1h0M507.6 378.4h0M503.4 379.8h0M498.8 380.6h0M500.1 376.9h0"/>
<path stroke="#d4b639" d="M489.2 378.4h0M497.3 377.6h0M493.8 375.4h0M496.8 380.6h0M493.2 377.6h0M506.8 378.4h0M493.9 381.3h0"/>
<path stroke="#8e8970" d="M489.8 379.8h0M496.3 378.4h0"/>
<path stroke="#4057f4" d="M495.4 380.6h0M483.0 379.1h0M489.6 381.3h0M492.8 382.0h0M490.6 375.4h0M484.9 379.1h0M492.6 378.4h0M496.9 378.4h0M494.0 379.1h0M494.2 376.9h0M491.5 376.9h0"/>
<path stroke="#979067" d="M490.1 376.9h0"/>
<path stroke="#7c7e85" d="M490.9 376.9h0M502.2 379.1h0"/>
<path stroke="#858379" d="M494.1 380.6h0M493.4 378.4h0M492.5 377.6h0"/>
<path stroke="#3a4afa" d="M488.8 378.4h0M485.8 379.8h0M496.9 376.9h0M493.6 382.0h0M495.5 379.8h0M482.1 379.8h0M496.4 382.0h0M495.6 380.6h0M496.4 380.6h0M482.2 379.1h0M489.7 379.1h0M489.1 377.6h0M485.5 378.4h0M493.8 382.8h0M490.2 381.3h0M487.9 377.6h0M491.4 377.6h0M495.4 379.1h0M484.2 377.6h0M493.7 378.4h0"/>
<path stroke="#3d50f7" d="M492.8 375.4h0M491.6 380.6h0M492.4 376.9h0M488.7 380.6h0M490.5 379.1h0M490.9 382.0h0M492.1 381.3h0M493.4 381.3h0M495.8 376.2h0M488.8 379.1h0M495.7 377.6h0M497.5 378.4h0M496.7 381.3h0M494.3 377.6h0M493.5 379.8h0M491.8 377.6h0M492.6 379.1h0"/>
<path stroke="#c3ab44" d="M497.8 377.6h0M493.7 382.0h0M492.4 375.4h0"/>
<path stroke="#ccb13d" d="M508.4 379.1h0M508.2 378.4h0M489.4 376.9h0M501.7 377.6h0M491.3 376.2h0"/>
<path stroke="#4862e4" d="M483.8 377.6h0M496.2 376.9h0"/>
<path stroke="#b29f52" d="M501.0 379.1h0M502.1 380.6h0M499.9 379.1h0M498.7 379.1h0M499.7 379.8h0"/>
<path stroke="#dcba35" d="M494.0 373.9h0M488.4 379.8h0M494.0 374.7h0M494.8 380.6h0M501.9 378.4h0"/>
<path stroke="#4e68d7" d="M484.0 379.8h0M485.4 379.8h0"/>
<path stroke="#a09560" d="M498.2 377.6h0M502.9 379.8h0M500.5 379.1h0M504.0 379.8h0"/>
<path stroke="#bba54b" d="M500.2 379.8h0M490.2 380.6h0M499.5 379.1h0M502.0 379.8h0"/>
<path stroke="#dcba35" d="M496.1 379.8h0M494.3 379.1h0M516.1 379.1h0M489.4 379.8h0"/>
<path stroke="#e4be32" d="M496.4 379.8h0M495.7 376.9h0M505.6 379.1h0M497.9 382.0h0M494.8 382.0h0"/>
<path stroke="#546dca" d="M482.1 377.6h0"/>
<path stroke="#b29f52" d="M503.8 378.4h0M499.2 379.8h0M506.0 377.6h0M503.9 379.1h0"/>
<path stroke="#a99a59" d="M500.3 377.6h0"/>
<path stroke="#858379" d="M494.1 376.2h0M496.9 379.1h0M495.8 381.3h0M497.7 379.8h0"/>
<path stroke="#d4b639" d="M494.9 375.4h0M510.1 379.1h0M506.0 380.6h0M511.4 379.1h0M507.7 379.1h0M493.8 384.2h0M494.1 379.8h0"/>
<path stroke="#4862e4" d="M484.5 379.1h0M496.9 379.8h0M497.2 379.8h0"/>
<path stroke="#bba54b" d="M501.5 378.4h0M499.6 378.4h0M504.1 379.8h0M508.4 379.8h0M509.4 379.1h0"/>
<path stroke="#a09560" d="M502.6 379.8h0M502.1 377.6h0M501.1 379.8h0"/>
<path stroke="#435df0" d="M490.5 379.8h0M485.0 378.4h0M493.8 377.6h0M487.4 379.1h0M495.2 378.4h0M486.5 378.4h0M492.2 379.8h0M491.1 379.1h0"/>
<path stroke="#7c7e85" d="M492.4 379.1h0M494.1 382.8h0"/>
<path stroke="#3a4afa" d="M495.2 376.2h0M485.7 379.1h0M489.9 376.2h0M493.5 380.6h0M492.6 382.0h0M492.4 380.6h0M486.8 377.6h0M487.6 379.8h0M482.3 378.4h0M481.1 379.1h0M494.7 382.8h0"/>
<path stroke="#8e8970" d="M501.6 379.1h0M503.4 377.6h0M503.1 379.1h0"/>
<path stroke="#3d50f7" d="M489.3 377.6h0M494.1 379.8h0M496.6 382.0h0M497.9 380.6h0M489.8 381.3h0M471.1 379.1h0M494.3 378.4h0M492.7 382.8h0M490.6 378.4h0M491.9 376.9h0M492.4 378.4h0M490.8 379.8h0M475.1 379.1h0M493.0 376.2h0M485.8 377.6h0M495.1 378.4h0M487.9 379.1h0M484.6 378.4h0M485.3 379.1h0M492.1 378.4h0M495.4 376.9h0"/>
<path stroke="#747b92" d="M492.1 376.2h0"/>
<path stroke="#ccb13d" d="M496.0 382.0h0M493.7 380.6h0M488.4 378.4h0M504.9 379.1h0M492.0 379.8h0M500.5 380.6h0M494.2 382.0h0M506.8 377.6h0M498.1 379.1h0M491.7 381.3h0"/>
<path stroke="#c3ab44" d="M496.6 379.1h0M507.2 379.1h0M504.6 378.4h0M502.1 379.1h0M505.2 379.1h0"/>
<path stroke="#4057f4" d="M496.2 377.6h0M481.8 378.4h0M494.8 383.5h0M488.2 380.6h0M494.4 375.4h0M493.0 377.6h0M483.7 379.1h0M486.7 378.4h0"/>
<path stroke="#4e68d7" d="M487.2 378.4h0M496.4 381.3h0"/>
<path stroke="#979067" d="M490.0 399.3h0"/>
<path stroke="#747b92" d="M504.6 400.0h0M500.7 400.0h0M499.4 400.0h0"/>
<path stroke="#6474ae" d="M497.3 402.1h0M498.5 399.3h0M492.9 402.8h0M494.9 401.4h0"/>
<path stroke="#7c7e85" d="M502.6 399.3h0"/>
<path stroke="#4e68d7" d="M491.2 398.6h0M493.4 397.2h0M494.8 402.1h0M497.8 400.7h0M497.5 397.9h0M494.9 397.2h0"/>
<path stroke="#e4be32" d="M502.2 400.0h0"/>
<path stroke="#a99a59" d="M492.9 400.7h0"/>
<path stroke="#c3ab44" d="M506.3 400.0h0"/>
<path stroke="#dcba35" d="M500.6 398.6h0M488.6 400.0h0M502.8 400.0h0"/>
<path stroke="#3d50f7" d="M500.8 400.7h0M488.1 400.0h0"/>
<path stroke="#3a4afa" d="M491.3 400.0h0M496.5 402.8h0M503.2 400.0h0M494.4 400.0h0M498.2 398.6h0M492.7 402.1h0M496.0 399.3h0M492.5 401.4h0M495.6 400.0h0M495.5 400.7h0M496.4 401.4h0M494.9 405.6h0M496.0 398.6h0M495.8 401.4h0M493.7 400.0h0M492.9 400.0h0"/>
<path stroke="#858379" d="M490.7 397.9h0"/>
<path stroke="#ccb13d" d="M500.1 400.7h0M487.8 400.0h0"/>
<path stroke="#4057f4" d="M493.8 402.1h0M492.4 400.0h0M503.3 399.3h0M492.5 398.6h0M495.5 400.0h0M494.9 404.2h0"/>
<path stroke="#546dca" d="M498.8 402.1h0M494.9 400.7h0M497.3 400.7h0M495.1 401.4h0"/>
<path stroke="#d4b639" d="M503.7 400.0h0M489.6 399.3h0M500.7 399.3h0M486.9 399.3h0"/>
<path stroke="#4862e4" d="M496.3 402.1h0M495.7 397.2h0M493.8 400.7h0M496.8 397.9h0M492.8 397.2h0"/>
<path stroke="#5c70bc" d="M497.5 402.8h0M493.1 399.3h0M491.8 400.7h0M493.7 398.6h0"/>
<path stroke="#6c77a0" d="M492.4 400.7h0M490.9 401.4h0M491.4 397.9h0"/>
<path stroke="#8e8970" d="M489.8 400.7h0M494.4 402.1h0"/>
<path stroke="#435df0" d="M497.3 401.4h0M490.7 400.7h0M496.5 404.9h0M492.7 397.9h0M490.8 398.6h0M497.6 399.3h0"/>
<path stroke="#3d50f7" d="M497.7 400.0h0M495.6 396.5h0M490.7 399.3h0M498.9 397.9h0M499.2 401.4h0M491.7 400.0h0M498.4 401.4h0"/>
<path stroke="#3a4afa" d="M498.2 397.9h0M496.5 396.5h0M495.2 403.5h0M493.8 401.4h0M498.8 400.0h0M492.5 404.2h0M492.6 403.5h0M495.8 400.7h0M497.3 399.3h0M496.1 395.8h0M493.1 397.9h0M495.0 399.3h0M495.2 396.5h0M495.5 402.8h0M497.4 398.6h0M496.1 395.1h0M492.2 399.3h0M491.9 399.3h0M492.8 399.3h0M492.2 401.4h0M493.9 399.3h0M496.6 401.4h0"/>
<path stroke="#546dca" d="M495.3 404.2h0M496.7 403.5h0M496.5 396.5h0M491.9 398.6h0"/>
<path stroke="#747b92" d="M488.2 400.7h0M494.9 403.5h0M499.3 400.7h0M496.3 403.5h0M497.8 402.1h0"/>
<path stroke="#5c70bc" d="M492.8 395.8h0M498.9 397.2h0M495.2 395.8h0M497.8 401.4h0M493.1 398.6h0M494.4 397.9h0"/>
<path stroke="#6474ae" d="M492.3 402.1h0"/>
<path stroke="#d4b639" d="M501.5 400.0h0M500.0 399.3h0M490.3 400.0h0M489.3 399.3h0"/>
<path stroke="#4862e4" d="M498.6 402.8h0M491.8 397.9h0M498.2 397.2h0"/>
<path stroke="#dcba35" d="M516.8 400.0h0M503.6 399.3h0"/>
<path stroke="#bba54b" d="M500.3 400.0h0"/>
<path stroke="#4057f4" d="M498.8 399.3h0M492.3 397.9h0M496.8 400.7h0M499.5 400.0h0M496.4 404.2h0M492.7 396.5h0M496.2 402.8h0M494.8 402.8h0"/>
<path stroke="#4e68d7" d="M498.5 400.7h0M499.2 397.9h0M497.0 402.1h0M499.3 398.6h0"/>
<path stroke="#6c77a0" d="M496.4 399.3h0M495.3 397.9h0"/>
<path stroke="#7c7e85" d="M502.3 399.3h0M504.3 400.7h0"/>
<path stroke="#c3ab44" d="M504.3 400.0h0"/>
<path stroke="#435df0" d="M495.5 402.1h0M491.2 401.4h0M491.9 401.4h0M495.0 394.4h0M495.1 397.2h0"/>
<path stroke="#747b92" d="M496.5 399.3h0"/>
<path stroke="#3d50f7" d="M495.1 402.8h0M497.2 397.2h0M494.7 398.6h0M498.2 400.0h0M496.9 397.2h0M498.5 402.1h0M495.7 398.6h0M490.7 402.1h0M493.8 397.2h0M499.1 399.3h0"/>
<path stroke="#5c70bc" d="M490.7 400.0h0M496.1 400.7h0"/>
<path stroke="#e4be32" d="M501.4 400.7h0M501.3 400.0h0"/>
<path stroke="#dcba35" d="M487.8 399.3h0M487.0 400.0h0M501.3 399.3h0M486.1 400.0h0M483.5 400.0h0M504.6 399.3h0M505.2 400.0h0"/>
<path stroke="#4e68d7" d="M497.6 398.6h0M495.6 397.9h0"/>
<path stroke="#858379" d="M497.8 397.9h0M503.0 400.7h0"/>
<path stroke="#435df0" d="M506.6 400.0h0M498.4 402.8h0M494.1 398.6h0M493.8 397.9h0M494.5 399.3h0M493.0 401.4h0"/>
<path stroke="#7c7e85" d="M495.2 398.6h0"/>
<path stroke="#6c77a0" d="M488.4 399.3h0M493.1 400.7h0M494.7 404.9h0"/>
<path stroke="#546dca" d="M499.0 398.6h0"/>
<path stroke="#3a4afa" d="M493.2 400.0h0M496.1 394.4h0M494.4 399.3h0M496.6 398.6h0M494.1 401.4h0M499.0 401.4h0M494.8 400.0h0M491.1 399.3h0M490.6 397.2h0M491.2 400.7h0M496.6 400.0h0M493.7 402.8h0M494.8 395.8h0M495.9 402.1h0M493.7 396.5h0M497.1 400.0h0M495.1 395.1h0M496.1 397.2h0M496.5 400.0h0M494.0 400.7h0M494.0 403.5h0M495.0 397.9h0M497.9 397.2h0M492.3 398.6h0M494.6 395.1h0M496.3 397.9h0M494.6 396.5h0"/>
<path stroke="#ccb13d" d="M504.5 399.3h0"/>
<path stroke="#4057f4" d="M499.0 400.7h0M487.0 400.0h0"/>
<path stroke="#d4b639" d="M489.0 400.7h0M488.8 399.3h0M487.1 399.3h0M489.3 400.0h0M487.9 400.7h0M500.3 398.6h0"/>
<path stroke="#4862e4" d="M493.2 402.1h0"/>
<path stroke="#c3ab44" d="M503.9 400.7h0M489.8 400.0h0"/>
<path stroke="#6474ae" d="M491.8 402.1h0"/>
<path stroke="#3d50f7" d="M493.9 420.8h0M498.1 421.5h0M500.3 420.8h0M485.4 420.8h0M493.8 419.4h0M499.0 420.1h0M505.7 420.8h0M499.9 420.8h0M500.7 421.5h0M498.6 420.1h0M479.1 420.8h0"/>
<path stroke="#4057f4" d="M496.9 421.5h0M502.2 421.5h0M501.5 420.8h0"/>
<path stroke="#d4b639" d="M489.0 420.1h0M495.5 419.4h0M495.8 425.0h0M497.9 423.6h0M493.9 420.1h0M494.2 418.7h0M491.2 419.4h0M497.4 420.1h0M497.5 417.3h0M494.8 418.7h0M494.2 423.6h0M496.6 419.4h0"/>
<path stroke="#ccb13d" d="M495.3 420.8h0M490.6 421.5h0M493.9 422.2h0M496.4 422.2h0M491.7 420.1h0M497.1 418.0h0M495.4 417.3h0M493.7 420.8h0M494.6 418.0h0M491.5 420.1h0M495.7 419.4h0M498.0 418.0h0"/>
<path stroke="#c3ab44" d="M492.3 420.8h0M497.0 415.2h0M488.6 420.8h0"/>
<path stroke="#435df0" d="M494.8 422.9h0"/>
<path stroke="#3a4afa" d="M496.7 422.9h0M496.4 420.8h0M499.0 422.2h0M494.8 420.8h0M494.7 420.1h0"/>
<path stroke="#e4be32" d="M491.3 421.5h0M489.9 420.1h0M490.6 420.1h0M487.9 420.8h0"/>
<path stroke="#6474ae" d="M498.0 422.9h0"/>
<path stroke="#bba54b" d="M489.2 420.8h0M489.7 420.1h0M492.8 421.5h0M493.0 420.8h0"/>
<path stroke="#6c77a0" d="M497.0 420.1h0"/>
<path stroke="#b29f52" d="M492.1 420.8h0M489.7 421.5h0"/>
<path stroke="#7c7e85" d="M498.5 423.6h0"/>
<path stroke="#dcba35" d="M493.9 422.9h0M490.2 420.8h0M496.9 415.9h0M495.4 416.6h0"/>
<path stroke="#858379" d="M494.3 423.6h0"/>
<path stroke="#8e8970" d="M495.0 420.1h0"/>
<path stroke="#a99a59" d="M493.0 419.4h0"/>
<path stroke="#6c77a0" d="M498.2 421.5h0"/>
<path stroke="#858379" d="M496.2 423.6h0M493.9 421.5h0M495.6 418.0h0M495.8 420.1h0"/>
<path stroke="#c3ab44" d="M489.9 421.5h0M487.1 421.5h0M493.1 422.2h0M495.9 417.3h0M488.6 420.1h0M493.3 419.4h0"/>
<path stroke="#4057f4" d="M497.3 418.7h0M498.6 420.8h0M498.9 419.4h0M499.5 420.1h0M497.0 420.8h0M497.6 422.2h0"/>
<path stroke="#bba54b" d="M492.5 421.5h0M491.6 419.4h0M488.2 421.5h0"/>
<path stroke="#3d50f7" d="M496.5 425.7h0M499.0 420.8h0M497.2 419.4h0"/>
<path stroke="#7c7e85" d="M494.5 421.5h0"/>
<path stroke="#ccb13d" d="M498.6 418.7h0M495.7 418.7h0M489.2 419.4h0M495.4 423.6h0M495.8 423.6h0M498.2 422.9h0"/>
<path stroke="#d4b639" d="M491.6 420.8h0M495.6 422.2h0"/>
<path stroke="#3a4afa" d="M495.7 420.8h0M498.7 417.3h0M497.1 422.2h0M498.7 418.0h0M499.6 418.7h0M493.5 420.1h0M500.8 421.5h0"/>
<path stroke="#e4be32" d="M490.1 420.8h0M497.9 418.7h0M486.8 419.4h0M491.0 421.5h0M489.4 420.8h0M496.6 416.6h0M492.8 420.1h0"/>
<path stroke="#b29f52" d="M491.1 420.1h0"/>
<path stroke="#4862e4" d="M500.6 420.1h0M500.9 420.1h0M499.8 420.1h0"/>
<path stroke="#dcba35" d="M494.4 422.2h0M496.5 415.9h0M493.3 421.5h0M496.2 418.7h0M494.3 417.3h0M495.1 419.4h0M498.7 422.2h0M491.0 420.8h0M494.5 419.4h0M496.9 424.3h0"/>
<path stroke="#435df0" d="M502.2 420.8h0M496.3 415.2h0M501.8 420.1h0"/>
<path stroke="#ccb13d" d="M496.2 418.7h0M496.4 420.1h0M494.5 420.8h0M497.5 421.5h0"/>
<path stroke="#435df0" d="M496.3 424.3h0"/>
<path stroke="#bba54b" d="M496.6 426.4h0M487.5 421.5h0M487.4 420.8h0M486.7 420.8h0M488.1 421.5h0"/>
<path stroke="#858379" d="M496.4 425.0h0M498.2 420.1h0M495.2 424.3h0M497.0 418.7h0"/>
<path stroke="#3d50f7" d="M494.9 418.0h0M497.3 423.6h0M494.9 422.2h0M497.1 419.4h0M497.9 419.4h0M484.1 420.8h0M496.2 422.9h0M496.8 417.3h0M495.7 421.5h0"/>
<path stroke="#5c70bc" d="M501.1 420.8h0"/>
<path stroke="#7c7e85" d="M494.7 423.6h0"/>
<path stroke="#a09560" d="M488.2 420.1h0M497.5 418.0h0"/>
<path stroke="#4057f4" d="M496.7 418.0h0M496.5 414.5h0M495.7 422.9h0M499.6 421.5h0"/>
<path stroke="#3a4afa" d="M496.9 425.0h0M495.8 421.5h0M497.4 420.8h0M495.5 422.9h0"/>
<path stroke="#6c77a0" d="M499.5 419.4h0M495.7 420.1h0"/>
<path stroke="#c3ab44" d="M493.9 418.0h0M495.9 422.2h0M498.9 421.5h0M497.3 422.9h0M497.1 416.6h0"/>
<path stroke="#dcba35" d="M496.8 425.7h0M487.6 420.1h0M494.7 422.9h0M491.9 421.5h0M495.8 418.0h0M498.0 420.8h0M487.1 420.1h0M486.6 420.1h0M498.6 419.4h0M461.2 420.8h0"/>
<path stroke="#d4b639" d="M496.6 417.3h0M492.0 419.4h0M499.7 420.8h0M494.3 418.7h0M496.5 421.5h0M496.9 423.6h0M487.1 420.8h0M496.7 427.1h0M497.9 422.2h0M499.4 422.2h0M495.9 424.3h0M495.9 416.6h0M494.8 421.5h0"/>
<path stroke="#e4be32" d="M492.4 420.1h0"/>
<path stroke="#979067" d="M495.4 443.8h0"/>
<path stroke="#4057f4" d="M491.8 439.6h0M491.8 441.7h0M495.6 439.6h0M495.1 437.5h0M498.8 441.0h0M496.4 439.6h0"/>
<path stroke="#435df0" d="M491.8 440.3h0M496.3 436.8h0M494.3 441.0h0M496.5 438.9h0"/>
<path stroke="#e4be32" d="M497.0 440.3h0M492.7 442.4h0M498.9 441.7h0M495.1 443.1h0"/>
<path stroke="#7c7e85" d="M494.3 436.8h0"/>
<path stroke="#dcba35" d="M492.5 438.9h0M491.1 441.0h0M494.2 436.1h0M495.3 444.5h0M487.1 441.0h0M492.1 442.4h0M488.6 440.3h0"/>
<path stroke="#858379" d="M495.0 438.9h0M496.6 439.6h0"/>
<path stroke="#b29f52" d="M488.4 441.7h0M488.7 442.4h0"/>
<path stroke="#3d50f7" d="M498.2 438.9h0M493.5 444.5h0M494.7 439.6h0M490.0 441.0h0M496.9 441.7h0M496.0 443.1h0M493.1 445.9h0M500.2 441.7h0M493.5 445.2h0M498.4 439.6h0"/>
<path stroke="#6474ae" d="M493.5 442.4h0"/>
<path stroke="#d4b639" d="M495.1 439.6h0M494.5 438.2h0M493.3 445.2h0M494.1 438.2h0M495.8 438.2h0M496.0 436.8h0M492.7 443.1h0M494.7 437.5h0M495.9 440.3h0M492.0 439.6h0"/>
<path stroke="#c3ab44" d="M490.5 441.0h0M497.9 439.6h0M491.2 438.9h0M498.5 440.3h0M494.0 443.1h0M494.7 445.9h0"/>
<path stroke="#8e8970" d="M495.0 441.7h0M495.4 441.0h0M496.2 445.2h0M497.5 438.9h0"/>
<path stroke="#ccb13d" d="M495.0 445.2h0M491.2 443.8h0M492.4 440.3h0M499.7 441.7h0M490.1 441.7h0M498.3 443.8h0M490.2 439.6h0M497.7 442.4h0M494.1 445.2h0M494.6 445.2h0M496.0 443.1h0M497.0 443.1h0"/>
<path stroke="#3a4afa" d="M499.1 439.6h0M498.1 443.1h0M495.6 444.5h0M496.5 437.5h0M497.2 441.7h0M499.7 442.4h0"/>
<path stroke="#6c77a0" d="M499.5 441.7h0"/>
<path stroke="#979067" d="M495.4 445.9h0"/>
<path stroke="#bba54b" d="M488.4 441.0h0"/>
<path stroke="#858379" d="M496.7 440.3h0M490.5 441.7h0M493.4 439.6h0M497.2 443.1h0"/>
<path stroke="#b29f52" d="M489.5 441.0h0M489.2 441.7h0"/>
<path stroke="#d4b639" d="M493.9 437.5h0M497.7 443.8h0M493.4 438.9h0M494.1 443.1h0M498.4 442.4h0M486.5 441.0h0M491.2 440.3h0M491.8 443.8h0M491.9 443.1h0M489.5 441.7h0M494.7 441.0h0"/>
<path stroke="#6474ae" d="M491.8 442.4h0"/>
<path stroke="#3d50f7" d="M492.4 443.8h0M498.8 443.1h0M494.0 446.6h0M496.4 444.5h0M491.9 441.0h0M492.3 444.5h0M494.7 443.1h0M497.5 441.7h0M493.1 444.5h0"/>
<path stroke="#4862e4" d="M501.1 441.7h0M494.8 436.8h0"/>
<path stroke="#dcba35" d="M500.0 440.3h0M493.4 443.1h0M495.8 443.8h0M490.8 443.1h0M492.4 441.7h0M494.4 439.6h0M494.2 437.5h0M492.5 443.8h0M495.2 436.8h0M489.7 442.4h0M489.8 440.3h0M489.8 441.0h0M494.9 440.3h0"/>
<path stroke="#435df0" d="M496.6 442.4h0M495.6 438.9h0M497.7 444.5h0M495.8 445.2h0"/>
<path stroke="#7c7e85" d="M496.8 444.5h0M498.0 440.3h0"/>
<path stroke="#3a4afa" d="M495.8 445.9h0M496.7 445.2h0M496.2 446.6h0M491.2 443.1h0"/>
<path stroke="#c3ab44" d="M493.1 443.8h0"/>
<path stroke="#4057f4" d="M495.4 438.2h0M496.3 440.3h0M493.6 438.2h0M497.1 438.9h0M495.3 446.6h0M494.9 444.5h0M496.4 438.2h0M497.2 439.6h0M494.0 439.6h0M499.5 441.0h0M496.4 441.0h0"/>
<path stroke="#ccb13d" d="M496.0 442.4h0M493.5 440.3h0M496.6 438.2h0M494.9 442.4h0M493.7 441.0h0M492.9 440.3h0M485.4 441.7h0M496.1 437.5h0"/>
<path stroke="#e4be32" d="M488.9 441.7h0"/>
<path stroke="#6474ae" d="M491.1 442.4h0"/>
<path stroke="#c3ab44" d="M486.6 441.0h0M492.8 441.0h0M487.1 441.7h0M489.2 442.4h0"/>
<path stroke="#ccb13d" d="M497.2 442.4h0M491.7 438.9h0M492.0 445.2h0M487.5 441.7h0M493.6 438.9h0M491.9 444.5h0M497.8 441.0h0M491.2 441.7h0M486.6 441.7h0M495.7 437.5h0M487.8 441.0h0M489.7 443.1h0M494.2 441.7h0"/>
<path stroke="#e4be32" d="M488.8 441.0h0M496.1 441.7h0"/>
<path stroke="#8e8970" d="M494.5 442.4h0"/>
<path stroke="#4057f4" d="M496.5 438.9h0M499.1 442.4h0M497.5 441.0h0M492.1 443.1h0M494.3 440.3h0"/>
<path stroke="#dcba35" d="M492.4 438.2h0M494.3 438.9h0M491.1 439.6h0M496.2 443.8h0M493.4 441.0h0M493.2 437.5h0"/>
<path stroke="#747b92" d="M499.2 443.1h0M493.8 441.7h0"/>
<path stroke="#3d50f7" d="M495.7 441.7h0M493.0 441.7h0M493.2 438.2h0M496.7 441.0h0M494.2 443.8h0M496.4 445.9h0M490.8 440.3h0M495.5 438.9h0M498.6 440.3h0M492.3 438.9h0M499.4 441.0h0M494.2 445.9h0"/>
<path stroke="#bba54b" d="M490.1 442.4h0M487.9 442.4h0"/>
<path stroke="#d4b639" d="M492.5 439.6h0M493.3 440.3h0M493.3 442.4h0M494.0 444.5h0M491.8 438.2h0M486.4 441.7h0M490.1 443.1h0"/>
<path stroke="#7c7e85" d="M494.6 443.8h0M490.9 442.4h0"/>
<path stroke="#435df0" d="M498.0 443.1h0M495.5 441.0h0"/>
<path stroke="#858379" d="M498.1 441.7h0M492.1 441.0h0M499.4 440.3h0"/>
<path stroke="#3a4afa" d="M498.4 441.0h0M493.6 443.8h0M498.9 439.6h0M492.6 444.5h0M496.9 443.8h0M495.4 440.3h0M499.0 442.4h0M495.3 442.4h0M493.3 441.7h0M490.2 440.3h0M497.3 443.8h0"/>
<path stroke="#a09560" d="M496.4 442.4h0"/>
<path stroke="#6c77a0" d="M495.2 441.7h0"/>
<path stroke="#979067" d="M487.3 442.4h0"/>
<path stroke="#4057f4" d="M498.2 463.2h0M495.8 466.7h0M496.9 461.1h0M496.5 466.0h0M496.2 456.9h0M496.6 460.4h0M494.0 463.9h0M497.4 460.4h0"/>
<path stroke="#3a4afa" d="M494.5 464.6h0M498.0 462.5h0M494.2 463.2h0M493.8 465.3h0M495.7 459.7h0"/>
<path stroke="#5c70bc" d="M495.3 461.1h0M495.9 463.9h0"/>
<path stroke="#c3ab44" d="M498.9 461.8h0"/>
<path stroke="#d4b639" d="M497.5 462.5h0"/>
<path stroke="#ccb13d" d="M496.3 458.3h0M493.2 462.5h0M495.7 463.9h0M494.8 460.4h0"/>
<path stroke="#b29f52" d="M490.7 462.5h0"/>
<path stroke="#e4be32" d="M495.3 465.3h0"/>
<path stroke="#7c7e85" d="M494.1 461.1h0M494.0 460.4h0"/>
<path stroke="#bba54b" d="M500.2 462.5h0"/>
<path stroke="#6474ae" d="M495.4 459.0h0"/>
<path stroke="#dcba35" d="M492.4 462.5h0M497.0 459.0h0"/>
<path stroke="#a99a59" d="M490.3 463.2h0"/>
<path stroke="#3d50f7" d="M496.1 464.6h0M498.3 461.1h0M497.2 464.6h0M494.2 461.8h0M498.1 463.9h0M494.9 466.0h0M494.3 460.4h0M494.9 463.2h0"/>
<path stroke="#a09560" d="M496.6 465.3h0"/>
<path stroke="#435df0" d="M496.0 461.1h0M498.3 463.9h0M496.1 458.3h0"/>
<path stroke="#a09560" d="M491.1 462.5h0"/>
<path stroke="#3d50f7" d="M495.5 459.7h0M496.1 461.8h0M493.9 462.5h0M496.7 463.9h0M496.6 463.2h0M496.0 463.2h0"/>
<path stroke="#c3ab44" d="M496.0 456.2h0M496.0 465.3h0M495.3 462.5h0M493.7 459.7h0M494.7 465.3h0"/>
<path stroke="#435df0" d="M497.6 463.9h0"/>
<path stroke="#e4be32" d="M499.4 461.8h0M495.9 459.0h0"/>
<path stroke="#7c7e85" d="M496.0 462.5h0M496.5 457.6h0"/>
<path stroke="#d4b639" d="M488.1 462.5h0M490.2 461.8h0M494.5 463.9h0"/>
<path stroke="#3a4afa" d="M496.4 459.7h0M494.5 461.8h0M495.4 466.0h0M495.5 464.6h0"/>
<path stroke="#b29f52" d="M491.9 462.5h0M486.9 462.5h0"/>
<path stroke="#ccb13d" d="M497.5 461.1h0M496.8 458.3h0M498.4 461.8h0M496.0 457.6h0M498.6 462.5h0M496.7 463.9h0M487.7 462.5h0"/>
<path stroke="#dcba35" d="M499.5 462.5h0M496.2 461.1h0"/>
<path stroke="#bba54b" d="M488.5 462.5h0"/>
<path stroke="#4057f4" d="M495.4 463.2h0M494.7 463.2h0M494.4 461.1h0M497.4 463.2h0M494.8 458.3h0"/>
<path stroke="#6c77a0" d="M495.1 462.5h0"/>
<path stroke="#747b92" d="M498.2 460.4h0"/>
<path stroke="#435df0" d="M496.3 459.0h0M496.0 468.1h0"/>
<path stroke="#858379" d="M494.7 459.7h0M496.6 464.6h0"/>
<path stroke="#4e68d7" d="M497.8 461.8h0"/>
<path stroke="#747b92" d="M497.5 461.8h0"/>
<path stroke="#d4b639" d="M493.3 463.2h0M491.8 461.8h0M498.2 463.2h0M496.5 462.5h0M493.1 461.8h0"/>
<path stroke="#6474ae" d="M494.6 462.5h0"/>
<path stroke="#c3ab44" d="M493.7 462.5h0M493.3 461.8h0"/>
<path stroke="#3a4afa" d="M496.7 461.8h0M494.7 459.7h0M497.0 459.7h0"/>
<path stroke="#bba54b" d="M495.9 460.4h0M491.8 463.2h0M499.8 461.8h0M498.0 461.1h0"/>
<path stroke="#b29f52" d="M499.2 462.5h0"/>
<path stroke="#3d50f7" d="M495.2 461.8h0M497.0 465.3h0M494.8 461.1h0M495.0 463.9h0M497.9 460.4h0"/>
<path stroke="#a09560" d="M501.0 462.5h0"/>
<path stroke="#ccb13d" d="M496.9 460.4h0M495.8 466.0h0M496.4 461.8h0"/>
<path stroke="#dcba35" d="M496.7 466.7h0M497.0 462.5h0"/>
<path stroke="#e4be32" d="M499.7 463.2h0M493.9 464.6h0"/>
<path stroke="#7c7e85" d="M495.0 459.0h0M496.9 463.2h0"/>
<path stroke="#4057f4" d="M495.6 460.4h0M495.3 458.3h0M495.0 464.6h0M496.8 466.0h0M495.6 461.8h0M496.1 467.4h0"/>
</g>
<line x1="423.4" x2="639.6" y1="483.4" y2="483.4" stroke="#333333" stroke-width="0.9"/>
<line x1="436.6" x2="436.6" y1="483.4" y2="485.8" stroke="#333333" stroke-width="0.8"/>
<text x="436.6" y="493.50" font-size="7.60" text-anchor="middle" textLength="10.3" lengthAdjust="spacingAndGlyphs" fill="#333333" stroke="#333333" stroke-width="0.08">−4</text>
<line x1="466.0" x2="466.0" y1="483.4" y2="485.8" stroke="#333333" stroke-width="0.8"/>
<text x="466.0" y="493.50" font-size="7.60" text-anchor="middle" textLength="10.3" lengthAdjust="spacingAndGlyphs" fill="#333333" stroke="#333333" stroke-width="0.08">−2</text>
<line x1="495.4" x2="495.4" y1="483.4" y2="485.8" stroke="#333333" stroke-width="0.8"/>
<text x="495.4" y="493.50" font-size="7.60" text-anchor="middle" textLength="4.5" lengthAdjust="spacingAndGlyphs" fill="#333333" stroke="#333333" stroke-width="0.08">0</text>
<line x1="524.8" x2="524.8" y1="483.4" y2="485.8" stroke="#333333" stroke-width="0.8"/>
<text x="524.8" y="493.50" font-size="7.60" text-anchor="middle" textLength="4.5" lengthAdjust="spacingAndGlyphs" fill="#333333" stroke="#333333" stroke-width="0.08">2</text>
<line x1="554.2" x2="554.2" y1="483.4" y2="485.8" stroke="#333333" stroke-width="0.8"/>
<text x="554.2" y="493.50" font-size="7.60" text-anchor="middle" textLength="4.5" lengthAdjust="spacingAndGlyphs" fill="#333333" stroke="#333333" stroke-width="0.08">4</text>
<line x1="583.6" x2="583.6" y1="483.4" y2="485.8" stroke="#333333" stroke-width="0.8"/>
<text x="583.6" y="493.50" font-size="7.60" text-anchor="middle" textLength="4.5" lengthAdjust="spacingAndGlyphs" fill="#333333" stroke="#333333" stroke-width="0.08">6</text>
<line x1="613.0" x2="613.0" y1="483.4" y2="485.8" stroke="#333333" stroke-width="0.8"/>
<text x="613.0" y="493.50" font-size="7.60" text-anchor="middle" textLength="4.5" lengthAdjust="spacingAndGlyphs" fill="#333333" stroke="#333333" stroke-width="0.08">8</text>
<text x="408.1" y="28.06" font-size="8.40" text-anchor="end" textLength="45.3" lengthAdjust="spacingAndGlyphs" fill="#333333" stroke="#333333" stroke-width="0.30">d2H_Lipids</text>
<text x="408.1" y="48.92" font-size="8.40" text-anchor="end" textLength="29.4" lengthAdjust="spacingAndGlyphs" fill="#333333" stroke="#333333" stroke-width="0.30">137.Ba</text>
<text x="408.1" y="69.78" font-size="8.40" text-anchor="end" textLength="21.8" lengthAdjust="spacingAndGlyphs" fill="#333333" stroke="#333333" stroke-width="0.30">60.Ni</text>
<text x="408.1" y="90.64" font-size="8.40" text-anchor="end" textLength="21.3" lengthAdjust="spacingAndGlyphs" fill="#333333" stroke="#333333" stroke-width="0.30">27.Al</text>
<text x="408.1" y="111.50" font-size="8.40" text-anchor="end" textLength="24.2" lengthAdjust="spacingAndGlyphs" fill="#333333" stroke="#333333" stroke-width="0.30">59.Co</text>
<text x="408.1" y="132.37" font-size="8.40" text-anchor="end" textLength="49.0" lengthAdjust="spacingAndGlyphs" fill="#333333" stroke="#333333" stroke-width="0.30">d34S_orgex</text>
<text x="408.1" y="153.23" font-size="8.40" text-anchor="end" textLength="50.2" lengthAdjust="spacingAndGlyphs" fill="#333333" stroke="#333333" stroke-width="0.30">d18O_orgex</text>
<text x="408.1" y="174.09" font-size="8.40" text-anchor="end" textLength="23.7" lengthAdjust="spacingAndGlyphs" fill="#333333" stroke="#333333" stroke-width="0.30">78.Se</text>
<text x="408.1" y="194.95" font-size="8.40" text-anchor="end" textLength="25.6" lengthAdjust="spacingAndGlyphs" fill="#333333" stroke="#333333" stroke-width="0.30">95.Mo</text>
<text x="408.1" y="215.81" font-size="8.40" text-anchor="end" textLength="28.7" lengthAdjust="spacingAndGlyphs" fill="#333333" stroke="#333333" stroke-width="0.30">133.Cs</text>
<text x="408.1" y="236.67" font-size="8.40" text-anchor="end" textLength="49.5" lengthAdjust="spacingAndGlyphs" fill="#333333" stroke="#333333" stroke-width="0.30">d13C_orgex</text>
<text x="408.1" y="257.53" font-size="8.40" text-anchor="end" textLength="20.9" lengthAdjust="spacingAndGlyphs" fill="#333333" stroke="#333333" stroke-width="0.30">28.Si</text>
<text x="408.1" y="278.39" font-size="8.40" text-anchor="end" textLength="50.9" lengthAdjust="spacingAndGlyphs" fill="#333333" stroke="#333333" stroke-width="0.30">d18O_Lipids</text>
<text x="408.1" y="299.25" font-size="8.40" text-anchor="end" textLength="18.4" lengthAdjust="spacingAndGlyphs" fill="#333333" stroke="#333333" stroke-width="0.30">89.Y</text>
<text x="408.1" y="320.11" font-size="8.40" text-anchor="end" textLength="29.7" lengthAdjust="spacingAndGlyphs" fill="#333333" stroke="#333333" stroke-width="0.30">111.Cd</text>
<text x="408.1" y="340.97" font-size="8.40" text-anchor="end" textLength="44.6" lengthAdjust="spacingAndGlyphs" fill="#333333" stroke="#333333" stroke-width="0.30">d2H_orgex</text>
<text x="408.1" y="361.83" font-size="8.40" text-anchor="end" textLength="24.4" lengthAdjust="spacingAndGlyphs" fill="#333333" stroke="#333333" stroke-width="0.30">63.Cu</text>
<text x="408.1" y="382.70" font-size="8.40" text-anchor="end" textLength="50.1" lengthAdjust="spacingAndGlyphs" fill="#333333" stroke="#333333" stroke-width="0.30">d13C_Lipids</text>
<text x="408.1" y="403.56" font-size="8.40" text-anchor="end" textLength="49.9" lengthAdjust="spacingAndGlyphs" fill="#333333" stroke="#333333" stroke-width="0.30">d15N_orgex</text>
<text x="408.1" y="424.42" font-size="8.40" text-anchor="end" textLength="22.0" lengthAdjust="spacingAndGlyphs" fill="#333333" stroke="#333333" stroke-width="0.30">88.Sr</text>
<text x="408.1" y="445.28" font-size="8.40" text-anchor="end" textLength="24.4" lengthAdjust="spacingAndGlyphs" fill="#333333" stroke="#333333" stroke-width="0.30">85.Rb</text>
<text x="408.1" y="466.14" font-size="8.40" text-anchor="end" textLength="25.7" lengthAdjust="spacingAndGlyphs" fill="#333333" stroke="#333333" stroke-width="0.30">55.Mn</text>
<text x="531.5" y="504.20" font-size="8.50" text-anchor="middle" textLength="158.2" lengthAdjust="spacingAndGlyphs" fill="#000000" stroke="#000000" stroke-width="0.12">SHAP value (impact on model output)</text>
<defs><linearGradient id="g653" x1="0" y1="1" x2="0" y2="0"><stop offset="0.00" stop-color="#3a4afa"/><stop offset="0.12" stop-color="#425cf2"/><stop offset="0.25" stop-color="#526ccd"/><stop offset="0.38" stop-color="#6976a5"/><stop offset="0.50" stop-color="#80807e"/><stop offset="0.62" stop-color="#9b9264"/><stop offset="0.75" stop-color="#b4a050"/><stop offset="0.88" stop-color="#cdb23c"/><stop offset="1.00" stop-color="#e4be32"/></linearGradient></defs>
<rect x="653.2" y="4.0" width="6" height="479.4" fill="url(#g653)"/>
<text x="661.8" y="6.80" font-size="7.80" text-anchor="start" textLength="16.1" lengthAdjust="spacingAndGlyphs" fill="#000000" stroke="#000000" stroke-width="0.12">High</text>
<text x="661.8" y="486.40" font-size="7.80" text-anchor="start" textLength="13.5" lengthAdjust="spacingAndGlyphs" fill="#000000" stroke="#000000" stroke-width="0.12">Low</text>
<text x="0.0" y="0.00" font-size="8.30" text-anchor="middle" textLength="52.3" lengthAdjust="spacingAndGlyphs" fill="#000000" stroke="#000000" stroke-width="0.12" transform="translate(684.1 243.8) rotate(-90)">Feature value</text>
</svg>
</body></html>
